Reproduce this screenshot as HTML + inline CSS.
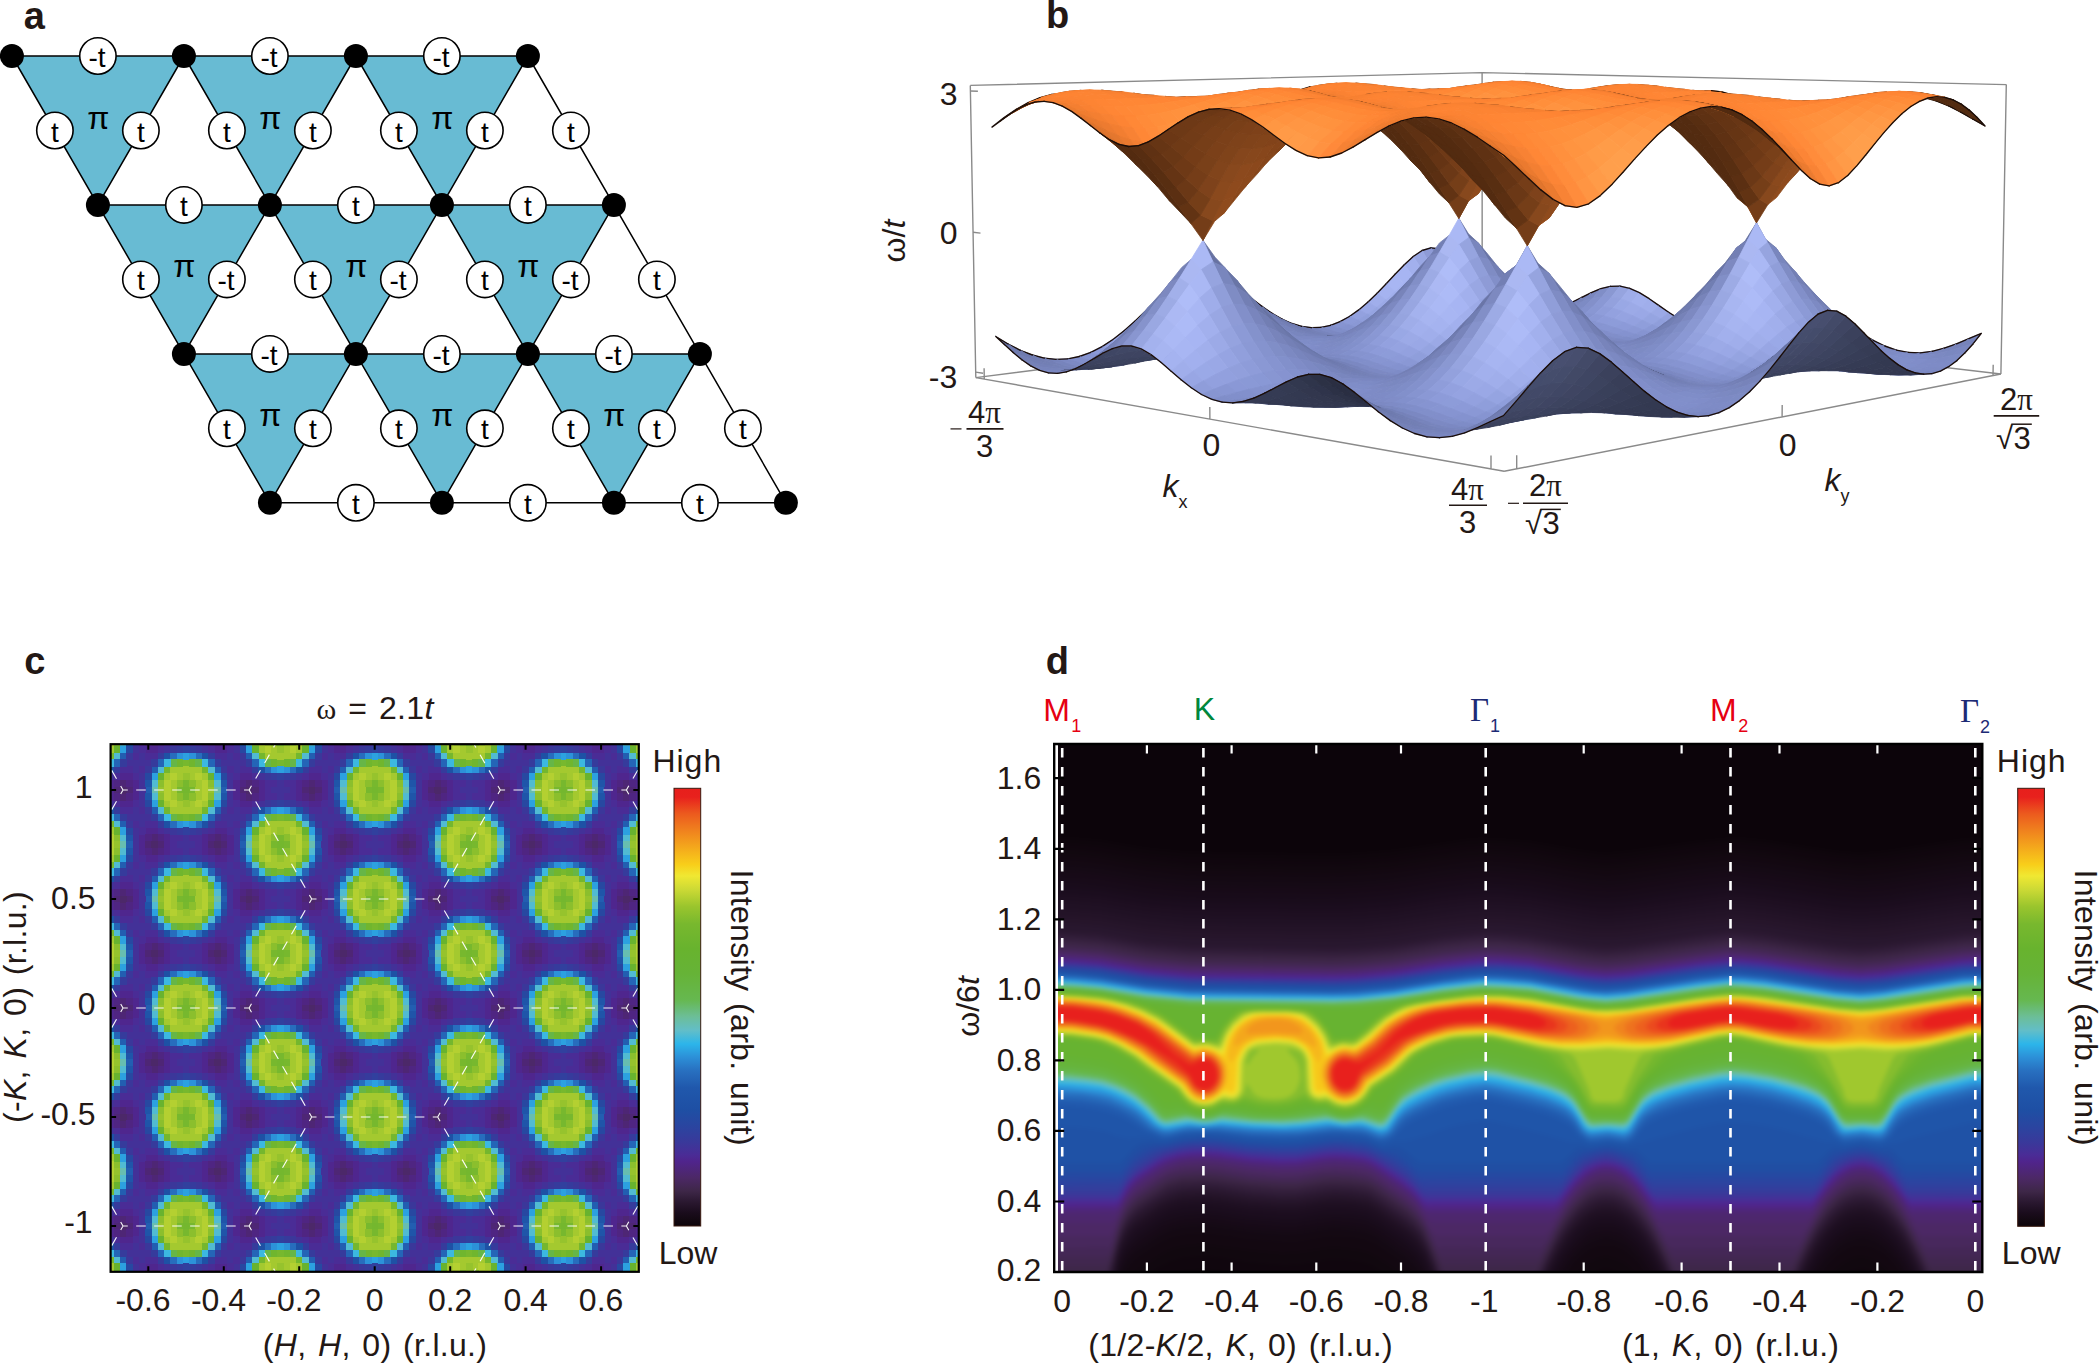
<!DOCTYPE html><html><head><meta charset="utf-8"><title>figure</title><style>html,body{margin:0;padding:0;background:#fff}svg{display:block}text{font-family:"Liberation Sans",sans-serif}</style></head><body>
<svg width="2100" height="1364" viewBox="0 0 2100 1364">
<rect width="2100" height="1364" fill="#fff"/>
<g id="pa">
<path d="M11.9,56 L183.9,56 L97.9,204.9ZM183.9,56 L355.9,56 L269.9,204.9ZM355.9,56 L527.9,56 L441.9,204.9ZM97.9,204.9 L269.9,204.9 L183.9,353.9ZM269.9,204.9 L441.9,204.9 L355.9,353.9ZM441.9,204.9 L613.9,204.9 L527.9,353.9ZM183.9,353.9 L355.9,353.9 L269.9,502.8ZM355.9,353.9 L527.9,353.9 L441.9,502.8ZM527.9,353.9 L699.9,353.9 L613.9,502.8Z" fill="#68bbd3"/>
<path d="M11.9,56 L527.9,56M97.9,204.9 L613.9,204.9M183.9,353.9 L699.9,353.9M269.9,502.8 L785.9,502.8M11.9,56 L269.9,502.8M183.9,56 L441.9,502.8M355.9,56 L613.9,502.8M527.9,56 L785.9,502.8M183.9,56 L97.9,204.9M355.9,56 L183.9,353.9M527.9,56 L269.9,502.8M613.9,204.9 L441.9,502.8M699.9,353.9 L613.9,502.8" stroke="#000" stroke-width="1.5" fill="none"/>
<circle cx="11.9" cy="56" r="12"/>
<circle cx="183.9" cy="56" r="12"/>
<circle cx="355.9" cy="56" r="12"/>
<circle cx="527.9" cy="56" r="12"/>
<circle cx="97.9" cy="204.9" r="12"/>
<circle cx="269.9" cy="204.9" r="12"/>
<circle cx="441.9" cy="204.9" r="12"/>
<circle cx="613.9" cy="204.9" r="12"/>
<circle cx="183.9" cy="353.9" r="12"/>
<circle cx="355.9" cy="353.9" r="12"/>
<circle cx="527.9" cy="353.9" r="12"/>
<circle cx="699.9" cy="353.9" r="12"/>
<circle cx="269.9" cy="502.8" r="12"/>
<circle cx="441.9" cy="502.8" r="12"/>
<circle cx="613.9" cy="502.8" r="12"/>
<circle cx="785.9" cy="502.8" r="12"/>
<g fill="#fff" stroke="#000" stroke-width="1.6">
<circle cx="97.9" cy="56" r="18.2"/>
<circle cx="269.9" cy="56" r="18.2"/>
<circle cx="441.9" cy="56" r="18.2"/>
<circle cx="183.9" cy="204.9" r="18.2"/>
<circle cx="355.9" cy="204.9" r="18.2"/>
<circle cx="527.9" cy="204.9" r="18.2"/>
<circle cx="269.9" cy="353.9" r="18.2"/>
<circle cx="441.9" cy="353.9" r="18.2"/>
<circle cx="613.9" cy="353.9" r="18.2"/>
<circle cx="355.9" cy="502.8" r="18.2"/>
<circle cx="527.9" cy="502.8" r="18.2"/>
<circle cx="699.9" cy="502.8" r="18.2"/>
<circle cx="54.9" cy="130.5" r="18.2"/>
<circle cx="226.9" cy="130.5" r="18.2"/>
<circle cx="398.9" cy="130.5" r="18.2"/>
<circle cx="570.9" cy="130.5" r="18.2"/>
<circle cx="140.9" cy="130.5" r="18.2"/>
<circle cx="312.9" cy="130.5" r="18.2"/>
<circle cx="484.9" cy="130.5" r="18.2"/>
<circle cx="140.9" cy="279.4" r="18.2"/>
<circle cx="312.9" cy="279.4" r="18.2"/>
<circle cx="484.9" cy="279.4" r="18.2"/>
<circle cx="656.9" cy="279.4" r="18.2"/>
<circle cx="226.9" cy="279.4" r="18.2"/>
<circle cx="398.9" cy="279.4" r="18.2"/>
<circle cx="570.9" cy="279.4" r="18.2"/>
<circle cx="226.9" cy="428.3" r="18.2"/>
<circle cx="398.9" cy="428.3" r="18.2"/>
<circle cx="570.9" cy="428.3" r="18.2"/>
<circle cx="742.9" cy="428.3" r="18.2"/>
<circle cx="312.9" cy="428.3" r="18.2"/>
<circle cx="484.9" cy="428.3" r="18.2"/>
<circle cx="656.9" cy="428.3" r="18.2"/>
</g>
<g font-size="28" text-anchor="middle" fill="#000">
<text x="97.1" y="67">-t</text>
<text x="269.1" y="67">-t</text>
<text x="441.1" y="67">-t</text>
<text x="183.9" y="215.9">t</text>
<text x="355.9" y="215.9">t</text>
<text x="527.9" y="215.9">t</text>
<text x="269.1" y="364.9">-t</text>
<text x="441.1" y="364.9">-t</text>
<text x="613.1" y="364.9">-t</text>
<text x="355.9" y="513.8">t</text>
<text x="527.9" y="513.8">t</text>
<text x="699.9" y="513.8">t</text>
<text x="54.9" y="141.5">t</text>
<text x="226.9" y="141.5">t</text>
<text x="398.9" y="141.5">t</text>
<text x="570.9" y="141.5">t</text>
<text x="140.9" y="141.5">t</text>
<text x="312.9" y="141.5">t</text>
<text x="484.9" y="141.5">t</text>
<text x="140.9" y="290.4">t</text>
<text x="312.9" y="290.4">t</text>
<text x="484.9" y="290.4">t</text>
<text x="656.9" y="290.4">t</text>
<text x="226.1" y="290.4">-t</text>
<text x="398.1" y="290.4">-t</text>
<text x="570.1" y="290.4">-t</text>
<text x="226.9" y="439.3">t</text>
<text x="398.9" y="439.3">t</text>
<text x="570.9" y="439.3">t</text>
<text x="742.9" y="439.3">t</text>
<text x="312.9" y="439.3">t</text>
<text x="484.9" y="439.3">t</text>
<text x="656.9" y="439.3">t</text>
</g>
<g font-family="'Liberation Serif',serif" font-size="32" text-anchor="middle" fill="#000">
<text x="98.4" y="128.5">π</text>
<text x="270.4" y="128.5">π</text>
<text x="442.4" y="128.5">π</text>
<text x="184.4" y="277.4">π</text>
<text x="356.4" y="277.4">π</text>
<text x="528.4" y="277.4">π</text>
<text x="270.4" y="426.4">π</text>
<text x="442.4" y="426.4">π</text>
<text x="614.4" y="426.4">π</text>
</g>
</g>
<g id="pb">
<path d="M975.8,377.6L1482.2,313.3M2000.9,374L1482.2,313.3M1482.1,72.6L1482.2,313.3M970.3,85.4L1482.1,72.6M1482.1,72.6L2006.3,84.6M970.3,85.4L975.8,377.6M2006.3,84.6L2000.9,374" stroke="#8a8a8a" stroke-width="1.4" fill="none"/>
<g fill="currentColor" stroke="currentColor" stroke-width="0.8" stroke-linejoin="round">
<path color="#828fc9" d="M1430.8,247.7l8.9,15.7 8.8,0.3-8.9-15.1z"/>
<path d="M1430.9,247.8L1439.6,248.8" stroke="#1a0d08" stroke-width="1.35" fill="none" stroke-linecap="round"/>
<path color="#8e9bd6" d="M1421.9,250.4l9,15.2 8.9-2.3-8.9-15.7z"/>
<path d="M1422.1,250.5L1430.9,247.8" stroke="#1a0d08" stroke-width="1.35" fill="none" stroke-linecap="round"/>
<path color="#99a7e3" d="M1413.1,256.4l8.9,13.7 9-4.6-8.9-15.2z"/>
<path d="M1413.2,256.5L1422.1,250.5" stroke="#1a0d08" stroke-width="1.35" fill="none" stroke-linecap="round"/>
<path color="#a2b0ed" d="M1404.1,264.6l8.9,11.9 9.1-6.5-8.9-13.7z"/>
<path d="M1404.3,264.7L1413.2,256.5" stroke="#1a0d08" stroke-width="1.35" fill="none" stroke-linecap="round"/>
<path color="#a7b5f3" d="M1395.1,274l9,10 9.1-7.6-8.9-11.9z"/>
<path d="M1395.3,274L1404.3,264.7" stroke="#1a0d08" stroke-width="1.35" fill="none" stroke-linecap="round"/>
<path color="#a8b6f3" d="M1386.1,283.8l8.9,8.3 9.2-8.2-8.9-10z"/>
<path d="M1386.2,283.8L1395.3,274" stroke="#1a0d08" stroke-width="1.35" fill="none" stroke-linecap="round"/>
<path color="#a5b3f0" d="M1377,293.3l8.9,6.8 9.3-8.2-9-8.3z"/>
<path d="M1377.1,293.2L1386.2,283.8" stroke="#1a0d08" stroke-width="1.35" fill="none" stroke-linecap="round"/>
<path color="#a0aeeb" d="M1367.8,302.1l8.9,5.6 9.4-7.8-9-6.8z"/>
<path d="M1368,302.1L1377.1,293.2" stroke="#1a0d08" stroke-width="1.35" fill="none" stroke-linecap="round"/>
<path color="#9aa8e6" d="M1358.6,309.9l8.9,4.7 9.4-7-8.9-5.7z"/>
<path d="M1358.7,309.9L1368,302.1" stroke="#1a0d08" stroke-width="1.35" fill="none" stroke-linecap="round"/>
<path color="#93a1df" d="M1349.3,316.5l8.9,4 9.4-6.1-8.9-4.7z"/>
<path d="M1349.4,316.5L1358.7,309.9" stroke="#1a0d08" stroke-width="1.35" fill="none" stroke-linecap="round"/>
<path color="#8c9ad8" d="M1339.9,321.7l8.9,3.4 9.5-4.8-8.9-4z"/>
<path d="M1340,321.7L1349.4,316.5" stroke="#1a0d08" stroke-width="1.35" fill="none" stroke-linecap="round"/>
<path color="#8694d1" d="M1330.4,325.3l8.9,3.2 9.6-3.5-8.9-3.5z"/>
<path d="M1330.6,325.3L1340,321.7" stroke="#1a0d08" stroke-width="1.35" fill="none" stroke-linecap="round"/>
<path color="#818eca" d="M1320.9,327.3l8.8,3.1 9.7-2-8.8-3.2z"/>
<path d="M1321,327.4L1330.6,325.3" stroke="#1a0d08" stroke-width="1.35" fill="none" stroke-linecap="round"/>
<path color="#7c89c3" d="M1311.2,327.7l8.9,3.2 9.8-0.6-8.8-3.1z"/>
<path d="M1311.4,327.7L1321,327.4" stroke="#1a0d08" stroke-width="1.35" fill="none" stroke-linecap="round"/>
<path color="#7683bb" d="M1301.5,326.4l8.9,3.5 9.9,0.9-8.8-3.2z"/>
<path d="M1301.7,326.4L1311.4,327.7" stroke="#1a0d08" stroke-width="1.35" fill="none" stroke-linecap="round"/>
<path color="#717db3" d="M1291.7,323.4l8.8,4.1 10.1,2.3-8.8-3.5z"/>
<path d="M1291.9,323.5L1301.7,326.4" stroke="#1a0d08" stroke-width="1.35" fill="none" stroke-linecap="round"/>
<path color="#6e7aae" d="M1281.8,319l8.8,4.9 10.1,3.6-8.7-4z"/>
<path d="M1282,319.1L1291.9,323.5" stroke="#1a0d08" stroke-width="1.35" fill="none" stroke-linecap="round"/>
<path color="#6c77aa" d="M1271.9,313.2l8.7,5.9 10.3,4.8-8.8-4.8z"/>
<path d="M1272,313.3L1282,319.1" stroke="#1a0d08" stroke-width="1.35" fill="none" stroke-linecap="round"/>
<path color="#6a76a8" d="M1261.8,306.2l8.8,7.3 10.3,5.6-8.8-5.8z"/>
<path d="M1261.9,306.3L1272,313.3" stroke="#1a0d08" stroke-width="1.35" fill="none" stroke-linecap="round"/>
<path color="#6a76a7" d="M1251.6,298.5l8.8,8.8 10.4,6.2-8.7-7.2z"/>
<path d="M1251.7,298.6L1261.9,306.3M1135.4,320.7L1146.3,310.2" stroke="#1a0d08" stroke-width="1.35" fill="none" stroke-linecap="round"/>
<path color="#a0aeeb" d="M1124.2,330.5l8.9,6.3 11.2-8.6-8.9-7.7z"/>
<path d="M1124.4,330.5L1135.4,320.7" stroke="#1a0d08" stroke-width="1.35" fill="none" stroke-linecap="round"/>
<path color="#9aa8e6" d="M1113.1,339.2l8.9,5.3 11.2-7.9-8.8-6.3z"/>
<path d="M1113.3,339.2L1124.4,330.5" stroke="#1a0d08" stroke-width="1.35" fill="none" stroke-linecap="round"/>
<path color="#93a1df" d="M1101.9,346.6l8.8,4.4 11.4-6.7-8.8-5.3z"/>
<path d="M1102.1,346.6L1113.3,339.2" stroke="#1a0d08" stroke-width="1.35" fill="none" stroke-linecap="round"/>
<path color="#8c9ad8" d="M1090.6,352.4l8.8,3.9 11.5-5.4-8.8-4.5z"/>
<path d="M1090.8,352.4L1102.1,346.6" stroke="#1a0d08" stroke-width="1.35" fill="none" stroke-linecap="round"/>
<path color="#8694d1" d="M1079.2,356.5l8.7,3.6 11.7-4-8.8-3.9z"/>
<path d="M1079.4,356.5L1090.8,352.4" stroke="#1a0d08" stroke-width="1.35" fill="none" stroke-linecap="round"/>
<path color="#818eca" d="M1067.7,358.9l8.7,3.5 11.7-2.4-8.7-3.6z"/>
<path d="M1067.8,358.9L1079.4,356.5" stroke="#1a0d08" stroke-width="1.35" fill="none" stroke-linecap="round"/>
<path color="#7c89c3" d="M1056,359.4l8.7,3.6 11.9-0.8-8.7-3.4z"/>
<path d="M1056.1,359.4L1067.8,358.9" stroke="#1a0d08" stroke-width="1.35" fill="none" stroke-linecap="round"/>
<path color="#7683bb" d="M1044.2,358.1l8.6,4 12.1,0.8-8.6-3.6z"/>
<path d="M1044.3,358.1L1056.1,359.4" stroke="#1a0d08" stroke-width="1.35" fill="none" stroke-linecap="round"/>
<path color="#717db3" d="M1032.3,355l8.6,4.6 12.2,2.4-8.6-3.9z"/>
<path d="M1032.4,355L1044.3,358.1" stroke="#1a0d08" stroke-width="1.35" fill="none" stroke-linecap="round"/>
<path color="#6e7aae" d="M1020.2,350.2l8.6,5.5 12.4,3.9-8.7-4.6z"/>
<path d="M1020.3,350.3L1032.4,355" stroke="#1a0d08" stroke-width="1.35" fill="none" stroke-linecap="round"/>
<path color="#6c77aa" d="M1008,344l8.6,6.6 12.5,5.1-8.6-5.4z"/>
<path d="M1008.1,344L1020.3,350.3" stroke="#1a0d08" stroke-width="1.35" fill="none" stroke-linecap="round"/>
<path color="#6a76a8" d="M995.7,336.4l8.6,8.1 12.6,6.1-8.6-6.5z"/>
<path d="M995.8,336.5L1004.4,344.5M995.8,336.5L1008.1,344" stroke="#1a0d08" stroke-width="1.35" fill="none" stroke-linecap="round"/>
<path color="#a1afec" d="M1403.9,283.9l9,10 9.1-6.1-8.9-11.6z"/>
<path color="#a2b0ee" d="M1394.9,291.9l8.9,8.4 9.2-6.6-8.9-10z"/>
<path color="#a0aeeb" d="M1385.8,300l8.9,6.9 9.3-6.7-9-8.4z"/>
<path color="#9ba9e6" d="M1376.6,307.6l8.9,5.6 9.4-6.5-9-6.9z"/>
<path color="#95a4e1" d="M1367.3,314.5l9,4.5 9.4-5.9-9-5.7z"/>
<path color="#8f9edb" d="M1358,320.3l9,3.8 9.4-5.2-8.9-4.6z"/>
<path color="#8a98d5" d="M1348.6,325l9,3.2 9.5-4.3-8.9-3.7z"/>
<path color="#8492cf" d="M1339.1,328.3l9,2.9 9.6-3.2-8.9-3.2z"/>
<path color="#808ec9" d="M1329.6,330.3l8.9,2.7 9.8-2-9-2.8z"/>
<path color="#7c89c3" d="M1320,330.7l8.9,2.9 9.8-0.7-8.9-2.8z"/>
<path color="#7784bc" d="M1310.3,329.8l8.9,3.2 9.9,0.5-8.9-2.9z"/>
<path color="#737fb5" d="M1300.5,327.4l8.8,3.9 10.1,1.6-8.9-3.2z"/>
<path color="#717db2" d="M1290.6,323.7l8.8,4.8 10.2,2.7-8.9-3.8z"/>
<path color="#6f7bb0" d="M1280.6,319l8.9,5.9 10.2,3.6-8.8-4.8z"/>
<path color="#6f7baf" d="M1270.6,313.3l8.8,7.4 10.3,4.2-8.8-6z"/>
<path color="#6f7bb0" d="M1260.4,307.1l8.9,9 10.3,4.5-8.8-7.3z"/>
<path color="#8492cf" d="M1087.8,360l8.8,3.2 11.7-3.6-8.8-3.6z"/>
<path color="#808ec9" d="M1076.3,362.2l8.7,3.1 11.8-2.3-8.7-3.2z"/>
<path color="#7c89c3" d="M1064.6,362.9l8.7,3.2 12-0.9-8.8-3.1z"/>
<path color="#7784bc" d="M1052.8,361.9l8.7,3.7 12.1,0.4-8.7-3.2z"/>
<path color="#737fb5" d="M1040.9,359.5l8.7,4.3 12.2,1.7-8.7-3.6z"/>
<path color="#717db2" d="M1028.8,355.6l8.7,5.3 12.3,2.9-8.6-4.3z"/>
<path color="#6f7bb0" d="M1016.6,350.5l8.7,6.6 12.5,3.8-8.7-5.3z"/>
<path color="#6f7baf" d="M1004.3,344.4l8.7,8.2 12.6,4.5-8.7-6.6z"/>
<path d="M1004.4,344.5L1013.2,352.5" stroke="#1a0d08" stroke-width="1.35" fill="none" stroke-linecap="round"/>
<path color="#7e8cc7" d="M1338.4,332.8l9,1.9 9.7-1.8-9-2z"/>
<path color="#7b88c2" d="M1328.8,333.4l8.9,2.1 9.9-0.9-9-1.9z"/>
<path color="#7885bd" d="M1319.1,332.9l8.9,2.4 9.9,0.1-8.9-2.1z"/>
<path color="#7582b8" d="M1309.3,331.1l8.9,3.2 10,0.9-8.9-2.4z"/>
<path color="#727fb4" d="M1299.4,328.4l8.9,4.1 10.1,1.7-8.9-3.1z"/>
<path color="#727eb4" d="M1289.4,324.7l9,5.4 10.1,2.3-8.8-4.1z"/>
<path color="#737fb5" d="M1279.4,320.5l9,6.7 10.2,2.8-8.9-5.3z"/>
<path color="#7480b7" d="M1269.2,315.9l9,8.3 10.3,3-8.9-6.8z"/>
<path color="#7b88c2" d="M1073.3,366l8.8,2.3 11.9-1.1-8.8-2.1z"/>
<path color="#7885bd" d="M1061.5,365.5l8.7,2.8 12.1-0.1-8.7-2.3z"/>
<path color="#7582b8" d="M1049.5,363.7l8.8,3.6 12.2,0.9-8.7-2.8z"/>
<path color="#727fb4" d="M1037.5,360.8l8.8,4.6 12.3,1.8-8.8-3.5z"/>
<path color="#727eb4" d="M1025.3,356.9l8.8,6 12.4,2.5-8.7-4.6z"/>
<path color="#737fb5" d="M1013,352.4l8.8,7.5 12.5,3-8.7-6z"/>
<path d="M1013.2,352.5L1021.9,359.8" stroke="#1a0d08" stroke-width="1.35" fill="none" stroke-linecap="round"/>
<path color="#7884bd" d="M1327.9,335.2l9,1.2 10-0.4-9-0.8z"/>
<path color="#7683ba" d="M1318.1,334.1l9,2 10,0.2-8.9-1.2z"/>
<path color="#7581b8" d="M1308.3,332.3l9,3 10.1,0.7-9-1.9z"/>
<path color="#7480b7" d="M1298.3,329.9l9,4.2 10.2,1.1-9-3z"/>
<path color="#7582b8" d="M1288.3,327l9,5.6 10.2,1.4-9-4.2z"/>
<path color="#7784bc" d="M1278.1,324l9.1,7.1 10.3,1.4-9-5.6z"/>
<path color="#7987bf" d="M1267.9,321.1l9.1,8.6 10.4,1.3-9.1-7.1z"/>
<path color="#7884bd" d="M1070.2,368.2l8.8,1.4 12.1-0.6-8.8-0.8z"/>
<path color="#7683ba" d="M1058.3,367.2l8.8,2.2 12.2,0.1-8.8-1.4z"/>
<path color="#7581b8" d="M1046.2,365.3l8.8,3.3 12.4,0.7-8.8-2.2z"/>
<path color="#7480b7" d="M1034.1,362.8l8.8,4.7 12.4,1.1-8.8-3.3z"/>
<path color="#7582b8" d="M1021.8,359.8l8.8,6.2 12.6,1.4-8.9-4.7z"/>
<path d="M1021.9,359.8L1030.7,365.9" stroke="#1a0d08" stroke-width="1.35" fill="none" stroke-linecap="round"/>
<path color="#323850" d="M1327.1,336l8.9,0.3 10.1-0.5-9,0.5z"/>
<path color="#7683ba" d="M1317.2,335.1l9,1.4 10.1-0.3-8.9-0.2z"/>
<path color="#7784bb" d="M1307.2,333.9l9.1,2.7 10.2-0.2-9-1.3z"/>
<path color="#7784bc" d="M1297.2,332.4l9.1,4.1 10.2,0-9-2.7z"/>
<path color="#7986be" d="M1287.1,330.9l9.1,5.5 10.3,0-9.1-4.1z"/>
<path color="#7c89c3" d="M1276.9,329.5l9.1,6.9 10.4-0.1-9.1-5.5z"/>
<path color="#7885bd" d="M1102.5,367.9l8.9-1.1 11.9-1.7-8.9,0.9z"/>
<path color="#353a53" d="M1090.8,369.1l8.8-1 12.1-1.3-8.9,1.1z"/>
<path color="#343952" d="M1079,369.5l8.8-0.4 12.1-1-8.8,0.9z"/>
<path color="#7682ba" d="M1067.1,369.3l8.8,0.5 12.2-0.7-8.8,0.4z"/>
<path color="#7683ba" d="M1055,368.5l8.9,1.7 12.3-0.5-8.8-0.4z"/>
<path color="#7784bb" d="M1042.9,367.3l8.8,3.1 12.5-0.3-8.9-1.6z"/>
<path color="#7784bc" d="M1030.6,365.9l8.9,4.6 12.5-0.2-8.9-3z"/>
<path d="M1030.7,365.9L1039.6,370.3" stroke="#1a0d08" stroke-width="1.35" fill="none" stroke-linecap="round"/>
<path color="#7885bd" d="M1316.2,336.5l9.1,0.9 10.2-1.5-9,0.5z"/>
<path color="#7a87c0" d="M1306.2,336.4l9.2,2.3 10.2-1.5-9.1-0.9z"/>
<path color="#7c89c3" d="M1296.1,336.2l9.2,3.8 10.3-1.5-9.2-2.3z"/>
<path color="#7d8ac4" d="M1285.9,336.2l9.2,5.1 10.4-1.5-9.2-3.7z"/>
<path color="#7885be" d="M1145.9,360.7l8.9-1.5 11.6-1.5-9,0.3z"/>
<path color="#373d56" d="M1134.5,363.1l8.9-2.5 11.7-1.5-8.9,1.6z"/>
<path color="#383e58" d="M1123,365.1l8.9-3 11.8-1.5-8.9,2.5z"/>
<path color="#383e59" d="M1111.4,366.8l8.9-3.3 11.9-1.4-9,3.1z"/>
<path color="#383e58" d="M1099.6,368.1l8.9-3.1 12-1.4-8.9,3.3z"/>
<path color="#373d57" d="M1087.8,369.1l8.9-2.5 12.1-1.5-8.9,3.1z"/>
<path color="#363c56" d="M1075.9,369.8l8.9-1.6 12.2-1.6-8.9,2.5z"/>
<path color="#353a53" d="M1063.9,370.1l8.8-0.4 12.4-1.5-8.9,1.6z"/>
<path color="#7885bd" d="M1051.7,370.3l8.9,1.1 12.4-1.7-8.8,0.4z"/>
<path color="#7a87c0" d="M1039.5,370.3l8.9,2.7 12.5-1.7-8.9-1.1z"/>
<path d="M1039.6,370.3L1048.5,372.9" stroke="#1a0d08" stroke-width="1.35" fill="none" stroke-linecap="round"/>
<path color="#7784bb" d="M1325.3,337.3l9.1-1 10.2-2.8-9.1,2.5z"/>
<path color="#7a87c1" d="M1315.3,338.5l9.2,0.5 10.2-2.9-9.2,1z"/>
<path color="#7d8bc5" d="M1305.2,339.8l9.2,1.9 10.3-2.9-9.2-0.4z"/>
<path color="#7f8dc8" d="M1295,341.1l9.2,3.2 10.4-2.8-9.2-1.8z"/>
<path color="#808ec9" d="M1284.7,342.4l9.3,4.3 10.4-2.6-9.2-3.1z"/>
<path color="#383e58" d="M1154.8,359.2l9.1-3.8 11.5-0.2-9,2.6z"/>
<path color="#39405a" d="M1143.4,360.7l9-4.8 11.7-0.4-9,3.8z"/>
<path color="#3a415c" d="M1131.9,362.2l9-5.4 11.7-0.8-9,4.8z"/>
<path color="#3b415d" d="M1120.2,363.7l9-5.7 11.9-1.2-9,5.4z"/>
<path color="#3b425d" d="M1108.5,365.2l9-5.5 12-1.6-9,5.6z"/>
<path color="#3b415d" d="M1096.7,366.7l9-4.8 12-2.1-8.9,5.4z"/>
<path color="#3a405b" d="M1084.8,368.2l8.9-3.8 12.2-2.5-8.9,4.8z"/>
<path color="#383e59" d="M1072.7,369.8l9-2.6 12.3-2.8-8.9,3.8z"/>
<path color="#363c56" d="M1060.6,371.3l8.9-1 12.5-3.1-9,2.5z"/>
<path color="#7a87c1" d="M1048.4,372.9l8.9,0.5 12.5-3.2-8.9,1z"/>
<path d="M1048.5,372.9L1057.5,373.4" stroke="#1a0d08" stroke-width="1.35" fill="none" stroke-linecap="round"/>
<path color="#7885be" d="M1324.4,338.9l9.2-1.4 10.2-4.3-9.1,2.9z"/>
<path color="#7c8ac4" d="M1314.3,341.5l9.3,0.1 10.2-4.3-9.2,1.4z"/>
<path color="#7f8dc8" d="M1304.1,344.1l9.3,1.4 10.4-4.1-9.3,0z"/>
<path color="#818fca" d="M1293.9,346.6l9.3,2.4 10.4-3.7-9.3-1.3z"/>
<path color="#3d4360" d="M1140.8,356.9l9.1-7.7 11.8-0.1-9.1,7.1z"/>
<path color="#3e4461" d="M1129.2,358.2l9-8 11.9-0.9-9.1,7.7z"/>
<path color="#3e4461" d="M1117.5,359.9l9-7.8 11.9-1.8-9,8z"/>
<path color="#3e4461" d="M1105.6,362l9.1-7.1 12-2.7-9,7.8z"/>
<path color="#3d4360" d="M1093.7,364.5l9-6.1 12.2-3.5-9,7.2z"/>
<path color="#3c425e" d="M1081.7,367.3l8.9-4.7 12.3-4.1-8.9,6z"/>
<path color="#3a405c" d="M1069.5,370.3l9-3.1 12.4-4.6-8.9,4.7z"/>
<path color="#7885be" d="M1057.3,373.4l9-1.4 12.5-4.9-9,3.1z"/>
<path d="M1057.5,373.4L1066.4,371.9" stroke="#1a0d08" stroke-width="1.35" fill="none" stroke-linecap="round"/>
<path color="#7682b9" d="M1333.6,337.4l9.3-3 10.2-5.8-9.3,4.6z"/>
<path color="#7a87c0" d="M1323.5,341.5l9.3-1.6 10.3-5.7-9.3,3z"/>
<path color="#7e8bc5" d="M1313.3,345.3l9.4-0.2 10.3-5.3-9.3,1.5z"/>
<path color="#808dc9" d="M1303,348.8l9.4,0.8 10.4-4.7-9.3,0.3z"/>
<path color="#808eca" d="M1292.7,351.8l9.4,1.6 10.5-4-9.4-0.7z"/>
<path color="#404764" d="M1138.2,350.4l9.1-10.4 11.8-0.6-9.1,10.1z"/>
<path color="#404765" d="M1126.4,352.3l9.1-10.1 12-2.1-9.1,10.4z"/>
<path color="#404765" d="M1114.6,355.1l9.1-9.4 12-3.5-9.1,10.2z"/>
<path color="#3f4664" d="M1102.7,358.6l9-8.2 12.2-4.7-9.1,9.4z"/>
<path color="#3e4562" d="M1090.7,362.7l9-6.6 12.3-5.6-9.1,8.1z"/>
<path color="#3d4360" d="M1078.5,367.2l9.1-4.9 12.3-6.2-9,6.6z"/>
<path d="M1066.4,371.9L1075.5,368.6" stroke="#1a0d08" stroke-width="1.35" fill="none" stroke-linecap="round"/>
<path color="#737fb5" d="M1342.8,334.4l9.4-4.2 10.2-7.5-9.3,5.9z"/>
<path color="#7885bd" d="M1332.7,339.9l9.4-2.8 10.3-7.2-9.4,4.3z"/>
<path color="#7c89c2" d="M1322.5,345l9.5-1.5 10.3-6.6-9.4,2.8z"/>
<path color="#7e8bc6" d="M1312.3,349.5l9.4-0.5 10.4-5.7-9.4,1.5z"/>
<path color="#7f8cc7" d="M1302,353.3l9.4,0.2 10.5-4.7-9.4,0.5z"/>
<path color="#414866" d="M1111.7,350.6l9.1-10 12.1-6.1-9.1,11.5z"/>
<path color="#404765" d="M1099.7,356.2l9.1-8.3 12.2-7.3-9.1,10z"/>
<path color="#3e4562" d="M1087.6,362.4l9-6.4 12.4-8.1-9,8.3z"/>
<path d="M1075.5,368.6L1084.6,364" stroke="#1a0d08" stroke-width="1.35" fill="none" stroke-linecap="round"/>
<path color="#7783ba" d="M1564,308.3l9.5-3.3 8.5-7.7-9.6,4.6z"/>
<path d="M1572.5,302L1581.9,297.3" stroke="#1a0d08" stroke-width="1.35" fill="none" stroke-linecap="round"/>
<path color="#727eb3" d="M1352.1,330.1l9.5-4.9 10.1-9.1-9.4,6.6z"/>
<path color="#7783ba" d="M1342,337l9.5-3.5 10.2-8.6-9.4,5z"/>
<path color="#7a88c0" d="M1331.9,343.4l9.5-2.3 10.3-7.8-9.5,3.5z"/>
<path color="#7d8ac4" d="M1321.6,348.9l9.5-1.3 10.4-6.7-9.5,2.3z"/>
<path color="#7e8bc6" d="M1311.3,353.4l9.5-0.6 10.5-5.4-9.5,1.3z"/>
<path color="#7d8ac5" d="M1300.8,356.8l9.5-0.2 10.6-4-9.4,0.6z"/>
<path color="#727eb3" d="M1084.5,364.1l9.2-5.3 12.4-10.2-9.2,7.3z"/>
<path d="M1084.6,364L1093.8,358.7" stroke="#1a0d08" stroke-width="1.35" fill="none" stroke-linecap="round"/>
<path color="#7784bb" d="M1573.3,305l9.6-3.4 8.5-9-9.6,4.6z"/>
<path d="M1581.9,297.3L1591.3,292.7" stroke="#1a0d08" stroke-width="1.35" fill="none" stroke-linecap="round"/>
<path color="#7b88c1" d="M1564.9,311.8l9.5-2.4 8.6-8-9.6,3.3z"/>
<path color="#6d79ac" d="M1371.5,316.3l9.5-6.7 10.1-11-9.5,8.6z"/>
<path color="#727fb4" d="M1361.5,325.1l9.6-5 10.1-10.7-9.6,6.6z"/>
<path color="#7784bb" d="M1351.4,333.5l9.6-3.6 10.2-10-9.6,5z"/>
<path color="#7b88c1" d="M1341.2,341l9.6-2.4 10.3-8.9-9.5,3.5z"/>
<path color="#7d8bc4" d="M1331,347.5l9.6-1.6 10.4-7.5-9.6,2.4z"/>
<path color="#7e8bc6" d="M1320.7,352.7l9.5-1 10.5-6-9.5,1.6z"/>
<path color="#7d8ac4" d="M1310.2,356.5l9.6-0.6 10.6-4.3-9.6,0.9z"/>
<path color="#6d79ac" d="M1105.8,348.8l9.3-7.2 12.3-12.3-9.2,9.4z"/>
<path color="#727fb4" d="M1093.6,358.7l9.4-5.3 12.3-12-9.2,7.2z"/>
<path d="M1093.8,358.7L1103,353.2" stroke="#1a0d08" stroke-width="1.35" fill="none" stroke-linecap="round"/>
<path color="#7a87bf" d="M1582.8,301.5l9.6-2.7 8.5-10.2-9.6,3.9z"/>
<path d="M1591.3,292.7L1600.8,288.7" stroke="#1a0d08" stroke-width="1.35" fill="none" stroke-linecap="round"/>
<path color="#7d8bc4" d="M1574.3,309.3l9.6-1.9 8.6-8.9-9.6,2.8z"/>
<path color="#7f8dc7" d="M1565.8,315.9l9.6-1.3 8.7-7.4-9.7,1.9z"/>
<path color="#6a75a7" d="M1390.9,298.9l9.6-7.6 10-13-9.6,9.9z"/>
<path color="#707cb0" d="M1381,309.6l9.6-5.7 10-12.9-9.6,7.6z"/>
<path color="#7682b8" d="M1371,320.1l9.6-4.2 10.1-12.3-9.6,5.7z"/>
<path color="#7a87bf" d="M1360.9,329.8l9.6-2.9 10.2-11.2-9.6,4.1z"/>
<path color="#7d8bc4" d="M1350.7,338.5l9.7-2 10.3-9.8-9.7,2.9z"/>
<path color="#7f8dc7" d="M1340.5,345.9l9.6-1.3 10.4-8.3-9.6,2z"/>
<path color="#7f8dc8" d="M1330.1,351.7l9.7-0.8 10.5-6.5-9.7,1.2z"/>
<path color="#7e8bc6" d="M1319.7,355.8l9.6-0.5 10.6-4.6-9.6,0.8z"/>
<path color="#7a88c1" d="M1309.2,358.1l9.6-0.4 10.7-2.6-9.6,0.5z"/>
<path color="#6a75a7" d="M1127.2,329.5l9.4-8.3 12.1-14.4-9.3,11z"/>
<path color="#707cb0" d="M1115.1,341.6l9.4-6.2 12.2-14.4-9.3,8.3z"/>
<path color="#7682b8" d="M1102.9,353.3l9.4-4.5 12.4-13.6-9.4,6.1z"/>
<path d="M1103,353.2L1112.4,348.7" stroke="#1a0d08" stroke-width="1.35" fill="none" stroke-linecap="round"/>
<path color="#808ec7" d="M1592.3,298.7l9.7-1.6 8.5-10.9-9.7,2.4z"/>
<path d="M1600.8,288.7L1610.4,286.3" stroke="#1a0d08" stroke-width="1.35" fill="none" stroke-linecap="round"/>
<path color="#8390ca" d="M1583.8,307.3l9.7-0.9 8.6-9.5-9.7,1.6z"/>
<path color="#8391cc" d="M1575.3,314.6l9.7-0.6 8.6-7.8-9.7,0.9z"/>
<path color="#6a75a7" d="M1410.3,278.5l9.7-7.3 9.9-15-9.7,10.3z"/>
<path color="#717eb2" d="M1400.4,291.2l9.7-5.2 10-15-9.7,7.3z"/>
<path color="#7884ba" d="M1390.5,303.8l9.7-3.6 10.1-14.4-9.8,5.2z"/>
<path color="#7d89c1" d="M1380.5,315.9l9.7-2.5 10.1-13.4-9.7,3.6z"/>
<path color="#808ec7" d="M1370.4,326.8l9.7-1.6 10.2-12.1-9.7,2.5z"/>
<path color="#8390ca" d="M1360.2,336.4l9.8-0.9 10.3-10.5-9.8,1.6z"/>
<path color="#8391cc" d="M1350,344.5l9.7-0.5 10.4-8.7-9.7,0.9z"/>
<path color="#8290cb" d="M1339.6,350.8l9.8-0.1 10.5-6.9-9.8,0.5z"/>
<path color="#808dc8" d="M1329.2,355.2l9.7,0.1 10.7-4.8-9.8,0.1z"/>
<path color="#7c89c3" d="M1318.7,357.6l9.7,0.2 10.7-2.7-9.7-0.1z"/>
<path color="#7683bb" d="M1308.1,358l9.6,0.1 10.9-0.5-9.6-0.1z"/>
<path color="#6a75a7" d="M1148.5,307.1l9.5-8 12-16.8-9.4,11.4z"/>
<path color="#717eb2" d="M1136.5,321.2l9.6-5.6 12.1-16.8-9.5,8z"/>
<path color="#7884ba" d="M1124.4,335.4l9.6-3.9 12.2-16.1-9.5,5.6z"/>
<path color="#7d89c1" d="M1112.3,348.8l9.5-2.6 12.3-15-9.5,3.9z"/>
<path d="M1112.4,348.7L1121.9,346" stroke="#1a0d08" stroke-width="1.35" fill="none" stroke-linecap="round"/>
<path color="#8a98d2" d="M1601.8,297.1l9.8,0.1 8.5-11.2-9.7,0.2z"/>
<path d="M1610.4,286.3L1620,286.1" stroke="#1a0d08" stroke-width="1.35" fill="none" stroke-linecap="round"/>
<path color="#8a98d4" d="M1593.4,306.3l9.7,0.4 8.6-9.7-9.8-0.2z"/>
<path color="#8997d3" d="M1584.8,313.9l9.8,0.6 8.7-8-9.8-0.4z"/>
<path color="#8694d0" d="M1576.2,319.9l9.8,0.7 8.7-6.3-9.8-0.6z"/>
<path color="#737fb4" d="M1429.7,256.4l9.8-3.9 9.8-17.2-9.8,7.6z"/>
<path color="#7d89c0" d="M1419.9,271.2l9.8-2.2 9.9-16.7-9.8,3.8z"/>
<path color="#828fc7" d="M1410,286l9.9-1.2 9.9-16.1-9.8,2.2z"/>
<path color="#8693cc" d="M1400.1,300.2l9.8-0.6 10.1-15.1-9.9,1.2z"/>
<path color="#8996d0" d="M1390.1,313.3l9.8-0.1 10.2-13.8-9.9,0.5z"/>
<path color="#8a98d2" d="M1380,325.1l9.8,0.3 10.3-12.4-9.9,0.1z"/>
<path color="#8a98d4" d="M1369.9,335.4l9.8,0.5 10.3-10.7-9.8-0.3z"/>
<path color="#8997d3" d="M1359.6,343.9l9.8,0.8 10.4-9-9.8-0.5z"/>
<path color="#8694d0" d="M1349.3,350.5l9.8,0.9 10.5-6.9-9.8-0.8z"/>
<path color="#8290cc" d="M1338.8,355.2l9.8,0.9 10.6-4.8-9.8-0.9z"/>
<path color="#7e8bc6" d="M1328.3,357.7l9.8,1 10.7-2.7-9.8-1z"/>
<path color="#7885bd" d="M1317.7,358l9.7,1 10.9-0.4-9.8-1.1z"/>
<path color="#737fb4" d="M1169.8,282.5l9.7-4.1 11.9-19.2-9.7,8.3z"/>
<path color="#7d89c0" d="M1157.9,299l9.7-2.3 12-18.6-9.7,4.2z"/>
<path color="#828fc7" d="M1146,315.6l9.7-1.2 12.1-17.9-9.7,2.3z"/>
<path color="#8693cc" d="M1133.9,331.4l9.7-0.5 12.2-16.8-9.7,1.2z"/>
<path color="#8996d0" d="M1121.7,346.1l9.7,0.1 12.3-15.5-9.6,0.5z"/>
<path d="M1121.9,346L1131.4,346" stroke="#1a0d08" stroke-width="1.35" fill="none" stroke-linecap="round"/>
<path color="#96a4df" d="M1611.5,297.1l9.8,2.1 8.5-11-9.8-2.3z"/>
<path d="M1620,286.1L1629.7,288.3" stroke="#1a0d08" stroke-width="1.35" fill="none" stroke-linecap="round"/>
<path color="#93a1dd" d="M1603,306.6l9.8,1.9 8.6-9.5-9.8-2.1z"/>
<path color="#8f9dda" d="M1594.5,314.4l9.8,1.8 8.7-7.9-9.9-1.9z"/>
<path color="#8a98d5" d="M1585.9,320.4l9.9,1.8 8.6-6.2-9.8-1.8z"/>
<path color="#8593cf" d="M1577.2,324.6l9.9,1.7 8.8-4.3-9.9-1.7z"/>
<path color="#6772a2" d="M1458.8,218.2l9.9,19.8 9.7,5-10-9.2z"/>
<path color="#abb9f5" d="M1449.1,235.5l9.9,9.4 9.8-7-10-19.7z"/>
<path color="#abb8f2" d="M1439.4,252.4l9.9,5.9 9.9-13.5-10-9.5z"/>
<path color="#a2b0ea" d="M1429.6,268.9l9.9,4.3 9.9-15.1-9.9-5.9z"/>
<path color="#9dabe5" d="M1419.7,284.7l10,3.5 9.9-15.2-9.9-4.3z"/>
<path color="#9aa8e2" d="M1409.8,299.5l9.9,3 10.1-14.5-9.9-3.5z"/>
<path color="#98a6e1" d="M1399.8,313.1l9.9,2.6 10.2-13.4-10-3z"/>
<path color="#96a4df" d="M1389.7,325.3l9.9,2.4 10.3-12.2-10-2.6z"/>
<path color="#93a1dd" d="M1379.6,335.8l9.9,2.2 10.3-10.5-9.9-2.4z"/>
<path color="#8f9dda" d="M1369.3,344.6l9.9,2.1 10.4-8.9-9.9-2.2z"/>
<path color="#8a98d5" d="M1359,351.3l9.9,2.1 10.5-6.9-9.9-2.1z"/>
<path color="#8593cf" d="M1348.5,356l9.9,2 10.6-4.8-9.9-2.1z"/>
<path color="#7f8dc8" d="M1338,358.6l9.9,2 10.7-2.7-9.9-2.1z"/>
<path color="#7986bf" d="M1327.4,358.9l9.8,2.1 10.9-0.6-9.9-2z"/>
<path color="#727fb5" d="M1316.6,357l9.8,2.1 11,1.7-9.7-1.9z"/>
<path color="#6772a2" d="M1202.9,240.2l10,22 11.9,5.4-9.8-10.4z"/>
<path color="#abb9f5" d="M1191.1,259.4l10,10.6 12-7.9-10.2-21.9z"/>
<path color="#abb8f2" d="M1179.4,278.3l9.9,6.6 12-15.1-10-10.6z"/>
<path color="#a2b0ea" d="M1167.5,296.7l9.9,4.9 12.1-16.9-10-6.6z"/>
<path color="#9dabe5" d="M1155.6,314.3l9.8,4 12.2-17-9.9-4.9z"/>
<path color="#9aa8e2" d="M1143.5,330.8l9.8,3.4 12.3-16.2-9.9-3.9z"/>
<path color="#98a6e1" d="M1131.3,346.1l9.8,3 12.4-15.1-9.9-3.4z"/>
<path d="M1131.4,346L1141.2,348.9" stroke="#1a0d08" stroke-width="1.35" fill="none" stroke-linecap="round"/>
<path color="#9fade9" d="M1621.1,299.1l10,3.8 8.5-10.3-9.9-4.5z"/>
<path d="M1629.7,288.3L1639.4,292.7" stroke="#1a0d08" stroke-width="1.35" fill="none" stroke-linecap="round"/>
<path color="#99a8e5" d="M1612.7,308.4l9.9,3.3 8.6-9-9.9-3.8z"/>
<path color="#93a1df" d="M1604.2,316.1l9.9,2.9 8.6-7.5-9.9-3.3z"/>
<path color="#8d9bd9" d="M1595.6,322.1l9.9,2.7 8.7-5.9-9.9-3z"/>
<path color="#8694d1" d="M1587,326.2l9.9,2.5 8.8-4.1-10-2.7z"/>
<path color="#6975a6" d="M1478.2,242.8l9.9,16.7 9.6,7.1-10-12.5z"/>
<path color="#7986bd" d="M1468.6,237.8l10,19.5 9.6,2.1-10-16.6z"/>
<path color="#96a4df" d="M1458.9,244.7l10,16.8 9.8-4.3-10-19.5z"/>
<path color="#aab8f4" d="M1449.1,258.2l10.1,12.6 9.9-9.4-10.1-16.8z"/>
<path color="#afbdf8" d="M1439.4,273.1l10,9.6 9.9-12.1-10-12.6z"/>
<path color="#acb9f4" d="M1429.5,288.1l10,7.5 10-13.1-10-9.6z"/>
<path color="#a8b6f1" d="M1419.6,302.4l10,6.1 10.1-13.1-10-7.5z"/>
<path color="#a4b2ee" d="M1409.6,315.6l10,5.1 10.2-12.4-10.1-6.1z"/>
<path color="#9fade9" d="M1399.5,327.6l10,4.3 10.2-11.4-10-5.1z"/>
<path color="#99a8e5" d="M1389.3,337.9l10,3.8 10.4-10-10.1-4.3z"/>
<path color="#93a1df" d="M1379.1,346.5l10,3.4 10.4-8.4-10-3.8z"/>
<path color="#8d9bd9" d="M1368.7,353.2l10,3.1 10.5-6.6-10-3.3z"/>
<path color="#8694d1" d="M1358.3,357.9l10,2.9 10.6-4.7-10-3z"/>
<path color="#808eca" d="M1347.8,360.4l10,2.9 10.7-2.6-10-3z"/>
<path color="#7a88c1" d="M1337.1,360.8l10,3 10.8-0.6-9.9-2.9z"/>
<path color="#7480b7" d="M1326.4,359l9.9,3.2 11,1.5-9.9-3z"/>
<path color="#616c9a" d="M1236.4,279.8l10,13.9 11.8,10.5-9.9-10.3z"/>
<path color="#6975a6" d="M1224.6,267.4l10.1,18.5 11.9,7.8-10-13.9z"/>
<path color="#7986bd" d="M1212.8,262l10.2,21.6 11.9,2.3-10.1-18.5z"/>
<path color="#96a4df" d="M1201,269.8l10.1,18.6 12-4.8-10.2-21.7z"/>
<path color="#aab8f4" d="M1189.2,284.7l10.1,14.1 12-10.5-10.2-18.6z"/>
<path color="#afbdf8" d="M1177.3,301.4l10,10.8 12.1-13.5-10.1-14.1z"/>
<path color="#acb9f4" d="M1165.3,318.1l10,8.5 12.2-14.6-10.1-10.7z"/>
<path color="#a8b6f1" d="M1153.2,334.1l10,6.9 12.3-14.6-10-8.4z"/>
<path color="#a4b2ee" d="M1141,349l10,5.8 12.4-13.9-10-7z"/>
<path d="M1141.2,348.9L1151,354.6" stroke="#1a0d08" stroke-width="1.35" fill="none" stroke-linecap="round"/>
<path color="#a2b0ed" d="M1630.9,302.8l10,5.1 8.5-9.2-10-6.2z"/>
<path d="M1639.4,292.7L1649.2,298.7" stroke="#1a0d08" stroke-width="1.35" fill="none" stroke-linecap="round"/>
<path color="#9caae7" d="M1622.4,311.6l10,4.3 8.6-8.2-10-5.1z"/>
<path color="#95a3e1" d="M1613.9,318.9l10,3.7 8.7-6.9-10-4.3z"/>
<path color="#8d9cd9" d="M1605.4,324.6l10,3.4 8.7-5.5-10.1-3.8z"/>
<path color="#8795d2" d="M1596.7,328.6l10.1,3.1 8.7-3.9-10-3.3z"/>
<path color="#818fca" d="M1588.1,330.7l10,3.1 8.8-2.2-10.1-3.2z"/>
<path color="#6b77a9" d="M1497.5,266.4l10.1,14.9 9.4,6.9-10-12.3z"/>
<path color="#737fb4" d="M1488,259.2l10.1,17.6 9.5,4.5-10-15z"/>
<path color="#7f8cc4" d="M1478.5,257l10,18.8 9.7,0.9-10.1-17.5z"/>
<path color="#909ed9" d="M1468.8,261.3l10.1,17.6 9.7-3.2-10-18.7z"/>
<path color="#9fadea" d="M1459,270.6l10.2,15.1 9.8-6.8-10.1-17.7z"/>
<path color="#a9b7f4" d="M1449.3,282.6l10.1,12.4 9.9-9.4-10.1-15.1z"/>
<path color="#adbbf7" d="M1439.4,295.5l10.1,10.2 10-10.8-10.1-12.5z"/>
<path color="#abb9f5" d="M1429.5,308.4l10.1,8.3 10.1-11.2-10.2-10.2z"/>
<path color="#a7b5f1" d="M1419.5,320.6l10.1,6.9 10.1-11-10.1-8.3z"/>
<path color="#a2b0ed" d="M1409.4,331.8l10.1,5.7 10.2-10.2-10.1-6.9z"/>
<path color="#9caae7" d="M1399.2,341.6l10.1,4.8 10.3-9.1-10.1-5.7z"/>
<path color="#95a3e1" d="M1388.9,349.8l10.1,4.2 10.4-7.8-10.1-4.8z"/>
<path color="#8d9cd9" d="M1378.6,356.2l10.1,3.8 10.5-6.2-10.1-4.2z"/>
<path color="#8795d2" d="M1368.2,360.7l10,3.5 10.6-4.4-10-3.8z"/>
<path color="#818fca" d="M1357.6,363.2l10.1,3.5 10.7-2.6-10.1-3.6z"/>
<path color="#7b88c2" d="M1347,363.6l10.1,3.6 10.8-0.7-10.1-3.5z"/>
<path color="#7582b9" d="M1336.3,362l10,3.9 10.9,1.2-10-3.6z"/>
<path color="#6f7baf" d="M1325.4,358.4l10,4.4 11.1,3-10-3.8z"/>
<path color="#646f9e" d="M1269.5,315.3l10,11 11.7,9.1-10-8.8z"/>
<path color="#6772a2" d="M1258,304l10.1,13.6 11.7,8.7-10-11z"/>
<path color="#6b77a9" d="M1246.4,293.5l10.1,16.6 11.7,7.5-10-13.6z"/>
<path color="#737fb4" d="M1234.7,285.7l10.1,19.5 11.8,4.9-10.1-16.7z"/>
<path color="#7f8cc4" d="M1222.9,283.4l10.2,20.8 11.9,1-10.2-19.5z"/>
<path color="#909ed9" d="M1211,288.2l10.2,19.7 12-3.7-10.2-20.9z"/>
<path color="#9fadea" d="M1199.1,298.6l10.2,16.9 12.1-7.7-10.2-19.7z"/>
<path color="#a9b7f4" d="M1187.2,312l10.2,14 12.1-10.6-10.2-16.9z"/>
<path color="#adbbf7" d="M1175.2,326.5l10.1,11.4 12.2-12.1-10.1-13.9z"/>
<path color="#abb9f5" d="M1163.1,340.9l10.1,9.4 12.3-12.6-10.2-11.4z"/>
<path color="#a7b5f1" d="M1150.8,354.6l10.1,7.8 12.4-12.3-10.1-9.3z"/>
<path d="M1151,354.6L1160.9,362.3" stroke="#1a0d08" stroke-width="1.35" fill="none" stroke-linecap="round"/>
<path color="#a0aeeb" d="M1640.7,307.8l10,5.7 8.6-7.9-10.1-7z"/>
<path d="M1649.2,298.7L1659.1,305.6" stroke="#1a0d08" stroke-width="1.35" fill="none" stroke-linecap="round"/>
<path color="#9aa8e6" d="M1632.3,315.8l10,4.8 8.6-7.2-10.1-5.8z"/>
<path color="#93a1df" d="M1623.8,322.5l10,4.1 8.6-6.2-10-4.8z"/>
<path color="#8c9ad8" d="M1615.2,327.8l10.1,3.6 8.7-5-10.1-4.1z"/>
<path color="#8694d1" d="M1606.6,331.6l10.1,3.2 8.7-3.6-10.1-3.5z"/>
<path color="#818eca" d="M1597.9,333.6l10.1,3.2 8.8-2.1-10.1-3.3z"/>
<path color="#7c89c3" d="M1589.2,334l10.1,3.3 8.8-0.6-10.1-3.2z"/>
<path color="#7985bd" d="M1498,276.5l10.1,17 9.6,2.8-10.2-15.3z"/>
<path color="#828fc9" d="M1488.4,275.5l10.1,17.7 9.7,0.2-10.1-16.9z"/>
<path color="#8e9bd6" d="M1478.7,278.7l10.2,17.1 9.7-2.7-10.1-17.6z"/>
<path color="#99a7e3" d="M1469,285.5l10.2,15.5 9.8-5.3-10.1-17.1z"/>
<path color="#a2b0ed" d="M1459.2,294.9l10.2,13.4 9.9-7.4-10.1-15.5z"/>
<path color="#a7b5f3" d="M1449.4,305.5l10.1,11.3 10-8.7-10.1-13.4z"/>
<path color="#a8b6f3" d="M1439.4,316.5l10.2,9.5 10.1-9.3-10.2-11.3z"/>
<path color="#a5b3f0" d="M1429.4,327.3l10.2,7.8 10.2-9.3-10.2-9.4z"/>
<path color="#a0aeeb" d="M1419.3,337.4l10.2,6.4 10.2-8.8-10.1-7.8z"/>
<path color="#9aa8e6" d="M1409.1,346.3l10.2,5.4 10.3-8.1-10.1-6.4z"/>
<path color="#93a1df" d="M1398.9,353.8l10.2,4.6 10.4-6.9-10.2-5.4z"/>
<path color="#8c9ad8" d="M1388.5,359.8l10.2,4 10.5-5.5-10.2-4.6z"/>
<path color="#8694d1" d="M1378.1,364.1l10.2,3.7 10.6-4.1-10.2-4z"/>
<path color="#818eca" d="M1367.6,366.5l10.1,3.6 10.7-2.5-10.1-3.7z"/>
<path color="#7c89c3" d="M1356.9,367.1l10.2,3.7 10.8-0.8-10.2-3.6z"/>
<path color="#7683bb" d="M1346.2,365.7l10.1,4.2 11,0.8-10.2-3.8z"/>
<path color="#717db3" d="M1335.4,362.6l10.1,4.8 11,2.4-10.1-4.1z"/>
<path color="#6e7aae" d="M1324.4,357.8l10.1,5.7 11.2,3.8-10-4.7z"/>
<path color="#6c77aa" d="M1313.4,351.4l10,6.9 11.3,5.1-10-5.5z"/>
<path color="#6a76a8" d="M1302.2,343.8l10.1,8.3 11.4,6.1-10.1-6.7z"/>
<path color="#6a76a7" d="M1290.9,335.2l10.1,10.1 11.5,6.8-10-8.3z"/>
<path color="#6b77a9" d="M1279.5,326.1l10.2,12.3 11.5,6.9-10.1-10.2z"/>
<path color="#6e7aad" d="M1268,317.4l10.2,14.6 11.7,6.4-10.2-12.3z"/>
<path color="#727eb3" d="M1256.4,309.9l10.3,17 11.7,5.1-10.2-14.7z"/>
<path color="#7985bd" d="M1244.7,305l10.3,18.8 11.8,3-10.2-17z"/>
<path color="#828fc9" d="M1233,304l10.2,19.7 11.9,0.1-10.2-18.9z"/>
<path color="#8e9bd6" d="M1221.1,307.6l10.3,19.1 12-3.1-10.3-19.7z"/>
<path color="#99a7e3" d="M1209.2,315.3l10.3,17.3 12-6-10.2-19z"/>
<path color="#a2b0ed" d="M1197.2,325.8l10.3,15 12.1-8.3-10.2-17.3z"/>
<path color="#a7b5f3" d="M1185.2,337.7l10.2,12.7 12.3-9.7-10.3-15z"/>
<path color="#a8b6f3" d="M1173,350.1l10.2,10.6 12.4-10.4-10.3-12.7z"/>
<path color="#a5b3f0" d="M1160.8,362.3l10.1,8.8 12.5-10.5-10.2-10.6z"/>
<path d="M1160.9,362.3L1170.9,370.9" stroke="#1a0d08" stroke-width="1.35" fill="none" stroke-linecap="round"/>
<path color="#9ba9e6" d="M1650.6,313.4l10.1,5.8 8.5-6.7-10.1-7.1z"/>
<path d="M1659.1,305.6L1669,312.5" stroke="#1a0d08" stroke-width="1.35" fill="none" stroke-linecap="round"/>
<path color="#95a4e1" d="M1642.1,320.4l10.2,4.7 8.5-6.1-10.1-5.8z"/>
<path color="#8f9edb" d="M1633.7,326.4l10.1,3.9 8.6-5.4-10.1-4.6z"/>
<path color="#8a98d5" d="M1625.1,331.2l10.2,3.3 8.6-4.4-10.1-3.8z"/>
<path color="#8492cf" d="M1616.5,334.6l10.2,2.9 8.7-3.2-10.2-3.2z"/>
<path color="#808ec9" d="M1607.8,336.6l10.2,2.8 8.8-2-10.2-2.9z"/>
<path color="#7c89c3" d="M1599.1,337.1l10.2,3 8.8-0.8-10.2-2.8z"/>
<path color="#95a3df" d="M1479.1,300.8l10.2,14.7 9.8-4.2-10.2-15.8z"/>
<path color="#9caae7" d="M1469.3,308.1l10.2,13.1 9.9-5.8-10.2-14.7z"/>
<path color="#a1afec" d="M1459.4,316.6l10.3,11.4 10-6.9-10.3-13.1z"/>
<path color="#a2b0ee" d="M1449.5,325.8l10.2,9.5 10.1-7.5-10.3-11.3z"/>
<path color="#a0aeeb" d="M1439.4,335l10.3,7.9 10.2-7.7-10.3-9.5z"/>
<path color="#9ba9e6" d="M1429.4,343.7l10.2,6.4 10.3-7.4-10.3-7.9z"/>
<path color="#95a4e1" d="M1419.2,351.5l10.2,5.3 10.4-6.8-10.3-6.5z"/>
<path color="#8f9edb" d="M1408.9,358.3l10.3,4.3 10.4-5.9-10.3-5.3z"/>
<path color="#8a98d5" d="M1398.6,363.7l10.2,3.7 10.5-4.9-10.2-4.4z"/>
<path color="#8492cf" d="M1388.1,367.6l10.3,3.3 10.6-3.7-10.3-3.7z"/>
<path color="#808ec9" d="M1377.6,369.9l10.2,3.2 10.7-2.3-10.2-3.3z"/>
<path color="#7c89c3" d="M1367,370.6l10.2,3.4 10.8-1-10.2-3.2z"/>
<path color="#7784bc" d="M1356.2,369.7l10.3,3.8 10.9,0.4-10.3-3.4z"/>
<path color="#737fb5" d="M1345.4,367.2l10.2,4.6 11,1.6-10.2-3.8z"/>
<path color="#717db2" d="M1334.5,363.3l10.2,5.6 11.1,2.8-10.2-4.5z"/>
<path color="#6f7bb0" d="M1323.4,358.1l10.2,6.9 11.3,3.8-10.2-5.6z"/>
<path color="#6f7baf" d="M1312.3,351.9l10.2,8.5 11.3,4.5-10.2-6.9z"/>
<path color="#6f7bb0" d="M1301,345.1l10.2,10.3 11.5,4.9-10.2-8.4z"/>
<path color="#717db2" d="M1289.6,338.2l10.3,12.2 11.5,4.9-10.2-10.2z"/>
<path color="#7480b6" d="M1278.1,331.8l10.3,14.3 11.6,4.3-10.2-12.3z"/>
<path color="#7884bb" d="M1266.6,326.6l10.3,16.2 11.7,3.2-10.3-14.3z"/>
<path color="#7d8ac3" d="M1254.9,323.6l10.3,17.5 11.8,1.6-10.3-16.1z"/>
<path color="#8492cc" d="M1243.1,323.4l10.4,18.1 11.9-0.5-10.4-17.5z"/>
<path color="#8c9ad6" d="M1231.3,326.4l10.3,17.7 12-2.7-10.3-18z"/>
<path color="#95a3df" d="M1219.4,332.4l10.3,16.4 12.1-4.8-10.4-17.6z"/>
<path color="#9caae7" d="M1207.4,340.6l10.3,14.7 12.2-6.6-10.4-16.4z"/>
<path color="#a1afec" d="M1195.3,350.3l10.3,12.6 12.3-7.7-10.4-14.7z"/>
<path color="#a2b0ee" d="M1183.1,360.6l10.3,10.7 12.3-8.5-10.3-12.7z"/>
<path color="#a0aeeb" d="M1170.8,370.9l10.2,8.9 12.5-8.6-10.2-10.8z"/>
<path d="M1170.9,370.9L1181.1,379.7" stroke="#1a0d08" stroke-width="1.35" fill="none" stroke-linecap="round"/>
<path color="#94a2df" d="M1660.5,319l10.2,5.2 8.5-5.3-10.2-6.5z"/>
<path d="M1669,312.5L1679.1,318.9" stroke="#1a0d08" stroke-width="1.35" fill="none" stroke-linecap="round"/>
<path color="#8f9edb" d="M1652.1,325l10.2,4 8.6-5-10.2-5.1z"/>
<path color="#8a99d6" d="M1643.6,330.1l10.3,3.1 8.5-4.4-10.2-4z"/>
<path color="#8694d1" d="M1635.1,334.3l10.2,2.5 8.7-3.7-10.3-3.1z"/>
<path color="#8290cc" d="M1626.5,337.4l10.3,2.1 8.7-2.9-10.3-2.4z"/>
<path color="#7e8cc7" d="M1617.8,339.3l10.3,1.9 8.8-1.9-10.3-2z"/>
<path color="#7b88c2" d="M1609.1,339.9l10.3,2.1 8.8-0.9-10.3-2z"/>
<path color="#7885bd" d="M1600.3,339.3l10.3,2.6 8.9,0-10.3-2.1z"/>
<path color="#8a99d6" d="M1419,362.5l10.4,3.5 10.4-4.9-10.4-4.6z"/>
<path color="#8694d1" d="M1408.7,367.2l10.3,2.9 10.5-4.2-10.3-3.6z"/>
<path color="#8290cc" d="M1398.2,370.8l10.4,2.4 10.6-3.3-10.4-2.8z"/>
<path color="#7e8cc7" d="M1387.7,373l10.3,2.3 10.7-2.3-10.3-2.4z"/>
<path color="#7b88c2" d="M1377.1,373.9l10.3,2.4 10.8-1.2-10.3-2.2z"/>
<path color="#7885bd" d="M1366.3,373.4l10.3,2.9 10.9-0.1-10.2-2.5z"/>
<path color="#7582b8" d="M1355.5,371.6l10.3,3.7 11,0.9-10.3-2.9z"/>
<path color="#727fb4" d="M1344.6,368.7l10.3,4.8 11.1,1.7-10.3-3.7z"/>
<path color="#727eb4" d="M1333.5,364.8l10.3,6.1 11.3,2.5-10.3-4.8z"/>
<path color="#737fb5" d="M1322.4,360.1l10.3,7.8 11.3,2.9-10.3-6.1z"/>
<path color="#7480b7" d="M1311.1,355.2l10.4,9.5 11.4,3.1-10.3-7.7z"/>
<path color="#7682b9" d="M1299.8,350.2l10.3,11.4 11.5,3-10.3-9.5z"/>
<path color="#7885bd" d="M1288.3,345.8l10.4,13.1 11.6,2.6-10.4-11.4z"/>
<path color="#7c89c2" d="M1276.8,342.5l10.3,14.7 11.7,1.7-10.3-13.1z"/>
<path color="#808ec7" d="M1265.1,340.9l10.4,15.7 11.8,0.5-10.4-14.6z"/>
<path color="#8593ce" d="M1253.4,341.3l10.4,16.1 11.8-0.9-10.4-15.7z"/>
<path color="#8b99d5" d="M1241.5,343.9l10.4,15.8 12-2.4-10.4-16.1z"/>
<path color="#919fdc" d="M1229.6,348.6l10.4,14.9 12.1-3.9-10.4-15.8z"/>
<path color="#96a4e2" d="M1217.6,355.1l10.4,13.5 12.1-5.2-10.4-14.9z"/>
<path color="#9aa8e6" d="M1205.4,362.8l10.4,11.7 12.3-6.1-10.4-13.4z"/>
<path color="#9aa9e7" d="M1193.2,371.1l10.4,10 12.4-6.7-10.4-11.8z"/>
<path color="#98a6e4" d="M1180.9,379.7l10.3,8.2 12.6-6.9-10.4-10z"/>
<path d="M1181.1,379.7L1191.3,387.7" stroke="#1a0d08" stroke-width="1.35" fill="none" stroke-linecap="round"/>
<path color="#7c89c3" d="M1627.9,341.1l10.4,0.6 8.7-1.7-10.4-0.8z"/>
<path color="#7987bf" d="M1619.2,341.9l10.4,0.8 8.8-1.1-10.4-0.6z"/>
<path color="#7884bd" d="M1610.4,341.7l10.5,1.3 8.8-0.4-10.5-0.8z"/>
<path color="#7683ba" d="M1601.6,340.7l10.4,2 8.9,0.2-10.5-1.2z"/>
<path color="#7987bf" d="M1387.2,376.2l10.4,1 10.8-1.4-10.3-0.8z"/>
<path color="#7884bd" d="M1376.5,376.1l10.4,1.6 10.9-0.6-10.3-1.1z"/>
<path color="#7683ba" d="M1365.7,375.2l10.4,2.3 11,0.1-10.3-1.6z"/>
<path color="#7581b8" d="M1354.8,373.3l10.3,3.5 11.2,0.6-10.4-2.3z"/>
<path color="#7480b7" d="M1343.7,370.7l10.4,4.9 11.2,1.1-10.3-3.5z"/>
<path color="#7582b8" d="M1332.6,367.7l10.4,6.5 11.3,1.3-10.4-4.9z"/>
<path color="#7784bc" d="M1321.4,364.5l10.4,8.1 11.4,1.5-10.4-6.5z"/>
<path color="#7987bf" d="M1310,361.4l10.5,9.8 11.4,1.3-10.4-8.1z"/>
<path color="#7c89c3" d="M1298.6,358.7l10.4,11.5 11.6,0.9-10.4-9.8z"/>
<path color="#7f8cc7" d="M1287,356.9l10.5,12.8 11.7,0.4-10.5-11.4z"/>
<path color="#8290cb" d="M1275.4,356.3l10.5,13.7 11.7-0.4-10.4-12.7z"/>
<path color="#8694d0" d="M1263.6,357.2l10.5,13.9 11.9-1.2-10.5-13.6z"/>
<path color="#8a98d4" d="M1251.8,359.5l10.5,13.8 12-2.2-10.5-14z"/>
<path color="#8e9cd9" d="M1239.9,363.3l10.4,13 12.1-3.1-10.5-13.8z"/>
<path color="#919fdc" d="M1227.8,368.4l10.5,11.7 12.2-3.9-10.5-13z"/>
<path color="#92a0de" d="M1215.7,374.4l10.4,10.2 12.3-4.6-10.4-11.7z"/>
<path color="#92a0de" d="M1203.5,380.9l10.4,8.6 12.4-5-10.4-10.3z"/>
<path color="#8f9dda" d="M1191.1,387.7l10.4,6.9 12.5-5.2-10.4-8.6z"/>
<path d="M1191.3,387.7L1201.5,394.5" stroke="#1a0d08" stroke-width="1.35" fill="none" stroke-linecap="round"/>
<path color="#7682ba" d="M1611.7,342.6l10.6,0.3 8.8-0.5-10.5,0.5z"/>
<path color="#7683ba" d="M1602.8,341.8l10.6,1.4 8.9-0.3-10.6-0.3z"/>
<path color="#7682ba" d="M1376,377.4l10.4,0.6 11-0.8-10.3,0.4z"/>
<path color="#7683ba" d="M1365,376.7l10.5,1.7 11.1-0.5-10.4-0.6z"/>
<path color="#7784bb" d="M1354,375.5l10.5,3.2 11.2-0.4-10.4-1.8z"/>
<path color="#7784bc" d="M1342.9,374l10.5,4.7 11.3-0.2-10.5-3.2z"/>
<path color="#7986be" d="M1331.7,372.4l10.5,6.4 11.4-0.2-10.5-4.7z"/>
<path color="#7c89c3" d="M1320.3,371l10.5,8 11.5-0.3-10.5-6.4z"/>
<path color="#7e8cc6" d="M1308.9,370l10.5,9.4 11.6-0.5-10.5-8z"/>
<path color="#818eca" d="M1297.4,369.5l10.5,10.5 11.7-0.7-10.5-9.4z"/>
<path color="#8391cd" d="M1285.7,369.8l10.6,11.3 11.7-1.2-10.5-10.5z"/>
<path color="#8693d0" d="M1274,370.9l10.5,11.7 11.9-1.6-10.5-11.3z"/>
<path color="#8896d2" d="M1262.1,373l10.6,11.5 12-2-10.6-11.7z"/>
<path color="#8998d5" d="M1250.2,376.1l10.5,10.8 12.1-2.5-10.5-11.4z"/>
<path color="#8a99d6" d="M1238.2,379.9l10.5,9.7 12.2-2.8-10.5-10.8z"/>
<path color="#8a98d6" d="M1226,384.4l10.5,8.3 12.3-3.2-10.5-9.7z"/>
<path color="#8896d3" d="M1213.7,389.3l10.5,6.8 12.5-3.5-10.5-8.3z"/>
<path color="#8795d1" d="M1201.4,394.4l10.4,5.1 12.6-3.6-10.5-6.7z"/>
<path d="M1201.5,394.5L1211.9,399.4" stroke="#1a0d08" stroke-width="1.35" fill="none" stroke-linecap="round"/>
<path color="#7885bd" d="M1604.1,343.2l10.6,0.9 9.1-1.5-10.7,0.5z"/>
<path color="#7885bd" d="M1364.4,378.5l10.5,1.2 11.2-1.8-10.5,0.3z"/>
<path color="#7a87c0" d="M1353.3,378.6l10.5,2.8 11.3-1.8-10.5-1.2z"/>
<path color="#7c89c3" d="M1342,378.7l10.6,4.3 11.4-1.8-10.6-2.7z"/>
<path color="#7d8ac4" d="M1330.7,378.8l10.6,5.9 11.5-1.8-10.6-4.4z"/>
<path color="#8592cf" d="M1272.6,384.3l10.6,9 12-1.8-10.6-9.2z"/>
<path color="#8593cf" d="M1260.6,386.7l10.6,8.4 12.1-1.9-10.6-9z"/>
<path color="#8492ce" d="M1248.5,389.4l10.6,7.5 12.3-1.9-10.6-8.4z"/>
<path color="#8290cc" d="M1236.4,392.6l10.5,6.1 12.4-1.9-10.6-7.5z"/>
<path color="#818fcb" d="M1224.1,395.9l10.5,4.6 12.5-1.9-10.5-6.2z"/>
<path color="#808ec9" d="M1211.7,399.4l10.5,3 12.6-2-10.5-4.6z"/>
<path d="M1211.9,399.4L1222.3,402.2" stroke="#1a0d08" stroke-width="1.35" fill="none" stroke-linecap="round"/>
<path color="#7784bb" d="M1614.5,344l10.7-1 9-2.8-10.7,2.5z"/>
<path color="#7a87c1" d="M1605.4,345.3l10.7,0.5 9.1-2.9-10.7,1z"/>
<path color="#7784bb" d="M1374.8,379.6l10.6-0.9 11.2-3.3-10.5,2.6z"/>
<path color="#7a87c1" d="M1363.7,381.2l10.7,0.7 11.2-3.4-10.6,0.9z"/>
<path color="#7d8bc5" d="M1352.5,382.9l10.7,2.2 11.3-3.4-10.6-0.6z"/>
<path color="#7f8dc8" d="M1341.2,384.5l10.6,3.8 11.5-3.3-10.6-2.3z"/>
<path color="#808ec9" d="M1329.8,386.2l10.6,5 11.6-3.1-10.7-3.7z"/>
<path color="#7d8ac4" d="M1246.8,398.5l10.6,4 12.4-0.7-10.6-5.2z"/>
<path color="#7b89c2" d="M1234.5,400.4l10.6,2.4 12.5-0.5-10.6-3.9z"/>
<path color="#7986bf" d="M1222.1,402.2l10.5,0.8 12.7-0.3-10.5-2.4z"/>
<path d="M1222.3,402.2L1232.7,402.9" stroke="#1a0d08" stroke-width="1.35" fill="none" stroke-linecap="round"/>
<path color="#7481b7" d="M1624.9,343l10.9-3 8.9-4.1-10.8,4.4z"/>
<path color="#7885be" d="M1615.9,345.7l10.7-1.4 9.1-4.4-10.8,3z"/>
<path color="#7c8ac4" d="M1606.7,348.5l10.8,0 9.2-4.3-10.8,1.4z"/>
<path color="#7885be" d="M1374.2,381.8l10.8-1.4 11.2-5-10.6,3z"/>
<path color="#7c8ac4" d="M1363,385l10.8,0.2 11.3-5-10.7,1.4z"/>
<path color="#7f8dc8" d="M1351.7,388.1l10.8,1.7 11.4-4.7-10.7-0.3z"/>
<path color="#818fca" d="M1340.3,391.1l10.8,2.9 11.5-4.3-10.7-1.7z"/>
<path color="#7784bc" d="M1257.3,402.3l10.7,1.8 12.4,0.6-10.6-3.1z"/>
<path color="#7581b8" d="M1245,402.7l10.6,0.2 12.6,1.1-10.6-1.8z"/>
<path color="#333951" d="M1232.6,402.9l10.6-1.6 12.7,1.6-10.6-0.2z"/>
<path d="M1232.7,402.9L1243.3,401.4" stroke="#1a0d08" stroke-width="1.35" fill="none" stroke-linecap="round"/>
<path color="#717db2" d="M1635.5,340l10.9-4.6 9-5.7-10.9,6.3z"/>
<path color="#7682b9" d="M1626.4,344.3l10.9-3.1 9.1-5.9-10.9,4.6z"/>
<path color="#7a87c0" d="M1617.3,348.5l10.8-1.6 9.2-5.8-10.8,3z"/>
<path color="#7e8bc5" d="M1608.1,352.4l10.8-0.2 9.3-5.5-10.8,1.6z"/>
<path color="#7682b9" d="M1384.9,380.3l10.8-3.1 11.2-6.8-10.7,4.9z"/>
<path color="#7a87c0" d="M1373.6,385.1l10.9-1.5 11.3-6.6-10.8,3.1z"/>
<path color="#7e8bc5" d="M1362.3,389.7l10.9-0.1 11.4-6.2-10.8,1.5z"/>
<path color="#808dc9" d="M1350.9,393.9l10.9,1 11.5-5.5-10.8,0.1z"/>
<path color="#808eca" d="M1339.4,397.5l10.9,1.9 11.6-4.6-10.8-1.1z"/>
<path color="#7582b9" d="M1280.2,404.6l10.7,1.1 12.3,0.9-10.7-2z"/>
<path color="#31364d" d="M1267.9,404l10.8-0.3 12.4,2-10.7-1z"/>
<path color="#333850" d="M1255.6,402.9l10.8-1.8 12.5,2.7-10.7,0.3z"/>
<path color="#353a53" d="M1243.2,401.4l10.7-3.5 12.7,3.3-10.8,1.8z"/>
<path d="M1243.3,401.4L1253.9,398.1" stroke="#1a0d08" stroke-width="1.35" fill="none" stroke-linecap="round"/>
<path color="#6e7aad" d="M1646.1,335.4l11-6 9-7.3-11,7.8z"/>
<path color="#737fb5" d="M1637.1,341.2l10.9-4.3 9.1-7.6-11,6z"/>
<path color="#7885bd" d="M1627.9,346.8l10.9-2.8 9.2-7.3-10.9,4.3z"/>
<path color="#7c89c2" d="M1618.7,352.1l10.9-1.5 9.3-6.8-10.9,2.8z"/>
<path color="#7e8bc6" d="M1609.4,356.7l11-0.5 9.3-5.8-10.9,1.5z"/>
<path color="#737fb5" d="M1395.6,377.1l10.9-4.6 11.2-8.6-10.9,6.4z"/>
<path color="#7885bd" d="M1384.4,383.5l10.9-3 11.3-8.2-10.9,4.6z"/>
<path color="#7c89c2" d="M1373.1,389.5l10.9-1.5 11.4-7.7-10.9,3z"/>
<path color="#7e8bc6" d="M1361.6,394.8l11-0.3 11.5-6.7-10.9,1.5z"/>
<path color="#7f8cc7" d="M1350.1,399.3l11,0.5 11.6-5.5-10.9,0.3z"/>
<path color="#7582b9" d="M1302.9,406.6l10.8,0.4 12.3,0.4-10.8-1z"/>
<path color="#32374e" d="M1290.8,405.7l10.9-0.6 12.3,1.9-10.8-0.3z"/>
<path color="#333850" d="M1278.6,403.8l10.9-1.7 12.4,3.1-10.8,0.6z"/>
<path color="#343952" d="M1266.3,401.2l10.8-3.2 12.6,4.2-10.9,1.8z"/>
<path color="#353b54" d="M1253.8,398.1l10.8-5 12.7,5-10.8,3.3z"/>
<path d="M1253.9,398.1L1264.7,393.2" stroke="#1a0d08" stroke-width="1.35" fill="none" stroke-linecap="round"/>
<path color="#6c78ab" d="M1656.8,329.5l11.1-6.8 9-9.2-11.1,8.7z"/>
<path color="#727eb3" d="M1647.8,336.8l11-5 9.1-9.3-11.1,6.8z"/>
<path color="#7783ba" d="M1638.6,344l11-3.6 9.2-8.8-11,5z"/>
<path color="#7a88c0" d="M1629.4,350.5l11-2.3 9.3-8-11,3.5z"/>
<path color="#7d8ac4" d="M1620.2,356.2l11-1.4 9.3-6.8-11,2.3z"/>
<path color="#7e8bc6" d="M1610.8,360.8l11-0.6 9.5-5.6-11.1,1.4z"/>
<path color="#6c78ab" d="M1417.5,364.1l11-7.3 11.1-10.4-10.9,9.6z"/>
<path color="#727eb3" d="M1406.4,372.4l11-5.4 11.2-10.4-11,7.3z"/>
<path color="#7783ba" d="M1395.2,380.5l11-3.8 11.3-9.9-11,5.4z"/>
<path color="#7a88c0" d="M1383.9,387.9l11-2.4 11.4-9-11,3.8z"/>
<path color="#7d8ac4" d="M1372.4,394.4l11.1-1.3 11.5-7.8-11,2.4z"/>
<path color="#7e8bc6" d="M1360.9,399.7l11.1-0.5 11.6-6.3-11,1.3z"/>
<path color="#7d8ac5" d="M1349.3,403.7l11,0 11.8-4.7-11,0.5z"/>
<path color="#7784bb" d="M1325.7,407.4l10.9-0.1 12.2-1-11-0.2z"/>
<path color="#333850" d="M1313.7,407l11-0.7 12.2,0.9-10.9,0.2z"/>
<path color="#333850" d="M1301.6,405.2l11-1.5 12.3,2.7-11,0.7z"/>
<path color="#333951" d="M1289.4,402.2l11-2.6 12.4,4.3-11,1.5z"/>
<path color="#343a52" d="M1277,398.1l11-4.1 12.5,5.7-10.9,2.7z"/>
<path color="#353b54" d="M1264.5,393.2l11-5.8 12.7,6.8-11,4.1z"/>
<path d="M1264.7,393.2L1275.5,387.5" stroke="#1a0d08" stroke-width="1.35" fill="none" stroke-linecap="round"/>
<path color="#6772a2" d="M1676.7,313.7l11.2-8.8 8.9-10.8-11.2,11.1z"/>
<path color="#6d79ac" d="M1667.7,322.7l11.1-6.7 9-11.3-11.1,8.8z"/>
<path color="#727fb4" d="M1658.6,331.8l11.1-5.1 9.1-11-11.1,6.8z"/>
<path color="#7784bb" d="M1649.5,340.4l11-3.7 9.3-10.2-11.1,5z"/>
<path color="#7b88c1" d="M1640.3,348.1l11-2.5 9.3-9.1-11.1,3.6z"/>
<path color="#7d8bc4" d="M1631,354.8l11.1-1.6 9.3-7.8-11.1,2.5z"/>
<path color="#7e8bc6" d="M1621.6,360.1l11.1-1 9.5-6.1-11.1,1.6z"/>
<path color="#6d79ac" d="M1428.4,356.8l11.1-7.4 11.1-12.6-11.1,9.5z"/>
<path color="#727fb4" d="M1417.3,367l11.1-5.5 11.2-12.3-11.1,7.3z"/>
<path color="#7784bb" d="M1406,376.6l11.2-3.8 11.3-11.5-11.1,5.4z"/>
<path color="#7b88c1" d="M1394.7,385.4l11.2-2.6 11.4-10.3-11.1,3.9z"/>
<path color="#7d8bc4" d="M1383.3,393l11.2-1.6 11.5-8.8-11.1,2.6z"/>
<path color="#7e8bc6" d="M1371.8,399.1l11.1-0.9 11.7-7-11.1,1.6z"/>
<path color="#7d8ac4" d="M1360.2,403.6l11.1-0.5 11.8-5.1-11.1,0.9z"/>
<path color="#7a87c0" d="M1348.5,406.3l11-0.3 12-3.1-11.1,0.5z"/>
<path color="#7682ba" d="M1336.6,407.3l11-0.6 12.1-0.9-11,0.4z"/>
<path color="#333951" d="M1324.6,406.4l11.1-1.1 12.2,1.4-11.1,0.7z"/>
<path color="#333850" d="M1312.5,403.9l11.1-1.9 12.3,3.4-11.1,1.2z"/>
<path color="#333850" d="M1300.2,399.7l11.1-2.8 12.5,5.3-11.1,1.8z"/>
<path color="#333951" d="M1287.9,394.2l11-4.2 12.6,7-11.1,2.9z"/>
<path color="#343a52" d="M1275.4,387.5l11-5.8 12.7,8.5-11.1,4.1z"/>
<path d="M1275.5,387.5L1286.4,381.8" stroke="#1a0d08" stroke-width="1.35" fill="none" stroke-linecap="round"/>
<path color="#656f9f" d="M1696.5,294.3l11.3-10.2 8.9-12.2-11.3,13.2z"/>
<path color="#6a75a7" d="M1687.6,304.9l11.2-7.7 9-13.2-11.3,10.1z"/>
<path color="#707cb0" d="M1678.6,315.9l11.2-5.8 9-13.2-11.2,7.8z"/>
<path color="#7682b8" d="M1669.5,326.7l11.2-4.3 9.1-12.5-11.1,5.8z"/>
<path color="#7a87bf" d="M1660.4,336.7l11.1-3 9.2-11.5-11.1,4.2z"/>
<path color="#7d8bc4" d="M1651.2,345.6l11.1-2.1 9.3-10.1-11.2,3z"/>
<path color="#7f8dc7" d="M1641.9,353.1l11.1-1.3 9.4-8.5-11.2,2z"/>
<path color="#7f8dc8" d="M1632.5,359l11.2-0.7 9.5-6.7-11.2,1.3z"/>
<path color="#7e8bc6" d="M1623.1,363.3l11.2-0.5 9.5-4.7-11.2,0.7z"/>
<path color="#6a75a7" d="M1450.4,337l11.2-8.4 11-14.8-11.2,11.1z"/>
<path color="#707cb0" d="M1439.3,349.4l11.3-6.3 11.1-14.8-11.2,8.5z"/>
<path color="#7682b8" d="M1428.2,361.4l11.3-4.5 11.2-14.1-11.2,6.3z"/>
<path color="#7a87bf" d="M1417,372.7l11.3-3.2 11.3-12.8-11.2,4.5z"/>
<path color="#7d8bc4" d="M1405.7,382.8l11.3-2.1 11.4-11.4-11.2,3.2z"/>
<path color="#7f8dc7" d="M1394.3,391.3l11.3-1.3 11.5-9.5-11.2,2z"/>
<path color="#7f8dc8" d="M1382.8,398.1l11.2-0.7 11.7-7.6-11.2,1.3z"/>
<path color="#7e8bc6" d="M1371.2,403l11.2-0.3 11.8-5.5-11.2,0.7z"/>
<path color="#7a88c1" d="M1359.4,405.9l11.2-0.2 12-3.2-11.2,0.3z"/>
<path color="#7682ba" d="M1347.6,406.7l11.1-0.4 12.1-0.8-11.1,0.3z"/>
<path color="#333850" d="M1335.6,405.4l11.2-0.9 12.2,1.8-11.2,0.5z"/>
<path color="#32374f" d="M1323.5,402.2l11.2-1.5 12.3,4-11.2,0.9z"/>
<path color="#32374e" d="M1311.2,397l11.2-2.3 12.4,6.2-11.2,1.4z"/>
<path color="#32374e" d="M1298.8,390.1l11.2-3.4 12.6,8.2-11.2,2.3z"/>
<path color="#32384f" d="M1286.3,381.8l11.2-4.9 12.7,10-11.2,3.4z"/>
<path d="M1286.4,381.8L1297.5,377" stroke="#1a0d08" stroke-width="1.35" fill="none" stroke-linecap="round"/>
<path color="#636e9c" d="M1716.5,272.2l11.3-10.7 8.8-13.7-11.3,15z"/>
<path color="#6a75a7" d="M1707.6,284.2l11.2-7.5 9-15.4-11.3,10.6z"/>
<path color="#717eb2" d="M1698.6,297.2l11.2-5.3 9.1-15.4-11.3,7.4z"/>
<path color="#7884ba" d="M1689.6,310.1l11.2-3.7 9.1-14.8-11.2,5.3z"/>
<path color="#7d89c1" d="M1680.5,322.4l11.2-2.5 9.2-13.7-11.2,3.6z"/>
<path color="#808ec7" d="M1671.4,333.6l11.2-1.6 9.2-12.4-11.2,2.5z"/>
<path color="#8390ca" d="M1662.1,343.5l11.3-1 9.3-10.7-11.3,1.6z"/>
<path color="#8391cc" d="M1652.9,351.7l11.2-0.4 9.4-9-11.3,0.9z"/>
<path color="#8290cb" d="M1643.5,358.2l11.3-0.1 9.4-7-11.2,0.4z"/>
<path color="#808dc8" d="M1634.1,362.7l11.3,0.1 9.5-4.9-11.3,0.1z"/>
<path color="#7c89c3" d="M1624.7,365.2l11.3,0.2 9.5-2.7-11.3-0.2z"/>
<path color="#6a75a7" d="M1472.4,314l11.3-8.1 10.9-17.2-11.3,11.6z"/>
<path color="#717eb2" d="M1461.5,328.5l11.3-5.7 11-17.2-11.3,8.1z"/>
<path color="#7884ba" d="M1450.4,343l11.4-3.9 11.1-16.5-11.3,5.7z"/>
<path color="#7d89c1" d="M1439.3,356.8l11.4-2.6 11.2-15.4-11.3,4z"/>
<path color="#808ec7" d="M1428.1,369.5l11.4-1.7 11.3-13.8-11.3,2.6z"/>
<path color="#8390ca" d="M1416.8,380.6l11.4-0.9 11.4-12.1-11.3,1.6z"/>
<path color="#8391cc" d="M1405.4,389.9l11.4-0.3 11.5-10.1-11.3,0.9z"/>
<path color="#8290cb" d="M1393.9,397.3l11.3,0.1 11.7-8-11.3,0.3z"/>
<path color="#808dc8" d="M1382.3,402.5l11.3,0.4 11.8-5.7-11.3-0.1z"/>
<path color="#7c89c3" d="M1370.5,405.5l11.4,0.5 11.9-3.3-11.3-0.3z"/>
<path color="#7683bb" d="M1358.7,406.2l11.2,0.4 12.1-0.8-11.2-0.4z"/>
<path color="#31374e" d="M1346.7,404.7l11.3-0.2 12.2,2-11.3-0.1z"/>
<path color="#30364c" d="M1334.6,400.8l11.3-0.5 12.3,4.4-11.3,0.1z"/>
<path color="#30354b" d="M1322.3,394.8l11.3-1.1 12.4,6.8-11.3,0.5z"/>
<path color="#2f344b" d="M1309.9,386.8l11.3-1.8 12.6,8.9-11.3,1.1z"/>
<path color="#2f354b" d="M1297.3,377l11.4-2.9 12.7,11.1-11.3,1.8z"/>
<path d="M1297.5,377L1308.7,374.3" stroke="#1a0d08" stroke-width="1.35" fill="none" stroke-linecap="round"/>
<path color="#636e9d" d="M1736.4,248l11.4-7.7 8.8-17.7-11.5,18.4z"/>
<path color="#737fb4" d="M1727.6,261.6l11.3-4 8.9-17.5-11.3,7.7z"/>
<path color="#7d89c0" d="M1718.7,276.7l11.2-2.2 9-17.1-11.3,3.9z"/>
<path color="#828fc7" d="M1709.7,291.8l11.3-1.2 9-16.4-11.2,2.3z"/>
<path color="#8693cc" d="M1700.7,306.3l11.2-0.5 9.2-15.4-11.3,1.2z"/>
<path color="#8996d0" d="M1691.6,319.8l11.3-0.1 9.1-14.1-11.2,0.5z"/>
<path color="#8a98d2" d="M1682.4,331.9l11.3,0.3 9.3-12.7-11.3,0.1z"/>
<path color="#8a98d4" d="M1673.2,342.4l11.3,0.6 9.3-11-11.3-0.3z"/>
<path color="#8997d3" d="M1663.9,351.2l11.4,0.7 9.3-9.1-11.3-0.6z"/>
<path color="#8694d0" d="M1654.6,358l11.4,0.9 9.4-7.1-11.3-0.8z"/>
<path color="#8290cc" d="M1645.2,362.7l11.4,1 9.5-5-11.4-0.9z"/>
<path color="#7e8bc6" d="M1635.8,365.3l11.4,1.1 9.5-2.8-11.4-1.1z"/>
<path color="#7885bd" d="M1626.2,365.7l11.5,1 9.5-0.5-11.4-1z"/>
<path color="#636e9d" d="M1505.2,273.8l11.4-8.5 10.8-19.7-11.5,20.3z"/>
<path color="#737fb4" d="M1494.4,288.9l11.5-4.2 10.8-19.6-11.4,8.4z"/>
<path color="#7d89c0" d="M1483.6,305.8l11.4-2.3 11-19.1-11.5,4.3z"/>
<path color="#828fc7" d="M1472.7,322.8l11.4-1.2 11-18.3-11.4,2.3z"/>
<path color="#8693cc" d="M1461.6,339l11.5-0.4 11.1-17.3-11.4,1.2z"/>
<path color="#8996d0" d="M1450.5,354.1l11.5,0.1 11.2-15.9-11.4,0.5z"/>
<path color="#8a98d2" d="M1439.3,367.7l11.5,0.5 11.3-14.2-11.4-0.1z"/>
<path color="#8a98d4" d="M1428,379.6l11.5,0.8 11.4-12.4-11.4-0.5z"/>
<path color="#8997d3" d="M1416.6,389.5l11.5,1.1 11.5-10.4-11.4-0.8z"/>
<path color="#8694d0" d="M1405.1,397.3l11.4,1.2 11.7-8.1-11.4-1.1z"/>
<path color="#8290cc" d="M1393.5,402.7l11.4,1.4 11.8-5.8-11.4-1.2z"/>
<path color="#7e8bc6" d="M1381.7,405.8l11.5,1.4 11.9-3.3-11.5-1.3z"/>
<path color="#7885bd" d="M1369.9,406.5l11.4,1.3 12-0.7-11.4-1.4z"/>
<path color="#30354b" d="M1357.9,404.6l11.3,1.1 12.3,2-11.4-1.1z"/>
<path color="#2e3349" d="M1345.7,400.4l11.5,0.9 12.3,4.6-11.4-1.1z"/>
<path color="#2d3247" d="M1333.5,393.8l11.4,0.8 12.4,6.9-11.4-0.9z"/>
<path color="#2c3146" d="M1321.1,385.1l11.4,0.4 12.6,9.3-11.5-0.8z"/>
<path color="#2c3145" d="M1308.5,374.2l11.5,0 12.7,11.5-11.5-0.4z"/>
<path d="M1308.7,374.3L1320,374.4" stroke="#1a0d08" stroke-width="1.35" fill="none" stroke-linecap="round"/>
<path color="#6772a2" d="M1756.4,222.6l11.1,20.2 8.6,5.1-11.4-9.5z"/>
<path color="#abb9f5" d="M1747.5,240.2l11.3,9.7 8.8-7.2-11.1-20.1z"/>
<path color="#abb8f2" d="M1738.7,257.5l11.3,6.1 9-13.9-11.3-9.7z"/>
<path color="#a2b0ea" d="M1729.8,274.4l11.3,4.4 9-15.4-11.3-6.1z"/>
<path color="#9dabe5" d="M1720.8,290.6l11.4,3.5 9-15.5-11.3-4.4z"/>
<path color="#9aa8e2" d="M1711.8,305.7l11.3,3.1 9.2-14.9-11.4-3.6z"/>
<path color="#98a6e1" d="M1702.7,319.7l11.4,2.6 9.2-13.8-11.4-3z"/>
<path color="#96a4df" d="M1693.6,332.1l11.3,2.5 9.3-12.5-11.4-2.7z"/>
<path color="#93a1dd" d="M1684.4,342.9l11.4,2.3 9.3-10.9-11.4-2.4z"/>
<path color="#8f9dda" d="M1675.1,351.8l11.4,2.2 9.4-9-11.4-2.3z"/>
<path color="#8a98d5" d="M1665.8,358.8l11.4,2.1 9.4-7.1-11.4-2.1z"/>
<path color="#8593cf" d="M1656.4,363.6l11.4,2.1 9.5-5-11.4-2.1z"/>
<path color="#7f8dc8" d="M1646.9,366.2l11.5,2.1 9.6-2.8-11.5-2z"/>
<path color="#7986bf" d="M1637.4,366.6l11.5,2.1 9.6-0.5-11.5-2.1z"/>
<path color="#6772a2" d="M1527.2,245.6l11.5,22.5 10.6,5.5-11.6-10.6z"/>
<path color="#abb9f5" d="M1516.5,265.2l11.5,10.9 10.8-8.1-11.5-22.4z"/>
<path color="#abb8f2" d="M1505.7,284.6l11.6,6.8 10.9-15.5-11.6-10.9z"/>
<path color="#a2b0ea" d="M1494.9,303.4l11.5,5.1 11-17.3-11.6-6.8z"/>
<path color="#9dabe5" d="M1484,321.5l11.5,4.1 11.1-17.3-11.6-5.1z"/>
<path color="#9aa8e2" d="M1473,338.5l11.5,3.5 11.1-16.6-11.5-4.1z"/>
<path color="#98a6e1" d="M1461.8,354.1l11.6,3.2 11.2-15.5-11.5-3.5z"/>
<path color="#96a4df" d="M1450.6,368.1l11.6,2.9 11.3-14-11.5-3.1z"/>
<path color="#93a1dd" d="M1439.3,380.3l11.6,2.7 11.4-12.2-11.5-2.9z"/>
<path color="#8f9dda" d="M1427.9,390.5l11.6,2.5 11.5-10.2-11.5-2.7z"/>
<path color="#8a98d5" d="M1416.4,398.4l11.6,2.5 11.6-8-11.5-2.6z"/>
<path color="#8593cf" d="M1404.8,403.9l11.5,2.5 11.8-5.7-11.5-2.5z"/>
<path color="#7f8dc8" d="M1393,407.1l11.6,2.5 11.9-3.3-11.6-2.5z"/>
<path color="#7986bf" d="M1381.2,407.7l11.5,2.6 12-0.9-11.5-2.5z"/>
<path color="#727fb5" d="M1369.2,405.8l11.4,2.6 12.3,1.7-11.5-2.5z"/>
<path color="#2c3146" d="M1357.1,401.4l11.5,2.5 12.3,4.5-11.5-2.4z"/>
<path color="#2b2f44" d="M1344.8,394.6l11.5,2.7 12.5,6.8-11.6-2.5z"/>
<path color="#2a2e42" d="M1332.4,385.6l11.5,2.9 12.6,9-11.5-2.7z"/>
<path color="#2a2e42" d="M1319.8,374.3l11.6,3.3 12.7,11.1-11.6-2.9z"/>
<path d="M1320,374.4L1331.4,377.7" stroke="#1a0d08" stroke-width="1.35" fill="none" stroke-linecap="round"/>
<path color="#6975a6" d="M1775.9,247.7l11.2,17 8.4,7.3-11.3-12.8z"/>
<path color="#7986bd" d="M1767.4,242.6l11.2,19.9 8.6,2.2-11.3-17z"/>
<path color="#96a4df" d="M1758.7,249.7l11.2,17.1 8.8-4.4-11.2-19.9z"/>
<path color="#aab8f4" d="M1749.8,263.4l11.4,12.9 8.9-9.6-11.3-17.1z"/>
<path color="#afbdf8" d="M1741,278.7l11.3,9.9 9-12.4-11.3-12.9z"/>
<path color="#acb9f4" d="M1732,294l11.4,7.8 9.1-13.4-11.4-9.8z"/>
<path color="#a8b6f1" d="M1723,308.7l11.4,6.2 9.1-13.3-11.4-7.8z"/>
<path color="#a4b2ee" d="M1713.9,322.2l11.5,5.2 9.1-12.7-11.4-6.2z"/>
<path color="#9fade9" d="M1704.8,334.5l11.4,4.4 9.3-11.7-11.5-5.2z"/>
<path color="#99a8e5" d="M1695.6,345.1l11.5,3.8 9.3-10.2-11.5-4.4z"/>
<path color="#93a1df" d="M1686.3,353.9l11.5,3.4 9.4-8.6-11.5-3.8z"/>
<path color="#8d9bd9" d="M1677,360.8l11.5,3.1 9.5-6.7-11.5-3.5z"/>
<path color="#8694d1" d="M1667.7,365.6l11.5,3 9.5-4.8-11.6-3.2z"/>
<path color="#808eca" d="M1658.2,368.2l11.6,3 9.5-2.8-11.5-3z"/>
<path color="#7a88c1" d="M1648.7,368.6l11.6,3.1 9.6-0.6-11.6-3z"/>
<path color="#7480b7" d="M1639.1,366.8l11.7,3.2 9.6,1.6-11.7-3.1z"/>
<path color="#6975a6" d="M1549.1,273.4l11.6,19 10.4,7.9-11.6-14.3z"/>
<path color="#7986bd" d="M1538.6,267.8l11.5,22.2 10.7,2.4-11.6-19z"/>
<path color="#96a4df" d="M1527.9,275.9l11.6,19.1 10.8-5-11.6-22.2z"/>
<path color="#aab8f4" d="M1517.1,291.2l11.7,14.5 10.9-10.8-11.7-19.1z"/>
<path color="#afbdf8" d="M1506.3,308.4l11.7,11 10.9-13.9-11.6-14.4z"/>
<path color="#acb9f4" d="M1495.4,325.5l11.6,8.7 11.1-15-11.7-11z"/>
<path color="#a8b6f1" d="M1484.4,341.9l11.6,7.1 11.2-15-11.7-8.7z"/>
<path color="#a4b2ee" d="M1473.2,357.2l11.7,5.9 11.3-14.3-11.7-7.1z"/>
<path color="#9fade9" d="M1462,370.9l11.7,5.1 11.3-13.1-11.6-5.9z"/>
<path color="#99a8e5" d="M1450.7,382.9l11.7,4.5 11.4-11.6-11.6-5.1z"/>
<path color="#93a1df" d="M1439.3,392.9l11.7,4 11.5-9.7-11.6-4.5z"/>
<path color="#8d9bd9" d="M1427.8,400.8l11.7,3.7 11.6-7.8-11.6-4z"/>
<path color="#8694d1" d="M1416.2,406.3l11.7,3.5 11.7-5.5-11.6-3.7z"/>
<path color="#808eca" d="M1404.4,409.4l11.7,3.5 11.9-3.2-11.7-3.6z"/>
<path color="#7a88c1" d="M1392.6,410.1l11.6,3.6 12.1-0.9-11.7-3.5z"/>
<path color="#7480b7" d="M1380.6,408.3l11.6,3.8 12.2,1.5-11.6-3.6z"/>
<path color="#6d79ac" d="M1368.5,404l11.5,4.1 12.4,3.9-11.5-3.6z"/>
<path color="#2a2e42" d="M1356.2,397.4l11.6,4.5 12.5,6.3-11.6-4z"/>
<path color="#2a2e42" d="M1343.8,388.6l11.7,5.2 12.5,8.3-11.6-4.5z"/>
<path color="#2a2e42" d="M1331.3,377.6l11.6,6.2 12.7,10.2-11.6-5.2z"/>
<path d="M1331.4,377.7L1343,384" stroke="#1a0d08" stroke-width="1.35" fill="none" stroke-linecap="round"/>
<path color="#6b77a9" d="M1795.3,271.7l11.4,15.3 8.3,7-11.4-12.5z"/>
<path color="#737fb4" d="M1787,264.5l11.3,17.9 8.4,4.6-11.3-15.3z"/>
<path color="#7f8cc4" d="M1778.5,262.2l11.3,19.2 8.5,1-11.3-18z"/>
<path color="#909ed9" d="M1769.8,266.6l11.3,18.1 8.8-3.3-11.3-19.2z"/>
<path color="#9fadea" d="M1761,276.1l11.4,15.5 8.9-7-11.4-18.1z"/>
<path color="#a9b7f4" d="M1752.2,288.4l11.4,12.8 9-9.7-11.4-15.5z"/>
<path color="#adbbf7" d="M1743.2,301.6l11.5,10.4 9-11-11.4-12.7z"/>
<path color="#abb9f5" d="M1734.3,314.8l11.4,8.5 9.1-11.4-11.4-10.4z"/>
<path color="#a7b5f1" d="M1725.2,327.3l11.5,7.1 9.2-11.2-11.5-8.6z"/>
<path color="#a2b0ed" d="M1716.1,338.8l11.5,5.8 9.2-10.4-11.5-7.1z"/>
<path color="#9caae7" d="M1706.9,348.8l11.6,5 9.2-9.3-11.5-5.9z"/>
<path color="#95a3e1" d="M1697.7,357.2l11.5,4.4 9.4-8-11.6-5z"/>
<path color="#8d9cd9" d="M1688.4,363.8l11.6,3.9 9.4-6.3-11.6-4.4z"/>
<path color="#8795d2" d="M1679,368.4l11.6,3.7 9.5-4.6-11.6-3.9z"/>
<path color="#818fca" d="M1669.6,371l11.6,3.6 9.5-2.6-11.6-3.7z"/>
<path color="#7b88c2" d="M1660.1,371.5l11.6,3.7 9.6-0.7-11.6-3.6z"/>
<path color="#7582b9" d="M1650.5,369.9l11.7,4 9.6,1.2-11.7-3.7z"/>
<path color="#6772a2" d="M1581.2,310.8l11.7,14 10.3,8.9-11.8-11.3z"/>
<path color="#6b77a9" d="M1571,300.1l11.6,17 10.4,7.6-11.7-13.9z"/>
<path color="#737fb4" d="M1560.6,292.1l11.6,20 10.5,5-11.7-17.1z"/>
<path color="#7f8cc4" d="M1550,289.8l11.7,21.4 10.6,0.9-11.7-20z"/>
<path color="#909ed9" d="M1539.4,294.8l11.7,20.1 10.7-3.8-11.7-21.4z"/>
<path color="#9fadea" d="M1528.6,305.5l11.8,17.3 10.8-8-11.7-20.1z"/>
<path color="#a9b7f4" d="M1517.8,319.2l11.8,14.3 10.9-10.8-11.7-17.3z"/>
<path color="#adbbf7" d="M1506.9,334.1l11.7,11.7 11.1-12.4-11.8-14.3z"/>
<path color="#abb9f5" d="M1495.9,348.9l11.7,9.6 11.2-12.9-11.8-11.7z"/>
<path color="#a7b5f1" d="M1484.8,363l11.7,8 11.3-12.7-11.8-9.6z"/>
<path color="#a2b0ed" d="M1473.6,375.9l11.7,6.7 11.4-11.8-11.8-8z"/>
<path color="#9caae7" d="M1462.3,387.2l11.7,5.8 11.5-10.6-11.8-6.7z"/>
<path color="#95a3e1" d="M1450.8,396.8l11.8,5 11.6-9-11.8-5.7z"/>
<path color="#8d9cd9" d="M1439.3,404.3l11.8,4.5 11.7-7.2-11.8-5z"/>
<path color="#8795d2" d="M1427.7,409.7l11.8,4.2 11.8-5.2-11.8-4.5z"/>
<path color="#818fca" d="M1416,412.8l11.7,4.2 11.9-3.2-11.7-4.3z"/>
<path color="#7b88c2" d="M1404.1,413.5l11.8,4.4 12-1.1-11.8-4.2z"/>
<path color="#7582b9" d="M1392.1,412l11.8,4.7 12.1,1.1-11.7-4.4z"/>
<path color="#6f7baf" d="M1380,408.1l11.7,5.2 12.3,3.3-11.7-4.7z"/>
<path d="M1343,384L1354.6,392.4" stroke="#1a0d08" stroke-width="1.35" fill="none" stroke-linecap="round"/>
<path color="#6e7aad" d="M1814.8,293.8l11.4,13.4 8.2,6-11.4-11.2z"/>
<path color="#727eb3" d="M1806.5,286.8l11.4,15.6 8.3,4.8-11.4-13.4z"/>
<path color="#7985bd" d="M1798.1,282.2l11.4,17.3 8.4,2.8-11.3-15.6z"/>
<path color="#828fc9" d="M1789.6,281.2l11.4,18 8.6,0.2-11.4-17.3z"/>
<path color="#8e9bd6" d="M1781,284.4l11.4,17.5 8.7-2.7-11.4-18.1z"/>
<path color="#99a7e3" d="M1772.3,291.4l11.4,15.9 8.8-5.5-11.4-17.4z"/>
<path color="#a2b0ed" d="M1763.4,301l11.6,13.7 8.9-7.5-11.5-15.9z"/>
<path color="#a7b5f3" d="M1754.5,311.9l11.6,11.6 9-8.9-11.5-13.7z"/>
<path color="#a8b6f3" d="M1745.6,323.2l11.6,9.6 9-9.5-11.5-11.6z"/>
<path color="#a5b3f0" d="M1736.5,334.2l11.7,8 9.1-9.5-11.6-9.7z"/>
<path color="#a0aeeb" d="M1727.5,344.5l11.6,6.6 9.2-9-11.6-8z"/>
<path color="#9aa8e6" d="M1718.3,353.7l11.6,5.5 9.3-8.2-11.6-6.7z"/>
<path color="#93a1df" d="M1709.1,361.4l11.6,4.7 9.4-7.1-11.7-5.5z"/>
<path color="#8c9ad8" d="M1699.8,367.6l11.7,4.1 9.4-5.7-11.7-4.7z"/>
<path color="#8694d1" d="M1690.4,371.9l11.8,3.8 9.4-4.2-11.7-4.1z"/>
<path color="#818eca" d="M1681,374.5l11.8,3.7 9.5-2.6-11.8-3.8z"/>
<path color="#7c89c3" d="M1671.5,375.1l11.8,3.8 9.6-0.8-11.8-3.8z"/>
<path color="#7683bb" d="M1662,373.8l11.8,4.2 9.6,0.8-11.8-3.8z"/>
<path color="#717db3" d="M1652.3,370.6l11.9,4.9 9.6,2.4-11.8-4.2z"/>
<path color="#2a2e42" d="M1642.6,365.7l11.9,5.8 9.7,4-11.9-4.9z"/>
<path color="#6a76a7" d="M1613,342.7l11.8,10.4 10,6.9-11.8-8.5z"/>
<path color="#6b77a9" d="M1602.9,333.5l11.8,12.6 10.1,7-11.8-10.4z"/>
<path color="#6e7aad" d="M1592.8,324.5l11.7,15 10.3,6.5-11.8-12.6z"/>
<path color="#727eb3" d="M1582.5,316.9l11.7,17.4 10.4,5.2-11.8-15z"/>
<path color="#7985bd" d="M1572.1,311.9l11.7,19.3 10.5,3-11.7-17.4z"/>
<path color="#828fc9" d="M1561.6,310.9l11.8,20.2 10.5,0.1-11.7-19.4z"/>
<path color="#8e9bd6" d="M1551,314.7l11.8,19.5 10.7-3.2-11.8-20.1z"/>
<path color="#99a7e3" d="M1540.2,322.6l11.9,17.7 10.8-6.2-11.8-19.5z"/>
<path color="#a2b0ed" d="M1529.4,333.4l11.8,15.3 11-8.5-11.8-17.7z"/>
<path color="#a7b5f3" d="M1518.5,345.6l11.8,13.1 11.1-10.1-11.9-15.4z"/>
<path color="#a8b6f3" d="M1507.5,358.4l11.8,10.9 11.2-10.8-11.9-13z"/>
<path color="#a5b3f0" d="M1496.4,370.8l11.8,9.1 11.3-10.8-11.9-10.9z"/>
<path color="#a0aeeb" d="M1485.2,382.5l11.8,7.5 11.4-10.3-11.9-9z"/>
<path color="#9aa8e6" d="M1473.9,392.8l11.9,6.4 11.4-9.4-11.9-7.5z"/>
<path color="#93a1df" d="M1462.5,401.7l11.8,5.4 11.6-8.1-11.9-6.3z"/>
<path color="#8c9ad8" d="M1451,408.7l11.8,4.8 11.7-6.6-11.9-5.4z"/>
<path color="#8694d1" d="M1439.3,413.8l11.9,4.4 11.8-4.9-11.9-4.8z"/>
<path color="#818eca" d="M1427.6,416.8l11.9,4.3 11.9-3-11.9-4.5z"/>
<path color="#7c89c3" d="M1415.7,417.7l11.9,4.5 12-1.2-11.9-4.3z"/>
<path color="#7683bb" d="M1403.8,416.5l11.8,4.9 12.2,0.7-11.9-4.5z"/>
<path color="#717db3" d="M1391.6,413.2l11.9,5.6 12.3,2.5-11.9-4.9z"/>
<path color="#6e7aae" d="M1379.4,407.9l11.9,6.7 12.4,4.2-11.8-5.7z"/>
<path color="#6c77aa" d="M1367,400.9l11.9,8 12.5,5.6-11.7-6.6z"/>
<path color="#6a76a8" d="M1354.5,392.3l11.9,9.8 12.7,6.8-11.8-8z"/>
<path d="M1354.6,392.4L1366.4,402" stroke="#1a0d08" stroke-width="1.35" fill="none" stroke-linecap="round"/>
<path color="#7480b6" d="M1826,307l11.5,13.1 8.3,4.1-11.6-11.2z"/>
<path color="#7884bb" d="M1817.7,302.1l11.5,14.9 8.4,3.1-11.5-13.2z"/>
<path color="#7d8ac3" d="M1809.4,299.2l11.4,16.1 8.5,1.6-11.5-14.8z"/>
<path color="#8492cc" d="M1800.9,299l11.5,16.6 8.5-0.3-11.5-16.1z"/>
<path color="#8c9ad6" d="M1792.3,301.7l11.5,16.2 8.7-2.4-11.5-16.6z"/>
<path color="#95a3df" d="M1783.6,307l11.5,15.1 8.8-4.3-11.5-16.2z"/>
<path color="#9caae7" d="M1774.8,314.5l11.6,13.4 8.9-5.9-11.6-15z"/>
<path color="#a1afec" d="M1765.9,323.3l11.7,11.6 8.9-7.1-11.6-13.4z"/>
<path color="#a2b0ee" d="M1757,332.7l11.7,9.7 9-7.7-11.6-11.5z"/>
<path color="#a0aeeb" d="M1748,342.1l11.7,8.1 9.1-7.9-11.7-9.8z"/>
<path color="#9ba9e6" d="M1738.9,351l11.7,6.6 9.2-7.6-11.7-8.1z"/>
<path color="#95a4e1" d="M1729.8,359.1l11.7,5.4 9.3-7-11.8-6.7z"/>
<path color="#8f9edb" d="M1720.6,366l11.7,4.5 9.3-6.2-11.7-5.4z"/>
<path color="#8a98d5" d="M1711.3,371.6l11.8,3.8 9.4-5.1-11.8-4.5z"/>
<path color="#8492cf" d="M1702,375.6l11.8,3.4 9.4-3.8-11.8-3.8z"/>
<path color="#808ec9" d="M1692.6,378l11.8,3.3 9.5-2.4-11.8-3.4z"/>
<path color="#7c89c3" d="M1683.1,378.8l11.9,3.4 9.5-1-11.9-3.3z"/>
<path color="#7784bc" d="M1673.5,377.9l11.9,3.9 9.6,0.3-11.9-3.4z"/>
<path color="#737fb5" d="M1663.9,375.4l11.9,4.6 9.7,1.7-11.9-3.9z"/>
<path color="#717db2" d="M1654.2,371.4l11.9,5.7 9.8,2.8-12-4.6z"/>
<path color="#6f7bb0" d="M1644.4,366.1l11.9,7 9.9,3.9-12-5.6z"/>
<path color="#6f7baf" d="M1634.6,359.8l11.9,8.7 9.9,4.6-12-7z"/>
<path color="#6f7bb0" d="M1624.6,352.9l11.9,10.5 10,5-11.9-8.6z"/>
<path color="#717db2" d="M1614.5,345.8l11.9,12.6 10.1,5-11.8-10.6z"/>
<path color="#7480b6" d="M1604.4,339.3l11.8,14.6 10.3,4.4-11.9-12.5z"/>
<path color="#7884bb" d="M1594.1,334l11.9,16.6 10.3,3.3-11.8-14.7z"/>
<path color="#7d8ac3" d="M1583.7,331l11.9,17.9 10.4,1.7-11.8-16.6z"/>
<path color="#8492cc" d="M1573.2,330.9l11.9,18.5 10.6-0.5-11.9-18z"/>
<path color="#8c9ad6" d="M1562.6,334l11.9,18.1 10.7-2.8-11.9-18.5z"/>
<path color="#95a3df" d="M1551.9,340.1l11.9,16.9 10.8-5-11.9-18.1z"/>
<path color="#9caae7" d="M1541.1,348.5l11.9,15.1 11-6.7-12-16.9z"/>
<path color="#a1afec" d="M1530.2,358.5l11.9,13 11.1-8-12-15.1z"/>
<path color="#a2b0ee" d="M1519.2,369.1l12,11 11.1-8.7-12-13z"/>
<path color="#a0aeeb" d="M1508.1,379.7l12,9.2 11.2-8.9-12-11z"/>
<path color="#9ba9e6" d="M1496.9,389.9l12,7.5 11.3-8.7-12-9.1z"/>
<path color="#95a4e1" d="M1485.6,399l12,6.2 11.4-8-12-7.5z"/>
<path color="#8f9edb" d="M1474.2,406.9l12,5.2 11.5-7-12-6.2z"/>
<path color="#8a98d5" d="M1462.7,413.4l12,4.4 11.6-5.8-12-5.2z"/>
<path color="#8492cf" d="M1451.1,418.1l12,4 11.7-4.5-12-4.4z"/>
<path color="#808ec9" d="M1439.3,421l12,3.9 11.9-3-12-4z"/>
<path color="#7c89c3" d="M1427.5,422l12,4.1 12-1.4-12-3.9z"/>
<path color="#7784bc" d="M1415.5,421.2l12,4.6 12.1,0.2-12-4.1z"/>
<path color="#737fb5" d="M1403.4,418.7l12,5.4 12.2,1.6-11.9-4.6z"/>
<path color="#717db2" d="M1391.2,414.4l11.9,6.6 12.4,3-11.9-5.4z"/>
<path color="#6f7bb0" d="M1378.8,408.7l12,8.1 12.5,4.1-12-6.6z"/>
<path color="#6f7baf" d="M1366.3,401.9l12,9.9 12.6,4.9-11.9-8z"/>
<path d="M1366.4,402L1378.3,411.7M1861.8,333.5L1873.2,340.4" stroke="#1a0d08" stroke-width="1.35" fill="none" stroke-linecap="round"/>
<path color="#8593ce" d="M1812.2,315.3l11.6,14.8 8.6-0.7-11.6-14.4z"/>
<path color="#8b99d5" d="M1803.6,317.6l11.7,14.6 8.6-2.1-11.6-14.8z"/>
<path color="#919fdc" d="M1795,321.9l11.6,13.6 8.8-3.4-11.7-14.5z"/>
<path color="#96a4e2" d="M1786.2,327.7l11.7,12.3 8.8-4.6-11.6-13.6z"/>
<path color="#9aa8e6" d="M1777.4,334.7l11.7,10.7 8.9-5.5-11.7-12.3z"/>
<path color="#9aa9e7" d="M1768.5,342.3l11.8,9 8.9-6-11.7-10.7z"/>
<path color="#98a6e4" d="M1759.5,350l11.8,7.4 9.1-6.2-11.8-9.1z"/>
<path color="#94a2df" d="M1750.5,357.5l11.8,5.9 9.1-6.1-11.8-7.4z"/>
<path color="#8f9edb" d="M1741.3,364.3l11.9,4.7 9.2-5.7-11.8-6z"/>
<path color="#8a99d6" d="M1732.2,370.3l11.8,3.7 9.3-5.1-11.8-4.7z"/>
<path color="#8694d1" d="M1722.9,375.2l11.9,2.9 9.4-4.3-11.9-3.6z"/>
<path color="#8290cc" d="M1713.6,378.9l11.9,2.4 9.4-3.3-11.9-2.9z"/>
<path color="#7e8cc7" d="M1704.2,381.2l12,2.3 9.4-2.3-11.9-2.5z"/>
<path color="#7b88c2" d="M1694.7,382.1l12,2.5 9.5-1.2-11.9-2.3z"/>
<path color="#7885bd" d="M1685.2,381.6l12,3 9.6-0.1-12-2.5z"/>
<path color="#7582b8" d="M1675.6,379.9l12,3.8 9.7,0.8-12.1-2.9z"/>
<path color="#727fb4" d="M1665.9,376.9l12,4.9 9.7,1.8-12-3.8z"/>
<path color="#727eb4" d="M1656.1,372.9l12,6.4 9.9,2.5-12.1-4.9z"/>
<path color="#737fb5" d="M1646.2,368.3l12,7.9 10,3-12-6.3z"/>
<path color="#7480b7" d="M1636.3,363.2l12,9.8 10,3.2-12-8z"/>
<path color="#7682b9" d="M1626.2,358.2l12,11.6 10.1,3.1-11.9-9.8z"/>
<path color="#7885bd" d="M1616.1,353.7l11.9,13.5 10.3,2.6-12-11.7z"/>
<path color="#7c89c2" d="M1605.8,350.4l12,15 10.3,1.7-11.9-13.5z"/>
<path color="#808ec7" d="M1595.4,348.7l12,16.1 10.5,0.5-12-15z"/>
<path color="#8593ce" d="M1585,349.1l11.9,16.6 10.6-0.9-11.9-16.2z"/>
<path color="#9aa9e7" d="M1531,379.9l12.1,10.3 11.1-6.9-12.1-12.1z"/>
<path color="#98a6e4" d="M1519.9,388.7l12.1,8.5 11.2-7.1-12.1-10.3z"/>
<path color="#94a2df" d="M1508.7,397.3l12.1,6.8 11.3-7.1-12-8.4z"/>
<path color="#8f9edb" d="M1497.4,405.1l12.1,5.4 11.4-6.6-12-6.8z"/>
<path color="#8a99d6" d="M1486,412l12.1,4.2 11.6-5.9-12.1-5.4z"/>
<path color="#8694d1" d="M1474.5,417.6l12.1,3.5 11.7-5-12.1-4.3z"/>
<path color="#8290cc" d="M1462.9,421.9l12.1,3 11.8-4-12.1-3.4z"/>
<path color="#7e8cc7" d="M1451.2,424.7l12.1,2.8 11.9-2.8-12.2-2.9z"/>
<path color="#7b88c2" d="M1439.3,426l12.1,3 12-1.6-12.1-2.8z"/>
<path color="#7885bd" d="M1427.3,425.7l12.2,3.6 12.1-0.4-12.1-3.1z"/>
<path color="#7582b8" d="M1415.2,423.9l12.2,4.5 12.2,0.7-12.1-3.6z"/>
<path color="#727fb4" d="M1403,420.8l12.1,5.8 12.4,1.7-12.1-4.5z"/>
<path color="#727eb4" d="M1390.7,416.6l12.1,7.3 12.5,2.6-12.1-5.8z"/>
<path color="#737fb5" d="M1378.2,411.6l12.1,9.1 12.6,3.1-12.1-7.3z"/>
<path d="M1378.3,411.7L1390.3,420.6" stroke="#1a0d08" stroke-width="1.35" fill="none" stroke-linecap="round"/>
<path color="#7784bc" d="M1865.1,337.2l11.7,7.4 8.1,1.5-11.8-5.8z"/>
<path d="M1873.2,340.4L1884.8,346" stroke="#1a0d08" stroke-width="1.35" fill="none" stroke-linecap="round"/>
<path color="#7987bf" d="M1856.9,334.2l11.8,9 8.2,1.4-11.8-7.5z"/>
<path color="#8f9dda" d="M1771.1,357.3l11.9,6.2 9.1-4.7-11.9-7.8z"/>
<path color="#8c9ad8" d="M1762.1,363.3l12,4.7 9.1-4.7-12-6.2z"/>
<path color="#8997d4" d="M1753,368.9l12,3.4 9.2-4.4-12-4.8z"/>
<path color="#8593d0" d="M1743.9,373.9l12,2.3 9.2-4.1-12-3.4z"/>
<path color="#818fcb" d="M1734.6,378l12.1,1.5 9.3-3.5-12.1-2.3z"/>
<path color="#7e8cc7" d="M1725.3,381.2l12.1,1.1 9.3-2.9-12-1.5z"/>
<path color="#7c89c3" d="M1715.9,383.4l12.1,0.9 9.5-2.2-12.1-1z"/>
<path color="#7987bf" d="M1706.5,384.5l12.1,1 9.5-1.4-12.1-0.8z"/>
<path color="#7884bd" d="M1697,384.5l12.1,1.6 9.6-0.7-12.2-1z"/>
<path color="#7683ba" d="M1687.4,383.5l12.1,2.5 9.6,0-12.1-1.5z"/>
<path color="#7581b8" d="M1677.7,381.7l12.1,3.6 9.7,0.6-12.1-2.4z"/>
<path color="#7480b7" d="M1667.9,379.1l12.1,5 9.8,1.1-12.1-3.6z"/>
<path color="#7582b8" d="M1658,376l12.1,6.7 10,1.3-12.2-5z"/>
<path color="#7784bc" d="M1648.1,372.8l12.1,8.3 10,1.5-12.1-6.7z"/>
<path color="#7987bf" d="M1638,369.6l12.1,10.1 10.1,1.4-12-8.4z"/>
<path color="#7c89c3" d="M1627.9,367l12,11.7 10.3,1-12.1-10.2z"/>
<path color="#7f8cc7" d="M1617.6,365.2l12.1,13 10.3,0.4-12-11.7z"/>
<path color="#8290cb" d="M1607.3,364.6l12,14 10.5-0.4-12.1-13.1z"/>
<path color="#7e8cc7" d="M1474.9,424.8l12.2,1.3 11.7-3.4-12.2-1.9z"/>
<path color="#7c89c3" d="M1463.1,427.4l12.3,1.2 11.8-2.6-12.2-1.4z"/>
<path color="#7987bf" d="M1451.3,428.8l12.2,1.5 12-1.8-12.2-1.3z"/>
<path color="#7884bd" d="M1439.3,429.1l12.2,2 12.1-1-12.2-1.4z"/>
<path color="#7683ba" d="M1427.2,428.2l12.2,3 12.3-0.2-12.2-2z"/>
<path color="#7581b8" d="M1415,426.4l12.2,4.2 12.4,0.5-12.2-3z"/>
<path color="#7480b7" d="M1402.6,423.7l12.3,5.9 12.5,0.9-12.2-4.2z"/>
<path color="#7582b8" d="M1390.2,420.5l12.2,7.7 12.6,1.3-12.2-5.9z"/>
<path d="M1390.3,420.6L1402.4,428" stroke="#1a0d08" stroke-width="1.35" fill="none" stroke-linecap="round"/>
<path color="#7986be" d="M1876.6,344.5l11.8,5.7 8.2,0-11.9-4.3z"/>
<path d="M1884.8,346L1896.4,350.1" stroke="#1a0d08" stroke-width="1.35" fill="none" stroke-linecap="round"/>
<path color="#7c89c3" d="M1868.5,343l11.8,7.3 8.2-0.2-11.9-5.7z"/>
<path color="#7682ba" d="M1699.2,385.9l12.3,0.5 9.6-0.8-12.3,0.4z"/>
<path color="#7683ba" d="M1689.6,385.1l12.2,1.8 9.7-0.5-12.3-0.6z"/>
<path color="#7784bb" d="M1679.8,384l12.2,3.2 9.9-0.3-12.3-1.8z"/>
<path color="#7784bc" d="M1669.9,382.5l12.2,4.9 10-0.3-12.3-3.2z"/>
<path color="#7986be" d="M1660,380.9l12.2,6.6 10-0.2-12.2-4.9z"/>
<path color="#7c89c3" d="M1649.9,379.5l12.2,8.2 10.2-0.3-12.2-6.5z"/>
<path color="#7e8cc6" d="M1639.8,378.5l12.2,9.7 10.2-0.6-12.2-8.2z"/>
<path color="#818eca" d="M1629.5,378l12.2,10.9 10.4-0.8-12.2-9.7z"/>
<path color="#7682ba" d="M1451.4,431l12.4-0.1 12-1.6-12.4,0.7z"/>
<path color="#7682ba" d="M1439.3,431l12.3,1 12.3-1.2-12.4,0z"/>
<path color="#7683ba" d="M1427.1,430.5l12.3,2.3 12.4-0.9-12.4-1z"/>
<path color="#7784bb" d="M1414.7,429.4l12.4,3.9 12.5-0.7-12.4-2.3z"/>
<path color="#7784bc" d="M1402.3,428l12.3,5.7 12.6-0.5-12.3-3.9z"/>
<path d="M1402.4,428L1414.6,433.5" stroke="#1a0d08" stroke-width="1.35" fill="none" stroke-linecap="round"/>
<path color="#7c89c3" d="M1888.2,350.1l12,3.9 8.1-1.5-12-2.4z"/>
<path d="M1896.4,350.1L1908.2,352.4" stroke="#1a0d08" stroke-width="1.35" fill="none" stroke-linecap="round"/>
<path color="#7d8ac4" d="M1880.1,350.1l12,5.3 8.2-1.5-12-3.9z"/>
<path color="#7f8cc7" d="M1871.9,350.3l12,6.6 8.2-1.6-11.9-5.3z"/>
<path color="#383e58" d="M1749.1,381.3l12.4-3.2 9.3-1.6-12.4,2.6z"/>
<path color="#7682ba" d="M1701.6,386.9l12.4-0.3 9.7-1.8-12.5,1.6z"/>
<path color="#7885bd" d="M1691.8,387.1l12.4,1.2 9.8-1.8-12.4,0.3z"/>
<path color="#7a87c0" d="M1681.9,387.2l12.4,2.9 9.9-1.9-12.4-1.2z"/>
<path color="#7c89c3" d="M1672,387.3l12.3,4.5 10.1-1.8-12.4-2.9z"/>
<path color="#7d8ac4" d="M1661.9,387.6l12.4,6 10.1-1.9-12.3-4.5z"/>
<path color="#7f8cc7" d="M1651.8,388l12.3,7.4 10.3-1.9-12.4-6.1z"/>
<path color="#818fca" d="M1641.6,388.7l12.3,8.5 10.3-1.9-12.3-7.4z"/>
<path color="#8391cc" d="M1631.2,389.8l12.3,9.2 10.5-1.9-12.3-8.5z"/>
<path color="#7682ba" d="M1510.7,422.5l12.6-2.6 11.5-2-12.6,1.5z"/>
<path color="#383e58" d="M1499.1,425.2l12.5-3.3 11.7-2-12.6,2.6z"/>
<path color="#383e59" d="M1487.4,427.5l12.5-3.6 11.8-1.9-12.5,3.3z"/>
<path color="#383e58" d="M1475.5,429.4l12.5-3.4 12-2-12.5,3.6z"/>
<path color="#373d57" d="M1463.6,430.8l12.5-2.7 12-2-12.5,3.4z"/>
<path color="#7682ba" d="M1439.3,432.6l12.5,0 12.3-2.3-12.6,1.6z"/>
<path color="#7885bd" d="M1426.9,433.1l12.5,1.7 12.5-2.3-12.5,0z"/>
<path color="#7a87c0" d="M1414.5,433.5l12.4,3.5 12.7-2.4-12.5-1.6z"/>
<path d="M1414.6,433.5L1427,436.8" stroke="#1a0d08" stroke-width="1.35" fill="none" stroke-linecap="round"/>
<path color="#7d8bc5" d="M1900,353.9l12.1,1.9 8.1-3-12.2-0.4z"/>
<path d="M1908.2,352.4L1920.1,352.8" stroke="#1a0d08" stroke-width="1.35" fill="none" stroke-linecap="round"/>
<path color="#7f8dc8" d="M1891.8,355.3l12.1,3.3 8.2-2.9-12.1-2z"/>
<path color="#808ec9" d="M1883.6,356.7l12.1,4.5 8.3-2.7-12.1-3.3z"/>
<path color="#818eca" d="M1875.4,358.1l12.1,5.4 8.3-2.4-12.1-4.5z"/>
<path color="#7783bb" d="M1797.7,371.8l12.4-1.1 8.9,0-12.3-0.5z"/>
<path color="#363b55" d="M1788.7,373.4l12.4-2.6 9-0.1-12.4,1.1z"/>
<path color="#383e58" d="M1779.6,375l12.5-3.9 9.1-0.3-12.5,2.6z"/>
<path color="#39405a" d="M1770.5,376.6l12.4-4.9 9.2-0.5-12.4,3.9z"/>
<path color="#3a415c" d="M1761.2,378.2l12.5-5.5 9.2-0.9-12.4,4.9z"/>
<path color="#3b415d" d="M1751.9,379.9l12.4-5.8 9.4-1.4-12.4,5.6z"/>
<path color="#7784bb" d="M1703.9,388.3l12.5-1 9.8-3.3-12.5,2.5z"/>
<path color="#7a87c1" d="M1694.1,390l12.4,0.7 10-3.5-12.6,0.9z"/>
<path color="#7d8bc5" d="M1684.1,391.7l12.5,2.3 10-3.5-12.5-0.7z"/>
<path color="#7f8dc8" d="M1674.1,393.5l12.4,3.8 10.2-3.4-12.5-2.3z"/>
<path color="#808ec9" d="M1663.9,395.2l12.5,5.2 10.2-3.2-12.4-3.9z"/>
<path color="#818eca" d="M1653.7,397l12.4,6.2 10.4-3-12.5-5.1z"/>
<path color="#818ec9" d="M1643.4,398.8l12.4,6.8 10.5-2.6-12.5-6.1z"/>
<path color="#7783bb" d="M1557.1,414l12.7-1 11.1-0.3-12.6-0.8z"/>
<path color="#363b55" d="M1545.8,416l12.7-2.8 11.3-0.2-12.7,0.9z"/>
<path color="#383e58" d="M1534.5,418l12.6-4.2 11.4-0.5-12.6,2.8z"/>
<path color="#39405a" d="M1523,420l12.6-5.3 11.6-0.8-12.6,4.2z"/>
<path color="#3a415c" d="M1511.4,422l12.6-6 11.7-1.2-12.6,5.3z"/>
<path color="#3b415d" d="M1499.7,424.1l12.6-6.3 11.8-1.7-12.6,6z"/>
<path color="#3b425d" d="M1487.8,426.2l12.6-6.1 12-2.2-12.6,6.3z"/>
<path color="#3b415d" d="M1475.9,428.3l12.6-5.4 12-2.7-12.5,6.1z"/>
<path color="#3a405b" d="M1463.8,430.4l12.6-4.3 12.2-3.1-12.6,5.4z"/>
<path color="#7784bb" d="M1439.3,434.7l12.6-0.8 12.4-4.1-12.6,2.5z"/>
<path color="#7a87c1" d="M1426.8,436.8l12.6,1.1 12.6-4.2-12.6,0.8z"/>
<path d="M1427,436.8L1439.4,437.7" stroke="#1a0d08" stroke-width="1.35" fill="none" stroke-linecap="round"/>
<path color="#7c8ac4" d="M1911.8,355.7l12.3,0.1 8.1-4.5-12.3,1.5z"/>
<path d="M1920.1,352.8L1932.1,351.3" stroke="#1a0d08" stroke-width="1.35" fill="none" stroke-linecap="round"/>
<path color="#7f8dc8" d="M1903.7,358.5l12.3,1.4 8.1-4.3-12.2,0z"/>
<path color="#818fca" d="M1895.5,361.1l12.2,2.5 8.3-3.9-12.2-1.4z"/>
<path color="#818fcb" d="M1887.3,363.4l12.2,3.4 8.3-3.3-12.2-2.6z"/>
<path color="#7784bc" d="M1836.3,370.4l12.4,1.5 8.7,0.7-12.4-2.6z"/>
<path color="#7581b8" d="M1827.5,370.6l12.5,0.1 8.7,1.2-12.4-1.5z"/>
<path color="#333951" d="M1818.7,370.7l12.5-1.6 8.8,1.6-12.4,0z"/>
<path color="#353b54" d="M1809.8,370.8l12.5-3.2 8.9,1.6-12.4,1.6z"/>
<path color="#383e58" d="M1800.9,370.9l12.5-4.8 9,1.6-12.5,3.1z"/>
<path color="#3a405b" d="M1791.8,371.2l12.5-6.1 9.1,1.1-12.5,4.8z"/>
<path color="#3b425e" d="M1782.7,371.9l12.5-7.3 9.2,0.6-12.5,6.1z"/>
<path color="#3d4360" d="M1773.4,372.8l12.6-8 9.3-0.2-12.6,7.3z"/>
<path color="#3e4461" d="M1764.1,374.3l12.6-8.4 9.4-1-12.6,8z"/>
<path color="#3e4461" d="M1754.7,376.1l12.6-8.1 9.5-2-12.6,8.3z"/>
<path color="#7481b7" d="M1716.2,387.3l12.6-3.2 9.8-4.9-12.7,4.8z"/>
<path color="#7885be" d="M1706.3,390.6l12.6-1.4 9.9-5.2-12.6,3.2z"/>
<path color="#7c8ac4" d="M1696.4,393.9l12.6,0.3 10-5.2-12.6,1.4z"/>
<path color="#7f8dc8" d="M1686.3,397.2l12.6,1.7 10.1-4.9-12.6-0.2z"/>
<path color="#818fca" d="M1676.2,400.2l12.6,3 10.2-4.4-12.6-1.8z"/>
<path color="#818fcb" d="M1666,403l12.5,4 10.4-3.9-12.6-3z"/>
<path color="#818eca" d="M1655.6,405.5l12.6,4.5 10.5-3.2-12.6-3.9z"/>
<path color="#7784bc" d="M1602.6,412.1l12.7,1.8 10.9,0.6-12.7-3.2z"/>
<path color="#7581b8" d="M1591.7,412.5l12.8,0.2 10.9,1.1-12.8-1.8z"/>
<path color="#333951" d="M1580.6,412.8l12.8-1.6 11.1,1.5-12.8-0.2z"/>
<path color="#353b54" d="M1569.5,413l12.7-3.4 11.2,1.7-12.7,1.6z"/>
<path color="#383e58" d="M1558.3,413.4l12.7-5.1 11.3,1.5-12.7,3.3z"/>
<path color="#3a405b" d="M1546.9,414l12.7-6.7 11.5,1.1-12.7,5.1z"/>
<path color="#3b425e" d="M1535.4,414.9l12.7-8 11.6,0.5-12.7,6.7z"/>
<path color="#3d4360" d="M1523.8,416.2l12.7-8.7 11.7-0.5-12.7,8z"/>
<path color="#3e4461" d="M1512.1,418l12.7-9.1 11.8-1.4-12.7,8.8z"/>
<path color="#3e4461" d="M1500.3,420.3l12.7-8.8 11.9-2.5-12.7,9.1z"/>
<path color="#3e4461" d="M1488.3,423.1l12.7-8.1 12.1-3.4-12.7,8.8z"/>
<path color="#3d4360" d="M1476.2,426.3l12.8-6.8 12.1-4.4-12.7,8.1z"/>
<path color="#7481b7" d="M1451.7,433.8l12.7-3.2 12.5-5.9-12.8,5.3z"/>
<path color="#7885be" d="M1439.2,437.8l12.8-1.3 12.6-6.1-12.8,3.2z"/>
<path d="M1439.4,437.7L1452,436.3" stroke="#1a0d08" stroke-width="1.35" fill="none" stroke-linecap="round"/>
<path color="#7a87c0" d="M1923.9,355.7l12.3-1.6 8.1-5.9-12.4,3.1z"/>
<path d="M1932.1,351.3L1944.2,348.2" stroke="#1a0d08" stroke-width="1.35" fill="none" stroke-linecap="round"/>
<path color="#7e8bc5" d="M1915.7,359.8l12.4-0.3 8.2-5.5-12.4,1.6z"/>
<path color="#808dc9" d="M1907.5,363.5l12.4,0.8 8.2-4.9-12.3,0.3z"/>
<path color="#808eca" d="M1899.3,366.7l12.3,1.6 8.3-4.1-12.3-0.8z"/>
<path color="#808dc9" d="M1890.9,369.2l12.4,2.2 8.4-3.2-12.4-1.6z"/>
<path color="#7582b9" d="M1857.1,372.6l12.5,0.8 8.5,1-12.5-1.7z"/>
<path color="#31364d" d="M1848.4,371.9l12.6-0.4 8.6,1.9-12.5-0.8z"/>
<path color="#333850" d="M1839.7,370.7l12.6-1.8 8.7,2.7-12.6,0.3z"/>
<path color="#353a53" d="M1830.9,369.2l12.6-3.3 8.8,3.1-12.5,1.8z"/>
<path color="#373d57" d="M1822.1,367.7l12.6-5.1 8.9,3.4-12.6,3.3z"/>
<path color="#393f5a" d="M1813.1,366.3l12.6-6.8 9,3.3-12.5,5z"/>
<path color="#3b425d" d="M1804.1,365.2l12.6-8.3 9.1,2.7-12.6,6.8z"/>
<path color="#3d4460" d="M1795,364.7l12.7-9.6 9.1,1.9-12.6,8.3z"/>
<path color="#3f4563" d="M1785.8,365l12.7-10.5 9.2,0.7-12.6,9.6z"/>
<path color="#404764" d="M1776.5,366.2l12.7-10.9 9.4-0.7-12.7,10.5z"/>
<path color="#404765" d="M1767.1,368.2l12.7-10.5 9.5-2.3-12.7,10.8z"/>
<path color="#717db2" d="M1728.6,384.1l12.7-5 9.8-6.7-12.8,6.9z"/>
<path color="#7682b9" d="M1718.7,389.1l12.7-3.2 9.9-6.9-12.8,5z"/>
<path color="#7a87c0" d="M1708.7,394.1l12.8-1.6 10-6.8-12.8,3.3z"/>
<path color="#7e8bc5" d="M1698.7,398.8l12.7-0.1 10.1-6.4-12.7,1.6z"/>
<path color="#808dc9" d="M1688.6,403.1l12.7,1.2 10.2-5.7-12.7,0.1z"/>
<path color="#808eca" d="M1678.4,406.9l12.7,2 10.3-4.8-12.7-1.1z"/>
<path color="#808dc9" d="M1668,409.9l12.8,2.6 10.4-3.8-12.8-2z"/>
<path color="#7e8bc6" d="M1657.6,412.2l12.8,2.8 10.5-2.6-12.8-2.6z"/>
<path color="#7582b9" d="M1625.9,414.4l12.8,1.2 10.7,0.8-12.8-2.1z"/>
<path color="#31364d" d="M1615.1,413.8l12.8-0.2 10.8,2-12.8-1.1z"/>
<path color="#333850" d="M1604.2,412.7l12.8-1.8 11,2.8-12.9,0.2z"/>
<path color="#353a53" d="M1593.1,411.3l12.9-3.5 11.1,3.3-12.9,1.8z"/>
<path color="#373d57" d="M1582,409.8l12.8-5.4 11.3,3.5-12.8,3.5z"/>
<path color="#393f5a" d="M1570.8,408.4l12.8-7.3 11.4,3.4-12.9,5.4z"/>
<path color="#3b425d" d="M1559.4,407.5l12.9-9.1 11.4,2.8-12.8,7.4z"/>
<path color="#3d4460" d="M1548,407.2l12.8-10.6 11.6,1.9-12.8,9.1z"/>
<path color="#3f4563" d="M1536.4,407.7l12.8-11.5 11.7,0.5-12.8,10.5z"/>
<path color="#404764" d="M1524.7,409.2l12.8-11.9 11.8-1.1-12.8,11.5z"/>
<path color="#404765" d="M1512.8,411.7l12.9-11.6 11.9-2.7-12.8,11.8z"/>
<path color="#404765" d="M1500.9,415.3l12.8-10.8 12.1-4.3-12.9,11.6z"/>
<path color="#3f4664" d="M1488.8,419.7l12.8-9.3 12.2-5.8-12.8,10.7z"/>
<path color="#717db2" d="M1464.3,430.5l12.8-5.4 12.5-7.7-12.9,7.5z"/>
<path color="#7682b9" d="M1451.8,436.4l12.9-3.4 12.5-8.1-12.8,5.4z"/>
<path d="M1452,436.3L1464.7,432.8" stroke="#1a0d08" stroke-width="1.35" fill="none" stroke-linecap="round"/>
<path color="#7885bd" d="M1936,354.1l12.5-2.9 8.1-7.5-12.5,4.5z"/>
<path d="M1944.2,348.2L1956.5,343.8" stroke="#1a0d08" stroke-width="1.35" fill="none" stroke-linecap="round"/>
<path color="#7c89c2" d="M1927.8,359.5l12.5-1.6 8.2-6.9-12.5,2.9z"/>
<path color="#7e8bc6" d="M1919.6,364.3l12.5-0.5 8.3-6-12.5,1.5z"/>
<path color="#7f8cc7" d="M1911.4,368.3l12.5,0.2 8.3-4.9-12.5,0.5z"/>
<path color="#7e8cc6" d="M1903.1,371.3l12.5,0.8 8.3-3.7-12.5-0.3z"/>
<path color="#7c89c3" d="M1894.7,373.4l12.6,0.9 8.3-2.3-12.5-0.8z"/>
<path color="#7582b9" d="M1877.8,374.4l12.6,0.2 8.5,0.5-12.6-0.7z"/>
<path color="#32374e" d="M1869.3,373.4l12.6-0.6 8.5,1.8-12.6-0.2z"/>
<path color="#333850" d="M1860.7,371.6l12.6-1.8 8.6,3.1-12.6,0.6z"/>
<path color="#343952" d="M1852,369l12.7-3.1 8.7,4.1-12.7,1.7z"/>
<path color="#353b54" d="M1843.3,366l12.6-4.7 8.8,4.7-12.6,3.2z"/>
<path color="#373d57" d="M1834.5,362.8l12.7-6.5 8.8,5.1-12.6,4.7z"/>
<path color="#3a405b" d="M1825.5,359.7l12.8-8.4 9,5.1-12.7,6.5z"/>
<path color="#3c435f" d="M1816.6,357.1l12.7-10.2 9.1,4.5-12.8,8.4z"/>
<path color="#3f4562" d="M1807.5,355.3l12.8-11.7 9.1,3.4-12.7,10.2z"/>
<path color="#404765" d="M1798.3,354.8l12.8-12.8 9.3,1.7-12.8,11.7z"/>
<path color="#424967" d="M1789,355.6l12.8-13.2 9.4-0.4-12.8,12.8z"/>
<path color="#424968" d="M1779.6,357.9l12.9-12.9 9.4-2.6-12.8,13.2z"/>
<path color="#424967" d="M1770.1,361.7l12.9-12 9.5-4.7-12.8,12.9z"/>
<path color="#404765" d="M1750.9,372.6l12.9-8.6 9.6-7.7-12.8,10.4z"/>
<path color="#6e7aad" d="M1741.1,379.1l12.9-6.6 9.8-8.5-13,8.6z"/>
<path color="#737fb5" d="M1731.2,385.8l12.9-4.7 9.9-8.7-12.9,6.6z"/>
<path color="#7885bd" d="M1721.3,392.5l12.8-3 10-8.5-12.9,4.7z"/>
<path color="#7c89c2" d="M1711.2,398.6l12.8-1.5 10.2-7.8-12.9,3z"/>
<path color="#7e8bc6" d="M1701.1,404.2l12.8-0.4 10.2-6.9-12.8,1.6z"/>
<path color="#7f8cc7" d="M1690.9,408.8l12.8,0.5 10.3-5.7-12.8,0.4z"/>
<path color="#7e8cc6" d="M1680.6,412.4l12.8,1.1 10.4-4.3-12.9-0.6z"/>
<path color="#7c89c3" d="M1670.2,414.9l12.9,1.3 10.4-2.9-12.9-1z"/>
<path color="#7582b9" d="M1649.1,416.4l13,0.5 10.6,0.3-13-1z"/>
<path color="#32374e" d="M1638.4,415.5l13-0.5 10.7,1.9-13-0.4z"/>
<path color="#333850" d="M1627.7,413.7l12.9-1.7 10.8,3.2-12.9,0.5z"/>
<path color="#343952" d="M1616.8,411.1l12.9-3.3 11,4.3-12.9,1.7z"/>
<path color="#353b54" d="M1605.8,407.9l12.9-5.1 11.1,5.1-12.9,3.3z"/>
<path color="#373d57" d="M1594.7,404.5l12.9-7 11.2,5.5-12.9,5.1z"/>
<path color="#3a405b" d="M1583.4,401.3l13-9.2 11.3,5.5-12.9,7.1z"/>
<path color="#3c435f" d="M1572.1,398.6l13-11.2 11.4,4.9-12.9,9.1z"/>
<path color="#3f4562" d="M1560.6,396.8l13-12.9 11.6,3.6-13,11.2z"/>
<path color="#404765" d="M1549.1,396.4l12.9-14.1 11.7,1.7-12.9,12.9z"/>
<path color="#424967" d="M1537.4,397.5l12.9-14.6 11.9-0.5-13,14.1z"/>
<path color="#424968" d="M1525.5,400.3l13-14.2 12-3.1-13,14.6z"/>
<path color="#424967" d="M1513.6,404.8l13-13.2 12-5.5-13,14.3z"/>
<path color="#414866" d="M1501.5,410.6l13-11.5 12.2-7.4-13,13.1z"/>
<path color="#6e7aad" d="M1477,425.1l13-7.1 12.4-9.9-13.1,9.5z"/>
<path color="#737fb5" d="M1464.5,432.9l13-5 12.6-10.1-13,7.1z"/>
<path d="M1464.7,432.8L1477.5,427.7" stroke="#1a0d08" stroke-width="1.35" fill="none" stroke-linecap="round"/>
<path color="#7783ba" d="M1948.2,351.2l12.6-3.6 8.2-9-12.7,5.1z"/>
<path d="M1956.5,343.8L1968.8,338.6" stroke="#1a0d08" stroke-width="1.35" fill="none" stroke-linecap="round"/>
<path color="#7a88c0" d="M1940.1,357.9l12.6-2.4 8.2-8.1-12.6,3.6z"/>
<path color="#7d8ac4" d="M1931.9,363.7l12.6-1.3 8.2-7-12.6,2.3z"/>
<path color="#7e8bc6" d="M1923.6,368.5l12.6-0.6 8.3-5.7-12.6,1.4z"/>
<path color="#7d8ac5" d="M1915.3,372l12.7-0.2 8.3-4.1-12.6,0.6z"/>
<path color="#7a88c1" d="M1907,374.2l12.7,0 8.3-2.5-12.6,0.2z"/>
<path color="#7784bb" d="M1898.6,375.1l12.7-0.2 8.4-0.8-12.7,0.1z"/>
<path color="#333850" d="M1890.1,374.6l12.8-0.7 8.4,1-12.7,0.2z"/>
<path color="#333850" d="M1881.6,372.9l12.8-1.5 8.5,2.6-12.7,0.7z"/>
<path color="#333951" d="M1873.1,369.9l12.7-2.5 8.6,4.1-12.7,1.5z"/>
<path color="#343a52" d="M1864.4,366l12.8-3.8 8.7,5.3-12.7,2.6z"/>
<path color="#353b54" d="M1855.7,361.4l12.8-5.5 8.8,6.4-12.8,3.9z"/>
<path color="#373d57" d="M1847,356.4l12.8-7.3 8.8,7-12.8,5.5z"/>
<path color="#39405a" d="M1838.1,351.5l12.8-9.4 9,7.1-12.8,7.4z"/>
<path color="#3c435e" d="M1829.1,347.1l12.9-11.5 9.1,6.6-12.9,9.4z"/>
<path color="#3f4663" d="M1820.1,343.8l12.9-13.4 9.1,5.3-12.9,11.5z"/>
<path color="#424966" d="M1810.9,342.2l13-14.8 9.2,3.1-12.9,13.4z"/>
<path color="#444c6b" d="M1801.7,342.6l12.9-15.4 9.4,0.2-13,14.9z"/>
<path color="#454d6c" d="M1792.3,345.2l13-14.9 9.4-3-13,15.4z"/>
<path color="#444c6c" d="M1782.8,350l13-13.7 9.5-6-12.9,15z"/>
<path color="#6772a2" d="M1763.5,364.2l13.1-9.7 9.6-9.9-13,11.9z"/>
<path color="#6c78ab" d="M1753.7,372.6l13-7.5 9.8-10.7-13,9.7z"/>
<path color="#727eb3" d="M1743.8,381.1l13-5.5 9.9-10.7-13,7.5z"/>
<path color="#7783ba" d="M1733.9,389.4l12.9-3.8 10.1-10.2-13,5.5z"/>
<path color="#7a88c0" d="M1723.8,397l13-2.4 10.1-9.2-13,3.8z"/>
<path color="#7d8ac4" d="M1713.7,403.7l13-1.3 10.2-8-13,2.4z"/>
<path color="#7e8bc6" d="M1703.5,409.2l13-0.5 10.3-6.5-13,1.3z"/>
<path color="#7d8ac5" d="M1693.2,413.4l13,0 10.4-4.8-13,0.4z"/>
<path color="#7a88c1" d="M1682.8,416l13.1,0.2 10.4-3-13,0z"/>
<path color="#333850" d="M1661.8,416.9l13.1-0.6 10.6,0.9-13.1,0.1z"/>
<path color="#333850" d="M1651.1,415.1l13.1-1.5 10.7,2.8-13,0.6z"/>
<path color="#333951" d="M1640.4,412.1l13-2.7 10.9,4.4-13.1,1.5z"/>
<path color="#343a52" d="M1629.5,407.9l13.1-4.1 10.9,5.8-13,2.6z"/>
<path color="#353b54" d="M1618.5,403l13.1-5.9 11.1,6.9-13.1,4.1z"/>
<path color="#373d57" d="M1607.5,397.6l13-8 11.2,7.6-13,5.9z"/>
<path color="#39405a" d="M1596.2,392.3l13.1-10.3 11.4,7.7-13.1,8.1z"/>
<path color="#3c435e" d="M1584.9,387.6l13.1-12.7 11.5,7.2-13.1,10.3z"/>
<path color="#3f4663" d="M1573.5,384.1l13.1-14.8 11.6,5.7-13.1,12.7z"/>
<path color="#424966" d="M1561.9,382.5l13.1-16.4 11.7,3.3-13.1,14.8z"/>
<path color="#444c6b" d="M1550.2,383.2l13.1-17.1 11.8,0-13.1,16.5z"/>
<path color="#454d6c" d="M1538.4,386.3l13.1-16.6 11.9-3.5-13.1,17z"/>
<path color="#444c6c" d="M1526.4,391.9l13.1-15.2 12.1-6.9-13.1,16.6z"/>
<path color="#434a69" d="M1514.3,399.4l13.2-13.1 12.1-9.5-13.1,15.1z"/>
<path color="#6c78ab" d="M1489.8,417.9l13.1-8.1 12.4-12.2-13.2,10.5z"/>
<path color="#727eb3" d="M1477.4,427.8l13.1-5.9 12.5-12.3-13.1,8.1z"/>
<path d="M1477.5,427.7L1490.4,421.7" stroke="#1a0d08" stroke-width="1.35" fill="none" stroke-linecap="round"/>
<path color="#7784bb" d="M1960.6,347.5l12.7-3.7 8.1-10.4-12.7,5.1z"/>
<path d="M1968.8,338.6L1981.3,333.4M1973.2,343.7L1981.3,333.4" stroke="#1a0d08" stroke-width="1.35" fill="none" stroke-linecap="round"/>
<path color="#7b88c1" d="M1952.4,355.5l12.7-2.5 8.2-9.4-12.7,3.7z"/>
<path d="M1965,352.8L1973.2,343.7" stroke="#1a0d08" stroke-width="1.35" fill="none" stroke-linecap="round"/>
<path color="#7d8bc4" d="M1944.2,362.3l12.7-1.6 8.3-7.9-12.7,2.5z"/>
<path d="M1956.9,360.6L1965,352.8" stroke="#1a0d08" stroke-width="1.35" fill="none" stroke-linecap="round"/>
<path color="#7e8bc6" d="M1936,367.8l12.7-1 8.3-6.3-12.7,1.6z"/>
<path d="M1948.6,366.7L1956.9,360.6" stroke="#1a0d08" stroke-width="1.35" fill="none" stroke-linecap="round"/>
<path color="#7d8ac4" d="M1927.7,371.8l12.8-0.6 8.3-4.5-12.8,1z"/>
<path d="M1940.4,371.1L1948.6,366.7" stroke="#1a0d08" stroke-width="1.35" fill="none" stroke-linecap="round"/>
<path color="#7a87c0" d="M1919.4,374.1l12.8-0.4 8.3-2.7-12.8,0.7z"/>
<path d="M1932,373.6L1940.4,371.1" stroke="#1a0d08" stroke-width="1.35" fill="none" stroke-linecap="round"/>
<path color="#7682ba" d="M1911,374.9l12.8-0.7 8.4-0.6-12.8,0.5z"/>
<path d="M1923.7,374.2L1932,373.6" stroke="#1a0d08" stroke-width="1.35" fill="none" stroke-linecap="round"/>
<path color="#333951" d="M1902.6,374l12.8-1.2 8.4,1.4-12.8,0.7z"/>
<path d="M1915.3,372.9L1923.7,374.2" stroke="#1a0d08" stroke-width="1.35" fill="none" stroke-linecap="round"/>
<path color="#333850" d="M1894.1,371.5l12.8-1.8 8.5,3.2-12.8,1.2z"/>
<path d="M1906.8,369.8L1915.3,372.9" stroke="#1a0d08" stroke-width="1.35" fill="none" stroke-linecap="round"/>
<path color="#333850" d="M1885.6,367.5l12.8-2.7 8.6,5-12.8,1.8z"/>
<path d="M1898.3,364.9L1906.8,369.8" stroke="#1a0d08" stroke-width="1.35" fill="none" stroke-linecap="round"/>
<path color="#333951" d="M1877,362.3l12.8-4 8.7,6.6-12.8,2.7z"/>
<path d="M1889.8,358.4L1898.3,364.9" stroke="#1a0d08" stroke-width="1.35" fill="none" stroke-linecap="round"/>
<path color="#343a52" d="M1868.3,356.1l12.9-5.6 8.7,8-12.8,3.9z"/>
<path d="M1881.2,350.7L1889.8,358.4" stroke="#1a0d08" stroke-width="1.35" fill="none" stroke-linecap="round"/>
<path color="#363c55" d="M1859.6,349.2l12.9-7.4 8.8,8.9-12.9,5.5z"/>
<path d="M1872.5,341.9L1881.2,350.7" stroke="#1a0d08" stroke-width="1.35" fill="none" stroke-linecap="round"/>
<path color="#383e58" d="M1850.8,342.2l12.9-9.6 8.9,9.3-12.9,7.5z"/>
<path d="M1863.7,332.8L1872.5,341.9" stroke="#1a0d08" stroke-width="1.35" fill="none" stroke-linecap="round"/>
<path color="#3b415c" d="M1841.8,335.8l13.1-12.1 9,9-13,9.7z"/>
<path d="M1854.8,323.8L1863.7,332.8" stroke="#1a0d08" stroke-width="1.35" fill="none" stroke-linecap="round"/>
<path color="#3f4562" d="M1832.8,330.6l13.1-14.5 9.1,7.7-13,12.1z"/>
<path d="M1845.9,316.2L1854.8,323.8" stroke="#1a0d08" stroke-width="1.35" fill="none" stroke-linecap="round"/>
<path color="#434a68" d="M1823.7,327.6l13.1-16.5 9.2,5-13.1,14.6z"/>
<path d="M1836.8,311.2L1845.9,316.2" stroke="#1a0d08" stroke-width="1.35" fill="none" stroke-linecap="round"/>
<path color="#474e6e" d="M1814.5,327.4l13.1-17.3 9.3,1-13.1,16.5z"/>
<path d="M1827.5,310.3L1836.8,311.2" stroke="#1a0d08" stroke-width="1.35" fill="none" stroke-linecap="round"/>
<path color="#484f70" d="M1805.1,330.5l13.1-16.7 9.5-3.6-13.1,17.3z"/>
<path d="M1818.2,314L1827.5,310.3" stroke="#1a0d08" stroke-width="1.35" fill="none" stroke-linecap="round"/>
<path color="#464e6e" d="M1795.6,336.5l13.1-14.8 9.6-7.8-13.1,16.6z"/>
<path d="M1808.7,321.9L1818.2,314M1799,332.6L1808.7,321.9" stroke="#1a0d08" stroke-width="1.35" fill="none" stroke-linecap="round"/>
<path color="#6772a2" d="M1776.3,354.6l13.2-9.8 9.7-12.4-13.2,12.4z"/>
<path d="M1789.3,344.8L1799,332.6" stroke="#1a0d08" stroke-width="1.35" fill="none" stroke-linecap="round"/>
<path color="#6d79ac" d="M1766.5,365.1l13.1-7.5 9.8-12.9-13.1,9.7z"/>
<path d="M1779.5,357.5L1789.3,344.8" stroke="#1a0d08" stroke-width="1.35" fill="none" stroke-linecap="round"/>
<path color="#727fb4" d="M1756.6,375.6l13.1-5.6 9.9-12.6-13.1,7.5z"/>
<path d="M1769.6,369.9L1779.5,357.5" stroke="#1a0d08" stroke-width="1.35" fill="none" stroke-linecap="round"/>
<path color="#7784bb" d="M1746.6,385.5l13.1-3.9 10-11.8-13,5.5z"/>
<path d="M1759.7,381.4L1769.6,369.9" stroke="#1a0d08" stroke-width="1.35" fill="none" stroke-linecap="round"/>
<path color="#7b88c1" d="M1736.6,394.6l13.1-2.7 10.1-10.5-13.1,3.9z"/>
<path d="M1749.6,391.8L1759.7,381.4" stroke="#1a0d08" stroke-width="1.35" fill="none" stroke-linecap="round"/>
<path color="#7d8bc4" d="M1726.5,402.3l13-1.6 10.2-9-13,2.7z"/>
<path d="M1739.5,400.6L1749.6,391.8" stroke="#1a0d08" stroke-width="1.35" fill="none" stroke-linecap="round"/>
<path color="#7e8bc6" d="M1716.3,408.6l13.1-0.8 10.2-7.3-13.1,1.7z"/>
<path d="M1729.3,407.6L1739.5,400.6" stroke="#1a0d08" stroke-width="1.35" fill="none" stroke-linecap="round"/>
<path color="#7d8ac4" d="M1706,413.3l13.1-0.5 10.3-5.2-13.1,0.9z"/>
<path d="M1719,412.7L1729.3,407.6" stroke="#1a0d08" stroke-width="1.35" fill="none" stroke-linecap="round"/>
<path color="#7a87c0" d="M1695.6,416.1l13.2-0.3 10.4-3.1-13.2,0.4z"/>
<path d="M1708.7,415.7L1719,412.7" stroke="#1a0d08" stroke-width="1.35" fill="none" stroke-linecap="round"/>
<path color="#7682ba" d="M1685.2,417.2l13.2-0.6 10.4-0.9-13.2,0.4z"/>
<path d="M1698.2,416.6L1708.7,415.7" stroke="#1a0d08" stroke-width="1.35" fill="none" stroke-linecap="round"/>
<path color="#333951" d="M1674.6,416.3l13.2-1 10.6,1.3-13.2,0.6z"/>
<path d="M1687.7,415.4L1698.2,416.6" stroke="#1a0d08" stroke-width="1.35" fill="none" stroke-linecap="round"/>
<path color="#333850" d="M1664,413.8l13.1-1.8 10.8,3.4-13.2,1.1z"/>
<path d="M1677.1,412.1L1687.7,415.4" stroke="#1a0d08" stroke-width="1.35" fill="none" stroke-linecap="round"/>
<path color="#333850" d="M1653.2,409.6l13.2-2.9 10.8,5.4-13.1,1.8z"/>
<path d="M1666.4,406.8L1677.1,412.1" stroke="#1a0d08" stroke-width="1.35" fill="none" stroke-linecap="round"/>
<path color="#333951" d="M1642.4,403.9l13.2-4.2 10.9,7.2-13.2,2.8z"/>
<path d="M1655.5,399.8L1666.4,406.8" stroke="#1a0d08" stroke-width="1.35" fill="none" stroke-linecap="round"/>
<path color="#343a52" d="M1631.4,397.2l13.2-6 11.1,8.7-13.2,4.2z"/>
<path d="M1644.6,391.4L1655.5,399.8" stroke="#1a0d08" stroke-width="1.35" fill="none" stroke-linecap="round"/>
<path color="#363c55" d="M1620.4,389.7l13.2-8 11.2,9.7-13.2,5.9z"/>
<path d="M1633.6,381.8L1644.6,391.4" stroke="#1a0d08" stroke-width="1.35" fill="none" stroke-linecap="round"/>
<path color="#383e58" d="M1609.2,382.1l13.2-10.5 11.3,10.2-13.2,8.1z"/>
<path d="M1622.4,371.7L1633.6,381.8" stroke="#1a0d08" stroke-width="1.35" fill="none" stroke-linecap="round"/>
<path color="#3b415c" d="M1597.9,375.1l13.2-13.3 11.5,9.9-13.3,10.6z"/>
<path d="M1611.1,361.9L1622.4,371.7" stroke="#1a0d08" stroke-width="1.35" fill="none" stroke-linecap="round"/>
<path color="#3f4562" d="M1586.4,369.5l13.3-16.1 11.6,8.5-13.3,13.3z"/>
<path d="M1599.7,353.6L1611.1,361.9" stroke="#1a0d08" stroke-width="1.35" fill="none" stroke-linecap="round"/>
<path color="#434a68" d="M1574.9,366.3l13.3-18.3 11.6,5.5-13.2,16.1z"/>
<path d="M1588.1,348.2L1599.7,353.6" stroke="#1a0d08" stroke-width="1.35" fill="none" stroke-linecap="round"/>
<path color="#474e6e" d="M1563.2,366.3l13.3-19.2 11.8,1-13.3,18.3z"/>
<path d="M1576.4,347.3L1588.1,348.2" stroke="#1a0d08" stroke-width="1.35" fill="none" stroke-linecap="round"/>
<path color="#484f70" d="M1551.4,370l13.2-18.5 12-4.3-13.3,19.2z"/>
<path d="M1564.6,351.7L1576.4,347.3" stroke="#1a0d08" stroke-width="1.35" fill="none" stroke-linecap="round"/>
<path color="#464e6e" d="M1539.4,377l13.3-16.5 12-9-13.2,18.5z"/>
<path d="M1552.6,360.7L1564.6,351.7" stroke="#1a0d08" stroke-width="1.35" fill="none" stroke-linecap="round"/>
<path color="#444b6b" d="M1527.3,386.5l13.3-13.7 12.1-12.2-13.2,16.4z"/>
<path d="M1540.5,372.9L1552.6,360.7" stroke="#1a0d08" stroke-width="1.35" fill="none" stroke-linecap="round"/>
<path color="#6772a2" d="M1515.1,397.8l13.3-10.8 12.3-14.2-13.4,13.7z"/>
<path d="M1528.3,386.9L1540.5,372.9" stroke="#1a0d08" stroke-width="1.35" fill="none" stroke-linecap="round"/>
<path color="#6d79ac" d="M1502.8,409.8l13.2-8.2 12.4-14.8-13.2,10.7z"/>
<path d="M1516,401.4L1528.3,386.9" stroke="#1a0d08" stroke-width="1.35" fill="none" stroke-linecap="round"/>
<path color="#727fb4" d="M1490.3,421.8l13.3-6 12.5-14.5-13.2,8.2z"/>
<path d="M1490.4,421.7L1503.5,415.6L1516,401.4M1309.8,87L1319.5,85.9" stroke="#1a0d08" stroke-width="1.35" fill="none" stroke-linecap="round"/>
<path color="#f78031" d="M1299.9,89.9l8.8-1.9 10-2.6-8.8,1.5z"/>
<path d="M1300,89.9L1309.8,87" stroke="#1a0d08" stroke-width="1.35" fill="none" stroke-linecap="round"/>
<path color="#f88132" d="M1290.1,94.4l8.8-2.4 10.1-4.2-8.9,1.9z"/>
<path d="M1051.9,94.5L1063.7,93.2" stroke="#1a0d08" stroke-width="1.35" fill="none" stroke-linecap="round"/>
<path color="#f78031" d="M1039.9,97.7l8.6-2.1 12.2-2.9-8.6,1.8z"/>
<path d="M1040.1,97.7L1051.9,94.5" stroke="#1a0d08" stroke-width="1.35" fill="none" stroke-linecap="round"/>
<path color="#f88132" d="M1028,102.7l8.6-2.7 12.2-4.5-8.6,2.1z"/>
<path d="M1028.2,102.7L1040.1,97.7" stroke="#1a0d08" stroke-width="1.35" fill="none" stroke-linecap="round"/>
<path color="#f68032" d="M1016.1,109.4l8.5-3.6 12.3-6-8.6,2.8z"/>
<path d="M1016.2,109.4L1028.2,102.7M1004.1,117.6L1016.2,109.4M992,127.1L1000.5,120.9M992,127.1L1004.1,117.6" stroke="#1a0d08" stroke-width="1.35" fill="none" stroke-linecap="round"/>
<path color="#673514" d="M1318.4,85.4l8.9-1.4 10-0.8-8.8,1.2z"/>
<path color="#f78031" d="M1308.7,87.9l8.8-1.6 10.1-2.2-8.9,1.2z"/>
<path color="#f88132" d="M1298.8,91.9l8.9-2.3 10.1-3.4-8.9,1.6z"/>
<path color="#f68031" d="M1288.9,97.1l8.9-3.1 10.2-4.5-9,2.2z"/>
<path color="#673514" d="M1060.4,92.7l8.7-1.4 12.1-1-8.7,1.3z"/>
<path color="#f78031" d="M1048.5,95.6l8.7-1.9 12.2-2.4-8.7,1.4z"/>
<path color="#f88132" d="M1036.6,99.9l8.7-2.5 12.2-3.7-8.7,1.7z"/>
<path color="#f68031" d="M1024.6,105.8l8.6-3.5 12.3-5-8.6,2.5z"/>
<path color="#f17e30" d="M1012.5,112.9l8.6-4.8 12.4-6-8.6,3.5z"/>
<path color="#773e17" d="M1000.3,121l8.6-6.4 12.5-6.6-8.6,4.7z"/>
<path d="M1000.5,120.9L1009,114.6" stroke="#1a0d08" stroke-width="1.35" fill="none" stroke-linecap="round"/>
<path color="#f68031" d="M1327.3,84.1l8.9-0.4 10-0.8-8.9,0.2z"/>
<path color="#f98132" d="M1317.5,86.2l9-0.7 10-1.9-9,0.4z"/>
<path color="#fa8232" d="M1307.7,89.5l8.9-1.4 10.1-2.8-9,0.8z"/>
<path color="#f88132" d="M1297.8,93.9l8.9-2.4 10.2-3.6-9,1.5z"/>
<path color="#f68031" d="M1069.1,91.3l8.8-0.4 12.1-0.9-8.8,0.3z"/>
<path color="#f98132" d="M1057.2,93.7l8.8-0.9 12.2-2-8.8,0.5z"/>
<path color="#fa8232" d="M1045.3,97.4l8.7-1.7 12.3-3-8.8,0.9z"/>
<path color="#f88132" d="M1033.2,102.3l8.7-2.8 12.4-3.9-8.8,1.7z"/>
<path color="#f47f31" d="M1021.1,108.1l8.7-4.1 12.4-4.6-8.7,2.7z"/>
<path color="#753c17" d="M1008.9,114.7l8.6-5.7 12.5-5.1-8.6,4.1z"/>
<path d="M1009,114.6L1017.6,109" stroke="#1a0d08" stroke-width="1.35" fill="none" stroke-linecap="round"/>
<path color="#5e3112" d="M1355.6,83.1l9,0.8 9.9,0.7-9.1-0.3z"/>
<path color="#f57f30" d="M1345.9,82.9l9.1,1.1 9.9-0.1-9.1-0.9z"/>
<path color="#f98132" d="M1336.2,83.6l9.1,1 9.9-0.8-9-1.1z"/>
<path color="#fc8332" d="M1326.4,85.3l9.1,0.6 10-1.5-9.1-0.9z"/>
<path color="#fd8433" d="M1316.6,88l9.1-0.3 10-2-9.1-0.5z"/>
<path color="#fc8332" d="M1306.7,91.4l9-1.3 10.2-2.5-9.1,0.2z"/>
<path color="#f88131" d="M1296.7,95.4l9-2.5 10.2-2.9-9,1.2z"/>
<path color="#5e3112" d="M1101.4,90.2l8.9,0.9 12,0.8-8.9-0.4z"/>
<path color="#f57f30" d="M1089.7,90l8.9,1.1 12,0-8.9-0.9z"/>
<path color="#f98132" d="M1077.9,90.8l8.9,1.1 12.1-0.8-8.9-1.2z"/>
<path color="#fc8332" d="M1066,92.8l8.9,0.5 12.2-1.5-9-1z"/>
<path color="#fd8433" d="M1054,95.7l8.8-0.3 12.3-2.2-8.9-0.5z"/>
<path color="#fc8332" d="M1041.9,99.5l8.8-1.4 12.4-2.8-8.8,0.3z"/>
<path color="#f88131" d="M1029.8,104l8.7-2.8 12.5-3.2-8.8,1.4z"/>
<path color="#713a16" d="M1017.5,109l8.7-4.4 12.6-3.5-8.8,2.8z"/>
<path d="M1017.6,109L1026.4,104.6" stroke="#1a0d08" stroke-width="1.35" fill="none" stroke-linecap="round"/>
<path color="#5d3012" d="M1383.7,85.9l9,1.2 9.8,0.8-9.2-0.1z"/>
<path color="#f27d30" d="M1374.2,84.6l9.1,2.1 9.7,0.4-9.1-1.3z"/>
<path color="#f57f31" d="M1364.6,83.9l9.2,2.6 9.7,0.1-9.1-2.1z"/>
<path color="#f88132" d="M1355,83.8l9.1,2.8 9.9-0.2-9.2-2.6z"/>
<path color="#fb8332" d="M1345.2,84.4l9.2,2.7 9.9-0.6-9.2-2.8z"/>
<path color="#fd8433" d="M1335.4,85.7l9.2,2.2 10-1-9.2-2.6z"/>
<path color="#fe8433" d="M1325.6,87.6l9.1,1.4 10.1-1.3-9.2-2.1z"/>
<path color="#fe8433" d="M1315.6,90l9.2,0.3 10.1-1.5-9.1-1.4z"/>
<path color="#fb8232" d="M1305.6,92.8l9.1-0.9 10.3-1.7-9.2-0.3z"/>
<path color="#f68031" d="M1295.5,95.9l9.1-2.4 10.4-1.7-9.1,0.9z"/>
<path color="#5d3012" d="M1133.5,93.2l9,1.4 11.8,0.8-9-0.2z"/>
<path color="#f27d30" d="M1122,91.8l9,2.3 11.8,0.5-9-1.4z"/>
<path color="#f57f31" d="M1110.3,91.1l9.1,2.8 11.9,0.2-9.1-2.3z"/>
<path color="#f88132" d="M1098.6,91.1l9,3 12-0.2-9-2.9z"/>
<path color="#fb8332" d="M1086.8,91.8l9,2.9 12.1-0.7-9.1-3z"/>
<path color="#fd8433" d="M1074.8,93.2l9,2.4 12.2-1.1-9-2.8z"/>
<path color="#fe8433" d="M1062.8,95.3l9,1.5 12.3-1.3-9-2.4z"/>
<path color="#fe8433" d="M1050.7,98l8.9,0.4 12.5-1.7-9-1.5z"/>
<path color="#fb8232" d="M1038.5,101.2l8.9-1.1 12.5-1.8-8.9-0.4z"/>
<path color="#f68031" d="M1026.2,104.7l8.8-2.7 12.7-2-8.9,1.1z"/>
<path d="M1026.4,104.6L1035.2,102" stroke="#1a0d08" stroke-width="1.35" fill="none" stroke-linecap="round"/>
<path color="#6b3715" d="M1430,90.9l9.3-2.1 9.3-0.2-9.3,3.4z"/>
<path color="#663514" d="M1420.8,89.8l9.3-0.7 9.3-0.2-9.2,2.1z"/>
<path color="#613213" d="M1411.5,88.8l9.2,0.8 9.5-0.4-9.2,0.8z"/>
<path color="#f47f30" d="M1402.2,87.8l9.2,2.1 9.6-0.4-9.3-0.8z"/>
<path color="#f78031" d="M1392.7,87.1l9.3,3.1 9.6-0.4-9.3-2.1z"/>
<path color="#f88132" d="M1383.2,86.5l9.3,4 9.7-0.4-9.3-3.2z"/>
<path color="#fa8232" d="M1373.7,86.3l9.3,4.5 9.7-0.4-9.3-4z"/>
<path color="#fc8333" d="M1364,86.4l9.3,4.7 9.8-0.4-9.3-4.5z"/>
<path color="#fd8433" d="M1354.3,86.9l9.3,4.5 9.9-0.4-9.3-4.7z"/>
<path color="#fc8433" d="M1344.5,87.7l9.3,4.1 10-0.5-9.3-4.5z"/>
<path color="#fc8433" d="M1334.6,88.8l9.3,3.3 10.1-0.5-9.3-4z"/>
<path color="#fc8333" d="M1324.7,90.2l9.2,2.2 10.2-0.5-9.3-3.2z"/>
<path color="#fb8232" d="M1314.7,91.8l9.2,0.9 10.2-0.5-9.2-2.1z"/>
<path color="#f88131" d="M1304.6,93.5l9.1-0.6 10.4-0.4-9.2-0.8z"/>
<path color="#6b3715" d="M1187.8,98.7l9.1-2.3 11.3-0.2-9.1,3.6z"/>
<path color="#663514" d="M1176.6,97.5l9.1-0.7 11.4-0.3-9.1,2.3z"/>
<path color="#613213" d="M1165.3,96.4l9.1,0.9 11.6-0.4-9.1,0.7z"/>
<path color="#f47f30" d="M1154,95.4l9.1,2.3 11.6-0.5-9.1-0.8z"/>
<path color="#f78031" d="M1142.5,94.6l9.2,3.5 11.7-0.5-9.2-2.3z"/>
<path color="#f88132" d="M1131,94l9.1,4.4 11.8-0.4-9.1-3.5z"/>
<path color="#fa8232" d="M1119.3,93.8l9.2,5 11.9-0.5-9.2-4.4z"/>
<path color="#fc8333" d="M1107.6,94l9.1,5.2 12-0.5-9.2-5z"/>
<path color="#fd8433" d="M1095.7,94.5l9.2,5 12.1-0.4-9.2-5.2z"/>
<path color="#fc8433" d="M1083.8,95.4l9.1,4.5 12.2-0.5-9.1-5z"/>
<path color="#fc8433" d="M1071.8,96.7l9.1,3.6 12.3-0.5-9.2-4.5z"/>
<path color="#fc8333" d="M1059.6,98.3l9.1,2.4 12.4-0.5-9.1-3.6z"/>
<path color="#fb8232" d="M1047.4,100.1l9,0.9 12.5-0.4-9-2.4z"/>
<path color="#f88131" d="M1035,102l9-0.7 12.7-0.4-9-0.9z"/>
<path d="M1035.2,102L1044.1,101.3" stroke="#1a0d08" stroke-width="1.35" fill="none" stroke-linecap="round"/>
<path color="#6d3815" d="M1457.3,88.4l9.4-2.6 9.1-1-9.3,3.4z"/>
<path color="#6a3715" d="M1448.3,88.7l9.3-1.6 9.2-1.2-9.3,2.6z"/>
<path color="#f47f30" d="M1439.1,88.9l9.4,0 9.3-1.7-9.4,1.6z"/>
<path color="#f98132" d="M1429.9,89.2l9.4,1.3 9.3-1.7-9.3,0z"/>
<path color="#fc8333" d="M1420.7,89.5l9.3,2.7 9.4-1.8-9.3-1.3z"/>
<path color="#fe8433" d="M1411.3,89.8l9.4,4 9.5-1.7-9.4-2.7z"/>
<path color="#ff8534" d="M1401.9,90.1l9.3,5.1 9.6-1.5-9.3-4.1z"/>
<path color="#ff8635" d="M1392.4,90.4l9.4,6 9.6-1.3-9.4-5.2z"/>
<path color="#ff8735" d="M1382.8,90.6l9.4,6.7 9.7-1-9.4-6.1z"/>
<path color="#ff8735" d="M1373.2,90.9l9.3,6.9 9.8-0.6-9.3-6.7z"/>
<path color="#ff8635" d="M1363.5,91.3l9.3,6.6 9.9-0.2-9.4-6.9z"/>
<path color="#ff8534" d="M1353.7,91.6l9.3,6.1 10,0.1-9.4-6.7z"/>
<path color="#fd8433" d="M1343.8,91.9l9.3,5.3 10.1,0.4-9.4-6.1z"/>
<path color="#fa8232" d="M1333.8,92.2l9.4,4.1 10.1,0.7-9.3-5.2z"/>
<path color="#f78031" d="M1323.8,92.5l9.3,2.8 10.2,0.9-9.3-4.1z"/>
<path color="#f57f31" d="M1313.7,92.8l9.2,1.4 10.4,1-9.3-2.8z"/>
<path color="#6d3815" d="M1218.9,95.9l9.2-2.8 11.1-1.1-9.2,3.6z"/>
<path color="#6a3715" d="M1207.9,96.2l9.1-1.6 11.3-1.4-9.2,2.7z"/>
<path color="#f47f30" d="M1196.8,96.5l9.2-0.1 11.3-1.7-9.1,1.5z"/>
<path color="#f98132" d="M1185.7,96.9l9.2,1.4 11.4-1.9-9.2,0.1z"/>
<path color="#fc8333" d="M1174.4,97.2l9.3,3 11.4-2-9.2-1.4z"/>
<path color="#fe8433" d="M1163.1,97.6l9.2,4.4 11.6-1.9-9.3-3z"/>
<path color="#ff8534" d="M1151.6,97.9l9.3,5.7 11.6-1.7-9.2-4.5z"/>
<path color="#ff8635" d="M1140.1,98.3l9.3,6.6 11.7-1.4-9.3-5.7z"/>
<path color="#ff8735" d="M1128.4,98.6l9.3,7.3 11.8-1.1-9.2-6.6z"/>
<path color="#ff8735" d="M1116.7,99l9.3,7.6 11.9-0.8-9.3-7.3z"/>
<path color="#ff8635" d="M1104.8,99.4l9.3,7.3 12-0.2-9.2-7.6z"/>
<path color="#ff8534" d="M1092.9,99.7l9.2,6.8 12.2,0.2-9.3-7.4z"/>
<path color="#fd8433" d="M1080.8,100.1l9.2,5.9 12.3,0.4-9.2-6.8z"/>
<path color="#fa8232" d="M1068.6,100.5l9.2,4.6 12.4,0.8-9.2-5.9z"/>
<path color="#f78031" d="M1056.4,100.9l9.1,3.1 12.5,1-9.1-4.6z"/>
<path color="#f57f31" d="M1044,101.3l9,1.5 12.7,1.1-9.1-3.1z"/>
<path d="M1044.1,101.3L1053.2,102.7" stroke="#1a0d08" stroke-width="1.35" fill="none" stroke-linecap="round"/>
<path color="#693715" d="M1484.5,84.1l9.4-2 9-0.5-9.5,2.2z"/>
<path color="#693615" d="M1475.5,84.9l9.5-1.6 9-1.1-9.4,2.1z"/>
<path color="#f68031" d="M1466.5,86l9.5-0.6 9.1-2-9.6,1.5z"/>
<path color="#fb8232" d="M1457.5,87.3l9.4,0.5 9.2-2.5-9.4,0.5z"/>
<path color="#ff8534" d="M1448.3,88.8l9.5,1.7 9.2-2.9-9.4-0.5z"/>
<path color="#ff8735" d="M1439.1,90.4l9.4,3.1 9.4-3.2-9.4-1.7z"/>
<path color="#ff8936" d="M1429.9,92l9.4,4.5 9.4-3.2-9.4-3.1z"/>
<path color="#ff8a37" d="M1420.5,93.6l9.4,5.9 9.5-3.1-9.4-4.5z"/>
<path color="#f98132" d="M1343.1,96.1l9.4,6.1 10.1,2-9.4-7.3z"/>
<path color="#f47f31" d="M1333,95.1l9.4,4.8 10.2,2.2-9.4-6.1z"/>
<path color="#ef7c2f" d="M1322.9,94.1l9.3,3.2 10.4,2.5-9.4-4.7z"/>
<path color="#ed7b2f" d="M1312.7,93l9.3,1.7 10.5,2.5-9.4-3.2z"/>
<path color="#693715" d="M1249.7,91.2l9.3-2.2 10.9-0.6-9.3,2.4z"/>
<path color="#693615" d="M1238.9,92l9.2-1.6 11.1-1.3-9.2,2.1z"/>
<path color="#f68031" d="M1228,93.2l9.2-0.6 11.2-2.1-9.2,1.5z"/>
<path color="#fb8232" d="M1217,94.7l9.3,0.5 11.2-2.7-9.2,0.6z"/>
<path color="#ff8534" d="M1206,96.4l9.3,1.9 11.3-3.2-9.3-0.5z"/>
<path color="#ff8735" d="M1194.8,98.2l9.4,3.4 11.3-3.5-9.3-1.9z"/>
<path color="#ff8936" d="M1183.6,100l9.3,5 11.5-3.5-9.4-3.4z"/>
<path color="#ff8a37" d="M1172.2,101.8l9.4,6.5 11.5-3.4-9.3-5z"/>
<path color="#ff8b38" d="M1160.8,103.4l9.4,7.9 11.6-3.1-9.4-6.5z"/>
<path color="#ff8c38" d="M1149.3,104.7l9.4,9 11.7-2.5-9.4-7.9z"/>
<path color="#ff8b38" d="M1137.6,105.7l9.4,9.8 11.8-1.9-9.4-9z"/>
<path color="#ff8937" d="M1125.9,106.3l9.4,10 11.9-0.9-9.4-9.7z"/>
<path color="#ff8836" d="M1114,106.5l9.4,9.8 12,0-9.4-10z"/>
<path color="#ff8635" d="M1102,106.3l9.4,9.2 12.2,0.8-9.4-9.8z"/>
<path color="#fc8433" d="M1090,105.8l9.3,8.1 12.3,1.5-9.4-9.1z"/>
<path color="#f98132" d="M1077.8,104.9l9.2,6.8 12.5,2.1-9.3-8.1z"/>
<path color="#f47f31" d="M1065.4,103.9l9.3,5.1 12.6,2.6-9.3-6.8z"/>
<path color="#ef7c2f" d="M1053,102.7l9.2,3.5 12.7,2.8-9.2-5.2z"/>
<path d="M1053.2,102.7L1062.3,106.2" stroke="#1a0d08" stroke-width="1.35" fill="none" stroke-linecap="round"/>
<path color="#f57f31" d="M1493.7,82.3l9.6-0.3 8.9-0.8-9.6,0.4z"/>
<path color="#fa8232" d="M1484.8,83.5l9.5,0.3 9-1.9-9.5,0.2z"/>
<path color="#ff8533" d="M1475.8,85.3l9.5,1 9.1-2.7-9.5-0.3z"/>
<path color="#ff8835" d="M1466.7,87.6l9.5,2 9.2-3.5-9.5-1z"/>
<path color="#ff8a37" d="M1457.6,90.3l9.5,3.3 9.3-4.1-9.5-2z"/>
<path color="#ff8d39" d="M1448.4,93.3l9.5,4.6 9.3-4.5-9.5-3.2z"/>
<path color="#ff8f3b" d="M1439.1,96.4l9.5,6.1 9.4-4.7-9.5-4.6z"/>
<path color="#f57f31" d="M1258.9,89.1l9.3-0.2 11-0.9-9.3,0.4z"/>
<path color="#fa8232" d="M1248.1,90.5l9.4,0.3 11-2-9.3,0.2z"/>
<path color="#ff8533" d="M1237.2,92.5l9.4,1.1 11.1-2.9-9.4-0.3z"/>
<path color="#ff8835" d="M1226.3,95.1l9.4,2.2 11.1-3.8-9.4-1.1z"/>
<path color="#ff8a37" d="M1215.2,98.1l9.5,3.6 11.2-4.5-9.4-2.2z"/>
<path color="#ff8d39" d="M1204.1,101.4l9.4,5.1 11.3-5-9.4-3.5z"/>
<path color="#ff8f3b" d="M1192.8,104.8l9.5,6.8 11.4-5.2-9.5-5.1z"/>
<path color="#ff913d" d="M1181.5,108.1l9.5,8.5 11.5-5.1-9.5-6.8z"/>
<path color="#ff913d" d="M1170.1,111.1l9.5,10 11.6-4.7-9.5-8.4z"/>
<path color="#ff903c" d="M1158.5,113.5l9.5,11.3 11.7-3.8-9.5-10z"/>
<path color="#ff8e3b" d="M1146.9,115.2l9.5,12.1 11.8-2.6-9.5-11.3z"/>
<path color="#ff8b39" d="M1135.2,116.1l9.5,12.5 11.9-1.3-9.5-12.1z"/>
<path color="#ff8836" d="M1123.3,116.1l9.5,12.2 12,0.2-9.5-12.4z"/>
<path color="#fd8434" d="M1111.3,115.3l9.5,11.4 12.1,1.6-9.4-12.2z"/>
<path color="#f88233" d="M1099.2,113.7l9.4,10.2 12.3,2.8-9.4-11.5z"/>
<path color="#f47f31" d="M1087,111.5l9.4,8.7 12.4,3.7-9.4-10.3z"/>
<path color="#f07d30" d="M1074.6,108.9l9.4,7.1 12.6,4.2-9.4-8.8z"/>
<path color="#ec7b2f" d="M1062.2,106.1l9.3,5.4 12.7,4.4-9.3-7.1z"/>
<path d="M1062.3,106.2L1071.6,111.4" stroke="#1a0d08" stroke-width="1.35" fill="none" stroke-linecap="round"/>
<path color="#5b2f12" d="M1520.7,81.4l9.6,0.9 8.8,1.6-9.7-1.3z"/>
<path color="#f47f30" d="M1511.9,81.2l9.6,0.9 8.9,0.3-9.7-1.1z"/>
<path color="#fa8232" d="M1503,82l9.6,1.1 9-1.1-9.6-0.9z"/>
<path color="#ff8533" d="M1494.1,83.6l9.6,1.5 9-2.2-9.5-1.1z"/>
<path color="#ff8836" d="M1485.1,86.2l9.6,2.2 9.1-3.4-9.6-1.5z"/>
<path color="#ff8c38" d="M1476.1,89.5l9.5,3.2 9.2-4.5-9.5-2.2z"/>
<path color="#ff8f3b" d="M1466.9,93.4l9.6,4.4 9.3-5.3-9.6-3.2z"/>
<path color="#ff923e" d="M1457.7,97.8l9.6,5.8 9.3-6-9.5-4.3z"/>
<path color="#572d11" d="M1300.1,89.4l9.5,1.4 10.7,3-9.4-2.2z"/>
<path color="#ee7b2f" d="M1289.6,88.2l9.4,1 10.8,1.7-9.4-1.5z"/>
<path color="#f47f30" d="M1278.9,88l9.5,1 10.9,0.3-9.4-1.2z"/>
<path color="#fa8232" d="M1268.2,88.8l9.5,1.2 10.9-1.1-9.4-1z"/>
<path color="#ff8533" d="M1257.4,90.7l9.5,1.7 11-2.5-9.5-1.2z"/>
<path color="#ff8836" d="M1246.5,93.5l9.6,2.5 11-3.8-9.5-1.7z"/>
<path color="#ff8c38" d="M1235.6,97.2l9.5,3.5 11.2-4.9-9.6-2.4z"/>
<path color="#ff8f3b" d="M1224.5,101.6l9.6,4.8 11.2-5.8-9.5-3.6z"/>
<path color="#ff923e" d="M1213.4,106.4l9.6,6.4 11.3-6.5-9.6-4.9z"/>
<path color="#ff9541" d="M1202.2,111.4l9.6,8.2 11.3-6.9-9.5-6.4z"/>
<path color="#ff9642" d="M1179.5,120.9l9.5,11.7 11.6-6.3-9.6-10z"/>
<path color="#ff9440" d="M1167.9,124.6l9.6,13.2 11.7-5.3-9.6-11.7z"/>
<path color="#ff903d" d="M1156.3,127.1l9.6,14.3 11.8-3.7-9.6-13.2z"/>
<path color="#ff8b3a" d="M1144.6,128.3l9.6,14.8 11.9-1.7-9.6-14.4z"/>
<path color="#ff8736" d="M1132.7,128.1l9.6,14.5 12,0.4-9.6-14.7z"/>
<path color="#f88234" d="M1120.7,126.5l9.5,13.5 12.2,2.5-9.6-14.5z"/>
<path color="#f27e31" d="M1108.6,123.7l9.5,12.1 12.3,4.2-9.5-13.6z"/>
<path color="#ed7b30" d="M1096.3,120l9.5,10.4 12.5,5.4-9.6-12.2z"/>
<path color="#e9792e" d="M1083.9,115.8l9.5,8.6 12.6,6-9.5-10.4z"/>
<path color="#e6772d" d="M1071.5,111.3l9.3,6.8 12.8,6.2-9.4-8.6z"/>
<path d="M1071.6,111.4L1080.9,118.1" stroke="#1a0d08" stroke-width="1.35" fill="none" stroke-linecap="round"/>
<path color="#542b10" d="M1538.8,83.9l9.7,2.1 8.6,3.4-9.7-2.8z"/>
<path color="#ed7b2f" d="M1530.1,82.4l9.7,1.8 8.7,1.9-9.7-2.3z"/>
<path color="#f57f31" d="M1521.3,82l9.6,1.8 8.9,0.4-9.7-2z"/>
<path color="#fc8333" d="M1512.4,82.9l9.7,2 8.9-1.2-9.6-1.8z"/>
<path color="#ff8735" d="M1503.5,85l9.6,2.3 9.1-2.6-9.7-1.9z"/>
<path color="#ff8b38" d="M1494.5,88.2l9.6,3 9.2-4-9.7-2.4z"/>
<path color="#ff8f3b" d="M1485.5,92.5l9.6,3.9 9.2-5.3-9.7-3z"/>
<path color="#ff9340" d="M1476.3,97.7l9.6,5 9.3-6.4-9.6-3.9z"/>
<path color="#ff9743" d="M1467.1,103.4l9.7,6.6 9.3-7.4-9.6-5.1z"/>
<path color="#542b10" d="M1309.6,90.9l9.5,2.3 10.7,3.7-9.5-3.1z"/>
<path color="#ed7b2f" d="M1299,89.2l9.5,2.1 10.8,2-9.5-2.4z"/>
<path color="#f57f31" d="M1288.3,88.9l9.6,2 10.9,0.4-9.6-2.2z"/>
<path color="#fc8333" d="M1277.6,89.9l9.6,2.1 10.9-1.2-9.5-2z"/>
<path color="#ff8735" d="M1266.8,92.2l9.6,2.6 11-2.9-9.6-2.1z"/>
<path color="#ff8b38" d="M1256,95.8l9.6,3.3 11-4.4-9.6-2.6z"/>
<path color="#ff8f3b" d="M1245,100.6l9.6,4.3 11.1-5.9-9.6-3.3z"/>
<path color="#ff9340" d="M1234,106.3l9.6,5.6 11.2-7.2-9.6-4.3z"/>
<path color="#ff9743" d="M1222.8,112.7l9.7,7.2 11.2-8.2-9.6-5.6z"/>
<path color="#fc8536" d="M1142.2,142.3l9.7,16.5 12,0.8-9.7-16.8z"/>
<path color="#f37f32" d="M1130.2,139.8l9.6,15.2 12.2,3.7-9.7-16.4z"/>
<path color="#eb7a2f" d="M1118,135.6l9.6,13.4 12.4,6-9.7-15.3z"/>
<path color="#e4772e" d="M1105.7,130.2l9.6,11.5 12.5,7.3-9.6-13.5z"/>
<path color="#e0742c" d="M1093.3,124.2l9.5,9.4 12.7,8-9.6-11.4z"/>
<path color="#dd732c" d="M1080.8,118l9.4,7.5 12.9,8.1-9.5-9.4z"/>
<path d="M1080.9,118.1L1090.4,125.5" stroke="#1a0d08" stroke-width="1.35" fill="none" stroke-linecap="round"/>
<path color="#eb7a2e" d="M1539.5,84.1l9.8,2.2 8.7,2.3-9.8-2.6z"/>
<path color="#f57f31" d="M1530.7,83.7l9.8,2.2 8.8,0.4-9.7-2.3z"/>
<path color="#fd8433" d="M1521.9,84.7l9.7,2.3 8.9-1.2-9.7-2.2z"/>
<path color="#ff8936" d="M1513,87.2l9.7,2.7 9-3-9.7-2.3z"/>
<path color="#ff8d39" d="M1504,91.1l9.7,3.2 9.1-4.6-9.7-2.7z"/>
<path color="#ff923e" d="M1494.9,96.3l9.7,4.1 9.2-6.2-9.7-3.3z"/>
<path color="#ff9643" d="M1485.8,102.6l9.7,5.2 9.2-7.6-9.6-4.1z"/>
<path color="#522b10" d="M1319,93.3l9.7,2.7 10.7,4.3-9.6-3.4z"/>
<path color="#eb7a2e" d="M1308.5,91.2l9.5,2.5 10.9,2.4-9.6-2.9z"/>
<path color="#f57f31" d="M1297.8,90.7l9.7,2.5 10.8,0.5-9.6-2.6z"/>
<path color="#fd8433" d="M1287.1,91.9l9.7,2.6 10.9-1.4-9.7-2.5z"/>
<path color="#ff8936" d="M1276.3,94.7l9.7,2.9 11-3.3-9.7-2.5z"/>
<path color="#ff8d39" d="M1265.4,99l9.7,3.6 11.1-5.1-9.7-3z"/>
<path color="#ff923e" d="M1254.5,104.8l9.7,4.5 11.1-6.9-9.7-3.6z"/>
<path color="#ff9643" d="M1243.5,111.8l9.7,5.7 11.1-8.4-9.6-4.5z"/>
<path color="#da712b" d="M1115.3,141.4l9.5,11.7 12.6,9.7-9.7-14z"/>
<path color="#d56e2a" d="M1102.8,133.4l9.5,9.5 12.8,10.2-9.6-11.6z"/>
<path color="#d36d2a" d="M1090.3,125.4l9.5,7.6 12.8,10-9.5-9.5z"/>
<path d="M1090.4,125.5L1099.9,133" stroke="#1a0d08" stroke-width="1.35" fill="none" stroke-linecap="round"/>
<path color="#562c11" d="M1549,86.3l9.9,2 8.7,2.6-9.9-2.3z"/>
<path color="#f47f30" d="M1540.2,85.7l9.9,2.2 8.8,0.5-9.8-2.2z"/>
<path color="#fe8433" d="M1531.4,86.9l9.8,2.2 8.9-1.4-9.7-2.1z"/>
<path color="#ff8936" d="M1522.5,89.7l9.7,2.5 9.1-3.2-9.8-2.3z"/>
<path color="#ff8e3a" d="M1513.5,94.2l9.8,3 9.1-5.1-9.8-2.5z"/>
<path color="#ff933f" d="M1504.4,100.2l9.8,3.7 9.2-6.9-9.8-3z"/>
<path color="#522b10" d="M1380.2,130.1l9.8,7.4 10.2,11.3-9.7-9.3z"/>
<path color="#522b10" d="M1370.1,121.2l9.7,5.8 10.3,10.7-9.7-7.4z"/>
<path color="#e9792e" d="M1318,93.6l9.7,2.3 10.8,2.8-9.6-2.6z"/>
<path color="#f47f30" d="M1307.4,93l9.7,2.4 10.9,0.6-9.7-2.5z"/>
<path color="#fe8433" d="M1296.7,94.3l9.7,2.5 10.9-1.5-9.7-2.4z"/>
<path color="#ff8936" d="M1285.9,97.5l9.7,2.8 11-3.6-9.7-2.5z"/>
<path color="#ff8e3a" d="M1275,102.5l9.8,3.3 11-5.7-9.8-2.8z"/>
<path color="#ff933f" d="M1264.1,109.2l9.7,4 11.1-7.6-9.7-3.3z"/>
<path color="#522b10" d="M1099.8,132.9l9.6,6.6 12.8,11.8-9.6-8.3z"/>
<path d="M1099.9,133L1109.5,139.7" stroke="#1a0d08" stroke-width="1.35" fill="none" stroke-linecap="round"/>
<path color="#572d11" d="M1558.6,88.4l9.9,1.4 8.7,2.8-9.9-1.6z"/>
<path color="#f37e30" d="M1549.8,87.7l9.9,1.6 8.9,0.7-10-1.7z"/>
<path color="#fd8433" d="M1541,89l9.8,1.7 9-1.5-9.9-1.6z"/>
<path color="#ff8936" d="M1532.1,92.1l9.8,1.9 9.1-3.5-9.9-1.7z"/>
<path color="#ff8d3a" d="M1523.1,97.1l9.8,2.2 9.1-5.5-9.8-1.9z"/>
<path color="#522b10" d="M1409.9,159.7l9.8,9 10,13.5-9.7-12.3z"/>
<path color="#522b10" d="M1399.9,148.6l9.9,6.9 10,13.5-9.8-9z"/>
<path color="#522b10" d="M1389.9,137.5l9.8,5.3 10.2,12.9-9.8-6.8z"/>
<path color="#522b10" d="M1379.7,127.1l9.8,4.2 10.3,11.8-9.8-5.3z"/>
<path color="#532b10" d="M1369.5,117.7l9.8,3.3 10.4,10.5-9.8-4.2z"/>
<path color="#572d11" d="M1327.7,95.9l9.8,1.7 10.8,3-9.8-1.8z"/>
<path color="#f37e30" d="M1317,95.3l9.8,1.8 10.9,0.6-9.8-1.8z"/>
<path color="#fd8433" d="M1306.3,96.7l9.8,1.9 10.9-1.6-9.8-1.9z"/>
<path color="#ff8936" d="M1295.5,100.1l9.8,2.1 11-3.8-9.8-1.9z"/>
<path color="#ff8d3a" d="M1284.6,105.6l9.9,2.5 11-6-9.8-2.1z"/>
<path color="#522b10" d="M1134.5,163.3l9.7,7.7 12.6,14.8-9.7-10z"/>
<path color="#522b10" d="M1122,151.1l9.7,6 12.7,14.1-9.7-7.6z"/>
<path color="#522b10" d="M1109.4,139.6l9.7,4.7 12.8,13-9.7-6z"/>
<path d="M1109.5,139.7L1119.1,144.4" stroke="#1a0d08" stroke-width="1.35" fill="none" stroke-linecap="round"/>
<path color="#5e3012" d="M1559.5,89.2l10,0.8 8.8,0.7-10-0.8z"/>
<path color="#fb8332" d="M1550.7,90.5l9.9,0.9 8.9-1.4-9.9-0.9z"/>
<path color="#ff8735" d="M1541.7,93.9l10,0.9 9-3.5-9.9-0.9z"/>
<path color="#522b10" d="M1429.5,182l9.9,5.5 9.8,15.5-9.8-9.1z"/>
<path color="#532b10" d="M1419.6,168.7l9.9,3.9 10,15.1-9.9-5.5z"/>
<path color="#532b10" d="M1409.6,155.5l9.9,2.9 10.1,14.4-9.9-3.8z"/>
<path color="#532b10" d="M1399.6,142.9l9.9,2.2 10.1,13.5-9.8-2.8z"/>
<path color="#532b10" d="M1389.4,131.3l9.9,1.8 10.3,12.3-9.9-2.3z"/>
<path color="#532b10" d="M1379.2,121.1l9.9,1.4 10.4,10.8-9.9-1.7z"/>
<path color="#f17d30" d="M1326.7,97l9.8,0.8 11,0.8-9.8-0.9z"/>
<path color="#fb8332" d="M1316,98.4l9.9,1 10.9-1.6-9.8-1z"/>
<path color="#ff8735" d="M1305.2,102.1l9.9,1.1 11-3.9-9.9-1z"/>
<path color="#522b10" d="M1168.8,200.2l9.9,6.1 12.3,17.2-9.8-10.3z"/>
<path color="#532b10" d="M1156.6,185.6l9.8,4.3 12.4,16.7-9.8-6.2z"/>
<path color="#532b10" d="M1144.2,171l9.8,3.3 12.5,15.9-9.8-4.3z"/>
<path color="#532b10" d="M1131.6,157.1l9.8,2.5 12.7,14.9-9.8-3.2z"/>
<path color="#532b10" d="M1119,144.3l9.8,2 12.8,13.6-9.8-2.6z"/>
<path d="M1119.1,144.4L1128.8,146.5" stroke="#1a0d08" stroke-width="1.35" fill="none" stroke-linecap="round"/>
<path color="#f88131" d="M1560.4,91.3l10-0.1 8.9-1.4-10,0.1z"/>
<path color="#89471b" d="M1458.8,218.5l9.8-18.3 9.7-6.7-9.9,7.7z"/>
<path color="#743d18" d="M1449,202.9l10-7.9 9.8,5.3-10,18.2z"/>
<path color="#623313" d="M1439.2,187.5l10-4.3 9.9,12-10,7.9z"/>
<path color="#5b2f12" d="M1429.4,172.6l9.9-2.7 10,13.5-9.9,4.4z"/>
<path color="#582e11" d="M1419.4,158.4l10-1.8 10.1,13.5-10,2.8z"/>
<path color="#572d11" d="M1409.4,145.2l9.9-1.3 10.2,12.9-10,1.9z"/>
<path color="#572d11" d="M1399.2,133.2l10-1 10.3,11.9-10,1.3z"/>
<path color="#572d11" d="M1389,122.6l10-0.7 10.3,10.5-10,1z"/>
<path color="#f88131" d="M1325.8,99.3l9.9-0.1 11-1.6-9.9,0.1z"/>
<path color="#89471b" d="M1202.9,240.5l9.6-20.1 11.8-7.5-9.7,8.4z"/>
<path color="#743d18" d="M1190.7,223.3l9.8-8.6 12.1,5.8-9.6,20z"/>
<path color="#623313" d="M1178.6,206.4l9.8-4.7 12.3,13.1-9.8,8.7z"/>
<path color="#5b2f12" d="M1166.3,190l9.8-2.9 12.4,14.9-9.8,4.6z"/>
<path color="#582e11" d="M1153.9,174.3l9.8-2 12.6,15-9.9,2.9z"/>
<path color="#572d11" d="M1141.3,159.7l9.9-1.4 12.7,14.3-9.9,1.9z"/>
<path color="#572d11" d="M1128.7,146.4l9.8-1 12.8,13.1-9.8,1.4z"/>
<path d="M1128.8,146.5L1138.6,145.6" stroke="#1a0d08" stroke-width="1.35" fill="none" stroke-linecap="round"/>
<path color="#f57f31" d="M1570.2,91.1l10.2-1 8.8-1.3-10.2,1z"/>
<path color="#88471b" d="M1478.1,193.8l10-15.2 9.6-8.8-10.1,10.8z"/>
<path color="#8f4b1d" d="M1468.5,200.5l10-18 9.7-3.9-10,15.2z"/>
<path color="#87481d" d="M1458.8,195.2l10-15.2 9.8,2.6-10,17.9z"/>
<path color="#753e18" d="M1449,183.4l10.1-11.1 9.9,7.8-10,15.2z"/>
<path color="#6b3816" d="M1439.2,170l10-8 10,10.5-10,11z"/>
<path color="#653414" d="M1429.2,156.7l10.1-6 10.1,11.5-10.1,8z"/>
<path color="#613213" d="M1419.2,144l10-4.5 10.2,11.4-10,6z"/>
<path color="#5f3113" d="M1409,132.3l10.1-3.5 10.3,10.9-10.1,4.5z"/>
<path color="#5e3113" d="M1398.8,122l10.1-2.7 10.3,9.7-10,3.5z"/>
<path color="#5e3113" d="M1388.5,113.2l10.1-2.1 10.4,8.4-10,2.7z"/>
<path color="#f57f31" d="M1335.7,99.1l9.9-1 11-1.5-9.9,1z"/>
<path color="#fb8332" d="M1324.9,102.9l10-1.2 11-3.7-10,1z"/>
<path color="#88471b" d="M1224.1,213.1l9.8-16.6 11.7-9.9-9.7,11.9z"/>
<path color="#8f4b1d" d="M1212.4,220.7l9.7-19.8 11.9-4.4-9.8,16.7z"/>
<path color="#87481d" d="M1200.4,214.9l9.8-16.8 12.1,2.8-9.8,19.8z"/>
<path color="#753e18" d="M1188.3,201.9l9.8-12.2 12.3,8.5-9.8,16.8z"/>
<path color="#6b3816" d="M1176,187.2l9.9-8.8 12.4,11.5-9.9,12.1z"/>
<path color="#653414" d="M1163.6,172.4l9.9-6.5 12.5,12.6-9.9,8.9z"/>
<path color="#613213" d="M1151.1,158.4l9.9-4.9 12.6,12.6-9.9,6.5z"/>
<path color="#5f3113" d="M1138.4,145.5l9.9-3.7 12.8,11.9-9.9,4.9z"/>
<path d="M1138.6,145.6L1148.3,141.9" stroke="#1a0d08" stroke-width="1.35" fill="none" stroke-linecap="round"/>
<path color="#f88131" d="M1571.2,93.3l10.2-1.8 8.9-3-10.2,1.5z"/>
<path color="#8a491d" d="M1468.7,180.2l10.1-16.2 9.8,1.5-10.1,17.3z"/>
<path color="#7e421b" d="M1458.9,172.5l10.2-13.6 9.9,5.2-10.2,16.2z"/>
<path color="#753d18" d="M1449.1,162.2l10.1-11 10,7.8-10.1,13.6z"/>
<path color="#6e3916" d="M1439.1,150.9l10.2-8.7 10.1,9.2-10.2,10.9z"/>
<path color="#693715" d="M1429.1,139.6l10.1-6.8 10.2,9.6-10.1,8.6z"/>
<path color="#663514" d="M1419,129l10.1-5.3 10.3,9.3-10.2,6.8z"/>
<path color="#f88131" d="M1334.8,101.6l10.1-1.9 11-3.4-10.1,1.6z"/>
<path color="#85451a" d="M1245.4,186.8l9.9-14.8 11.7-9.6-9.9,11.7z"/>
<path color="#8c491c" d="M1233.8,196.7l9.9-17.7 11.8-7-9.9,14.8z"/>
<path color="#8e4a1d" d="M1222.1,201.1l9.8-19 11.9-3.1-9.9,17.7z"/>
<path color="#8a491d" d="M1210.1,198.3l9.9-17.8 12.1,1.6-9.9,19.1z"/>
<path color="#7e421b" d="M1198,189.9l9.9-15 12.2,5.7-9.9,17.8z"/>
<path color="#753d18" d="M1185.7,178.5l10-12 12.4,8.5-10,15z"/>
<path color="#6e3916" d="M1173.3,166l10-9.4 12.5,10-9.9,12.1z"/>
<path color="#693715" d="M1160.8,153.6l10-7.4 12.7,10.5-10,9.5z"/>
<path color="#663514" d="M1148.2,141.9l10-5.8 12.8,10.3-10,7.4z"/>
<path d="M1148.3,141.9L1158.2,136.2" stroke="#1a0d08" stroke-width="1.35" fill="none" stroke-linecap="round"/>
<path color="#693615" d="M1590.1,88.6l10.3-1.8 8.8-1-10.3,1.6z"/>
<path color="#f78031" d="M1581.2,91.5l10.3-2 8.9-2.7-10.3,1.6z"/>
<path color="#f88132" d="M1572.2,96.1l10.3-2.5 9-4.2-10.3,1.9z"/>
<path color="#f78031" d="M1344.8,99.6l10.1-2.1 11.1-3-10.2,1.7z"/>
<path color="#f88132" d="M1333.9,104.7l10.2-2.7 11.1-4.7-10.2,2.1z"/>
<path color="#7d4119" d="M1278.2,151.7l9.9-10.4 11.7-9.1-10.1,8.1z"/>
<path color="#814319" d="M1266.8,162.6l10-12.8 11.6-8.6-10,10.4z"/>
<path color="#86461b" d="M1255.3,172.2l10-15.2 11.7-7.2-10.1,12.8z"/>
<path color="#8b481c" d="M1243.6,179.3l10-17.1 11.8-5.1-10,15.2z"/>
<path color="#8c491d" d="M1231.8,182.3l10-17.9 11.9-2.2-10,17.1z"/>
<path color="#88481d" d="M1219.9,180.7l10-17.2 12,1-9.9,17.9z"/>
<path color="#81441b" d="M1207.8,175.1l10-15.4 12.2,3.9-10,17.2z"/>
<path color="#794019" d="M1195.5,166.7l10.1-13.2 12.3,6.3-10,15.4z"/>
<path color="#743c17" d="M1183.2,156.7l10-10.8 12.5,7.8-10,13.1z"/>
<path color="#6f3a16" d="M1170.7,146.3l10-8.6 12.7,8.4-10.1,10.8z"/>
<path color="#6b3715" d="M1158,136.2l10.1-6.8 12.8,8.4-10.1,8.7z"/>
<path d="M1158.2,136.2L1168.1,129.5" stroke="#1a0d08" stroke-width="1.35" fill="none" stroke-linecap="round"/>
<path color="#673514" d="M1600.1,86.9l10.4-1.4 8.8-0.9-10.4,1.2z"/>
<path color="#f78031" d="M1591.2,89.4l10.4-1.6 8.9-2.3-10.4,1.2z"/>
<path color="#f88132" d="M1582.3,93.5l10.3-2.3 9-3.5-10.3,1.6z"/>
<path color="#673514" d="M1365.7,94.5l10.2-1.5 11-1-10.2,1.4z"/>
<path color="#f78031" d="M1354.9,97.4l10.2-1.8 11.1-2.5-10.3,1.3z"/>
<path color="#f88132" d="M1344,101.9l10.2-2.5 11.2-3.9-10.3,1.7z"/>
<path color="#f68031" d="M1333,107.9l10.2-3.5 11.2-5.2-10.2,2.5z"/>
<path color="#804319" d="M1276.7,150l10.2-12.5 11.6-6.5-10.1,10.5z"/>
<path color="#84441a" d="M1265.2,157.3l10.1-14.4 11.7-5.4-10.1,12.5z"/>
<path color="#87461b" d="M1253.5,162.4l10.1-15.7 11.8-3.7-10.1,14.3z"/>
<path color="#87471c" d="M1241.7,164.7l10.1-16.3 12-1.7-10.2,15.8z"/>
<path color="#85461c" d="M1229.8,163.8l10-15.9 12.1,0.6-10.1,16.2z"/>
<path color="#7f431a" d="M1217.7,159.9l10.1-14.6 12.2,2.7-10.1,15.8z"/>
<path color="#7b4019" d="M1205.4,153.7l10.2-12.8 12.3,4.5-10.1,14.6z"/>
<path color="#763e18" d="M1193.1,146.1l10.1-10.8 12.5,5.7-10.1,12.8z"/>
<path color="#713b17" d="M1180.6,137.8l10.1-8.7 12.7,6.4-10.2,10.7z"/>
<path color="#6d3916" d="M1168,129.5l10.1-6.9 12.8,6.6-10.1,8.8z"/>
<path d="M1168.1,129.5L1178.2,122.8" stroke="#1a0d08" stroke-width="1.35" fill="none" stroke-linecap="round"/>
<path color="#f68031" d="M1610.2,85.5l10.5-0.4 8.8-0.8-10.5,0.3z"/>
<path color="#f98132" d="M1601.3,87.7l10.5-0.8 8.9-1.9-10.4,0.4z"/>
<path color="#fa8232" d="M1592.4,91.1l10.4-1.5 9-2.8-10.4,0.8z"/>
<path color="#f88132" d="M1583.4,95.6l10.4-2.5 9.1-3.7-10.4,1.5z"/>
<path color="#f68031" d="M1375.9,93.1l10.3-0.4 11-1-10.3,0.2z"/>
<path color="#f98132" d="M1365.1,95.5l10.3-0.8 11.1-2.1-10.4,0.3z"/>
<path color="#fa8232" d="M1354.2,99.3l10.3-1.6 11.1-3.2-10.3,0.9z"/>
<path color="#f88132" d="M1343.2,104.3l10.3-2.7 11.2-4.1-10.4,1.6z"/>
<path color="#81431a" d="M1275.2,143.1l10.3-12.8 11.7-3.9-10.3,11.4z"/>
<path color="#82431a" d="M1263.5,146.9l10.2-13.9 11.9-2.7-10.2,12.9z"/>
<path color="#82441a" d="M1251.7,148.7l10.2-14.4 12-1.2-10.2,13.9z"/>
<path color="#80431a" d="M1239.7,148.1l10.3-14 12.1,0.3-10.3,14.3z"/>
<path color="#7e421a" d="M1227.6,145.5l10.3-13.1 12.2,1.8-10.2,14z"/>
<path color="#7b4019" d="M1215.4,141.1l10.3-11.6 12.3,3-10.2,13.1z"/>
<path color="#773e18" d="M1203.1,135.5l10.2-9.8 12.5,3.9-10.2,11.6z"/>
<path color="#723b17" d="M1190.6,129.2l10.3-8 12.6,4.6-10.3,9.8z"/>
<path color="#6e3916" d="M1178,122.8l10.3-6.2 12.7,4.8-10.2,8z"/>
<path d="M1178.2,122.8L1188.3,116.7" stroke="#1a0d08" stroke-width="1.35" fill="none" stroke-linecap="round"/>
<path color="#5e3112" d="M1637.9,84.5l10.6,0.8 8.6,0.8-10.5-0.4z"/>
<path color="#f57f30" d="M1629.2,84.3l10.5,1.1 8.8-0.1-10.6-0.9z"/>
<path color="#f98132" d="M1620.4,85.1l10.5,0.9 8.8-0.7-10.5-1.1z"/>
<path color="#fc8332" d="M1611.5,86.8l10.5,0.5 9-1.4-10.5-1z"/>
<path color="#fd8433" d="M1602.6,89.5l10.5-0.3 9-2-10.5-0.5z"/>
<path color="#fc8332" d="M1593.6,93l10.5-1.3 9.1-2.6-10.5,0.2z"/>
<path color="#5e3112" d="M1407.6,91.9l10.3,0.9 10.9,0.8-10.5-0.3z"/>
<path color="#f57f30" d="M1396.9,91.7l10.5,1.3 10.8-0.1-10.4-1.1z"/>
<path color="#f98132" d="M1386.2,92.6l10.5,1.1 10.9-0.9-10.5-1.2z"/>
<path color="#fc8332" d="M1375.3,94.6l10.5,0.6 11-1.6-10.5-1.1z"/>
<path color="#fd8433" d="M1364.4,97.6l10.5-0.3 11.1-2.3-10.5-0.6z"/>
<path color="#fc8332" d="M1353.4,101.5l10.5-1.4 11.2-2.9-10.5,0.2z"/>
<path color="#f88131" d="M1342.3,106.1l10.4-2.8 11.4-3.4-10.5,1.4z"/>
<path color="#7f4219" d="M1261.8,134.5l10.3-12.1 12-0.9-10.3,11.8z"/>
<path color="#7e4119" d="M1249.8,134.3l10.4-11.9 12.1,0.1-10.4,12.1z"/>
<path color="#7c4019" d="M1237.7,132.6l10.4-11 12.2,0.9-10.3,11.9z"/>
<path color="#793f18" d="M1225.5,129.7l10.4-9.8 12.3,1.7-10.3,11.1z"/>
<path color="#753d17" d="M1213.2,125.8l10.3-8.2 12.5,2.4-10.3,9.8z"/>
<path color="#713b16" d="M1200.7,121.4l10.4-6.6 12.6,2.9-10.3,8.3z"/>
<path color="#6d3916" d="M1188.1,116.7l10.4-4.8 12.8,3.1-10.4,6.5z"/>
<path d="M1188.3,116.7L1198.5,112.1" stroke="#1a0d08" stroke-width="1.35" fill="none" stroke-linecap="round"/>
<path color="#5d3012" d="M1665.4,87.3l10.6,1.3 8.5,0.8-10.6-0.2z"/>
<path color="#f27d30" d="M1656.8,86l10.6,2.1 8.6,0.5-10.6-1.3z"/>
<path color="#f57f31" d="M1648.2,85.3l10.5,2.7 8.7,0.1-10.6-2.2z"/>
<path color="#f88132" d="M1639.5,85.3l10.5,2.8 8.8-0.2-10.6-2.7z"/>
<path color="#fb8332" d="M1630.7,85.9l10.5,2.7 8.9-0.6-10.6-2.9z"/>
<path color="#fd8433" d="M1621.8,87.2l10.6,2.2 8.9-1-10.5-2.6z"/>
<path color="#fe8433" d="M1612.9,89.1l10.5,1.4 9-1.2-10.5-2.2z"/>
<path color="#fe8433" d="M1603.9,91.6l10.6,0.3 9-1.5-10.5-1.4z"/>
<path color="#fb8232" d="M1594.8,94.5l10.6-1 9.1-1.7-10.6-0.3z"/>
<path color="#5d3012" d="M1439,95l10.7,1.4 10.4,0.8-10.6-0.1z"/>
<path color="#f27d30" d="M1428.5,93.6l10.6,2.4 10.6,0.4-10.6-1.5z"/>
<path color="#f57f31" d="M1417.9,92.8l10.6,3 10.7,0.1-10.6-2.4z"/>
<path color="#f88132" d="M1407.3,92.8l10.6,3.2 10.8-0.3-10.6-3z"/>
<path color="#fb8332" d="M1396.5,93.6l10.6,2.9 10.9-0.7-10.6-3.1z"/>
<path color="#fd8433" d="M1385.7,95l10.6,2.5 11-1.1-10.6-3z"/>
<path color="#fe8433" d="M1374.8,97.2l10.6,1.6 11.1-1.5-10.6-2.4z"/>
<path color="#fe8433" d="M1363.8,100l10.5,0.4 11.2-1.8-10.5-1.6z"/>
<path color="#fb8232" d="M1352.7,103.2l10.5-1 11.3-2-10.5-0.4z"/>
<path color="#f68031" d="M1341.4,106.8l10.5-2.7 11.5-2.1-10.5,1.1z"/>
<path color="#783e18" d="M1248,121.8l10.4-8.9 12.3,0.3-10.5,9.5z"/>
<path color="#763d17" d="M1235.8,120.1l10.4-7.8 12.4,0.7-10.5,8.8z"/>
<path color="#733c17" d="M1223.4,117.7l10.5-6.3 12.5,1-10.5,7.8z"/>
<path color="#6f3916" d="M1211,115l10.4-4.7 12.7,1.3-10.5,6.2z"/>
<path color="#6a3715" d="M1198.4,112.1l10.4-3 12.8,1.4-10.4,4.6z"/>
<path d="M1198.5,112.1L1208.9,109.3" stroke="#1a0d08" stroke-width="1.35" fill="none" stroke-linecap="round"/>
<path color="#613213" d="M1692.6,90.3l10.7,0.8 8.3-0.4-10.6,0.7z"/>
<path d="M1701.1,91.4L1711.5,90.7" stroke="#1a0d08" stroke-width="1.35" fill="none" stroke-linecap="round"/>
<path color="#f47f30" d="M1684.2,89.3l10.6,2.1 8.5-0.3-10.7-0.8z"/>
<path color="#f78031" d="M1675.7,88.6l10.6,3.2 8.5-0.4-10.6-2.1z"/>
<path color="#f88132" d="M1667.1,88l10.6,4.1 8.6-0.4-10.6-3.3z"/>
<path color="#fa8232" d="M1658.5,87.8l10.6,4.6 8.7-0.4-10.6-4.1z"/>
<path color="#fc8333" d="M1649.8,87.9l10.6,4.8 8.8-0.4-10.6-4.6z"/>
<path color="#fd8433" d="M1641,88.4l10.6,4.7 8.9-0.5-10.6-4.8z"/>
<path color="#fc8433" d="M1632.1,89.2l10.7,4.2 8.9-0.5-10.6-4.6z"/>
<path color="#fc8433" d="M1623.2,90.4l10.6,3.3 9-0.4-10.6-4.2z"/>
<path color="#fc8333" d="M1614.2,91.8l10.7,2.2 9-0.4-10.6-3.3z"/>
<path color="#fb8232" d="M1605.2,93.4l10.6,0.9 9.2-0.4-10.7-2.2z"/>
<path color="#663514" d="M1480.2,99.4l10.8-0.8 10.2-0.2-10.7,2.3z"/>
<path color="#613213" d="M1470.1,98.2l10.7,1 10.3-0.5-10.8,0.8z"/>
<path color="#f47f30" d="M1459.8,97.2l10.7,2.4 10.4-0.5-10.8-1z"/>
<path color="#f78031" d="M1449.4,96.4l10.7,3.6 10.5-0.5-10.7-2.4z"/>
<path color="#f88132" d="M1438.9,95.8l10.7,4.6 10.6-0.5-10.7-3.6z"/>
<path color="#fa8232" d="M1428.4,95.6l10.7,5.2 10.7-0.5-10.7-4.6z"/>
<path color="#fc8333" d="M1417.7,95.8l10.7,5.3 10.8-0.5-10.7-5.1z"/>
<path color="#fd8433" d="M1407,96.4l10.7,5.1 10.9-0.5-10.7-5.3z"/>
<path color="#fc8433" d="M1396.2,97.3l10.7,4.6 11-0.5-10.7-5.2z"/>
<path color="#fc8433" d="M1385.2,98.6l10.7,3.7 11.1-0.5-10.7-4.6z"/>
<path color="#fc8333" d="M1374.2,100.2l10.7,2.5 11.2-0.5-10.7-3.7z"/>
<path color="#fb8232" d="M1363.1,102.1l10.7,1 11.3-0.5-10.7-2.5z"/>
<path color="#f88131" d="M1351.9,104.1l10.5-0.6 11.5-0.5-10.6-1.1z"/>
<path color="#6b3715" d="M1221.3,110.5l10.6-2.5 12.6-0.4-10.5,4.1z"/>
<path color="#663514" d="M1208.7,109.3l10.5-0.8 12.9-0.4-10.5,2.5z"/>
<path d="M1208.9,109.3L1219.4,108.6" stroke="#1a0d08" stroke-width="1.35" fill="none" stroke-linecap="round"/>
<path color="#fc8333" d="M1703,91l10.6,2.8 8.4-1.9-10.6-1.3z"/>
<path d="M1711.5,90.7L1721.9,91.9" stroke="#1a0d08" stroke-width="1.35" fill="none" stroke-linecap="round"/>
<path color="#fe8433" d="M1694.5,91.3l10.7,4.1 8.5-1.7-10.7-2.8z"/>
<path color="#ff8534" d="M1686,91.6l10.7,5.3 8.6-1.6-10.7-4.1z"/>
<path color="#ff8635" d="M1677.5,91.9l10.6,6.2 8.7-1.3-10.7-5.3z"/>
<path color="#ff8735" d="M1668.9,92.2l10.6,6.8 8.7-1-10.6-6.2z"/>
<path color="#ff8735" d="M1660.2,92.5l10.6,7 8.8-0.6-10.6-6.8z"/>
<path color="#ff8635" d="M1651.4,92.9l10.6,6.8 8.9-0.3-10.6-7z"/>
<path color="#ff8534" d="M1642.6,93.2l10.6,6.3 8.9,0.1-10.6-6.8z"/>
<path color="#fd8433" d="M1633.6,93.5l10.7,5.4 9,0.5-10.6-6.3z"/>
<path color="#fa8232" d="M1624.7,93.8l10.7,4.3 9,0.7-10.7-5.4z"/>
<path color="#f78031" d="M1615.6,94.2l10.8,2.8 9.1,1-10.7-4.3z"/>
<path color="#6d3815" d="M1520.8,97.7l10.8-2.9 9.9-1.1-10.7,3.7z"/>
<path color="#6a3715" d="M1510.9,98l10.8-1.6 10-1.5-10.8,2.9z"/>
<path color="#f47f30" d="M1500.9,98.4l10.8-0.1 10.1-1.8-10.9,1.6z"/>
<path color="#f98132" d="M1490.8,98.7l10.8,1.5 10.2-2-10.9,0z"/>
<path color="#fc8333" d="M1480.6,99.1l10.8,3 10.3-2-10.8-1.5z"/>
<path color="#fe8433" d="M1470.3,99.4l10.8,4.6 10.4-2-10.8-3.1z"/>
<path color="#ff8534" d="M1459.9,99.8l10.8,5.8 10.5-1.7-10.8-4.6z"/>
<path color="#ff8635" d="M1449.5,100.2l10.8,6.8 10.6-1.5-10.8-5.8z"/>
<path color="#ff8735" d="M1438.9,100.6l10.8,7.5 10.7-1.2-10.8-6.8z"/>
<path color="#ff8735" d="M1428.3,100.9l10.8,7.8 10.8-0.7-10.8-7.5z"/>
<path color="#ff8635" d="M1417.6,101.3l10.8,7.6 10.8-0.3-10.8-7.8z"/>
<path color="#ff8534" d="M1406.7,101.7l10.8,7 11,0.1-10.8-7.6z"/>
<path color="#fd8433" d="M1395.8,102.1l10.8,6 11.1,0.5-10.8-7z"/>
<path color="#fa8232" d="M1384.8,102.5l10.8,4.7 11.1,0.8-10.7-6z"/>
<path color="#f78031" d="M1373.6,102.9l10.8,3.3 11.3,0.9-10.8-4.7z"/>
<path color="#f57f31" d="M1362.4,103.4l10.7,1.6 11.5,1-10.8-3.2z"/>
<path color="#6d3815" d="M1256.6,107.2l10.6-3 12.4-1.4-10.6,4.1z"/>
<path color="#6a3715" d="M1244.2,107.7l10.6-1.7 12.6-1.8-10.6,3.1z"/>
<path color="#f47f30" d="M1231.8,108.1l10.6,0 12.7-2.1-10.6,1.7z"/>
<path color="#f98132" d="M1219.2,108.6l10.7,1.7 12.8-2.3-10.6,0z"/>
<path d="M1219.4,108.6L1230,110.1" stroke="#1a0d08" stroke-width="1.35" fill="none" stroke-linecap="round"/>
<path color="#ff8936" d="M1713.4,93.6l10.7,4.6 8.4-3.3-10.7-3.1z"/>
<path d="M1721.9,91.9L1732.4,94.9" stroke="#1a0d08" stroke-width="1.35" fill="none" stroke-linecap="round"/>
<path color="#ff8a37" d="M1705,95.2l10.6,6 8.6-3.1-10.7-4.6z"/>
<path color="#ff8635" d="M1653,99.3l10.7,8.4 9,0.7-10.7-9z"/>
<path color="#fc8433" d="M1644.1,98.7l10.8,7.5 8.9,1.4-10.7-8.4z"/>
<path color="#f98132" d="M1635.2,97.9l10.7,6.2 9.1,2-10.8-7.5z"/>
<path color="#693715" d="M1551,92.9l10.9-2.2 9.7-0.6-10.9,2.4z"/>
<path color="#693615" d="M1541.2,93.8l11-1.7 9.8-1.3-11,2.1z"/>
<path color="#f68031" d="M1531.4,95l10.9-0.6 9.9-2.2-11,1.5z"/>
<path color="#fb8232" d="M1521.5,96.5l10.9,0.6 10-2.9-10.9,0.6z"/>
<path color="#ff8534" d="M1511.5,98.2l10.8,2 10.2-3.3-10.9-0.6z"/>
<path color="#ff8735" d="M1501.4,100.1l10.8,3.5 10.3-3.6-10.9-1.9z"/>
<path color="#ff8936" d="M1491.2,102l10.9,5.1 10.3-3.7-10.9-3.5z"/>
<path color="#ff8a37" d="M1480.9,103.8l10.9,6.7 10.4-3.6-10.9-5.1z"/>
<path color="#ff8b38" d="M1470.6,105.4l10.8,8.1 10.5-3.2-10.8-6.6z"/>
<path color="#fc8433" d="M1406.5,107.9l10.8,8.3 11.1,1.6-10.9-9.4z"/>
<path color="#f98132" d="M1395.4,107l10.9,7 11.2,2.1-10.9-8.3z"/>
<path color="#f47f31" d="M1384.3,106l10.9,5.3 11.2,2.6-10.8-7z"/>
<path color="#ef7c2f" d="M1373.1,104.8l10.8,3.7 11.4,2.7-10.8-5.3z"/>
<path color="#ed7b2f" d="M1361.7,103.6l10.7,2 11.7,2.8-10.8-3.7z"/>
<path color="#693715" d="M1291.4,101.8l10.8-2.3 12.2-0.8-10.7,2.6z"/>
<path color="#693615" d="M1279.3,102.9l10.7-1.8 12.4-1.6-10.7,2.4z"/>
<path color="#f68031" d="M1267.1,104.3l10.8-0.7 12.4-2.4-10.7,1.6z"/>
<path color="#fb8232" d="M1254.8,106l10.8,0.7 12.5-3.2-10.7,0.7z"/>
<path color="#ff8534" d="M1242.4,108l10.8,2.2 12.6-3.7-10.8-0.6z"/>
<path color="#ff8735" d="M1229.8,110.1l10.9,3.9 12.7-4-10.8-2.1z"/>
<path d="M1230,110.1L1240.7,113.9" stroke="#1a0d08" stroke-width="1.35" fill="none" stroke-linecap="round"/>
<path color="#f57f31" d="M1561.7,90.8l11-0.3 9.7-0.9-11,0.4z"/>
<path color="#fa8232" d="M1551.9,92.2l11,0.3 9.8-2-11,0.2z"/>
<path color="#ff8533" d="M1542.1,94.3l10.9,1.1 10-3-11-0.4z"/>
<path color="#ff8835" d="M1532.2,96.9l10.9,2.3 10.1-3.9-11-1.2z"/>
<path color="#ff8a37" d="M1522.2,100l10.9,3.7 10.1-4.7-10.9-2.2z"/>
<path color="#ff8d39" d="M1512.1,103.4l10.9,5.2 10.2-5.1-10.9-3.6z"/>
<path color="#ff8f3b" d="M1501.9,106.9l10.9,6.9 10.3-5.3-10.9-5.2z"/>
<path color="#f57f31" d="M1302.1,99.6l10.9-0.3 12.2-1-10.8,0.4z"/>
<path color="#fa8232" d="M1290,101.2l10.9,0.4 12.3-2.3-10.8,0.2z"/>
<path color="#ff8533" d="M1277.8,103.5l10.9,1.4 12.4-3.5-10.9-0.4z"/>
<path color="#ff8835" d="M1265.5,106.5l10.9,2.6 12.5-4.4-10.9-1.3z"/>
<path color="#ff8a37" d="M1253.1,110l10.9,4.2 12.6-5.3-10.9-2.5z"/>
<path color="#ff8d39" d="M1240.5,113.9l11,5.9 12.7-5.8-10.9-4.1z"/>
<path d="M1240.7,113.9L1251.5,119.6" stroke="#1a0d08" stroke-width="1.35" fill="none" stroke-linecap="round"/>
<path color="#5b2f12" d="M1591.7,89.8l11.1,1.1 9.5,1.7-11.1-1.6z"/>
<path color="#f47f30" d="M1582.1,89.6l11.1,1 9.6,0.3-11.1-1.2z"/>
<path color="#fa8232" d="M1572.4,90.5l11.1,1.2 9.7-1.1-11-1.1z"/>
<path color="#ff8533" d="M1562.7,92.4l11,1.7 9.9-2.5-11.1-1.3z"/>
<path color="#ff8836" d="M1552.9,95.3l11,2.5 9.9-3.8-11-1.8z"/>
<path color="#ff8c38" d="M1542.9,99.1l11.1,3.6 10-5.1-11-2.5z"/>
<path color="#ff8f3b" d="M1532.9,103.5l11.1,5 10.1-6-11-3.6z"/>
<path color="#ff923e" d="M1522.8,108.5l11.1,6.6 10.2-6.7-11-5z"/>
<path color="#572d11" d="M1348.6,99.8l11,1.6 11.9,3.4-10.9-2.6z"/>
<path color="#ee7b2f" d="M1336.8,98.4l10.9,1.3 12.1,1.9-10.9-1.8z"/>
<path color="#f47f30" d="M1324.9,98.3l11,1.2 12.1,0.2-10.9-1.3z"/>
<path color="#fa8232" d="M1312.9,99.3l11,1.4 12.2-1.3-11-1.3z"/>
<path color="#ff8533" d="M1300.8,101.4l11.1,2 12.3-2.9-11.1-1.4z"/>
<path color="#ff8836" d="M1288.6,104.7l11.1,2.9 12.4-4.4-11.1-1.9z"/>
<path color="#ff8c38" d="M1276.3,109l11.1,4 12.5-5.6-11.1-2.8z"/>
<path color="#ff8f3b" d="M1263.9,114l11.1,5.6 12.6-6.7-11.1-4.1z"/>
<path color="#ff923e" d="M1251.4,119.6l11.1,7.4 12.6-7.6-11-5.5z"/>
<path d="M1251.5,119.6L1262.5,126.8" stroke="#1a0d08" stroke-width="1.35" fill="none" stroke-linecap="round"/>
<path color="#542b10" d="M1612,92.6l11.2,2.4 9.4,3.7-11.2-3.2z"/>
<path color="#ed7b2f" d="M1602.5,90.9l11.2,2.1 9.5,2.1-11.2-2.5z"/>
<path color="#f57f31" d="M1592.9,90.6l11.2,2 9.6,0.4-11.1-2.2z"/>
<path color="#fc8333" d="M1583.3,91.6l11.1,2.2 9.8-1.3-11.2-2.1z"/>
<path color="#ff8735" d="M1573.5,94l11.2,2.6 9.8-3-11.1-2.2z"/>
<path color="#ff8b38" d="M1563.7,97.7l11.1,3.4 10-4.6-11.1-2.7z"/>
<path color="#ff8f3b" d="M1553.8,102.5l11.1,4.5 10.1-6.1-11.2-3.4z"/>
<path color="#ff9340" d="M1543.8,108.4l11.1,5.7 10.1-7.3-11.1-4.4z"/>
<path color="#ff9743" d="M1533.7,114.9l11.1,7.4 10.2-8.3-11.1-5.8z"/>
<path color="#522b10" d="M1382.8,109.1l11.1,4.6 11.6,6.9-11-6.1z"/>
<path color="#542b10" d="M1359.5,101.5l11.1,2.7 11.9,4.2-11-3.6z"/>
<path color="#ed7b2f" d="M1347.7,99.7l11.1,2.4 12,2.3-11-2.9z"/>
<path color="#f57f31" d="M1335.8,99.4l11.2,2.3 12.1,0.4-11.2-2.5z"/>
<path color="#fc8333" d="M1323.9,100.5l11.1,2.5 12.2-1.5-11.2-2.3z"/>
<path color="#ff8735" d="M1311.8,103.3l11.1,2.9 12.3-3.3-11.2-2.5z"/>
<path color="#ff8b38" d="M1299.6,107.4l11.1,3.8 12.4-5.1-11.2-3z"/>
<path color="#ff8f3b" d="M1287.3,112.9l11.1,5 12.5-6.8-11.2-3.8z"/>
<path color="#ff9340" d="M1274.8,119.5l11.2,6.4 12.6-8.2-11.2-5z"/>
<path color="#ff9743" d="M1262.3,126.9l11.2,8.2 12.7-9.3-11.2-6.5z"/>
<path d="M1262.5,126.8L1273.5,135" stroke="#1a0d08" stroke-width="1.35" fill="none" stroke-linecap="round"/>
<path color="#522b10" d="M1669,124l11.1,8.7 8.9,9.5-11.1-10.8z"/>
<path color="#522b10" d="M1659.9,116.6l11.2,6.9 9,9.3-11.2-8.7z"/>
<path color="#522b10" d="M1622.9,95l11.3,2.8 9.3,4.4-11.2-3.5z"/>
<path color="#552c11" d="M1613.4,92.9l11.3,2.5 9.5,2.5-11.3-2.9z"/>
<path color="#f57f31" d="M1603.9,92.5l11.2,2.4 9.6,0.6-11.2-2.7z"/>
<path color="#fd8433" d="M1594.2,93.6l11.2,2.7 9.8-1.5-11.2-2.5z"/>
<path color="#ff8936" d="M1584.5,96.5l11.2,3 9.8-3.4-11.2-2.6z"/>
<path color="#ff8d39" d="M1574.7,100.9l11.2,3.7 9.9-5.2-11.2-3.1z"/>
<path color="#ff923e" d="M1564.7,106.8l11.2,4.6 10.1-7-11.2-3.6z"/>
<path color="#ff9643" d="M1554.7,114l11.2,5.9 10.2-8.6-11.2-4.6z"/>
<path color="#522b10" d="M1416.6,128.1l11.2,7.7 11.4,10.3-11.2-9.8z"/>
<path color="#522b10" d="M1405.3,120.5l11.2,6 11.5,9.5-11.2-7.6z"/>
<path color="#522b10" d="M1393.8,113.7l11.2,4.8 11.6,8.2-11.2-6z"/>
<path color="#522b10" d="M1370.5,104.3l11.2,3.1 11.9,4.9-11.1-3.9z"/>
<path color="#eb7a2e" d="M1358.8,102l11.1,2.9 12.1,2.7-11.2-3.4z"/>
<path color="#f57f31" d="M1346.9,101.5l11.2,2.8 12.1,0.5-11.2-2.9z"/>
<path color="#fd8433" d="M1334.9,102.9l11.2,3 12.2-1.7-11.2-2.8z"/>
<path color="#ff8936" d="M1322.8,106.1l11.2,3.4 12.3-3.8-11.2-3z"/>
<path color="#ff8d39" d="M1310.6,111.1l11.2,4.1 12.4-5.9-11.2-3.4z"/>
<path color="#ff923e" d="M1298.3,117.7l11.2,5.2 12.5-7.8-11.2-4.2z"/>
<path color="#ff9643" d="M1285.9,125.8l11.2,6.6 12.6-9.6-11.3-5.2z"/>
<path color="#ff9a47" d="M1273.4,135l11.2,8.3 12.7-11.1-11.3-6.6z"/>
<path d="M1273.5,135L1284.7,143.2" stroke="#1a0d08" stroke-width="1.35" fill="none" stroke-linecap="round"/>
<path color="#522b10" d="M1688.8,142l11.2,9.6 8.7,11.5-11.1-12.1z"/>
<path color="#522b10" d="M1679.8,132.6l11.2,7.6 8.9,11.5-11.2-9.6z"/>
<path color="#522b10" d="M1670.8,123.5l11.2,6 9,10.9-11.1-7.6z"/>
<path color="#522b10" d="M1661.7,115.1l11.2,4.8 9.2,9.8-11.2-6z"/>
<path color="#562c11" d="M1624.4,95.4l11.4,2.4 9.5,2.8-11.4-2.7z"/>
<path color="#f47f30" d="M1614.9,94.8l11.3,2.4 9.6,0.6-11.3-2.5z"/>
<path color="#fe8433" d="M1605.2,96.1l11.4,2.6 9.7-1.6-11.3-2.4z"/>
<path color="#ff8936" d="M1595.5,99.4l11.3,2.8 9.8-3.7-11.2-2.5z"/>
<path color="#ff8e3a" d="M1585.7,104.5l11.3,3.3 9.9-5.7-11.3-2.9z"/>
<path color="#ff933f" d="M1575.8,111.3l11.3,4.2 10-7.8-11.3-3.4z"/>
<path color="#522b10" d="M1439,145.9l11.3,8.5 11.2,12.7-11.3-10.6z"/>
<path color="#522b10" d="M1427.7,135.8l11.4,6.8 11.3,12-11.3-8.5z"/>
<path color="#522b10" d="M1416.4,126.6l11.3,5.3 11.5,10.9-11.3-6.7z"/>
<path color="#522b10" d="M1404.9,118.6l11.4,4.3 11.5,9.3-11.3-5.4z"/>
<path color="#522b10" d="M1393.3,112.1l11.4,3.5 11.7,7.5-11.3-4.3z"/>
<path color="#532b10" d="M1381.7,107.5l11.3,2.9 11.8,5.4-11.3-3.5z"/>
<path color="#e9792e" d="M1369.9,104.8l11.2,2.7 12.1,3.1-11.2-3.1z"/>
<path color="#f47f30" d="M1358,104.2l11.3,2.7 12.1,0.6-11.3-2.8z"/>
<path color="#fe8433" d="M1346,105.7l11.4,2.9 12.1-1.8-11.3-2.7z"/>
<path color="#ff8936" d="M1333.9,109.4l11.4,3.2 12.2-4.2-11.3-2.8z"/>
<path color="#ff8e3a" d="M1321.7,115.1l11.4,3.8 12.3-6.5-11.3-3.2z"/>
<path color="#ff933f" d="M1309.4,122.8l11.4,4.7 12.4-8.8-11.3-3.8z"/>
<path color="#ff9744" d="M1297,132.3l11.4,5.8 12.5-10.8-11.3-4.7z"/>
<path color="#ff9b48" d="M1284.5,143.2l11.4,7.4 12.6-12.7-11.3-5.8z"/>
<path d="M1284.7,143.2L1295.9,150.4" stroke="#1a0d08" stroke-width="1.35" fill="none" stroke-linecap="round"/>
<path color="#522b10" d="M1708.5,162.9l11.2,9.2 8.7,13.7-11.2-12.5z"/>
<path color="#522b10" d="M1699.7,151.5l11.2,7 8.8,13.8-11.2-9.2z"/>
<path color="#522b10" d="M1690.8,140.2l11.3,5.5 8.9,13.1-11.2-7z"/>
<path color="#522b10" d="M1681.8,129.6l11.3,4.2 9,12.1-11.2-5.4z"/>
<path color="#532b10" d="M1672.8,120l11.3,3.4 9.1,10.7-11.3-4.3z"/>
<path color="#532b10" d="M1663.6,111.8l11.3,2.7 9.2,9.1-11.3-3.4z"/>
<path color="#572d11" d="M1635.5,97.8l11.5,1.7 9.4,3.1-11.4-2z"/>
<path color="#f37e30" d="M1626,97.1l11.5,1.8 9.5,0.7-11.5-1.9z"/>
<path color="#fd8433" d="M1616.3,98.5l11.5,2 9.7-1.7-11.4-1.8z"/>
<path color="#ff8936" d="M1606.6,102.1l11.4,2.1 9.8-3.9-11.3-1.9z"/>
<path color="#ff8d3a" d="M1596.8,107.7l11.4,2.5 9.9-6.1-11.4-2.2z"/>
<path color="#ff923e" d="M1586.9,115.3l11.4,3.1 10-8.4-11.4-2.4z"/>
<path color="#522b10" d="M1472.3,179.4l11.4,10.3 10.9,15.1-11.4-14z"/>
<path color="#522b10" d="M1461.3,166.9l11.4,7.8 11.1,15.2-11.4-10.2z"/>
<path color="#522b10" d="M1450.2,154.4l11.4,6.1 11.2,14.5-11.4-7.8z"/>
<path color="#522b10" d="M1438.9,142.6l11.5,4.8 11.3,13.4-11.4-6.1z"/>
<path color="#532b10" d="M1427.6,132l11.4,3.8 11.5,11.9-11.4-4.8z"/>
<path color="#532b10" d="M1416.1,122.9l11.5,3.1 11.6,10.1-11.5-3.9z"/>
<path color="#532b10" d="M1404.6,115.7l11.4,2.5 11.7,8.1-11.4-3.1z"/>
<path color="#542c11" d="M1392.9,110.5l11.4,2.1 11.9,5.8-11.5-2.5z"/>
<path color="#572d11" d="M1381.1,107.5l11.4,1.9 12,3.4-11.4-2.1z"/>
<path color="#f37e30" d="M1369.2,106.8l11.4,2.1 12.1,0.7-11.4-2.2z"/>
<path color="#fd8433" d="M1357.2,108.4l11.5,2.2 12.1-1.8-11.4-2.2z"/>
<path color="#ff8936" d="M1345.1,112.4l11.5,2.5 12.3-4.4-11.5-2.2z"/>
<path color="#ff8d3a" d="M1332.9,118.8l11.5,2.8 12.4-6.9-11.5-2.4z"/>
<path color="#ff923e" d="M1320.6,127.4l11.5,3.4 12.5-9.4-11.5-2.8z"/>
<path color="#ff9643" d="M1308.2,138l11.5,4.2 12.6-11.6-11.5-3.4z"/>
<path color="#ff9947" d="M1295.7,150.5l11.5,5.3 12.7-13.8-11.5-4.2z"/>
<path d="M1295.9,150.4L1307.2,155.6" stroke="#1a0d08" stroke-width="1.35" fill="none" stroke-linecap="round"/>
<path color="#cc6a28" d="M1736.8,197.4l11.3,9.5 8.5,15.9-11.1-20.1z"/>
<path color="#522b10" d="M1728.2,185.6l11.3,5.6 8.6,15.9-11.2-9.4z"/>
<path color="#532b10" d="M1719.5,172.1l11.3,3.9 8.7,15.4-11.2-5.6z"/>
<path color="#532b10" d="M1710.8,158.6l11.3,2.9 8.8,14.7-11.3-3.9z"/>
<path color="#532b10" d="M1701.9,145.7l11.3,2.3 8.9,13.7-11.3-2.9z"/>
<path color="#532b10" d="M1692.9,133.9l11.4,1.8 9,12.5-11.3-2.3z"/>
<path color="#532b10" d="M1683.9,123.4l11.4,1.5 9.1,11-11.4-1.8z"/>
<path color="#532b10" d="M1674.7,114.6l11.4,1.2 9.3,9.3-11.4-1.4z"/>
<path color="#552c11" d="M1665.5,107.5l11.4,1 9.3,7.5-11.4-1.2z"/>
<path color="#5b2f12" d="M1646.7,99.6l11.5,0.7 9.5,3.2-11.5-0.9z"/>
<path color="#5e3012" d="M1637.2,98.8l11.6,0.9 9.5,0.8-11.6-0.9z"/>
<path color="#fb8332" d="M1627.6,100.3l11.5,1 9.7-1.6-11.6-1z"/>
<path color="#ff8735" d="M1617.8,104.1l11.5,1.1 9.8-4-11.4-1z"/>
<path color="#ff8b38" d="M1608,110.1l11.5,1.3 9.9-6.4-11.4-1.1z"/>
<path color="#522b10" d="M1494.4,204.6l11.5,6.3 10.8,17.5-11.4-10.4z"/>
<path color="#532b10" d="M1483.6,189.7l11.4,4.5 11,17-11.5-6.3z"/>
<path color="#532b10" d="M1472.6,174.8l11.5,3.3 11,16.3-11.4-4.4z"/>
<path color="#532b10" d="M1461.5,160.6l11.5,2.6 11.2,15.2-11.5-3.4z"/>
<path color="#532b10" d="M1450.2,147.5l11.6,2.1 11.3,13.8-11.5-2.6z"/>
<path color="#532b10" d="M1438.9,135.9l11.5,1.7 11.5,12.2-11.5-2.1z"/>
<path color="#532b10" d="M1427.4,126.1l11.6,1.4 11.6,10.3-11.6-1.7z"/>
<path color="#552c11" d="M1415.9,118.3l11.5,1.2 11.7,8.2-11.5-1.4z"/>
<path color="#582e11" d="M1404.2,112.8l11.6,1 11.8,5.9-11.6-1.2z"/>
<path color="#5b2f12" d="M1392.4,109.5l11.6,0.9 11.9,3.5-11.5-1z"/>
<path color="#f17d30" d="M1380.5,108.7l11.5,1.1 12.2,0.8-11.5-1.1z"/>
<path color="#fb8332" d="M1368.6,110.5l11.5,1.2 12.2-1.9-11.6-1.2z"/>
<path color="#ff8735" d="M1356.5,114.8l11.5,1.2 12.3-4.5-11.6-1.2z"/>
<path color="#ff8b38" d="M1344.3,121.5l11.5,1.4 12.4-7.1-11.6-1.2z"/>
<path color="#ff8e3c" d="M1332,130.7l11.5,1.6 12.5-9.6-11.6-1.4z"/>
<path color="#ff913f" d="M1319.6,142.1l11.5,2 12.6-12-11.6-1.6z"/>
<path color="#ff9241" d="M1307.1,155.7l11.5,2.4 12.7-14.2-11.6-2z"/>
<path d="M1307.2,155.6L1318.6,157.9" stroke="#1a0d08" stroke-width="1.35" fill="none" stroke-linecap="round"/>
<path color="#743d18" d="M1747.9,206.9l11.4-8 8.7,5.4-11.5,18.6z"/>
<path color="#623313" d="M1739.3,191.3l11.4-4.4 8.7,12.2-11.4,8z"/>
<path color="#5b2f12" d="M1730.6,176.1l11.5-2.8 8.7,13.8-11.4,4.4z"/>
<path color="#582e11" d="M1721.9,161.6l11.5-1.9 8.8,13.8-11.4,2.8z"/>
<path color="#572d11" d="M1713.1,148.1l11.4-1.4 9,13.2-11.5,1.9z"/>
<path color="#572d11" d="M1704.1,135.8l11.5-1 9,12.1-11.4,1.4z"/>
<path color="#572d11" d="M1695.1,125l11.5-0.7 9.1,10.7-11.5,1z"/>
<path color="#582e11" d="M1686,115.9l11.5-0.6 9.2,9.2-11.5,0.7z"/>
<path color="#5a2f12" d="M1676.7,108.6l11.6-0.4 9.3,7.3-11.5,0.6z"/>
<path color="#f88131" d="M1638.9,101.2l11.6,0 9.7-1.7-11.7,0.1z"/>
<path color="#ff8534" d="M1629.1,105.1l11.7-0.1 9.7-4-11.6,0.1z"/>
<path color="#c56627" d="M1527.2,245.8l11.6-20.5 10.6-7.7-11.6,8.6z"/>
<path color="#743d18" d="M1516.5,228.3l11.6-8.8 10.8,5.9-11.6,20.5z"/>
<path color="#623313" d="M1505.8,211l11.6-4.7 10.8,13.4-11.6,8.8z"/>
<path color="#5b2f12" d="M1494.9,194.2l11.6-2.9 11,15.2-11.6,4.7z"/>
<path color="#582e11" d="M1483.9,178.2l11.6-2 11.1,15.3-11.6,3z"/>
<path color="#572d11" d="M1472.8,163.3l11.7-1.5 11.2,14.6-11.6,2z"/>
<path color="#572d11" d="M1461.6,149.7l11.7-1.1 11.3,13.5-11.6,1.4z"/>
<path color="#572d11" d="M1450.3,137.7l11.6-0.7 11.5,11.9-11.6,1z"/>
<path color="#582e11" d="M1438.9,127.6l11.6-0.5 11.6,10.1-11.7,0.7z"/>
<path color="#5a2f12" d="M1427.3,119.6l11.7-0.4 11.7,8.1-11.7,0.5z"/>
<path color="#5c3012" d="M1415.6,113.9l11.7-0.3 11.8,5.8-11.7,0.4z"/>
<path color="#f88131" d="M1380,111.5l11.6,0 12.2-1.9-11.6,0z"/>
<path color="#ff8534" d="M1367.9,115.9l11.6-0.1 12.3-4.4-11.6,0z"/>
<path color="#ff8836" d="M1355.7,122.8l11.6-0.1 12.4-7.1-11.7,0.1z"/>
<path color="#ff8a38" d="M1343.4,132.2l11.6-0.3 12.5-9.5-11.7,0.2z"/>
<path color="#ff8a39" d="M1331,144l11.6-0.5 12.6-11.8-11.7,0.3z"/>
<path color="#ff893a" d="M1318.5,158l11.6-0.9 12.7-13.9-11.7,0.6z"/>
<path d="M1318.6,157.9L1330.1,157" stroke="#1a0d08" stroke-width="1.35" fill="none" stroke-linecap="round"/>
<path color="#8f4b1d" d="M1767.8,204.5l11.6-18.4 8.7-3.9-11.6,15.4z"/>
<path color="#87481d" d="M1759.2,199.1l11.6-15.5 8.7,2.6-11.6,18.3z"/>
<path color="#753e18" d="M1750.6,187.1l11.6-11.3 8.7,7.9-11.6,15.5z"/>
<path color="#6b3816" d="M1741.9,173.4l11.6-8.2 8.8,10.7-11.6,11.3z"/>
<path color="#653414" d="M1733.2,159.8l11.6-6.1 8.8,11.7-11.6,8.2z"/>
<path color="#613213" d="M1724.4,146.8l11.6-4.6 8.9,11.7-11.6,6.1z"/>
<path color="#5f3113" d="M1715.4,134.9l11.6-3.5 9.1,11-11.6,4.6z"/>
<path color="#5e3113" d="M1706.4,124.4l11.6-2.7 9.2,9.9-11.6,3.5z"/>
<path color="#5e3113" d="M1697.3,115.4l11.6-2.1 9.3,8.5-11.7,2.8z"/>
<path color="#5f3113" d="M1688.1,108.3l11.6-1.6 9.3,6.8-11.6,2.1z"/>
<path color="#f57f31" d="M1650.3,101.1l11.8-1.1 9.6-1.5-11.8,1z"/>
<path color="#fb8332" d="M1640.6,104.9l11.7-1.2 9.8-3.8-11.8,1z"/>
<path color="#88471b" d="M1549.2,217.8l11.7-17 10.6-10.1-11.8,12.1z"/>
<path color="#8f4b1d" d="M1538.6,225.6l11.7-20.3 10.7-4.5-11.7,17.1z"/>
<path color="#87481d" d="M1528,219.7l11.7-17.2 10.7,2.9-11.7,20.2z"/>
<path color="#753e18" d="M1517.2,206.4l11.7-12.4 10.9,8.7-11.7,17.1z"/>
<path color="#6b3816" d="M1506.4,191.4l11.7-9 11,11.7-11.8,12.5z"/>
<path color="#653414" d="M1495.4,176.3l11.7-6.7 11.1,12.9-11.7,9.1z"/>
<path color="#613213" d="M1484.3,161.9l11.8-5 11.2,12.9-11.8,6.7z"/>
<path color="#5f3113" d="M1473.1,148.7l11.8-3.8 11.3,12.2-11.7,5z"/>
<path color="#5e3113" d="M1461.8,137.1l11.8-3 11.4,11-11.7,3.8z"/>
<path color="#5e3113" d="M1450.4,127.2l11.7-2.3 11.6,9.4-11.8,3z"/>
<path color="#5f3113" d="M1438.8,119.3l11.8-1.8 11.7,7.6-11.8,2.3z"/>
<path color="#603213" d="M1427.2,113.7l11.7-1.5 11.8,5.5-11.7,1.8z"/>
<path color="#f57f31" d="M1391.5,111.4l11.7-1.1 12.2-1.8-11.7,1z"/>
<path color="#fb8332" d="M1379.4,115.7l11.8-1.3 12.2-4.2-11.7,1z"/>
<path color="#fe8534" d="M1367.2,122.6l11.8-1.7 12.3-6.6-11.7,1.2z"/>
<path color="#fe8535" d="M1354.9,131.8l11.7-2.1 12.5-9-11.7,1.7z"/>
<path color="#fb8435" d="M1342.5,143.4l11.7-2.9 12.6-11.1-11.7,2.2z"/>
<path color="#f68234" d="M1330,157.1l11.7-3.9 12.7-12.9-11.8,2.9z"/>
<path d="M1330.1,157L1341.7,153" stroke="#1a0d08" stroke-width="1.35" fill="none" stroke-linecap="round"/>
<path color="#8c491c" d="M1787.9,182.4l11.7-16.4 8.6-6.4-11.7,13.8z"/>
<path color="#8e4a1d" d="M1779.3,186.4l11.7-17.6 8.6-2.8-11.7,16.4z"/>
<path color="#8a491d" d="M1770.7,183.8l11.7-16.5 8.7,1.5-11.8,17.6z"/>
<path color="#7e421b" d="M1762,176l11.8-14 8.7,5.4-11.7,16.4z"/>
<path color="#753d18" d="M1753.3,165.4l11.8-11.2 8.8,8-11.8,13.9z"/>
<path color="#6e3916" d="M1744.6,153.9l11.7-8.8 8.9,9.3-11.7,11.1z"/>
<path color="#693715" d="M1735.8,142.4l11.7-6.9 8.9,9.7-11.7,8.8z"/>
<path color="#663514" d="M1726.9,131.5l11.7-5.3 9,9.5-11.7,6.8z"/>
<path color="#643414" d="M1717.9,121.8l11.7-4.2 9.1,8.7-11.7,5.4z"/>
<path color="#633313" d="M1708.8,113.4l11.7-3.2 9.2,7.6-11.7,4.1z"/>
<path color="#633313" d="M1699.6,106.8l11.7-2.6 9.3,6.1-11.7,3.3z"/>
<path color="#f37e30" d="M1661.8,100l11.9-1.8 9.5-1.3-11.8,1.6z"/>
<path color="#f88131" d="M1652.1,103.6l11.8-2 9.8-3.4-11.9,1.7z"/>
<path color="#8e4a1d" d="M1550.2,205.6l11.8-19.5 10.7-3.1-11.8,18.1z"/>
<path color="#8a491d" d="M1539.5,202.8l11.9-18.3 10.7,1.7-11.8,19.4z"/>
<path color="#7e421b" d="M1528.8,194.2l11.8-15.4 10.9,5.8-11.8,18.2z"/>
<path color="#753d18" d="M1517.9,182.5l11.9-12.3 11,8.7-11.9,15.4z"/>
<path color="#6e3916" d="M1507,169.8l11.8-9.7 11.1,10.2-11.8,12.4z"/>
<path color="#693715" d="M1495.9,157l11.9-7.5 11.2,10.7-11.9,9.7z"/>
<path color="#663514" d="M1484.7,145l11.9-5.9 11.3,10.5-11.9,7.6z"/>
<path color="#643414" d="M1473.4,134.2l11.9-4.6 11.4,9.7-11.8,5.9z"/>
<path color="#f88131" d="M1391,114.3l11.9-2.1 12.3-3.9-11.9,1.8z"/>
<path color="#fa8232" d="M1378.8,120.8l11.9-2.6 12.4-6.2-11.9,2.2z"/>
<path color="#f98233" d="M1366.5,129.6l11.9-3.5 12.5-8.2-11.9,2.7z"/>
<path color="#f58032" d="M1354.1,140.4l11.8-4.6 12.6-9.9-11.8,3.5z"/>
<path color="#ee7d31" d="M1341.6,153.1l11.8-6 12.7-11.5-11.8,4.6z"/>
<path d="M1341.7,153L1353.4,146.9" stroke="#1a0d08" stroke-width="1.35" fill="none" stroke-linecap="round"/>
<path color="#8c491d" d="M1790.8,169l11.9-16.5 8.6-2-11.8,15.8z"/>
<path color="#88481d" d="M1782.2,167.5l11.9-15.9 8.7,0.9-11.9,16.6z"/>
<path color="#81441b" d="M1773.6,162.3l11.8-14.3 8.8,3.7-11.9,15.9z"/>
<path color="#794019" d="M1764.9,154.4l11.8-12.1 8.9,5.8-11.9,14.2z"/>
<path color="#743c17" d="M1756.2,145.2l11.8-9.9 8.9,7.1-11.9,12.1z"/>
<path color="#6f3a16" d="M1747.3,135.6l11.9-8 8.9,7.8-11.8,10z"/>
<path color="#6b3715" d="M1738.4,126.3l11.8-6.3 9.1,7.8-11.9,8z"/>
<path color="#683615" d="M1729.4,117.7l11.8-4.9 9.2,7.3-11.9,6.3z"/>
<path color="#663514" d="M1720.3,110.3l11.9-3.8 9.2,6.5-11.9,4.9z"/>
<path color="#693615" d="M1673.4,98.3l12-2 9.5-1.2-11.9,1.8z"/>
<path color="#f78031" d="M1663.7,101.6l12-2.2 9.7-3.1-12,1.9z"/>
<path color="#f88132" d="M1653.9,106.8l12-2.8 9.8-4.7-12,2.1z"/>
<path color="#f78031" d="M1402.8,112.1l12-2.3 12.2-3.5-11.9,1.9z"/>
<path color="#f88132" d="M1390.6,118.1l11.9-3.1 12.4-5.4-12,2.3z"/>
<path color="#f68032" d="M1378.3,126l11.9-4.1 12.5-7.1-12,3.1z"/>
<path color="#f17e31" d="M1365.8,135.8l12-5.5 12.6-8.6-12,4.1z"/>
<path color="#eb7a2f" d="M1353.3,147l11.9-7.1 12.7-9.8-11.9,5.4z"/>
<path d="M1353.4,146.9L1365.2,139.7" stroke="#1a0d08" stroke-width="1.35" fill="none" stroke-linecap="round"/>
<path color="#f37e30" d="M1685.1,96.4l12.1-1.5 9.5-1.1-12.1,1.4z"/>
<path color="#f78031" d="M1675.4,99.3l12.1-1.8 9.7-2.6-12.1,1.4z"/>
<path color="#f88132" d="M1665.6,103.9l12.1-2.5 9.8-4-12.1,1.8z"/>
<path color="#673514" d="M1426.7,106.3l12.2-1.7 12.1-1.2-12.1,1.6z"/>
<path color="#f78031" d="M1414.6,109.7l12.1-2 12.3-3-12.1,1.4z"/>
<path color="#f88132" d="M1402.4,114.9l12.1-2.8 12.4-4.6-12.1,2z"/>
<path color="#f68031" d="M1390.1,121.8l12.1-4 12.5-5.9-12.1,2.8z"/>
<path color="#f17e30" d="M1377.7,130.2l12-5.4 12.6-7.2-12,4z"/>
<path color="#ea7a2f" d="M1365.1,139.8l12-7.3 12.8-8-12.1,5.5z"/>
<path d="M1365.2,139.7L1377.2,132.4" stroke="#1a0d08" stroke-width="1.35" fill="none" stroke-linecap="round"/>
<path color="#f68031" d="M1696.9,94.9l12.2-0.4 9.5-1-12.2,0.3z"/>
<path color="#f98132" d="M1687.2,97.4l12.2-0.9 9.7-2.1-12.2,0.4z"/>
<path color="#fa8232" d="M1677.5,101.3l12.2-1.7 9.7-3.2-12.1,0.9z"/>
<path color="#f88132" d="M1667.6,106.4l12.2-2.8 9.9-4.1-12.2,1.7z"/>
<path color="#f68031" d="M1438.7,104.7l12.3-0.3 12.1-1.3-12.3,0.2z"/>
<path color="#f98132" d="M1426.6,107.6l12.2-0.9 12.3-2.5-12.2,0.4z"/>
<path color="#fa8232" d="M1414.4,112l12.2-1.8 12.4-3.7-12.2,0.9z"/>
<path color="#f88132" d="M1402.1,117.7l12.2-3 12.5-4.7-12.3,1.8z"/>
<path color="#f47f31" d="M1389.6,124.7l12.2-4.6 12.6-5.6-12.2,3z"/>
<path color="#ed7b2f" d="M1377,132.5l12.1-6.5 12.8-6.1-12.1,4.6z"/>
<path d="M1377.2,132.4L1389.2,125.9" stroke="#1a0d08" stroke-width="1.35" fill="none" stroke-linecap="round"/>
<path color="#5e3112" d="M1727.8,93.7l12.2,1 9.4,0.8-12.3-0.5z"/>
<path color="#f57f30" d="M1718.3,93.5l12.3,1.2 9.4,0-12.2-1z"/>
<path color="#f98132" d="M1708.8,94.4l12.2,1.1 9.6-0.8-12.2-1.3z"/>
<path color="#fc8332" d="M1699.1,96.5l12.3,0.5 9.7-1.6-12.3-1.1z"/>
<path color="#fd8433" d="M1689.4,99.5l12.3-0.2 9.7-2.4-12.2-0.6z"/>
<path color="#fc8332" d="M1679.6,103.5l12.3-1.4 9.8-3-12.2,0.3z"/>
<path color="#5e3112" d="M1474.7,103.3l12.5,1.2 11.7,0.8-12.4-0.5z"/>
<path color="#f57f30" d="M1462.8,103.1l12.4,1.5 12-0.1-12.4-1.3z"/>
<path color="#f98132" d="M1450.8,104.2l12.4,1.3 12.1-1-12.4-1.5z"/>
<path color="#fc8332" d="M1438.7,106.5l12.4,0.8 12.2-1.9-12.3-1.3z"/>
<path color="#fd8433" d="M1426.5,110l12.3-0.2 12.4-2.7-12.4-0.7z"/>
<path color="#fc8332" d="M1414.1,114.6l12.4-1.5 12.5-3.5-12.4,0.3z"/>
<path color="#f88131" d="M1401.7,120l12.3-3.2 12.6-3.9-12.3,1.5z"/>
<path color="#f27d30" d="M1389.1,125.9l12.2-5 12.9-4.2-12.4,3.1z"/>
<path d="M1389.2,125.9L1401.4,120.8" stroke="#1a0d08" stroke-width="1.35" fill="none" stroke-linecap="round"/>
<path color="#5d3012" d="M1758.4,96.9l12.3,1.4 9.2,0.9-12.4-0.3z"/>
<path color="#f27d30" d="M1749.1,95.4l12.3,2.4 9.3,0.5-12.3-1.4z"/>
<path color="#f57f31" d="M1739.7,94.7l12.4,3 9.3,0.1-12.3-2.4z"/>
<path color="#f88132" d="M1730.3,94.7l12.3,3.2 9.5-0.3-12.3-3z"/>
<path color="#fb8332" d="M1720.8,95.4l12.3,3 9.6-0.6-12.3-3.2z"/>
<path color="#fd8433" d="M1711.1,96.9l12.4,2.5 9.6-1.1-12.3-3z"/>
<path color="#fe8433" d="M1701.4,99.2l12.4,1.6 9.7-1.5-12.3-2.5z"/>
<path color="#fe8433" d="M1691.6,102l12.4,0.4 9.8-1.8-12.3-1.6z"/>
<path color="#fb8232" d="M1681.7,105.3l12.4-1 9.9-2-12.3-0.4z"/>
<path color="#5d3012" d="M1510.2,106.8l12.6,1.7 11.5,0.9-12.5-0.3z"/>
<path color="#f27d30" d="M1498.6,105.2l12.5,2.8 11.7,0.5-12.5-1.8z"/>
<path color="#f57f31" d="M1486.9,104.4l12.5,3.5 11.8,0-12.5-2.8z"/>
<path color="#f88132" d="M1475,104.5l12.5,3.6 12-0.4-12.5-3.4z"/>
<path color="#fb8332" d="M1463,105.4l12.5,3.4 12.1-0.8-12.5-3.7z"/>
<path color="#fd8433" d="M1450.9,107.1l12.5,2.9 12.2-1.3-12.4-3.5z"/>
<path color="#fe8433" d="M1438.7,109.7l12.5,1.8 12.3-1.7-12.4-2.8z"/>
<path color="#fe8433" d="M1426.3,112.9l12.5,0.5 12.5-2-12.5-1.9z"/>
<path color="#fb8232" d="M1413.9,116.7l12.4-1.1 12.7-2.3-12.5-0.5z"/>
<path color="#f68031" d="M1401.3,120.9l12.3-3 12.9-2.4-12.5,1.1z"/>
<path d="M1401.4,120.8L1413.7,117.8" stroke="#1a0d08" stroke-width="1.35" fill="none" stroke-linecap="round"/>
<path color="#6b3715" d="M1806.6,102.5l12.4-2.3 8.8-0.3-12.3,3.8z"/>
<path color="#663514" d="M1797.7,101.3l12.4-0.7 8.9-0.3-12.4,2.3z"/>
<path color="#613213" d="M1788.6,100.2l12.5,0.9 9-0.4-12.4,0.7z"/>
<path color="#f47f30" d="M1779.6,99.1l12.3,2.4 9.2-0.4-12.4-0.9z"/>
<path color="#f78031" d="M1770.4,98.3l12.4,3.6 9.2-0.4-12.4-2.4z"/>
<path color="#f88132" d="M1761.1,97.7l12.4,4.7 9.3-0.5-12.4-3.7z"/>
<path color="#fa8232" d="M1751.8,97.5l12.3,5.3 9.5-0.5-12.4-4.7z"/>
<path color="#fc8333" d="M1742.4,97.7l12.3,5.5 9.5-0.5-12.3-5.3z"/>
<path color="#fd8433" d="M1732.9,98.3l12.3,5.3 9.6-0.5-12.3-5.5z"/>
<path color="#fc8433" d="M1723.2,99.3l12.4,4.7 9.7-0.5-12.4-5.3z"/>
<path color="#fc8433" d="M1713.5,100.6l12.5,3.8 9.7-0.5-12.4-4.7z"/>
<path color="#fc8333" d="M1703.7,102.3l12.5,2.5 9.8-0.5-12.4-3.8z"/>
<path color="#fb8232" d="M1693.9,104.2l12.5,1 9.9-0.5-12.5-2.5z"/>
<path color="#6b3715" d="M1567.9,112.9l12.6-2.5 11.1-0.4-12.6,4.2z"/>
<path color="#663514" d="M1556.7,111.7l12.7-0.8 11.2-0.4-12.6,2.5z"/>
<path color="#613213" d="M1545.4,110.4l12.7,1.1 11.3-0.5-12.6,0.8z"/>
<path color="#f47f30" d="M1534,109.3l12.7,2.8 11.4-0.6-12.6-1.1z"/>
<path color="#f78031" d="M1522.5,108.4l12.6,4.2 11.7-0.6-12.7-2.8z"/>
<path color="#f88132" d="M1510.9,107.9l12.6,5.2 11.8-0.6-12.6-4.2z"/>
<path color="#fa8232" d="M1499.2,107.7l12.6,5.9 11.8-0.6-12.5-5.3z"/>
<path color="#fc8333" d="M1487.3,107.9l12.6,6.2 12-0.6-12.6-5.9z"/>
<path color="#fd8433" d="M1475.4,108.6l12.6,6 12.1-0.6-12.6-6.2z"/>
<path color="#fc8433" d="M1463.2,109.8l12.7,5.3 12.2-0.6-12.6-6z"/>
<path color="#fc8433" d="M1451,111.4l12.6,4.3 12.4-0.7-12.6-5.3z"/>
<path color="#fc8333" d="M1438.7,113.3l12.6,2.9 12.5-0.7-12.6-4.3z"/>
<path color="#fb8232" d="M1426.2,115.5l12.6,1.2 12.6-0.6-12.6-3z"/>
<path color="#f88131" d="M1413.6,117.8l12.6-0.5 12.8-0.7-12.6-1.3z"/>
<path d="M1413.7,117.8L1426.2,117.1" stroke="#1a0d08" stroke-width="1.35" fill="none" stroke-linecap="round"/>
<path color="#6d3815" d="M1836.3,99.6l12.5-2.9 8.7-1.2-12.5,3.8z"/>
<path color="#6a3715" d="M1827.5,99.9l12.5-1.6 8.8-1.5-12.5,2.8z"/>
<path color="#f47f30" d="M1818.7,100.3l12.5-0.1 8.8-1.9-12.5,1.6z"/>
<path color="#f98132" d="M1809.8,100.7l12.4,1.5 9-2.1-12.5,0.1z"/>
<path color="#fc8333" d="M1800.8,101l12.4,3.1 9-2-12.4-1.5z"/>
<path color="#fe8433" d="M1791.7,101.4l12.4,4.6 9.1-2-12.4-3.1z"/>
<path color="#ff8534" d="M1782.5,101.8l12.4,6 9.3-1.9-12.4-4.6z"/>
<path color="#ff8635" d="M1773.3,102.2l12.4,7 9.3-1.6-12.4-5.9z"/>
<path color="#ff8735" d="M1763.9,102.6l12.4,7.7 9.4-1.2-12.3-7z"/>
<path color="#ff8735" d="M1754.5,103l12.4,7.9 9.5-0.7-12.4-7.7z"/>
<path color="#ff8635" d="M1745,103.4l12.4,7.7 9.6-0.3-12.4-7.9z"/>
<path color="#ff8534" d="M1735.4,103.8l12.5,7.1 9.6,0.1-12.4-7.7z"/>
<path color="#fd8433" d="M1725.7,104.2l12.5,6.2 9.8,0.4-12.5-7.1z"/>
<path color="#fa8232" d="M1716,104.7l12.5,4.8 9.8,0.8-12.5-6.2z"/>
<path color="#f78031" d="M1706.1,105.1l12.6,3.3 9.9,1-12.6-4.8z"/>
<path color="#6d3815" d="M1602.3,109.6l12.7-3.2 10.9-1.3-12.7,4.1z"/>
<path color="#6a3715" d="M1591.3,110.1l12.8-1.8 11-1.8-12.8,3.2z"/>
<path color="#f47f30" d="M1580.3,110.5l12.7,0 11.1-2.2-12.8,1.8z"/>
<path color="#f98132" d="M1569.1,111l12.7,1.7 11.3-2.3-12.8,0z"/>
<path color="#fc8333" d="M1557.8,111.5l12.7,3.5 11.4-2.4-12.7-1.8z"/>
<path color="#fe8433" d="M1546.5,111.9l12.7,5.3 11.5-2.3-12.7-3.6z"/>
<path color="#ff8534" d="M1535,112.4l12.7,6.7 11.6-2.1-12.7-5.2z"/>
<path color="#ff8635" d="M1523.4,112.9l12.7,7.9 11.7-1.8-12.7-6.7z"/>
<path color="#ff8735" d="M1511.6,113.4l12.7,8.6 11.9-1.3-12.7-7.9z"/>
<path color="#ff8735" d="M1499.8,113.9l12.7,8.9 12-0.9-12.7-8.6z"/>
<path color="#ff8635" d="M1487.8,114.4l12.7,8.8 12.1-0.5-12.7-8.9z"/>
<path color="#ff8534" d="M1475.7,114.9l12.7,8.1 12.3,0-12.8-8.7z"/>
<path color="#fd8433" d="M1463.5,115.5l12.7,6.9 12.4,0.5-12.8-8.1z"/>
<path color="#fa8232" d="M1451.1,116l12.8,5.5 12.5,0.8-12.8-6.9z"/>
<path color="#f78031" d="M1438.7,116.6l12.7,3.7 12.6,1.1-12.7-5.5z"/>
<path color="#f57f31" d="M1426.1,117.1l12.7,1.9 12.7,1.2-12.7-3.8z"/>
<path d="M1426.2,117.1L1438.8,118.9M1924.1,97.6L1936.1,100.8" stroke="#1a0d08" stroke-width="1.35" fill="none" stroke-linecap="round"/>
<path color="#693715" d="M1865.8,94.6l12.5-2.1 8.6-0.7-12.6,2.3z"/>
<path color="#693615" d="M1857.2,95.6l12.5-1.7 8.6-1.4-12.5,2.2z"/>
<path color="#f68031" d="M1848.5,96.8l12.6-0.7 8.6-2.2-12.5,1.6z"/>
<path color="#fb8232" d="M1839.7,98.4l12.6,0.5 8.8-2.8-12.6,0.6z"/>
<path color="#ff8534" d="M1830.9,100.2l12.5,1.9 8.9-3.3-12.5-0.5z"/>
<path color="#ff8735" d="M1821.9,102.1l12.5,3.5 9-3.6-12.5-2z"/>
<path color="#ff8936" d="M1812.9,104l12.5,5.2 9.1-3.7-12.5-3.6z"/>
<path color="#ff8a37" d="M1803.9,105.9l12.4,6.8 9.2-3.6-12.5-5.2z"/>
<path color="#ff8b38" d="M1794.7,107.6l12.5,8.2 9.2-3.2-12.4-6.8z"/>
<path color="#ff8c38" d="M1785.5,109l12.4,9.4 9.4-2.7-12.5-8.2z"/>
<path color="#ff8b38" d="M1776.1,110.1l12.5,10.1 9.4-1.9-12.4-9.4z"/>
<path color="#ff8937" d="M1766.7,110.7l12.5,10.5 9.5-1.1-12.5-10.1z"/>
<path color="#ff8836" d="M1757.3,110.9l12.5,10.3 9.5-0.1-12.5-10.5z"/>
<path color="#ff8635" d="M1747.7,110.7l12.5,9.6 9.6,0.8-12.4-10.3z"/>
<path color="#fc8433" d="M1738,110.2l12.6,8.5 9.7,1.6-12.5-9.6z"/>
<path color="#f98132" d="M1728.3,109.3l12.6,7.1 9.8,2.2-12.6-8.5z"/>
<path color="#5c2f12" d="M1688.4,104.8l12.8,0.4 10.1,2.7-12.8-2.1z"/>
<path color="#693715" d="M1636.3,104l12.9-2.4 10.6-0.7-12.8,2.6z"/>
<path color="#693615" d="M1625.6,105.1l12.9-1.7 10.7-1.7-12.9,2.4z"/>
<path color="#f68031" d="M1614.8,106.6l12.9-0.7 10.8-2.5-12.9,1.7z"/>
<path color="#fb8232" d="M1603.8,108.4l12.9,0.6 11-3.2-12.9,0.7z"/>
<path color="#ff8534" d="M1592.8,110.4l12.8,2.3 11.1-3.8-12.8-0.7z"/>
<path color="#ff8735" d="M1581.6,112.6l12.8,4 11.3-4.1-12.8-2.2z"/>
<path color="#ff8936" d="M1570.4,114.8l12.8,5.9 11.3-4.2-12.8-4z"/>
<path color="#ff8a37" d="M1559,117l12.8,7.6 11.5-4-12.8-5.9z"/>
<path color="#ff8b38" d="M1547.5,118.9l12.8,9.3 11.6-3.7-12.8-7.6z"/>
<path color="#ff8c38" d="M1535.9,120.6l12.8,10.6 11.7-3.1-12.8-9.3z"/>
<path color="#ff8b38" d="M1524.2,121.8l12.8,11.5 11.8-2.2-12.8-10.6z"/>
<path color="#ff8937" d="M1512.3,122.6l12.8,11.8 12-1.2-12.8-11.5z"/>
<path color="#ff8836" d="M1500.4,122.9l12.8,11.6 12.1-0.2-12.8-11.8z"/>
<path color="#ff8635" d="M1488.3,122.8l12.8,10.8 12.2,0.8-12.8-11.5z"/>
<path color="#fc8433" d="M1476.1,122.2l12.8,9.6 12.3,1.7-12.8-10.8z"/>
<path color="#f98132" d="M1463.7,121.3l12.9,8 12.4,2.4-12.8-9.6z"/>
<path color="#f47f31" d="M1451.3,120.1l12.8,6.2 12.6,2.9-12.8-8z"/>
<path color="#ef7c2f" d="M1438.6,118.8l12.9,4.4 12.8,3-12.9-6.2z"/>
<path d="M1438.8,118.9L1451.5,123" stroke="#1a0d08" stroke-width="1.35" fill="none" stroke-linecap="round"/>
<path color="#522b10" d="M1927.9,98.2l12.5,3.5 7.9,4.1-12.3-5z"/>
<path d="M1936.1,100.8L1948.2,105.7" stroke="#1a0d08" stroke-width="1.35" fill="none" stroke-linecap="round"/>
<path color="#542c11" d="M1919.8,95.9l12.5,2.1 8.1,3.7-12.5-3.5z"/>
<path color="#592e12" d="M1911.6,93.9l12.5,1 8.2,3.1-12.5-2.1z"/>
<path color="#f57f31" d="M1878,92.5l12.7-0.3 8.5-0.9-12.6,0.5z"/>
<path color="#fa8232" d="M1869.4,94l12.7,0.2 8.6-2-12.6,0.3z"/>
<path color="#ff8533" d="M1860.8,96.1l12.6,1.1 8.7-3-12.6-0.3z"/>
<path color="#ff8835" d="M1852,98.8l12.6,2.3 8.8-4-12.6-1.1z"/>
<path color="#ff8a37" d="M1843.1,102l12.6,3.7 8.9-4.7-12.5-2.3z"/>
<path color="#ff8d39" d="M1834.2,105.5l12.6,5.3 9-5.2-12.6-3.7z"/>
<path color="#ff8f3b" d="M1825.2,109.1l12.5,7 9.2-5.4-12.6-5.4z"/>
<path color="#ff913d" d="M1816.1,112.5l12.5,8.8 9.2-5.3-12.5-7.1z"/>
<path color="#ff913d" d="M1807,115.6l12.5,10.5 9.3-4.9-12.6-8.8z"/>
<path color="#ff903c" d="M1797.7,118.2l12.5,11.8 9.4-4-12.5-10.5z"/>
<path color="#ff8e3b" d="M1788.4,120l12.5,12.7 9.5-2.8-12.6-11.8z"/>
<path color="#ff8b39" d="M1779,121l12.6,13 9.4-1.4-12.5-12.7z"/>
<path color="#ff8836" d="M1769.6,121l12.5,12.8 9.6,0.1-12.6-13z"/>
<path color="#fd8434" d="M1760,120.1l12.6,12 9.6,1.6-12.5-12.8z"/>
<path color="#f88233" d="M1750.4,118.4l12.7,10.8 9.6,2.9-12.6-12.1z"/>
<path color="#f47f31" d="M1740.7,116.2l12.7,9.2 9.7,3.7-12.6-10.7z"/>
<path color="#e8782e" d="M1711,107.8l12.9,3.9 9.9,4.5-12.8-5.6z"/>
<path color="#542c11" d="M1700.9,105.2l12.9,2.4 10.1,4.1-12.9-3.9z"/>
<path color="#592e12" d="M1690.7,103.1l13,1.2 10.1,3.4-12.9-2.4z"/>
<path color="#f57f31" d="M1648.9,101.7l13-0.2 10.6-1.1-13,0.5z"/>
<path color="#fa8232" d="M1638.2,103.4l13,0.4 10.7-2.4-12.9,0.2z"/>
<path color="#ff8533" d="M1627.4,105.8l12.9,1.4 10.9-3.6-12.9-0.3z"/>
<path color="#ff8835" d="M1616.4,108.9l13,2.6 11-4.5-12.9-1.3z"/>
<path color="#ff8a37" d="M1605.4,112.5l12.9,4.2 11.2-5.3-12.9-2.6z"/>
<path color="#ff8d39" d="M1594.2,116.5l12.9,6 11.3-5.9-12.9-4.2z"/>
<path color="#ff8f3b" d="M1583,120.5l12.9,8 11.4-6.2-12.9-6z"/>
<path color="#ff913d" d="M1571.6,124.5l12.9,9.9 11.5-6-12.9-8z"/>
<path color="#ff913d" d="M1560.1,128l12.9,11.8 11.6-5.5-12.9-9.9z"/>
<path color="#ff903c" d="M1548.5,131l12.9,13.2 11.8-4.5-12.9-11.8z"/>
<path color="#ff8e3b" d="M1536.8,133.1l12.9,14.2 11.9-3.2-12.9-13.2z"/>
<path color="#ff8b39" d="M1525,134.2l12.9,14.7 12-1.7-12.9-14.2z"/>
<path color="#ff8836" d="M1513.1,134.3l12.9,14.4 12,0.1-12.9-14.7z"/>
<path color="#fd8434" d="M1501,133.4l12.9,13.5 12.2,1.7-12.9-14.4z"/>
<path color="#f88233" d="M1488.8,131.6l12.9,12.1 12.3,3.2-12.9-13.6z"/>
<path color="#f47f31" d="M1476.4,129.1l13,10.4 12.5,4.2-13-12.2z"/>
<path color="#f07d30" d="M1464,126.1l13,8.5 12.5,4.8-12.9-10.4z"/>
<path color="#ec7b2f" d="M1451.4,123l13,6.4 12.7,5.1-13-8.5z"/>
<path d="M1451.5,123L1464.4,129.3" stroke="#1a0d08" stroke-width="1.35" fill="none" stroke-linecap="round"/>
<path color="#522b10" d="M1940.1,101.6l12.5,4.8 7.9,5.6-12.4-6.3z"/>
<path d="M1948.2,105.7L1960.4,112" stroke="#1a0d08" stroke-width="1.35" fill="none" stroke-linecap="round"/>
<path color="#522b10" d="M1932,98l12.6,3.4 8,5.1-12.5-4.8z"/>
<path color="#532b10" d="M1923.9,94.9l12.6,2.4 8.1,4.2-12.6-3.5z"/>
<path color="#572d11" d="M1915.6,92.7l12.7,1.6 8.2,3.1-12.6-2.4z"/>
<path color="#5b2f12" d="M1907.3,91.5l12.7,1.1 8.3,1.8-12.7-1.6z"/>
<path color="#f47f30" d="M1898.9,91.3l12.7,1 8.4,0.4-12.7-1.2z"/>
<path color="#fa8232" d="M1890.4,92.2l12.7,1.2 8.5-1.1-12.7-1z"/>
<path color="#ff8533" d="M1881.8,94.2l12.7,1.7 8.6-2.6-12.7-1.2z"/>
<path color="#ff8836" d="M1873.1,97.1l12.7,2.6 8.7-3.9-12.6-1.7z"/>
<path color="#ff8c38" d="M1864.3,101l12.7,3.7 8.8-5.1-12.6-2.6z"/>
<path color="#ff8f3b" d="M1855.5,105.6l12.6,5.1 9-6.2-12.7-3.6z"/>
<path color="#ff923e" d="M1846.6,110.7l12.6,6.7 9-6.9-12.6-5.1z"/>
<path color="#ff9541" d="M1837.5,116l12.7,8.6 9.1-7.3-12.6-6.8z"/>
<path color="#ff9743" d="M1828.5,121.2l12.6,10.5 9.2-7.3-12.6-8.6z"/>
<path color="#ff9642" d="M1819.3,125.9l12.6,12.3 9.3-6.7-12.6-10.5z"/>
<path color="#ff9440" d="M1810.1,129.8l12.6,13.9 9.3-5.6-12.6-12.3z"/>
<path color="#ff903d" d="M1800.8,132.5l12.6,15 9.4-3.9-12.6-13.9z"/>
<path color="#ff8b3a" d="M1791.4,133.8l12.6,15.4 9.5-1.8-12.6-15z"/>
<path color="#ff8736" d="M1782,133.5l12.6,15.2 9.5,0.4-12.6-15.4z"/>
<path color="#f88234" d="M1772.5,131.9l12.6,14.2 9.6,2.5-12.6-15.1z"/>
<path color="#f27e31" d="M1762.9,129l12.7,12.7 9.6,4.3-12.6-14.2z"/>
<path color="#ed7b30" d="M1753.2,125.1l12.8,11 9.7,5.5-12.8-12.7z"/>
<path color="#522b10" d="M1723.6,111.6l13,5.4 9.9,6.2-12.9-7.1z"/>
<path color="#522b10" d="M1713.6,107.6l13,3.9 10,5.6-13-5.4z"/>
<path color="#532b10" d="M1703.4,104.3l13,2.7 10.2,4.6-13.1-3.9z"/>
<path color="#572d11" d="M1693.1,101.9l13.1,1.8 10.2,3.4-13-2.7z"/>
<path color="#5b2f12" d="M1682.7,100.6l13.1,1.3 10.4,1.9-13.1-1.9z"/>
<path color="#f47f30" d="M1672.2,100.4l13.1,1.2 10.5,0.3-13.1-1.4z"/>
<path color="#fa8232" d="M1661.6,101.4l13.1,1.5 10.6-1.4-13-1.2z"/>
<path color="#ff8533" d="M1650.9,103.7l13.1,2 10.7-3-13-1.4z"/>
<path color="#ff8836" d="M1640.1,107l13,2.9 10.9-4.4-13-2z"/>
<path color="#ff8c38" d="M1629.2,111.4l13,4.2 11-5.8-13-2.9z"/>
<path color="#ff8f3b" d="M1618.1,116.6l13,5.7 11.2-6.9-13-4.1z"/>
<path color="#ff923e" d="M1607,122.3l13,7.6 11.3-7.7-13-5.8z"/>
<path color="#ff9541" d="M1595.7,128.3l13,9.7 11.4-8.2-13-7.6z"/>
<path color="#ff9743" d="M1584.4,134.2l13,11.8 11.5-8.1-13-9.7z"/>
<path color="#ff9642" d="M1572.9,139.6l13,13.8 11.6-7.5-13-11.8z"/>
<path color="#ff9440" d="M1561.3,144l13,15.6 11.7-6.3-13-13.8z"/>
<path color="#ff903d" d="M1549.6,147.1l13,16.9 11.8-4.4-13-15.7z"/>
<path color="#ff8b3a" d="M1537.8,148.6l13,17.4 11.9-2.1-13-16.9z"/>
<path color="#ff8736" d="M1525.9,148.5l13,17.1 12,0.4-13-17.4z"/>
<path color="#f88234" d="M1513.8,146.7l13,16 12.2,2.8-13-17.1z"/>
<path color="#f27e31" d="M1501.6,143.5l13.1,14.4 12.3,4.7-13.1-16z"/>
<path color="#ed7b30" d="M1489.3,139.2l13.1,12.4 12.4,6.2-13.1-14.4z"/>
<path color="#e9792e" d="M1476.8,134.4l13.1,10.2 12.6,7-13.1-12.4z"/>
<path color="#e6772d" d="M1464.2,129.2l13.2,8.2 12.6,7.1-13.1-10.2z"/>
<path d="M1464.4,129.3L1477.3,137.2" stroke="#1a0d08" stroke-width="1.35" fill="none" stroke-linecap="round"/>
<path color="#522b10" d="M1952.3,106.3l12.6,5.6 7.9,7.2-12.6-7.1z"/>
<path d="M1960.4,112L1972.7,119" stroke="#1a0d08" stroke-width="1.35" fill="none" stroke-linecap="round"/>
<path color="#522b10" d="M1944.3,101.4l12.6,4.2 8,6.4-12.6-5.6z"/>
<path color="#522b10" d="M1936.2,97.3l12.7,3.2 8,5.2-12.6-4.3z"/>
<path color="#542b10" d="M1928,94.3l12.7,2.6 8.2,3.7-12.7-3.2z"/>
<path color="#572d11" d="M1919.7,92.6l12.7,2.2 8.3,2.1-12.7-2.5z"/>
<path color="#f57f31" d="M1911.3,92.3l12.8,2 8.3,0.5-12.7-2.2z"/>
<path color="#fc8333" d="M1902.8,93.3l12.8,2.3 8.5-1.3-12.8-2.1z"/>
<path color="#ff8735" d="M1894.2,95.8l12.8,2.7 8.6-3-12.7-2.3z"/>
<path color="#ff8b38" d="M1885.5,99.6l12.8,3.4 8.7-4.6-12.7-2.7z"/>
<path color="#ff8f3b" d="M1876.8,104.6l12.7,4.5 8.9-6.2-12.8-3.5z"/>
<path color="#ff9340" d="M1867.9,110.5l12.7,5.9 9-7.5-12.7-4.5z"/>
<path color="#ff9743" d="M1859,117.3l12.7,7.5 9.1-8.5-12.8-5.9z"/>
<path color="#ff9a47" d="M1850,124.4l12.7,9.5 9.1-9.2-12.7-7.6z"/>
<path color="#ff9c48" d="M1840.9,131.5l12.7,11.5 9.2-9.3-12.7-9.4z"/>
<path color="#ff9b47" d="M1831.7,138l12.7,13.7 9.3-8.8-12.7-11.5z"/>
<path color="#ff9744" d="M1822.5,143.5l12.6,15.6 9.4-7.5-12.7-13.7z"/>
<path color="#ff9240" d="M1813.2,147.2l12.7,17.1 9.4-5.3-12.7-15.6z"/>
<path color="#ff8c3b" d="M1803.9,149l12.6,17.6 9.5-2.4-12.7-17z"/>
<path color="#fc8536" d="M1794.5,148.5l12.6,17.2 9.5,0.9-12.6-17.7z"/>
<path color="#f37f32" d="M1785,145.8l12.7,16 9.5,3.9-12.7-17.3z"/>
<path color="#eb7a2f" d="M1775.4,141.5l12.8,14.1 9.6,6.2-12.8-16z"/>
<path color="#e4772e" d="M1765.8,135.8l12.8,12.1 9.7,7.7-12.8-14.2z"/>
<path color="#522b10" d="M1746.2,123.1l13.1,8 9.7,8.4-12.9-10z"/>
<path color="#522b10" d="M1736.3,116.9l13.1,6.2 9.8,8-13-8z"/>
<path color="#522b10" d="M1726.3,111.5l13.1,4.7 10,7.1-13.1-6.3z"/>
<path color="#522b10" d="M1716.1,107l13.2,3.6 10.1,5.8-13.1-4.9z"/>
<path color="#542b10" d="M1705.9,103.7l13.1,2.9 10.3,4.1-13.2-3.7z"/>
<path color="#572d11" d="M1695.5,101.9l13.2,2.4 10.3,2.3-13.1-2.9z"/>
<path color="#f57f31" d="M1685,101.5l13.2,2.4 10.5,0.4-13.2-2.5z"/>
<path color="#fc8333" d="M1674.4,102.7l13.2,2.6 10.7-1.5-13.2-2.4z"/>
<path color="#ff8735" d="M1663.7,105.5l13.2,3.1 10.8-3.4-13.2-2.6z"/>
<path color="#ff8b38" d="M1652.9,109.8l13.2,3.9 10.9-5.3-13.1-3z"/>
<path color="#ff8f3b" d="M1642,115.4l13.1,5.2 11.1-7-13.1-3.9z"/>
<path color="#ff9340" d="M1631,122.2l13.1,6.6 11.1-8.4-13.1-5.1z"/>
<path color="#ff9743" d="M1619.8,129.8l13.1,8.5 11.3-9.6-13.1-6.7z"/>
<path color="#ff9a47" d="M1608.6,137.8l13.1,10.7 11.4-10.4-13.1-8.5z"/>
<path color="#ff9c48" d="M1597.2,145.8l13.1,13.1 11.5-10.5-13.1-10.7z"/>
<path color="#ff9b47" d="M1585.7,153.3l13.1,15.4 11.6-10-13.1-13z"/>
<path color="#ff9744" d="M1574.2,159.4l13.1,17.7 11.7-8.5-13.1-15.4z"/>
<path color="#ff9240" d="M1562.5,163.8l13.1,19.2 11.8-6-13.1-17.7z"/>
<path color="#ff8c3b" d="M1550.7,165.8l13.1,19.9 11.9-2.8-13.1-19.2z"/>
<path color="#fc8536" d="M1538.8,165.3l13.1,19.5 12,0.9-13.1-20z"/>
<path color="#f37f32" d="M1526.7,162.5l13.2,18 12.1,4.2-13.1-19.4z"/>
<path color="#eb7a2f" d="M1514.6,157.6l13.1,16 12.3,6.9-13.2-18.1z"/>
<path color="#e4772e" d="M1502.2,151.4l13.2,13.6 12.4,8.6-13.1-16z"/>
<path color="#e0742c" d="M1489.8,144.4l13.2,11.3 12.5,9.3-13.2-13.7z"/>
<path color="#dd732c" d="M1477.2,137.2l13.3,9.1 12.6,9.3-13.2-11.3z"/>
<path d="M1477.3,137.2L1490.4,146.2" stroke="#1a0d08" stroke-width="1.35" fill="none" stroke-linecap="round"/>
<path color="#522b10" d="M1964.6,111.8l12.7,5.6 7.8,8.7-12.6-7.1z"/>
<path d="M1972.7,119L1985,126M1977.2,117.5L1985,126" stroke="#1a0d08" stroke-width="1.35" fill="none" stroke-linecap="round"/>
<path color="#522b10" d="M1956.7,105.6l12.7,4.4 7.9,7.6-12.7-5.7z"/>
<path d="M1969.2,110.1L1977.2,117.5" stroke="#1a0d08" stroke-width="1.35" fill="none" stroke-linecap="round"/>
<path color="#522b10" d="M1948.6,100.5l12.8,3.6 8,6.1-12.8-4.5z"/>
<path d="M1961.2,104.1L1969.2,110.1" stroke="#1a0d08" stroke-width="1.35" fill="none" stroke-linecap="round"/>
<path color="#522b10" d="M1940.4,96.8l12.8,3 8.2,4.4-12.8-3.6z"/>
<path d="M1953.1,99.8L1961.2,104.1" stroke="#1a0d08" stroke-width="1.35" fill="none" stroke-linecap="round"/>
<path color="#552c11" d="M1932.1,94.7l12.9,2.6 8.2,2.5-12.8-2.9z"/>
<path d="M1944.8,97.3L1953.1,99.8" stroke="#1a0d08" stroke-width="1.35" fill="none" stroke-linecap="round"/>
<path color="#f57f31" d="M1923.8,94.2l12.8,2.5 8.4,0.6-12.9-2.6z"/>
<path d="M1936.5,96.7L1944.8,97.3" stroke="#1a0d08" stroke-width="1.35" fill="none" stroke-linecap="round"/>
<path color="#fd8433" d="M1915.3,95.5l12.9,2.6 8.5-1.4-12.9-2.5z"/>
<path d="M1928.1,98L1936.5,96.7" stroke="#1a0d08" stroke-width="1.35" fill="none" stroke-linecap="round"/>
<path color="#ff8936" d="M1906.7,98.4l12.9,3.1 8.6-3.5-12.8-2.7z"/>
<path d="M1919.5,101.3L1928.1,98" stroke="#1a0d08" stroke-width="1.35" fill="none" stroke-linecap="round"/>
<path color="#ff8d39" d="M1898.1,102.9l12.8,3.8 8.7-5.4-12.8-3.1z"/>
<path d="M1910.8,106.5L1919.5,101.3" stroke="#1a0d08" stroke-width="1.35" fill="none" stroke-linecap="round"/>
<path color="#ff923e" d="M1889.3,109l12.8,4.7 8.9-7.2-12.8-3.7z"/>
<path d="M1902.1,113.6L1910.8,106.5" stroke="#1a0d08" stroke-width="1.35" fill="none" stroke-linecap="round"/>
<path color="#ff9643" d="M1880.5,116.3l12.8,6 8.9-8.8-12.8-4.7z"/>
<path d="M1893.2,122.2L1902.1,113.6" stroke="#1a0d08" stroke-width="1.35" fill="none" stroke-linecap="round"/>
<path color="#ff9a47" d="M1871.5,124.7l12.8,7.6 9.1-10.2-12.8-5.9z"/>
<path d="M1884.3,132.1L1893.2,122.2" stroke="#1a0d08" stroke-width="1.35" fill="none" stroke-linecap="round"/>
<path color="#ff9d4a" d="M1862.5,133.7l12.8,9.5 9.1-11.1-12.8-7.6z"/>
<path d="M1875.2,143.1L1884.3,132.1" stroke="#1a0d08" stroke-width="1.35" fill="none" stroke-linecap="round"/>
<path color="#ff9f4c" d="M1853.4,142.9l12.8,11.7 9.2-11.5-12.8-9.5z"/>
<path d="M1866.1,154.5L1875.2,143.1" stroke="#1a0d08" stroke-width="1.35" fill="none" stroke-linecap="round"/>
<path color="#ff9f4c" d="M1844.2,151.5l12.8,14.3 9.3-11.3-12.8-11.8z"/>
<path d="M1856.9,165.6L1866.1,154.5" stroke="#1a0d08" stroke-width="1.35" fill="none" stroke-linecap="round"/>
<path color="#ff9b48" d="M1835,158.9l12.7,16.7 9.4-9.9-12.8-14.3z"/>
<path d="M1847.7,175.5L1856.9,165.6" stroke="#1a0d08" stroke-width="1.35" fill="none" stroke-linecap="round"/>
<path color="#ff9543" d="M1825.7,164.1l12.7,18.7 9.4-7.3-12.7-16.7z"/>
<path d="M1838.4,182.7L1847.7,175.5" stroke="#1a0d08" stroke-width="1.35" fill="none" stroke-linecap="round"/>
<path color="#ff8c3c" d="M1816.4,166.4l12.7,19.6 9.4-3.2-12.7-18.8z"/>
<path d="M1829.1,185.8L1838.4,182.7" stroke="#1a0d08" stroke-width="1.35" fill="none" stroke-linecap="round"/>
<path color="#f88335" d="M1807,165.5l12.8,18.9 9.4,1.5-12.7-19.6z"/>
<path d="M1819.7,184.2L1829.1,185.8" stroke="#1a0d08" stroke-width="1.35" fill="none" stroke-linecap="round"/>
<path color="#eb7b30" d="M1797.6,161.6l12.8,17.1 9.4,5.7-12.7-19z"/>
<path d="M1810.3,178.5L1819.7,184.2" stroke="#1a0d08" stroke-width="1.35" fill="none" stroke-linecap="round"/>
<path color="#e1752d" d="M1788,155.4l12.9,14.7 9.5,8.5-12.8-17.1z"/>
<path d="M1800.9,169.9L1810.3,178.5M1791.3,159.8L1800.9,169.9" stroke="#1a0d08" stroke-width="1.35" fill="none" stroke-linecap="round"/>
<path color="#522b10" d="M1768.8,139.3l13.1,10 9.5,10.6-12.9-12.2z"/>
<path d="M1781.7,149.2L1791.3,159.8" stroke="#1a0d08" stroke-width="1.35" fill="none" stroke-linecap="round"/>
<path color="#522b10" d="M1759,130.9l13.1,8 9.7,10.4-13.1-9.9z"/>
<path d="M1772,138.9L1781.7,149.2" stroke="#1a0d08" stroke-width="1.35" fill="none" stroke-linecap="round"/>
<path color="#522b10" d="M1749.1,123.1l13.1,6.3 9.9,9.6-13.1-7.9z"/>
<path d="M1762.1,129.5L1772,138.9" stroke="#1a0d08" stroke-width="1.35" fill="none" stroke-linecap="round"/>
<path color="#522b10" d="M1739.1,116.2l13.2,5 10,8.4-13.2-6.4z"/>
<path d="M1752.2,121.3L1762.1,129.5" stroke="#1a0d08" stroke-width="1.35" fill="none" stroke-linecap="round"/>
<path color="#522b10" d="M1729,110.6l13.2,4 10.1,6.7-13.2-5z"/>
<path d="M1742.1,114.7L1752.2,121.3" stroke="#1a0d08" stroke-width="1.35" fill="none" stroke-linecap="round"/>
<path color="#522b10" d="M1718.8,106.6l13.2,3.2 10.2,4.9-13.2-4z"/>
<path d="M1731.9,109.9L1742.1,114.7" stroke="#1a0d08" stroke-width="1.35" fill="none" stroke-linecap="round"/>
<path color="#552c11" d="M1708.4,104.2l13.3,3 10.3,2.7-13.2-3.3z"/>
<path d="M1721.6,107.1L1731.9,109.9" stroke="#1a0d08" stroke-width="1.35" fill="none" stroke-linecap="round"/>
<path color="#f57f31" d="M1698,103.7l13.2,2.9 10.5,0.6-13.3-3z"/>
<path d="M1711.1,106.5L1721.6,107.1" stroke="#1a0d08" stroke-width="1.35" fill="none" stroke-linecap="round"/>
<path color="#fd8433" d="M1687.4,105.2l13.2,3 10.7-1.7-13.3-2.9z"/>
<path d="M1700.6,108.1L1711.1,106.5" stroke="#1a0d08" stroke-width="1.35" fill="none" stroke-linecap="round"/>
<path color="#ff8936" d="M1676.7,108.5l13.2,3.5 10.8-3.9-13.2-3.1z"/>
<path d="M1689.9,111.8L1700.6,108.1" stroke="#1a0d08" stroke-width="1.35" fill="none" stroke-linecap="round"/>
<path color="#ff8d39" d="M1665.9,113.6l13.2,4.3 10.9-6.1-13.2-3.5z"/>
<path d="M1679.1,117.7L1689.9,111.8" stroke="#1a0d08" stroke-width="1.35" fill="none" stroke-linecap="round"/>
<path color="#ff923e" d="M1655,120.4l13.2,5.4 11-8.1-13.2-4.3z"/>
<path d="M1668.2,125.6L1679.1,117.7" stroke="#1a0d08" stroke-width="1.35" fill="none" stroke-linecap="round"/>
<path color="#ff9643" d="M1643.9,128.7l13.3,6.8 11.1-9.9-13.2-5.3z"/>
<path d="M1657.1,135.3L1668.2,125.6" stroke="#1a0d08" stroke-width="1.35" fill="none" stroke-linecap="round"/>
<path color="#ff9a47" d="M1632.8,138.2l13.2,8.5 11.3-11.4-13.3-6.8z"/>
<path d="M1646,146.6L1657.1,135.3" stroke="#1a0d08" stroke-width="1.35" fill="none" stroke-linecap="round"/>
<path color="#ff9d4a" d="M1621.5,148.4l13.2,10.7 11.4-12.5-13.2-8.6z"/>
<path d="M1634.7,158.9L1646,146.6" stroke="#1a0d08" stroke-width="1.35" fill="none" stroke-linecap="round"/>
<path color="#ff9f4c" d="M1610.1,158.7l13.3,13.3 11.5-13.1-13.2-10.7z"/>
<path d="M1623.4,171.8L1634.7,158.9" stroke="#1a0d08" stroke-width="1.35" fill="none" stroke-linecap="round"/>
<path color="#ff9f4c" d="M1598.7,168.5l13.2,16.1 11.6-12.8-13.2-13.2z"/>
<path d="M1611.9,184.4L1623.4,171.8" stroke="#1a0d08" stroke-width="1.35" fill="none" stroke-linecap="round"/>
<path color="#ff9b48" d="M1587.1,176.9l13.2,18.8 11.7-11.3-13.2-16z"/>
<path d="M1600.3,195.6L1611.9,184.4" stroke="#1a0d08" stroke-width="1.35" fill="none" stroke-linecap="round"/>
<path color="#ff9543" d="M1575.4,182.8l13.3,21.1 11.8-8.3-13.3-18.8z"/>
<path d="M1588.7,203.8L1600.3,195.6" stroke="#1a0d08" stroke-width="1.35" fill="none" stroke-linecap="round"/>
<path color="#ff8c3c" d="M1563.7,185.5l13.2,22 11.9-3.7-13.2-21.1z"/>
<path d="M1576.9,207.4L1588.7,203.8" stroke="#1a0d08" stroke-width="1.35" fill="none" stroke-linecap="round"/>
<path color="#f88335" d="M1551.8,184.5l13.2,21.4 12,1.6-13.2-22.1z"/>
<path d="M1565,205.7L1576.9,207.4" stroke="#1a0d08" stroke-width="1.35" fill="none" stroke-linecap="round"/>
<path color="#eb7b30" d="M1539.8,180.2l13.2,19.4 12.1,6.3-13.2-21.4z"/>
<path d="M1553,199.4L1565,205.7" stroke="#1a0d08" stroke-width="1.35" fill="none" stroke-linecap="round"/>
<path color="#e1752d" d="M1527.6,173.4l13.3,16.6 12.2,9.5-13.2-19.3z"/>
<path d="M1540.9,189.9L1553,199.4" stroke="#1a0d08" stroke-width="1.35" fill="none" stroke-linecap="round"/>
<path color="#da712b" d="M1515.3,164.8l13.4,13.9 12.3,11.3-13.3-16.7z"/>
<path d="M1528.6,178.6L1540.9,189.9" stroke="#1a0d08" stroke-width="1.35" fill="none" stroke-linecap="round"/>
<path color="#d56e2a" d="M1502.9,155.5l13.4,11.3 12.4,11.9-13.3-14z"/>
<path d="M1516.2,166.7L1528.6,178.6M1490.4,146.2L1503.7,155.2L1516.2,166.7" stroke="#1a0d08" stroke-width="1.35" fill="none" stroke-linecap="round"/>
</g>
<path d="M975.8,377.6L1504.2,471.3M1504.2,471.3L2000.9,374M984.3,379.1L984.1,368.2M1209.9,419.1L1209.8,407.1M1491,469L1491,455.4M1516.7,468.8L1516.7,455.3M1782.1,416.9L1782.2,404.9M1993,375.5L1993.2,364.8M970.4,91L977.9,91.3M973.1,232.3L980.5,233.1M975.7,372.1L983.1,373.3" stroke="#8a8a8a" stroke-width="1.4" fill="none"/>
</g>
<defs><g id="ct" shape-rendering="crispEdges">
<path fill="#74b72e" d="M0,0h6.64v7.16h-6.64zM18.86,20.44h6.64v7.16h-6.64zM169.78,20.44h6.64v7.16h-6.64zM75.46,34.06h6.64v7.16h-6.64zM113.19,34.06h6.64v7.16h-6.64zM94.33,54.5h6.64v7.16h-6.64zM75.46,74.94h6.64v7.16h-6.64zM113.19,74.94h6.64v7.16h-6.64zM18.86,88.56h6.64v7.16h-6.64zM169.78,88.56h6.64v7.16h-6.64z"/>
<path fill="#77b82e" d="M6.29,0h6.64v7.16h-6.64zM182.36,0h6.64v7.16h-6.64zM0,6.81h6.64v7.16h-6.64zM0,27.25h6.64v7.16h-6.64zM94.33,27.25h6.64v7.16h-6.64zM94.33,47.69h6.64v7.16h-6.64zM88.04,54.5h6.64v7.16h-6.64zM100.61,54.5h6.64v7.16h-6.64zM94.33,61.31h6.64v7.16h-6.64zM0,81.75h6.64v7.16h-6.64zM94.33,81.75h6.64v7.16h-6.64zM0,102.19h6.64v7.16h-6.64z"/>
<path fill="#a4c92f" d="M12.58,0h6.64v7.16h-6.64zM176.07,0h6.64v7.16h-6.64zM12.58,6.81h6.64v7.16h-6.64zM176.07,6.81h6.64v7.16h-6.64zM6.29,13.62h6.64v7.16h-6.64zM18.86,13.62h6.64v7.16h-6.64zM169.78,13.62h6.64v7.16h-6.64zM182.36,13.62h6.64v7.16h-6.64zM0,20.44h6.64v7.16h-6.64zM6.29,20.44h6.64v7.16h-6.64zM12.58,20.44h6.64v7.16h-6.64zM176.07,20.44h6.64v7.16h-6.64zM182.36,20.44h6.64v7.16h-6.64zM81.75,34.06h6.64v7.16h-6.64zM88.04,34.06h6.64v7.16h-6.64zM94.33,34.06h6.64v7.16h-6.64zM100.61,34.06h6.64v7.16h-6.64zM106.9,34.06h6.64v7.16h-6.64zM75.46,40.88h6.64v7.16h-6.64zM88.04,40.88h6.64v7.16h-6.64zM100.61,40.88h6.64v7.16h-6.64zM113.19,40.88h6.64v7.16h-6.64zM81.75,47.69h6.64v7.16h-6.64zM106.9,47.69h6.64v7.16h-6.64zM81.75,54.5h6.64v7.16h-6.64zM106.9,54.5h6.64v7.16h-6.64zM81.75,61.31h6.64v7.16h-6.64zM106.9,61.31h6.64v7.16h-6.64zM75.46,68.12h6.64v7.16h-6.64zM88.04,68.12h6.64v7.16h-6.64zM100.61,68.12h6.64v7.16h-6.64zM113.19,68.12h6.64v7.16h-6.64zM81.75,74.94h6.64v7.16h-6.64zM88.04,74.94h6.64v7.16h-6.64zM94.33,74.94h6.64v7.16h-6.64zM100.61,74.94h6.64v7.16h-6.64zM106.9,74.94h6.64v7.16h-6.64zM0,88.56h6.64v7.16h-6.64zM6.29,88.56h6.64v7.16h-6.64zM12.58,88.56h6.64v7.16h-6.64zM176.07,88.56h6.64v7.16h-6.64zM182.36,88.56h6.64v7.16h-6.64zM6.29,95.38h6.64v7.16h-6.64zM18.86,95.38h6.64v7.16h-6.64zM169.78,95.38h6.64v7.16h-6.64zM182.36,95.38h6.64v7.16h-6.64zM12.58,102.19h6.64v7.16h-6.64zM176.07,102.19h6.64v7.16h-6.64z"/>
<path fill="#b4d031" d="M18.86,0h6.64v7.16h-6.64zM169.78,0h6.64v7.16h-6.64zM18.86,6.81h6.64v7.16h-6.64zM169.78,6.81h6.64v7.16h-6.64zM12.58,13.62h6.64v7.16h-6.64zM176.07,13.62h6.64v7.16h-6.64zM81.75,40.88h6.64v7.16h-6.64zM106.9,40.88h6.64v7.16h-6.64zM75.46,47.69h6.64v7.16h-6.64zM113.19,47.69h6.64v7.16h-6.64zM75.46,54.5h6.64v7.16h-6.64zM113.19,54.5h6.64v7.16h-6.64zM75.46,61.31h6.64v7.16h-6.64zM113.19,61.31h6.64v7.16h-6.64zM81.75,68.12h6.64v7.16h-6.64zM106.9,68.12h6.64v7.16h-6.64zM12.58,95.38h6.64v7.16h-6.64zM176.07,95.38h6.64v7.16h-6.64zM18.86,102.19h6.64v7.16h-6.64zM169.78,102.19h6.64v7.16h-6.64z"/>
<path fill="#96c32d" d="M25.15,0h6.64v7.16h-6.64zM163.5,0h6.64v7.16h-6.64zM0,13.62h6.64v7.16h-6.64zM94.33,40.88h6.64v7.16h-6.64zM69.17,54.5h6.64v7.16h-6.64zM119.48,54.5h6.64v7.16h-6.64zM94.33,68.12h6.64v7.16h-6.64zM0,95.38h6.64v7.16h-6.64z"/>
<path fill="#67beb0" d="M31.44,0h6.64v7.16h-6.64zM157.21,0h6.64v7.16h-6.64zM62.88,54.5h6.64v7.16h-6.64zM125.77,54.5h6.64v7.16h-6.64z"/>
<path fill="#225eb1" d="M37.73,0h6.64v7.16h-6.64zM150.92,0h6.64v7.16h-6.64zM31.44,20.44h6.64v7.16h-6.64zM157.21,20.44h6.64v7.16h-6.64zM62.88,34.06h6.64v7.16h-6.64zM125.77,34.06h6.64v7.16h-6.64zM56.59,54.5h6.64v7.16h-6.64zM132.06,54.5h6.64v7.16h-6.64zM62.88,74.94h6.64v7.16h-6.64zM125.77,74.94h6.64v7.16h-6.64zM31.44,88.56h6.64v7.16h-6.64zM157.21,88.56h6.64v7.16h-6.64z"/>
<path fill="#433198" d="M44.02,0h6.64v7.16h-6.64zM88.04,0h6.64v7.16h-6.64zM94.33,0h6.64v7.16h-6.64zM100.61,0h6.64v7.16h-6.64zM144.63,0h6.64v7.16h-6.64zM44.02,6.81h6.64v7.16h-6.64zM94.33,6.81h6.64v7.16h-6.64zM144.63,6.81h6.64v7.16h-6.64zM44.02,13.62h6.64v7.16h-6.64zM75.46,13.62h6.64v7.16h-6.64zM113.19,13.62h6.64v7.16h-6.64zM144.63,13.62h6.64v7.16h-6.64zM50.31,20.44h6.64v7.16h-6.64zM138.34,20.44h6.64v7.16h-6.64zM37.73,27.25h6.64v7.16h-6.64zM44.02,27.25h6.64v7.16h-6.64zM50.31,27.25h6.64v7.16h-6.64zM56.59,27.25h6.64v7.16h-6.64zM132.06,27.25h6.64v7.16h-6.64zM138.34,27.25h6.64v7.16h-6.64zM144.63,27.25h6.64v7.16h-6.64zM150.92,27.25h6.64v7.16h-6.64zM44.02,34.06h6.64v7.16h-6.64zM144.63,34.06h6.64v7.16h-6.64zM18.86,40.88h6.64v7.16h-6.64zM50.31,40.88h6.64v7.16h-6.64zM138.34,40.88h6.64v7.16h-6.64zM169.78,40.88h6.64v7.16h-6.64zM0,47.69h6.64v7.16h-6.64zM50.31,47.69h6.64v7.16h-6.64zM138.34,47.69h6.64v7.16h-6.64zM0,54.5h6.64v7.16h-6.64zM6.29,54.5h6.64v7.16h-6.64zM50.31,54.5h6.64v7.16h-6.64zM138.34,54.5h6.64v7.16h-6.64zM182.36,54.5h6.64v7.16h-6.64zM0,61.31h6.64v7.16h-6.64zM50.31,61.31h6.64v7.16h-6.64zM138.34,61.31h6.64v7.16h-6.64zM18.86,68.12h6.64v7.16h-6.64zM50.31,68.12h6.64v7.16h-6.64zM138.34,68.12h6.64v7.16h-6.64zM169.78,68.12h6.64v7.16h-6.64zM44.02,74.94h6.64v7.16h-6.64zM144.63,74.94h6.64v7.16h-6.64zM37.73,81.75h6.64v7.16h-6.64zM44.02,81.75h6.64v7.16h-6.64zM50.31,81.75h6.64v7.16h-6.64zM56.59,81.75h6.64v7.16h-6.64zM132.06,81.75h6.64v7.16h-6.64zM138.34,81.75h6.64v7.16h-6.64zM144.63,81.75h6.64v7.16h-6.64zM150.92,81.75h6.64v7.16h-6.64zM50.31,88.56h6.64v7.16h-6.64zM138.34,88.56h6.64v7.16h-6.64zM44.02,95.38h6.64v7.16h-6.64zM75.46,95.38h6.64v7.16h-6.64zM113.19,95.38h6.64v7.16h-6.64zM144.63,95.38h6.64v7.16h-6.64zM44.02,102.19h6.64v7.16h-6.64zM94.33,102.19h6.64v7.16h-6.64zM144.63,102.19h6.64v7.16h-6.64z"/>
<path fill="#4f268e" d="M50.31,0h6.64v7.16h-6.64zM75.46,0h6.64v7.16h-6.64zM113.19,0h6.64v7.16h-6.64zM138.34,0h6.64v7.16h-6.64zM50.31,6.81h6.64v7.16h-6.64zM75.46,6.81h6.64v7.16h-6.64zM113.19,6.81h6.64v7.16h-6.64zM138.34,6.81h6.64v7.16h-6.64zM56.59,13.62h6.64v7.16h-6.64zM62.88,13.62h6.64v7.16h-6.64zM125.77,13.62h6.64v7.16h-6.64zM132.06,13.62h6.64v7.16h-6.64zM31.44,40.88h6.64v7.16h-6.64zM37.73,40.88h6.64v7.16h-6.64zM150.92,40.88h6.64v7.16h-6.64zM157.21,40.88h6.64v7.16h-6.64zM18.86,47.69h6.64v7.16h-6.64zM44.02,47.69h6.64v7.16h-6.64zM144.63,47.69h6.64v7.16h-6.64zM169.78,47.69h6.64v7.16h-6.64zM18.86,54.5h6.64v7.16h-6.64zM44.02,54.5h6.64v7.16h-6.64zM144.63,54.5h6.64v7.16h-6.64zM169.78,54.5h6.64v7.16h-6.64zM18.86,61.31h6.64v7.16h-6.64zM44.02,61.31h6.64v7.16h-6.64zM144.63,61.31h6.64v7.16h-6.64zM169.78,61.31h6.64v7.16h-6.64zM31.44,68.12h6.64v7.16h-6.64zM37.73,68.12h6.64v7.16h-6.64zM150.92,68.12h6.64v7.16h-6.64zM157.21,68.12h6.64v7.16h-6.64zM56.59,95.38h6.64v7.16h-6.64zM62.88,95.38h6.64v7.16h-6.64zM125.77,95.38h6.64v7.16h-6.64zM132.06,95.38h6.64v7.16h-6.64zM50.31,102.19h6.64v7.16h-6.64zM75.46,102.19h6.64v7.16h-6.64zM113.19,102.19h6.64v7.16h-6.64zM138.34,102.19h6.64v7.16h-6.64z"/>
<path fill="#4e2675" d="M56.59,0h6.64v7.16h-6.64zM69.17,0h6.64v7.16h-6.64zM119.48,0h6.64v7.16h-6.64zM132.06,0h6.64v7.16h-6.64zM62.88,6.81h6.64v7.16h-6.64zM125.77,6.81h6.64v7.16h-6.64zM31.44,47.69h6.64v7.16h-6.64zM157.21,47.69h6.64v7.16h-6.64zM25.15,54.5h6.64v7.16h-6.64zM37.73,54.5h6.64v7.16h-6.64zM150.92,54.5h6.64v7.16h-6.64zM163.5,54.5h6.64v7.16h-6.64zM31.44,61.31h6.64v7.16h-6.64zM157.21,61.31h6.64v7.16h-6.64zM62.88,102.19h6.64v7.16h-6.64zM125.77,102.19h6.64v7.16h-6.64z"/>
<path fill="#4c2869" d="M62.88,0h6.64v7.16h-6.64zM125.77,0h6.64v7.16h-6.64zM31.44,54.5h6.64v7.16h-6.64zM157.21,54.5h6.64v7.16h-6.64z"/>
<path fill="#4a2c96" d="M81.75,0h6.64v7.16h-6.64zM106.9,0h6.64v7.16h-6.64zM81.75,6.81h6.64v7.16h-6.64zM88.04,6.81h6.64v7.16h-6.64zM100.61,6.81h6.64v7.16h-6.64zM106.9,6.81h6.64v7.16h-6.64zM50.31,13.62h6.64v7.16h-6.64zM69.17,13.62h6.64v7.16h-6.64zM119.48,13.62h6.64v7.16h-6.64zM138.34,13.62h6.64v7.16h-6.64zM44.02,20.44h6.64v7.16h-6.64zM56.59,20.44h6.64v7.16h-6.64zM62.88,20.44h6.64v7.16h-6.64zM125.77,20.44h6.64v7.16h-6.64zM132.06,20.44h6.64v7.16h-6.64zM144.63,20.44h6.64v7.16h-6.64zM31.44,34.06h6.64v7.16h-6.64zM37.73,34.06h6.64v7.16h-6.64zM50.31,34.06h6.64v7.16h-6.64zM138.34,34.06h6.64v7.16h-6.64zM150.92,34.06h6.64v7.16h-6.64zM157.21,34.06h6.64v7.16h-6.64zM25.15,40.88h6.64v7.16h-6.64zM44.02,40.88h6.64v7.16h-6.64zM144.63,40.88h6.64v7.16h-6.64zM163.5,40.88h6.64v7.16h-6.64zM6.29,47.69h6.64v7.16h-6.64zM12.58,47.69h6.64v7.16h-6.64zM176.07,47.69h6.64v7.16h-6.64zM182.36,47.69h6.64v7.16h-6.64zM12.58,54.5h6.64v7.16h-6.64zM176.07,54.5h6.64v7.16h-6.64zM6.29,61.31h6.64v7.16h-6.64zM12.58,61.31h6.64v7.16h-6.64zM176.07,61.31h6.64v7.16h-6.64zM182.36,61.31h6.64v7.16h-6.64zM25.15,68.12h6.64v7.16h-6.64zM44.02,68.12h6.64v7.16h-6.64zM144.63,68.12h6.64v7.16h-6.64zM163.5,68.12h6.64v7.16h-6.64zM31.44,74.94h6.64v7.16h-6.64zM37.73,74.94h6.64v7.16h-6.64zM50.31,74.94h6.64v7.16h-6.64zM138.34,74.94h6.64v7.16h-6.64zM150.92,74.94h6.64v7.16h-6.64zM157.21,74.94h6.64v7.16h-6.64zM44.02,88.56h6.64v7.16h-6.64zM56.59,88.56h6.64v7.16h-6.64zM62.88,88.56h6.64v7.16h-6.64zM125.77,88.56h6.64v7.16h-6.64zM132.06,88.56h6.64v7.16h-6.64zM144.63,88.56h6.64v7.16h-6.64zM50.31,95.38h6.64v7.16h-6.64zM69.17,95.38h6.64v7.16h-6.64zM119.48,95.38h6.64v7.16h-6.64zM138.34,95.38h6.64v7.16h-6.64zM81.75,102.19h6.64v7.16h-6.64zM88.04,102.19h6.64v7.16h-6.64zM100.61,102.19h6.64v7.16h-6.64zM106.9,102.19h6.64v7.16h-6.64z"/>
<path fill="#8bbf2d" d="M6.29,6.81h6.64v7.16h-6.64zM25.15,6.81h6.64v7.16h-6.64zM163.5,6.81h6.64v7.16h-6.64zM182.36,6.81h6.64v7.16h-6.64zM69.17,47.69h6.64v7.16h-6.64zM88.04,47.69h6.64v7.16h-6.64zM100.61,47.69h6.64v7.16h-6.64zM119.48,47.69h6.64v7.16h-6.64zM69.17,61.31h6.64v7.16h-6.64zM88.04,61.31h6.64v7.16h-6.64zM100.61,61.31h6.64v7.16h-6.64zM119.48,61.31h6.64v7.16h-6.64zM6.29,102.19h6.64v7.16h-6.64zM25.15,102.19h6.64v7.16h-6.64zM163.5,102.19h6.64v7.16h-6.64zM182.36,102.19h6.64v7.16h-6.64z"/>
<path fill="#51bbd2" d="M31.44,6.81h6.64v7.16h-6.64zM157.21,6.81h6.64v7.16h-6.64zM25.15,20.44h6.64v7.16h-6.64zM163.5,20.44h6.64v7.16h-6.64zM69.17,34.06h6.64v7.16h-6.64zM119.48,34.06h6.64v7.16h-6.64zM62.88,47.69h6.64v7.16h-6.64zM125.77,47.69h6.64v7.16h-6.64zM62.88,61.31h6.64v7.16h-6.64zM125.77,61.31h6.64v7.16h-6.64zM69.17,74.94h6.64v7.16h-6.64zM119.48,74.94h6.64v7.16h-6.64zM25.15,88.56h6.64v7.16h-6.64zM163.5,88.56h6.64v7.16h-6.64zM31.44,102.19h6.64v7.16h-6.64zM157.21,102.19h6.64v7.16h-6.64z"/>
<path fill="#1f55a9" d="M37.73,6.81h6.64v7.16h-6.64zM150.92,6.81h6.64v7.16h-6.64zM56.59,47.69h6.64v7.16h-6.64zM132.06,47.69h6.64v7.16h-6.64zM56.59,61.31h6.64v7.16h-6.64zM132.06,61.31h6.64v7.16h-6.64zM37.73,102.19h6.64v7.16h-6.64zM150.92,102.19h6.64v7.16h-6.64z"/>
<path fill="#4f2582" d="M56.59,6.81h6.64v7.16h-6.64zM69.17,6.81h6.64v7.16h-6.64zM119.48,6.81h6.64v7.16h-6.64zM132.06,6.81h6.64v7.16h-6.64zM25.15,47.69h6.64v7.16h-6.64zM37.73,47.69h6.64v7.16h-6.64zM150.92,47.69h6.64v7.16h-6.64zM163.5,47.69h6.64v7.16h-6.64zM25.15,61.31h6.64v7.16h-6.64zM37.73,61.31h6.64v7.16h-6.64zM150.92,61.31h6.64v7.16h-6.64zM163.5,61.31h6.64v7.16h-6.64zM56.59,102.19h6.64v7.16h-6.64zM69.17,102.19h6.64v7.16h-6.64zM119.48,102.19h6.64v7.16h-6.64zM132.06,102.19h6.64v7.16h-6.64z"/>
<path fill="#68b32f" d="M25.15,13.62h6.64v7.16h-6.64zM163.5,13.62h6.64v7.16h-6.64zM69.17,40.88h6.64v7.16h-6.64zM119.48,40.88h6.64v7.16h-6.64zM69.17,68.12h6.64v7.16h-6.64zM119.48,68.12h6.64v7.16h-6.64zM25.15,95.38h6.64v7.16h-6.64zM163.5,95.38h6.64v7.16h-6.64z"/>
<path fill="#2ca1e0" d="M31.44,13.62h6.64v7.16h-6.64zM157.21,13.62h6.64v7.16h-6.64zM94.33,20.44h6.64v7.16h-6.64zM0,34.06h6.64v7.16h-6.64zM62.88,40.88h6.64v7.16h-6.64zM125.77,40.88h6.64v7.16h-6.64zM62.88,68.12h6.64v7.16h-6.64zM125.77,68.12h6.64v7.16h-6.64zM0,74.94h6.64v7.16h-6.64zM94.33,88.56h6.64v7.16h-6.64zM31.44,95.38h6.64v7.16h-6.64zM157.21,95.38h6.64v7.16h-6.64z"/>
<path fill="#2748a1" d="M37.73,13.62h6.64v7.16h-6.64zM150.92,13.62h6.64v7.16h-6.64zM56.59,40.88h6.64v7.16h-6.64zM132.06,40.88h6.64v7.16h-6.64zM56.59,68.12h6.64v7.16h-6.64zM132.06,68.12h6.64v7.16h-6.64zM37.73,95.38h6.64v7.16h-6.64zM150.92,95.38h6.64v7.16h-6.64z"/>
<path fill="#3b379a" d="M81.75,13.62h6.64v7.16h-6.64zM106.9,13.62h6.64v7.16h-6.64zM37.73,20.44h6.64v7.16h-6.64zM150.92,20.44h6.64v7.16h-6.64zM56.59,34.06h6.64v7.16h-6.64zM132.06,34.06h6.64v7.16h-6.64zM12.58,40.88h6.64v7.16h-6.64zM176.07,40.88h6.64v7.16h-6.64zM12.58,68.12h6.64v7.16h-6.64zM176.07,68.12h6.64v7.16h-6.64zM56.59,74.94h6.64v7.16h-6.64zM132.06,74.94h6.64v7.16h-6.64zM37.73,88.56h6.64v7.16h-6.64zM150.92,88.56h6.64v7.16h-6.64zM81.75,95.38h6.64v7.16h-6.64zM106.9,95.38h6.64v7.16h-6.64z"/>
<path fill="#363b9c" d="M88.04,13.62h6.64v7.16h-6.64zM100.61,13.62h6.64v7.16h-6.64zM69.17,20.44h6.64v7.16h-6.64zM119.48,20.44h6.64v7.16h-6.64zM31.44,27.25h6.64v7.16h-6.64zM62.88,27.25h6.64v7.16h-6.64zM125.77,27.25h6.64v7.16h-6.64zM157.21,27.25h6.64v7.16h-6.64zM25.15,34.06h6.64v7.16h-6.64zM163.5,34.06h6.64v7.16h-6.64zM6.29,40.88h6.64v7.16h-6.64zM182.36,40.88h6.64v7.16h-6.64zM6.29,68.12h6.64v7.16h-6.64zM182.36,68.12h6.64v7.16h-6.64zM25.15,74.94h6.64v7.16h-6.64zM163.5,74.94h6.64v7.16h-6.64zM31.44,81.75h6.64v7.16h-6.64zM62.88,81.75h6.64v7.16h-6.64zM125.77,81.75h6.64v7.16h-6.64zM157.21,81.75h6.64v7.16h-6.64zM69.17,88.56h6.64v7.16h-6.64zM119.48,88.56h6.64v7.16h-6.64zM88.04,95.38h6.64v7.16h-6.64zM100.61,95.38h6.64v7.16h-6.64z"/>
<path fill="#31409e" d="M94.33,13.62h6.64v7.16h-6.64zM0,40.88h6.64v7.16h-6.64zM0,68.12h6.64v7.16h-6.64zM94.33,95.38h6.64v7.16h-6.64z"/>
<path fill="#1e51a5" d="M75.46,20.44h6.64v7.16h-6.64zM113.19,20.44h6.64v7.16h-6.64zM18.86,34.06h6.64v7.16h-6.64zM169.78,34.06h6.64v7.16h-6.64zM18.86,74.94h6.64v7.16h-6.64zM169.78,74.94h6.64v7.16h-6.64zM75.46,88.56h6.64v7.16h-6.64zM113.19,88.56h6.64v7.16h-6.64z"/>
<path fill="#276dbd" d="M81.75,20.44h6.64v7.16h-6.64zM106.9,20.44h6.64v7.16h-6.64zM12.58,34.06h6.64v7.16h-6.64zM176.07,34.06h6.64v7.16h-6.64zM12.58,74.94h6.64v7.16h-6.64zM176.07,74.94h6.64v7.16h-6.64zM81.75,88.56h6.64v7.16h-6.64zM106.9,88.56h6.64v7.16h-6.64z"/>
<path fill="#2c92d9" d="M88.04,20.44h6.64v7.16h-6.64zM100.61,20.44h6.64v7.16h-6.64zM6.29,34.06h6.64v7.16h-6.64zM182.36,34.06h6.64v7.16h-6.64zM6.29,74.94h6.64v7.16h-6.64zM182.36,74.94h6.64v7.16h-6.64zM88.04,88.56h6.64v7.16h-6.64zM100.61,88.56h6.64v7.16h-6.64z"/>
<path fill="#70b62e" d="M6.29,27.25h6.64v7.16h-6.64zM88.04,27.25h6.64v7.16h-6.64zM100.61,27.25h6.64v7.16h-6.64zM182.36,27.25h6.64v7.16h-6.64zM6.29,81.75h6.64v7.16h-6.64zM88.04,81.75h6.64v7.16h-6.64zM100.61,81.75h6.64v7.16h-6.64zM182.36,81.75h6.64v7.16h-6.64z"/>
<path fill="#66b647" d="M12.58,27.25h6.64v7.16h-6.64zM81.75,27.25h6.64v7.16h-6.64zM106.9,27.25h6.64v7.16h-6.64zM176.07,27.25h6.64v7.16h-6.64zM12.58,81.75h6.64v7.16h-6.64zM81.75,81.75h6.64v7.16h-6.64zM106.9,81.75h6.64v7.16h-6.64zM176.07,81.75h6.64v7.16h-6.64z"/>
<path fill="#3cb8e0" d="M18.86,27.25h6.64v7.16h-6.64zM75.46,27.25h6.64v7.16h-6.64zM113.19,27.25h6.64v7.16h-6.64zM169.78,27.25h6.64v7.16h-6.64zM18.86,81.75h6.64v7.16h-6.64zM75.46,81.75h6.64v7.16h-6.64zM113.19,81.75h6.64v7.16h-6.64zM169.78,81.75h6.64v7.16h-6.64z"/>
<path fill="#2465b7" d="M25.15,27.25h6.64v7.16h-6.64zM69.17,27.25h6.64v7.16h-6.64zM119.48,27.25h6.64v7.16h-6.64zM163.5,27.25h6.64v7.16h-6.64zM25.15,81.75h6.64v7.16h-6.64zM69.17,81.75h6.64v7.16h-6.64zM119.48,81.75h6.64v7.16h-6.64zM163.5,81.75h6.64v7.16h-6.64z"/>
</g><clipPath id="cclip"><rect x="110.6" y="744.2" width="528.2" height="527.6"/></clipPath></defs>
<g clip-path="url(#cclip)">
<rect x="110" y="744" width="530" height="529" fill="#4a2c90"/>
<use href="#ct" x="-100.07" y="623.09"/>
<use href="#ct" x="-100.07" y="732.09"/>
<use href="#ct" x="-100.07" y="841.09"/>
<use href="#ct" x="-100.07" y="950.09"/>
<use href="#ct" x="-100.07" y="1059.09"/>
<use href="#ct" x="-100.07" y="1168.09"/>
<use href="#ct" x="88.58" y="623.09"/>
<use href="#ct" x="88.58" y="732.09"/>
<use href="#ct" x="88.58" y="841.09"/>
<use href="#ct" x="88.58" y="950.09"/>
<use href="#ct" x="88.58" y="1059.09"/>
<use href="#ct" x="88.58" y="1168.09"/>
<use href="#ct" x="277.23" y="623.09"/>
<use href="#ct" x="277.23" y="732.09"/>
<use href="#ct" x="277.23" y="841.09"/>
<use href="#ct" x="277.23" y="950.09"/>
<use href="#ct" x="277.23" y="1059.09"/>
<use href="#ct" x="277.23" y="1168.09"/>
<use href="#ct" x="465.88" y="623.09"/>
<use href="#ct" x="465.88" y="732.09"/>
<use href="#ct" x="465.88" y="841.09"/>
<use href="#ct" x="465.88" y="950.09"/>
<use href="#ct" x="465.88" y="1059.09"/>
<use href="#ct" x="465.88" y="1168.09"/>
<path d="M60.4,1335L123,1226M60.4,1117L123,1226M60.4,1117L123,1008M60.4,899L123,1008M60.4,899L123,790M60.4,681L123,790M123,1226L249.1,1226M123,1008L249.1,1008M123,790L249.1,790M249.1,1226L311.7,1335M249.1,1226L311.7,1117M249.1,1008L311.7,1117M249.1,1008L311.7,899M249.1,790L311.7,899M249.1,790L311.7,681M311.7,1117L437.7,1117M311.7,899L437.7,899M437.7,1335L500.3,1226M437.7,1117L500.3,1226M437.7,1117L500.3,1008M437.7,899L500.3,1008M437.7,899L500.3,790M437.7,681L500.3,790M500.3,1226L626.4,1226M500.3,1008L626.4,1008M500.3,790L626.4,790M626.4,1226L689,1335M626.4,1226L689,1117M626.4,1008L689,1117M626.4,1008L689,899M626.4,790L689,899M626.4,790L689,681" stroke="#fff" stroke-width="1.15" stroke-dasharray="9.6 8.38" stroke-dashoffset="4.8" fill="none" opacity="0.95"/>
</g>
<defs><clipPath id="dclip"><rect x="1058" y="744" width="924" height="528"/></clipPath><filter id="dblur" color-interpolation-filters="sRGB" x="-2%" y="-2%" width="104%" height="104%"><feGaussianBlur stdDeviation="2"/></filter></defs>
<g clip-path="url(#dclip)"><g filter="url(#dblur)">
<rect x="1038" y="724" width="964" height="568" fill="#0c040a"/>
<path fill="#0e060c" d="M1052,837l24,1 24,2 46,8 42,4 146,2 24,-1 36,-3 48,-7 26,-4 14,-1 20,1 28,2 50,9 14,2 12,1 22,-2 70,-10 30,-3 14,0 22,2 72,11 24,2 24,-2 78,-12 12,-1 16,1 0,441-940,0 0,-443z"/>
<path fill="#10060e" d="M1052,843l24,1 24,2 46,8 44,4 144,2 24,-1 36,-3 48,-8 26,-3 14,-1 20,0 28,3 50,9 14,2 12,0 22,-1 70,-11 30,-3 14,0 22,2 72,11 24,2 24,-1 78,-13 12,0 16,0 0,436-618,0-3,-2-6,-2-13,-2-14,-1-12,1-18,3-18,2-32,-2-33,-5-19,-2-24,2-12,4-6,4-112,0 0,-437z"/>
<path fill="#11080f" d="M1052,848l24,1 24,3 46,7 44,5 144,1 24,-1 36,-3 48,-7 26,-4 14,-1 20,1 28,2 50,9 14,2 12,1 22,-2 70,-10 30,-3 14,0 22,2 72,11 24,2 24,-2 78,-12 12,-1 16,1 0,430-106,0-4,-4-6,-4-6,-2-6,-1-7,1-7,2-6,4-4,4-209,0-4,-4-7,-4-6,-2-6,-1-6,1-6,2-7,4-4,4-192,0-2,-2-7,-5-12,-8-6,-2-12,-2-12,-1-10,0-32,5-14,1-34,-3-32,-5-14,-1-20,1-14,4-10,5-16,11-2,2-92,0 0,-432z"/>
<path fill="#130811" d="M1052,854l24,1 24,2 46,8 44,4 144,2 24,-1 36,-3 48,-8 26,-3 14,-1 20,0 28,3 50,9 14,2 12,0 22,-1 70,-11 30,-3 14,0 22,2 72,11 24,2 24,-1 78,-13 12,0 16,0 0,425-94,0-2,-3-4,-4-10,-9-10,-5-8,-2-8,1-10,5-10,8-5,5-3,4-185,0-3,-4-4,-4-10,-9-10,-4-8,-2-8,2-10,4-10,9-4,4-3,4-164,0-3,-4-28,-19-8,-4-8,-2-16,-2-12,-1-34,5-16,1-32,-3-32,-4-14,-2-22,2-8,2-8,3-28,18-6,5-3,5-79,0 0,-426z"/>
<path fill="#140913" d="M1052,859l24,1 24,3 46,7 44,5 144,1 24,-1 36,-3 48,-7 26,-4 14,-1 20,1 28,2 50,9 14,2 12,1 22,-2 70,-10 30,-3 14,0 22,2 72,11 24,2 24,-2 78,-12 12,-1 16,1 0,419-86,0-2,-3-6,-9-12,-13-6,-4-6,-3-10,-2-6,0-6,2-10,6-12,12-6,8-4,6-169,0-3,-5-6,-8-6,-7-6,-5-6,-5-5,-2-5,-2-6,0-6,0-5,2-5,2-6,5-6,5-6,7-6,8-3,5-144,0-1,-2-4,-5-11,-9-29,-20-10,-4-16,-3-14,0-12,1-24,4-16,0-32,-2-34,-5-12,-1-14,0-10,2-8,2-9,4-23,15-6,5-8,10-3,8-73,0 0,-421z"/>
<path fill="#150a15" d="M1052,865l24,1 24,2 46,8 44,4 144,2 24,-1 36,-3 48,-8 26,-3 14,-1 20,0 28,3 50,9 14,2 12,0 22,-1 70,-11 30,-3 14,0 22,2 72,11 24,2 24,-1 78,-13 12,0 16,0 0,414-82,0-2,-4-8,-12-12,-13-6,-5-6,-4-6,-2-6,-1-6,1-6,2-6,3-6,4-6,6-8,9-8,12-2,4-161,0-3,-5-8,-12-6,-7-6,-6-6,-5-6,-3-6,-2-6,-1-6,1-6,2-6,3-6,5-6,6-6,7-8,12-3,5-136,0-1,-3-4,-6-6,-6-6,-5-31,-22-5,-3-6,-2-16,-2-14,-1-12,1-24,4-16,1-32,-3-34,-5-12,-1-14,1-10,1-10,3-8,4-24,16-6,5-4,6-4,6-4,11-70,0 0,-415z"/>
<path fill="#170a17" d="M1052,870l24,1 24,3 46,7 44,5 144,1 24,-1 36,-3 48,-7 26,-4 14,-1 20,1 28,2 50,9 14,2 12,1 22,-2 70,-10 30,-3 14,0 22,2 72,11 24,2 24,-2 78,-12 12,-1 16,1 0,408-80,0-2,-5-8,-13-8,-10-6,-6-6,-4-6,-4-6,-2-6,-1-6,0-8,3-6,4-6,4-6,6-8,10-8,13-2,5-157,0-1,-4-8,-12-6,-8-8,-9-6,-5-7,-4-7,-2-6,-1-6,1-7,2-7,4-6,5-8,9-6,8-8,12-1,4-132,0-1,-4-4,-7-6,-7-6,-5-32,-23-10,-4-16,-3-16,-1-10,1-26,4-18,0-30,-2-33,-5-13,-1-20,1-14,4-8,4-22,14-8,7-6,8-4,8-3,11-69,0 0,-410z"/>
<path fill="#180b19" d="M1052,876l24,1 24,2 46,8 44,4 144,2 24,-1 36,-3 48,-8 26,-3 14,-1 20,0 28,3 50,9 14,2 12,0 22,-1 70,-11 30,-3 14,0 22,2 72,11 24,2 24,-1 78,-13 12,0 16,0 0,403-77,0-3,-6-8,-13-7,-9-7,-8-6,-5-8,-5-6,-2-6,-1-6,0-6,2-8,4-6,5-6,6-8,10-8,13-5,9-151,0-4,-8-8,-12-6,-8-8,-9-8,-6-6,-4-6,-1-6,-1-6,1-6,1-8,5-6,5-7,7-7,10-8,12-4,8-126,0-3,-6-5,-9-10,-11-32,-23-6,-3-6,-3-16,-2-16,-1-10,1-26,4-18,0-30,-2-32,-5-14,-1-20,1-14,4-8,3-22,15-8,7-6,8-4,8-4,15-68,0 0,-404z"/>
<path fill="#190c1b" d="M1052,881l24,1 24,3 46,7 44,5 144,1 24,-1 36,-3 48,-7 26,-4 14,-1 20,1 28,2 50,9 14,2 12,1 22,-2 70,-10 30,-3 14,0 22,2 72,11 24,2 24,-2 78,-12 12,-1 16,1 0,397-75,0-3,-7-8,-13-8,-11-6,-7-6,-6-8,-5-8,-3-6,-1-6,0-8,3-8,5-6,5-6,6-8,11-8,13-5,10-147,0-4,-8-8,-14-6,-8-8,-9-6,-6-8,-5-8,-3-6,0-6,0-8,3-8,5-6,6-6,6-8,11-8,14-4,8-123,0-1,-4-6,-12-4,-5-6,-7-8,-7-26,-18-6,-3-6,-3-16,-2-16,-1-10,1-26,4-18,0-30,-2-32,-5-14,-1-20,1-14,4-8,3-24,16-8,8-6,9-4,10-3,14-67,0 0,-399z"/>
<path fill="#1b0d1e" d="M1052,887l24,1 24,2 46,8 43,4 145,2 24,-1 36,-3 48,-8 26,-3 14,-1 22,0 26,3 50,9 14,2 12,0 22,-1 70,-11 30,-3 14,0 22,2 72,11 24,2 24,-1 78,-13 12,0 16,0 0,392-73,0-5,-11-8,-13-8,-11-6,-7-6,-6-8,-5-8,-3-6,-1-6,0-8,3-8,5-8,7-6,7-8,11-8,13-5,11-143,0-4,-9-8,-14-8,-11-8,-9-6,-6-8,-5-8,-3-6,0-6,0-8,3-8,5-6,6-8,9-8,11-8,14-4,9-119,0-3,-8-6,-12-4,-6-6,-6-8,-7-26,-18-6,-3-6,-3-16,-3-16,0-10,0-26,5-18,0-30,-2-32,-5-14,-1-20,1-14,3-8,4-24,16-8,8-6,9-4,10-4,18-66,0 0,-393z"/>
<path fill="#1e0f21" d="M1052,894l24,1 24,2 46,8 44,4 144,2 24,-1 36,-3 48,-8 26,-3 14,-1 20,0 28,3 50,9 14,2 12,1 22,-2 70,-10 30,-4 14,1 22,2 72,11 24,2 24,-2 78,-12 12,-1 16,0 0,385-71,0-3,-8-10,-18-8,-12-6,-7-8,-8-7,-5-7,-3-8,-2-8,1-6,2-8,5-8,7-8,10-8,12-10,18-3,8-139,0-4,-10-10,-18-8,-11-6,-8-8,-7-6,-4-8,-4-8,-1-8,1-8,4-6,4-8,7-6,8-8,11-10,18-4,10-115,0-3,-9-6,-13-4,-6-6,-7-10,-9-26,-18-11,-6-17,-3-16,-1-10,1-26,4-18,0-30,-2-33,-5-13,-1-20,1-14,4-8,4-26,17-6,7-6,9-4,11-5,22-65,0 0,-386z"/>
<path fill="#201124" d="M1052,901l24,1 24,2 46,8 44,4 144,2 24,-1 36,-3 48,-8 26,-3 14,-1 20,1 28,2 50,9 14,2 12,1 22,-2 70,-10 30,-4 14,1 22,2 72,11 24,2 24,-2 78,-12 12,-1 16,1 0,377-69,0-3,-8-10,-19-8,-12-8,-11-6,-6-8,-6-8,-4-8,-1-8,1-7,2-7,5-8,7-8,10-8,12-10,18-5,12-135,0-4,-10-10,-19-8,-12-8,-10-8,-7-8,-6-6,-2-8,-1-8,1-6,2-8,6-8,7-8,10-8,12-10,19-4,10-112,0-2,-8-6,-14-4,-7-6,-9-6,-6-8,-6-26,-18-8,-4-7,-2-11,-2-16,0-10,0-28,5-16,0-28,-2-32,-5-16,-1-22,1-13,4-8,4-25,17-8,9-6,12-4,13-4,19-64,0 0,-379z"/>
<path fill="#231327" d="M1052,908l24,2 24,2 46,7 44,5 144,1 24,0 36,-4 48,-7 26,-4 14,-1 20,1 28,2 50,9 14,2 12,1 22,-2 70,-10 30,-3 14,0 22,2 72,11 24,2 24,-2 78,-12 12,-1 16,1 0,370-67,0-5,-11-8,-16-8,-13-8,-10-8,-9-8,-6-8,-4-8,-1-8,1-8,3-8,5-8,8-8,10-8,13-10,19-5,11-131,0-4,-9-10,-19-8,-13-8,-11-8,-8-8,-6-8,-3-8,-1-8,1-8,3-8,6-8,8-8,11-8,13-10,19-4,9-108,0-4,-11-6,-14-4,-7-6,-9-6,-6-7,-5-26,-18-9,-5-16,-3-18,-1-12,1-24,4-18,0-30,-2-34,-5-12,-1-20,1-6,1-8,3-8,3-26,18-8,9-6,11-4,13-5,23-63,0 0,-372z"/>
<path fill="#26152a" d="M1052,916l24,1 24,2 46,8 44,4 144,2 24,-1 36,-4 48,-7 26,-3 14,-1 20,0 28,2 50,10 14,2 12,0 22,-1 70,-11 30,-3 14,0 22,2 72,11 24,2 24,-2 78,-12 12,0 16,0 0,363-66,0-6,-14-8,-15-8,-13-8,-11-8,-8-8,-6-8,-4-8,-2-8,1-8,3-8,6-8,8-8,10-8,12-10,19-6,14-129,0-5,-12-10,-19-8,-13-8,-10-8,-8-8,-6-8,-4-8,-1-8,1-8,4-8,6-8,8-8,10-8,13-10,19-5,12-106,0-5,-14-6,-14-4,-7-6,-8-6,-6-8,-6-24,-17-10,-6-16,-3-18,-1-10,1-26,4-18,1-30,-3-34,-5-12,-1-22,2-14,4-8,4-20,14-6,4-6,7-6,11-4,13-6,26-62,0 0,-364z"/>
<path fill="#28172e" d="M1052,923l24,1 24,2 46,8 43,4 145,2 24,-1 36,-3 48,-8 26,-3 14,-1 20,0 28,3 50,9 14,2 12,0 22,-1 70,-11 30,-3 14,0 22,2 72,11 24,2 24,-1 78,-13 12,0 16,0 0,356-65,0-5,-12-10,-20-8,-13-8,-10-8,-9-8,-6-8,-4-8,-1-8,1-10,4-8,6-8,9-8,10-8,13-10,20-5,12-127,0-4,-10-10,-20-10,-16-8,-11-8,-8-8,-5-8,-4-8,-1-8,1-8,4-8,5-8,8-8,11-10,16-10,20-4,10-104,0-4,-11-8,-19-4,-8-6,-8-6,-5-8,-7-26,-18-8,-4-16,-3-18,-1-10,1-26,4-18,0-30,-2-32,-5-14,-1-22,1-14,5-8,4-20,13-6,5-6,7-6,11-4,12-7,29-61,0 0,-357z"/>
<path fill="#2c1932" d="M1052,931l46,2 51,9 45,4 140,2 22,-1 31,-3 17,-2 40,-7 38,-4 18,1 32,2 27,6 24,4 23,2 26,-2 62,-9 32,-4 16,0 22,2 70,11 26,2 10,0 16,-2 74,-12 14,-1 16,1 0,348-64,0-4,-11-10,-20-8,-14-8,-11-8,-9-8,-6-8,-5-8,-2-8,1-8,2-10,7-8,7-10,13-8,13-10,20-6,15-125,0-5,-13-10,-20-8,-13-8,-11-8,-9-10,-7-8,-4-8,-1-8,1-10,5-8,6-8,9-8,11-8,13-10,20-5,13-102,0-3,-9-8,-20-6,-11-4,-6-6,-7-8,-6-26,-18-10,-6-16,-3-18,-1-10,1-26,4-18,0-30,-2-32,-5-14,-1-22,1-14,5-8,4-20,13-6,5-6,7-6,11-4,12-8,32-60,0 0,-350z"/>
<path fill="#301d38" d="M1052,934l22,1 26,2 46,8 44,4 144,2 26,-1 36,-3 46,-8 40,-4 20,0 26,3 58,10 20,2 22,-2 72,-11 28,-3 16,1 22,2 72,11 22,2 23,-2 79,-12 12,-1 16,1 0,344-62,0-6,-14-10,-20-8,-14-8,-11-8,-9-8,-6-8,-5-8,-2-9,1-9,3-10,7-8,9-10,13-8,14-10,20-6,14-121,0-7,-16-10,-20-8,-13-8,-11-8,-9-10,-7-8,-4-8,-1-8,1-8,4-10,7-8,9-8,11-8,13-10,20-7,16-99,0-4,-12-8,-20-6,-11-4,-6-6,-6-8,-7-26,-18-10,-6-16,-3-18,-1-10,1-26,4-18,1-30,-3-32,-5-14,-1-22,2-14,4-8,4-20,13-6,5-6,7-6,11-4,12-9,35-59,0 0,-346z"/>
<path fill="#35203d" d="M1052,937l24,1 24,2 46,8 42,4 146,2 24,-1 35,-3 49,-8 26,-3 14,-1 20,1 28,2 50,9 14,2 12,1 22,-2 70,-10 30,-4 14,1 22,2 72,11 24,2 24,-2 78,-12 12,-1 16,1 0,341-61,0-6,-16-11,-21-8,-14-8,-11-8,-9-8,-7-8,-4-8,-2-8,0-10,4-9,6-9,9-8,11-10,17-11,21-6,16-119,0-6,-14-10,-21-10,-17-8,-11-8,-9-10,-8-8,-3-8,-1-8,1-8,3-10,8-8,9-8,11-10,17-10,21-6,14-97,0-2,-8-11,-27-6,-12-4,-5-6,-7-8,-6-27,-19-9,-5-16,-3-18,-1-10,1-26,4-18,0-30,-2-32,-5-14,-1-22,1-14,4-8,5-20,13-6,5-6,7-6,11-4,12-10,38-58,0 0,-343z"/>
<path fill="#3a2443" d="M1052,940l24,1 24,2 46,8 44,4 144,2 24,-1 36,-3 48,-8 26,-3 14,-1 20,0 28,3 50,9 14,2 12,1 22,-2 70,-10 30,-4 14,1 22,2 72,11 24,2 24,-2 78,-12 12,-1 16,1 0,338-58,0-20,-40-8,-14-8,-11-8,-9-8,-7-8,-4-8,-2-10,1-8,3-8,5-10,10-8,11-8,13-22,44-113,0-21,-42-8,-14-8,-10-8,-9-9,-7-9,-4-8,-1-8,1-9,4-9,7-8,9-8,10-8,14-21,42-92,0-15,-38-6,-12-4,-5-6,-7-8,-7-28,-19-7,-4-7,-2-10,-1-18,-1-10,0-28,5-16,0-30,-3-32,-4-14,-1-22,1-14,4-8,5-20,13-6,5-6,7-6,11-16,53-56,0 0,-340z"/>
<path fill="#3e2749" d="M1052,943l24,1 24,2 46,8 42,4 146,2 22,-1 36,-3 50,-8 26,-3 14,-1 22,0 26,3 50,9 14,2 12,1 22,-2 70,-10 30,-4 14,1 22,2 72,11 24,2 24,-2 78,-12 12,-1 16,0 0,331-54,0-4,-2-6,-9-18,-34-12,-18-8,-9-8,-7-8,-4-8,-2-8,0-10,4-8,5-8,8-6,7-8,12-8,14-14,28-4,5-2,1-104,1-6,-1-2,-2-4,-6-20,-38-8,-12-6,-8-8,-8-8,-6-8,-3-8,-1-8,1-8,3-8,6-8,8-6,8-8,12-20,38-4,6-2,2-4,1-82,0-2,-1-2,-1-2,-3-16,-35-4,-8-6,-8-6,-6-8,-6-25,-17-9,-5-16,-3-18,-1-10,1-26,4-18,0-30,-2-34,-5-12,-1-22,1-14,4-8,5-20,13-6,5-6,7-6,11-4,12-8,28-4,9-2,1-54,1 0,-332z"/>
<path fill="#41274f" d="M1052,946l22,1 26,2 46,8 44,4 144,2 23,-1 35,-3 52,-8 38,-4 22,0 26,2 52,10 24,2 20,-1 72,-11 30,-3 14,0 22,2 72,11 24,2 24,-1 78,-13 12,0 16,0 0,319-56,0-4,-1-2,-2-4,-6-18,-33-12,-17-6,-7-8,-6-8,-5-8,-2-8,1-8,2-8,5-8,7-8,10-8,12-20,36-4,5-2,1-114,-1-2,-1-4,-6-18,-33-6,-9-8,-10-8,-8-8,-6-8,-4-8,-1-8,1-8,4-8,6-8,8-8,10-6,9-18,33-4,6-2,1-90,1-4,-2-2,-2-16,-34-8,-11-6,-6-8,-6-26,-19-8,-4-16,-3-18,-1-10,1-26,4-18,0-30,-2-34,-5-12,-1-22,2-14,4-8,4-20,13-6,5-6,7-6,11-4,13-6,20-4,9-2,2-4,1-52,0 0,-320z"/>
<path fill="#442756" d="M1052,948l20,1 28,2 48,8 42,4 144,2 27,-1 29,-3 56,-8 26,-3 12,-1 20,1 26,2 52,9 24,3 23,-2 71,-11 28,-3 14,1 22,2 74,11 22,2 23,-2 79,-12 12,-1 16,1 0,307-58,0-4,0-2,-2-4,-6-18,-31-12,-16-6,-6-8,-6-8,-4-6,-1-8,0-8,3-8,5-8,7-6,7-8,11-20,35-2,2-4,2-118,0-2,-1-4,-5-18,-32-8,-11-6,-7-8,-8-8,-5-6,-2-8,-1-6,0-8,3-8,5-8,8-6,7-8,11-18,32-4,5-2,1-94,0-4,-1-2,-2-14,-29-4,-6-6,-7-12,-10-26,-18-8,-4-16,-3-18,-1-10,0-26,5-18,0-30,-2-32,-5-14,-1-20,1-14,3-8,4-26,18-8,9-5,8-4,10-7,23-2,5-2,2-4,1-54,0 0,-309z"/>
<path fill="#48285d" d="M1052,950l22,1 26,2 46,8 44,4 144,2 24,-1 34,-3 52,-8 24,-3 16,-1 20,1 26,2 52,10 24,2 24,-2 70,-10 28,-4 14,1 22,2 73,11 23,2 24,-2 78,-12 12,-1 16,1 0,295-62,1-4,-2-4,-4-18,-30-12,-15-6,-6-8,-5-6,-3-8,-1-8,1-6,2-8,5-6,5-7,7-7,10-18,30-4,4-2,1-122,1-4,-1-2,-2-4,-5-18,-30-12,-14-8,-7-6,-4-6,-2-8,-1-6,0-8,3-8,5-6,6-12,14-18,30-4,5-2,2-4,1-98,-1-2,0-2,-2-13,-25-9,-11-12,-10-26,-18-8,-4-16,-3-18,-1-10,0-26,5-18,0-30,-2-32,-5-14,-1-20,1-14,3-8,4-26,18-6,6-6,9-5,11-7,21-2,3-2,1-58,1 0,-298z"/>
<path fill="#4c2865" d="M1052,952l24,1 24,2 46,8 44,4 144,2 24,-1 36,-3 48,-8 40,-4 20,1 28,2 52,10 24,2 24,-2 68,-10 30,-4 14,1 22,2 73,11 23,2 24,-2 78,-12 12,-1 16,1 0,282-68,0-2,-1-4,-5-16,-24-12,-15-8,-6-6,-4-6,-2-6,-1-6,1-6,1-8,5-6,4-10,11-20,30-4,5-2,1-132,0-2,-1-4,-4-18,-27-12,-14-6,-5-8,-4-6,-2-6,-1-6,1-6,2-8,4-6,5-10,11-20,30-4,4-4,1-104,0-4,-2-2,-2-12,-19-10,-11-32,-23-6,-4-6,-2-16,-3-16,-1-10,1-26,4-18,1-30,-3-32,-5-14,-1-20,1-14,4-8,4-24,16-6,5-6,8-5,10-7,17-2,3-2,2-60,0 0,-284z"/>
<path fill="#4d276d" d="M1052,954l24,1 24,2 46,8 44,4 144,2 24,-1 36,-3 48,-8 40,-4 20,0 28,3 50,9 14,2 12,1 22,-2 72,-11 28,-3 14,1 22,2 74,11 22,2 23,-2 79,-12 12,-1 16,0 0,268-70,0-4,0-8,-9-14,-20-10,-10-6,-4-6,-3-6,-2-6,0-6,1-6,2-6,3-6,5-10,11-16,22-4,4-2,0-140,0-4,-1-2,-2-18,-24-10,-11-6,-4-6,-4-6,-2-6,0-6,0-6,2-6,4-6,4-10,11-18,24-4,3-116,0-4,-1-14,-18-10,-9-30,-21-10,-5-16,-2-16,-1-10,1-26,4-18,0-30,-2-32,-5-14,-1-14,1-10,1-12,4-8,4-20,13-8,7-6,8-10,18-2,3-2,1-62,0 0,-269z"/>
<path fill="#4e2674" d="M1052,955l24,2 24,2 44,7 44,5 22,0 124,2 22,-1 40,-4 46,-7 40,-5 20,1 28,2 46,9 16,2 14,1 20,-1 72,-11 30,-3 16,0 22,2 72,11 22,2 22,-1 80,-13 12,-1 16,1 0,257-72,0-6,0-4,-3-14,-19-10,-11-6,-4-6,-3-10,-2-6,0-6,2-10,6-12,12-14,19-2,2-4,1-150,0-2,-1-4,-3-12,-17-6,-7-6,-5-6,-5-5,-2-5,-2-6,0-6,0-5,2-5,2-6,5-6,5-6,7-12,17-4,3-2,1-124,0-4,-1-2,-2-10,-12-11,-9-29,-20-10,-4-16,-2-14,-1-12,1-24,4-16,0-30,-2-34,-5-14,-1-14,1-10,1-12,4-8,4-20,13-6,5-6,7-8,14-4,5-4,0-62,0 0,-259z"/>
<path fill="#4e267c" d="M1052,957l26,1 24,2 43,8 41,4 22,1 126,1 22,-1 36,-3 50,-8 28,-3 12,-1 22,0 26,3 49,9 15,2 12,1 20,-2 72,-10 30,-4 14,1 22,2 67,10 17,2 12,1 22,-2 80,-12 12,-1 16,0 0,253-78,0-4,-3-14,-19-11,-11-9,-6-6,-2-6,-1-6,1-6,1-5,3-6,4-11,11-14,19-4,3-152,0-4,-2-2,-2-14,-19-10,-10-10,-6-6,-2-6,-1-6,1-6,2-10,6-10,10-14,19-2,2-4,2-124,0-4,-1-2,-1-12,-14-11,-9-26,-18-5,-3-6,-2-16,-2-14,-1-10,1-26,4-18,1-32,-3-32,-4-12,-1-12,0-12,2-14,4-6,3-20,13-6,5-6,8-8,14-2,2-2,1-66,1 0,-254z"/>
<path fill="#4f2583" d="M1052,958l22,1 26,2 46,8 44,4 144,2 24,-1 36,-3 50,-8 38,-4 20,1 26,2 57,10 21,2 24,-2 70,-10 28,-4 14,1 22,2 73,11 23,2 24,-2 78,-12 12,-1 16,1 0,249-78,-1-4,-2-14,-19-11,-11-10,-6-7,-2-4,-1-6,1-6,2-10,5-6,6-6,6-14,19-4,2-152,1-4,-2-2,-2-14,-19-10,-10-10,-6-6,-2-6,-1-6,1-6,2-10,6-10,10-14,19-4,3-6,1-120,0-4,-1-2,-1-12,-14-11,-9-27,-18-10,-4-14,-2-16,-1-12,1-24,4-18,0-32,-2-24,-4-20,-2-24,2-13,4-7,3-19,13-7,5-6,8-8,13-2,3-2,1-66,1 0,-251z"/>
<path fill="#50248b" d="M1052,959l26,2 24,2 41,7 43,4 24,1 124,1 22,0 38,-4 48,-7 28,-4 12,-1 20,1 28,2 47,9 15,2 14,1 20,-1 72,-11 30,-3 18,0 20,2 72,11 22,2 22,-2 80,-12 12,-1 16,1 0,246-78,-1-4,-2-14,-18-12,-12-10,-6-10,-2-6,1-5,1-5,2-6,4-12,12-14,18-2,2-4,1-146,0-6,-1-4,-3-16,-21-8,-7-6,-4-6,-3-10,-2-10,2-6,3-6,4-8,7-16,21-4,3-6,1-122,-1-4,-1-11,-13-10,-8-27,-18-7,-4-5,-2-15,-2-15,-1-10,1-26,4-16,1-30,-2-32,-5-16,-1-14,0-10,2-11,3-9,4-20,13-6,5-6,7-8,14-4,3-66,1 0,-248z"/>
<path fill="#4d2891" d="M1052,960l22,1 26,3 50,8 42,4 142,1 22,0 30,-3 17,-2 41,-7 38,-4 20,1 28,2 53,10 23,2 24,-2 72,-11 26,-2 14,0 22,2 71,11 25,2 26,-2 74,-12 14,-1 16,1 0,242-74,0-6,0-4,-4-14,-18-8,-8-10,-6-6,-2-6,-1-10,1-6,3-6,3-6,5-6,7-14,18-4,2-154,0-4,-3-14,-18-10,-10-10,-6-6,-2-6,0-6,0-6,2-6,3-4,3-10,10-14,18-4,3-128,0-4,-1-12,-13-10,-8-26,-18-6,-3-6,-2-16,-2-14,-1-10,1-26,4-18,0-30,-2-34,-5-12,-1-14,1-10,1-10,3-10,4-20,13-6,5-6,7-8,14-4,3-66,0 0,-244z"/>
<path fill="#492d96" d="M1052,962l24,1 24,2 42,7 46,5 26,1 120,1 22,-1 41,-4 45,-7 40,-4 20,0 28,2 46,9 14,2 16,1 19,-1 75,-11 28,-3 16,0 22,2 74,12 20,1 20,-1 82,-13 12,-1 16,1 0,239-76,0-4,-1-4,-3-14,-18-8,-8-10,-6-6,-2-6,-1-10,1-6,3-6,3-6,5-6,7-12,16-2,2-4,2-154,0-4,-3-14,-18-10,-10-6,-4-6,-2-10,-2-6,1-6,2-10,5-10,10-14,18-4,3-128,0-4,-1-12,-13-10,-8-26,-18-6,-3-6,-2-16,-2-14,-1-10,1-26,4-18,1-30,-3-34,-5-12,0-12,0-12,2-14,4-8,4-18,12-6,4-6,7-8,14-2,2-2,1-66,0 0,-240z"/>
<path fill="#413398" d="M1052,963l46,3 50,8 44,4 142,2 24,-1 30,-3 16,-2 40,-6 38,-4 22,0 26,2 52,10 24,2 22,-1 68,-11 32,-3 14,0 22,2 70,11 26,2 10,0 16,-2 74,-11 14,-1 16,0 0,235-80,0-4,-3-12,-16-10,-10-6,-4-6,-3-10,-2-10,2-6,2-6,4-10,9-14,18-4,3-156,0-4,-2-14,-18-10,-10-6,-3-6,-3-10,-2-10,2-7,3-5,3-10,10-14,18-4,2-128,0-4,-1-2,-1-10,-11-12,-10-26,-16-10,-4-16,-3-14,0-10,0-26,5-18,0-30,-2-32,-5-14,-1-14,1-10,1-13,4-9,4-18,12-6,5-6,6-8,13-2,2-2,1-66,0 0,-236z"/>
<path fill="#39399a" d="M1052,964l24,1 24,2 46,8 44,4 144,2 24,-1 36,-3 48,-8 40,-4 20,0 28,3 24,5 30,5 22,2 22,-2 72,-11 28,-3 16,1 22,2 72,11 22,2 23,-2 79,-12 12,-1 16,0 0,231-80,-1-4,-2-12,-16-10,-10-12,-6-10,-2-6,0-6,2-8,4-4,2-10,10-12,16-4,2-156,1-4,-2-14,-18-10,-9-12,-6-10,-2-10,2-12,5-10,10-14,18-4,2-128,0-4,-1-2,-2-14,-14-18,-12-18,-11-8,-3-16,-2-14,-1-10,1-26,4-18,0-30,-2-32,-4-14,-1-12,0-12,2-14,4-9,4-17,11-6,5-6,6-8,13-2,2-2,1-66,0 0,-232z"/>
<path fill="#323f9d" d="M1052,965l24,1 24,2 46,8 42,4 146,2 24,-1 36,-3 48,-7 26,-4 14,-1 20,1 28,2 50,9 14,2 12,1 22,-2 70,-10 30,-3 14,0 22,2 72,11 24,2 24,-2 78,-12 12,-1 16,1 0,224-80,0-4,-2-14,-17-8,-8-12,-6-10,-2-6,1-5,1-13,6-8,8-14,17-4,2-156,0-4,-1-2,-2-12,-15-8,-8-12,-6-6,-2-6,-1-10,2-13,6-9,9-12,15-4,3-132,0-4,-1-14,-14-16,-11-19,-11-9,-3-16,-2-14,-1-10,1-26,4-18,0-30,-2-32,-4-14,-1-12,0-12,2-16,4-8,4-20,13-6,6-10,14-2,1-2,1-66,0 0,-226z"/>
<path fill="#2b44a0" d="M1052,967l22,1 26,2 46,8 44,4 144,2 24,-1 34,-3 52,-8 38,-4 22,0 26,2 51,10 25,2 22,-1 70,-11 30,-3 14,0 22,2 72,11 24,2 24,-1 78,-13 12,0 16,0 0,217-82,0-4,-3-12,-15-6,-5-12,-6-6,-2-6,0-10,1-14,5-8,7-12,15-4,3-160,0-4,-2-14,-17-6,-5-12,-5-6,-2-6,-1-10,2-14,6-8,8-12,14-4,2-132,0-4,-1-2,-1-14,-13-14,-9-22,-11-8,-2-16,-2-12,-1-36,5-18,0-30,-1-32,-5-14,0-12,0-12,2-20,5-8,3-16,10-6,6-8,11-4,3-68,1 0,-218z"/>
<path fill="#2549a2" d="M1052,968l24,1 24,2 46,8 44,4 144,2 24,-1 36,-3 48,-8 40,-4 20,0 28,3 50,9 14,2 12,1 22,-2 70,-10 30,-4 14,1 22,2 72,11 24,2 24,-2 78,-12 12,-1 16,1 0,208-80,1-4,-1-4,-3-12,-14-4,-3-14,-5-10,-2-10,1-10,3-6,3-6,5-10,12-2,2-4,1-160,1-4,-1-2,-2-10,-12-6,-5-14,-6-6,-2-6,0-10,1-14,5-6,5-12,14-4,2-136,1-4,-1-2,-2-12,-10-12,-8-26,-11-6,-2-16,-2-12,0-36,5-18,0-30,-2-32,-4-14,-1-22,2-16,4-8,1-8,3-8,5-6,4-6,6-8,10-4,2-68,1 0,-211z"/>
<path fill="#204ea3" d="M1052,969l24,2 24,2 46,7 42,5 146,1 24,0 36,-4 48,-7 26,-4 14,-1 20,1 28,2 50,9 14,2 12,1 22,-2 70,-10 30,-3 14,0 22,2 72,11 24,2 24,-2 78,-12 12,-1 16,1 0,201-84,0-4,-3-10,-11-4,-3-18,-5-8,-2-8,1-16,4-4,1-4,3-10,12-4,3-164,0-4,-2-10,-11-4,-4-18,-5-10,-2-8,1-14,3-4,2-5,4-11,12-4,2-138,0-4,-1-12,-10-10,-7-14,-3-14,-7-8,-1-16,-2-12,0-34,4-18,1-30,-2-33,-4-13,-1-22,2-16,4-12,1-10,3-6,4-4,3-4,4-6,8-4,4-70,0 0,-203z"/>
<path fill="#1f52a6" d="M1052,971l24,1 24,2 46,8 44,4 144,2 24,-1 34,-3 50,-8 26,-3 14,-1 22,0 26,2 50,10 14,2 12,0 22,-1 70,-11 30,-3 14,0 22,2 72,11 24,2 24,-1 78,-13 12,0 16,0 0,191-84,0-4,-2-8,-9-2,-2-4,-1-8,0-12,-2-6,-1-6,0-12,3-8,-1-4,1-4,3-10,10-4,1-160,0-4,0-2,-2-8,-8-4,-3-4,0-8,-1-10,-2-8,-1-16,3-8,-1-4,0-4,3-10,10-4,2-136,0-6,-1-12,-10-6,-4-6,-1-8,1-4,0-16,-7-10,-1-14,-2-10,0-34,5-18,0-30,-1-32,-4-14,-1-20,2-18,4-16,-1-10,2-6,4-12,14-4,1-68,0 0,-192z"/>
<path fill="#1f55a9" d="M1052,972l24,1 24,3 46,7 44,5 144,1 24,-1 36,-3 48,-7 26,-4 14,-1 20,1 28,2 50,9 14,2 12,1 22,-2 70,-10 30,-3 14,0 22,2 72,11 24,2 24,-2 78,-12 12,-1 16,1 0,148-16,0-66,17-12,4-8,1-8,2-18,-3-18,3-10,-4-9,0-42,-12-17,-4-12,-2-22,-2-6,0-12,2-19,4-43,12-10,3-8,1-8,2-18,-3-6,1-10,1-4,0-8,-3-10,0-50,-14-26,-6-8,-1-12,1-11,2-16,4-19,7-17,5-5,1-10,0-12,4-4,0-16,-7-26,-2-10,0-28,4-14,1-36,-2-44,-4-22,1-20,4-4,0-14,-3-18,2-12,-3-10,-4-9,-2-14,-2-33,-2 0,-154z"/>
<path fill="#215aae" d="M1052,974l24,1 24,2 46,8 42,4 146,2 24,-1 36,-3 48,-8 26,-3 14,-1 20,0 28,3 50,9 14,2 12,0 22,-1 70,-11 30,-3 14,0 22,2 72,12 24,1 24,-1 78,-13 12,0 16,0 0,126-14,0-6,1-32,8-19,6-10,4-6,4-7,6-6,8-6,4-4,1-18,-2-18,2-4,-2-8,-5-6,-8-5,-4-6,-4-10,-4-19,-6-15,-4-26,-4-13,-1-12,1-21,4-16,4-19,6-9,4-7,4-6,5-6,9-8,5-4,0-16,-2-16,2-4,-1-10,-6-6,-8-5,-4-11,-6-11,-4-21,-6-28,-6-10,-2-12,1-15,3-15,4-11,4-14,6-11,6-6,5-7,7-7,5-4,1-6,-1-10,-4-6,-1-24,-2-10,0-30,4-18,0-30,-1-34,-4-16,0-16,1-16,4-6,0-18,-7-17,-11-8,-4-11,-4-8,-2-18,-3-32,-2 0,-131z"/>
<path fill="#2567b8" d="M1052,975l24,1 24,3 46,7 42,4 146,2 24,-1 36,-3 48,-7 26,-4 14,-1 20,1 28,2 50,9 14,2 12,1 22,-2 70,-10 30,-3 14,0 22,2 72,11 24,2 24,-2 78,-12 12,-1 16,1 0,118-14,0-6,1-39,10-17,6-8,4-6,4-4,4-8,12-6,4-4,0-16,-2-18,2-4,-2-5,-4-7,-10-4,-4-6,-4-10,-5-15,-5-22,-6-25,-4-14,-1-12,1-24,5-20,5-17,6-7,3-6,4-6,7-7,10-5,4-4,1-16,-3-16,2-4,-1-7,-5-7,-10-4,-4-6,-4-8,-4-11,-4-19,-5-30,-7-10,-2-12,1-15,3-17,4-14,6-13,6-9,5-6,6-8,10-6,3-4,1-4,0-10,-4-6,-2-26,-2-8,1-30,3-18,1-30,-1-34,-4-20,0-12,1-16,4-4,0-4,-1-12,-6-16,-12-13,-7-10,-4-9,-2-18,-3-32,-2 0,-124z"/>
<path fill="#2974c3" d="M1052,977l26,1 24,2 44,8 43,4 145,2 24,-1 36,-3 48,-8 26,-3 14,-1 22,0 26,3 50,9 14,2 12,0 22,-1 70,-11 30,-3 14,0 22,2 72,12 24,1 24,-1 78,-13 12,0 16,0 0,113-14,-1-6,1-34,9-22,7-8,4-6,4-6,7-8,12-4,3-4,1-16,-2-18,1-4,-2-4,-3-6,-10-6,-7-6,-4-8,-4-15,-5-23,-6-22,-4-18,-2-12,1-23,5-23,6-16,6-8,4-6,4-4,5-8,13-4,3-4,1-16,-2-16,1-4,0-6,-5-8,-12-4,-4-6,-5-7,-3-11,-4-20,-6-30,-7-10,-1-12,1-17,3-15,4-15,6-13,6-10,6-4,4-10,13-4,3-4,1-4,-1-10,-4-6,-1-30,-2-32,4-18,0-32,-1-32,-3-26,0-10,1-14,3-4,0-6,-2-8,-4-12,-11-6,-4-12,-6-10,-4-10,-3-18,-3-32,-1 0,-118z"/>
<path fill="#2b86d1" d="M1052,978l24,1 24,2 46,8 44,4 144,2 24,-1 36,-3 48,-8 40,-4 20,1 28,2 50,9 14,2 12,1 22,-2 70,-10 30,-4 14,1 22,2 72,11 24,2 24,-2 78,-12 12,-1 16,1 0,107-14,0-6,1-36,9-20,7-10,5-6,4-4,5-9,14-3,3-4,1-16,-3-18,2-4,-2-2,-2-8,-13-4,-4-6,-5-10,-5-17,-6-21,-6-24,-4-16,-1-12,1-26,5-22,6-14,5-8,5-6,4-4,4-9,15-3,2-4,2-16,-3-16,2-4,-1-5,-4-7,-11-4,-5-6,-5-8,-4-12,-5-16,-4-34,-8-10,-2-16,2-22,5-10,3-16,7-10,5-8,5-6,6-8,12-4,2-4,2-4,-1-10,-4-6,-2-6,0-12,0-14,-1-24,3-20,1-32,-1-36,-3-14,1-14,-1-8,1-12,3-6,0-4,-1-7,-4-15,-13-6,-4-12,-6-10,-5-10,-2-16,-3-34,-2 0,-113z"/>
<path fill="#2c98dc" d="M1052,979l26,2 24,2 42,7 44,4 22,1 124,1 22,0 39,-4 47,-7 40,-5 20,1 28,2 48,9 14,2 14,1 20,-1 72,-11 30,-3 16,0 22,2 70,11 24,2 22,-2 80,-12 12,-1 16,1 0,103-14,0-6,1-38,10-20,7-8,4-6,4-4,5-9,15-3,2-4,1-16,-2-18,2-4,-2-2,-3-8,-13-4,-4-6,-5-10,-5-16,-6-22,-6-24,-4-16,-1-12,1-26,5-24,7-14,5-6,3-6,5-4,4-10,16-2,2-4,2-16,-3-16,2-4,-1-5,-4-7,-12-4,-5-6,-5-6,-3-12,-5-18,-6-34,-7-10,-2-16,2-22,5-12,4-16,7-8,4-8,5-6,6-10,14-2,1-4,1-4,0-10,-4-6,-2-6,0-12,1-14,-2-28,3-16,1-32,-1-34,-3-16,2-16,-1-18,3-6,0-4,-1-6,-4-14,-13-6,-4-12,-7-10,-4-10,-3-16,-2-16,-2-20,-1 0,-109z"/>
<path fill="#2cabe5" d="M1052,980l22,1 26,3 46,7 44,5 144,1 24,0 36,-4 50,-8 38,-4 20,1 28,2 52,10 24,2 22,-2 72,-10 28,-3 14,0 22,2 71,11 25,2 12,0 13,-2 75,-12 14,-1 16,1 0,100-14,-1-6,1-38,10-20,7-8,4-6,5-4,5-10,16-2,2-4,1-16,-2-14,1-4,0-4,-3-10,-15-4,-5-8,-6-8,-4-18,-6-22,-6-24,-4-14,-1-12,1-28,6-21,6-15,6-8,4-4,3-4,5-10,16-2,2-4,2-16,-2-16,1-4,-1-4,-3-8,-13-4,-5-6,-5-6,-4-10,-4-19,-6-34,-8-11,-1-16,1-22,5-10,3-18,8-11,6-7,5-4,5-10,14-2,2-4,1-4,-1-11,-4-5,-1-4,0-14,1-16,-2-26,3-22,1-30,-1-29,-3-17,2-14,-2-24,4-4,-1-6,-3-14,-13-8,-7-11,-6-11,-5-10,-3-14,-2-18,-2-20,-1 0,-105z"/>
<path fill="#3ab7e1" d="M1052,981l24,2 24,2 44,7 44,5 22,0 124,2 22,-1 40,-4 46,-7 40,-5 20,1 28,2 47,9 15,2 14,1 20,-1 72,-11 30,-3 16,0 22,2 72,11 22,2 22,-2 80,-12 12,-1 16,1 0,96-14,0-6,1-40,10-17,6-8,4-7,5-4,5-10,17-2,2-4,1-16,-1-14,1-4,0-4,-4-10,-15-4,-5-7,-6-8,-4-17,-6-22,-6-25,-4-15,-1-14,1-28,6-21,6-15,6-6,4-6,5-12,19-2,2-4,2-16,-1-18,1-2,-1-3,-3-13,-20-5,-4-6,-4-9,-4-19,-6-35,-8-12,-2-16,2-20,4-13,4-18,8-11,6-6,5-4,4-10,15-3,2-3,1-4,0-10,-4-6,-1-4,-1-14,2-16,-3-26,3-22,2-30,-2-28,-2-18,2-16,-2-22,4-4,-1-4,-2-16,-16-8,-6-10,-6-14,-6-10,-3-18,-2-32,-2 0,-102z"/>
<path fill="#55bcd0" d="M1052,982l22,1 26,3 46,7 44,5 144,1 24,0 36,-4 50,-8 38,-4 20,1 28,2 53,10 23,2 22,-2 72,-10 28,-3 14,0 22,2 71,11 25,2 12,0 14,-2 74,-12 14,-1 16,1 0,93-14,0-6,1-40,10-18,7-8,4-6,4-4,5-10,17-2,2-4,2-16,-2-14,2-4,-1-4,-3-10,-16-4,-5-7,-6-8,-4-17,-6-22,-6-25,-4-15,-1-13,1-29,6-21,6-15,6-6,4-6,5-12,19-4,4-2,1-16,-2-18,1-2,-1-3,-3-13,-20-6,-5-6,-3-10,-5-18,-5-36,-9-10,-1-18,2-22,5-9,3-18,8-11,6-6,5-4,4-10,15-2,2-4,2-4,0-10,-4-6,-2-4,0-14,2-16,-3-26,3-18,1-32,-1-30,-3-18,3-16,-2-22,3-4,-1-4,-2-14,-14-10,-8-11,-6-9,-4-12,-4-11,-2-19,-2-22,-1 0,-99z"/>
<path fill="#65bebc" d="M1052,983l26,2 24,2 42,7 44,4 22,1 124,1 24,-1 36,-3 48,-7 28,-4 12,-1 20,1 28,2 48,9 14,2 14,1 20,-1 72,-11 30,-3 14,0 22,2 72,11 24,2 24,-2 78,-12 12,-1 16,1 0,91-14,-1-6,1-38,10-13,4-9,4-6,3-6,5-4,5-10,16-3,3-3,1-16,-1-14,1-4,0-4,-4-10,-16-4,-5-6,-5-8,-4-14,-5-26,-7-24,-4-16,-2-12,1-28,6-21,6-16,6-7,4-6,5-12,19-3,4-3,1-16,-1-14,1-4,0-4,-3-10,-16-4,-6-6,-5-6,-3-12,-5-18,-5-34,-8-10,-1-16,1-24,5-13,5-17,8-8,4-6,5-4,4-10,15-4,4-2,1-4,-1-10,-3-6,-2-18,2-6,-1-10,-2-26,3-18,1-32,-1-30,-3-12,3-6,0-16,-2-22,3-4,-1-4,-2-8,-9-14,-12-10,-6-12,-6-12,-4-14,-2-18,-2-20,-1 0,-96z"/>
<path fill="#6abea2" d="M1052,984l22,1 26,2 46,8 44,4 144,2 24,-1 36,-3 50,-8 38,-4 20,1 28,2 52,10 24,2 22,-2 72,-11 28,-3 14,1 22,2 73,11 23,2 24,-2 78,-12 12,-1 16,1 0,88-14,0-6,0-38,10-20,7-8,4-6,5-4,5-8,13-4,6-2,1-4,1-12,-1-16,1-4,-1-4,-4-10,-16-4,-5-8,-6-14,-6-20,-6-14,-4-24,-3-14,-1-12,1-26,5-24,7-14,5-6,3-6,5-4,4-12,19-2,2-4,1-14,-1-14,1-4,0-4,-4-10,-16-4,-5-6,-5-6,-4-12,-4-18,-6-34,-8-10,-1-16,1-24,6-12,4-18,8-8,5-6,4-4,5-10,14-4,4-2,1-4,0-10,-4-6,-1-18,2-6,-1-10,-2-28,3-16,1-30,-1-32,-3-12,3-6,0-6,-1-8,-2-4,0-20,4-4,-1-3,-2-9,-10-14,-12-10,-6-12,-6-10,-3-16,-3-18,-1-20,-1 0,-94z"/>
<path fill="#6abc82" d="M1052,985l26,1 24,3 44,7 42,4 146,2 24,-1 34,-3 50,-8 26,-3 14,-1 22,1 26,2 49,9 15,2 12,1 22,-2 70,-10 30,-4 14,1 22,2 72,11 24,2 24,-2 78,-12 12,-1 16,1 0,85-14,0-6,1-38,10-20,7-8,4-6,4-4,5-8,13-4,6-2,2-4,1-14,-1-14,1-4,-1-4,-4-10,-16-4,-5-8,-6-12,-6-20,-6-16,-4-24,-4-14,-1-12,1-28,6-22,6-14,5-6,3-6,5-4,5-12,19-2,1-4,2-14,-1-14,1-4,-1-4,-4-10,-16-4,-5-6,-5-6,-3-12,-5-16,-5-36,-9-10,-1-16,2-24,5-12,4-16,7-10,6-6,4-4,5-12,17-2,2-4,1-18,-5-18,2-6,-1-8,-2-4,-1-26,4-18,1-28,-1-32,-3-12,2-6,1-18,-3-20,4-4,-2-2,-1-10,-11-14,-12-10,-6-12,-5-12,-4-14,-2-18,-2-20,-1 0,-91z"/>
<path fill="#67b95c" d="M1052,986l22,1 26,2 46,8 44,4 144,2 24,-1 34,-3 52,-8 38,-4 20,1 28,2 52,10 24,2 23,-2 69,-10 30,-4 14,1 22,2 72,11 24,2 23,-2 79,-12 12,-1 16,1 0,82-14,0-6,1-38,9-20,7-8,5-6,4-4,5-8,14-4,5-2,2-4,1-14,-1-14,1-4,-1-4,-4-10,-16-4,-5-8,-6-12,-6-18,-6-18,-4-24,-4-14,-1-12,1-28,5-22,7-14,5-8,5-6,5-14,22-2,2-4,1-16,-1-12,1-4,-1-4,-4-10,-16-4,-5-6,-5-6,-3-12,-5-16,-5-36,-9-10,-1-16,2-22,5-12,3-18,8-10,6-6,4-4,5-12,17-4,3-2,0-4,-1-12,-4-4,0-10,2-6,1-6,-1-12,-3-28,3-16,1-26,0-32,-4-4,0-8,3-6,1-6,-1-14,-3-20,4-4,-1-2,-2-10,-11-14,-12-12,-7-10,-4-12,-4-14,-2-18,-2-20,-1 0,-88z"/>
<path fill="#66b74a" d="M1052,987l26,1 24,3 44,7 44,4 144,2 24,-1 32,-3 52,-8 26,-3 14,-1 22,1 26,2 49,9 15,2 12,1 22,-2 68,-10 32,-4 14,1 22,2 70,11 26,2 12,-1 12,-1 76,-12 14,-1 16,1 0,79-14,-1-6,1-40,11-18,6-8,5-6,4-4,5-8,14-4,5-2,2-4,1-14,0-14,0-4,-1-4,-4-10,-16-4,-5-8,-7-12,-5-18,-6-18,-5-22,-3-16,-2-12,1-26,6-24,6-14,6-8,5-6,5-14,22-2,2-4,1-16,0-12,0-4,-1-4,-4-10,-16-4,-5-6,-5-6,-4-12,-5-16,-4-34,-9-12,-1-16,1-22,5-12,4-18,8-10,5-6,5-4,4-12,17-4,3-2,1-4,-1-12,-4-4,0-10,3-6,0-6,0-12,-4-31,4-15,1-25,-1-31,-4-4,1-8,3-6,0-8,0-12,-3-20,3-4,-1-2,-2-10,-11-14,-12-12,-7-10,-5-10,-3-14,-2-18,-2-22,-1 0,-85z"/>
<path fill="#66b542" d="M1052,988l22,1 26,2 46,8 44,5 144,1 24,-1 32,-3 54,-8 38,-4 22,1 26,2 52,9 24,3 23,-2 69,-10 30,-4 14,1 22,2 72,11 24,2 23,-2 79,-12 12,-1 16,1 0,75-14,0-6,1-38,9-20,8-10,6-6,5-14,22-4,3-4,1-26,0-4,-2-4,-4-10,-16-4,-5-10,-8-12,-6-20,-6-14,-3-24,-4-14,-1-12,1-28,5-24,7-12,6-8,4-6,6-14,22-2,2-4,2-30,-1-2,0-4,-4-10,-17-4,-5-6,-5-8,-5-10,-4-18,-6-34,-8-10,-1-16,2-24,5-12,4-18,8-8,5-6,4-5,6-11,16-3,2-3,1-4,0-8,-3-4,-1-14,4-8,0-6,-1-8,-3-4,-1-30,4-16,1-24,-1-28,-3-4,0-10,3-6,1-8,-1-12,-3-20,3-4,-2-12,-13-14,-12-10,-6-12,-5-10,-4-16,-2-18,-2-20,-1 0,-81z"/>
<path fill="#66b43a" d="M1052,989l28,1 22,2 46,9 42,4 38,0 66,0 40,1 24,0 28,-3 54,-9 28,-3 16,-1 22,1 24,2 50,9 15,2 11,1 22,-2 68,-10 32,-4 14,1 22,2 68,10 16,2 12,1 12,-1 14,-2 74,-11 14,-1 16,0 0,72-14,0-6,1-38,9-18,7-8,4-8,7-4,5-8,14-4,5-4,3-4,1-24,0-4,-1-2,-1-4,-4-10,-17-4,-5-10,-7-12,-6-16,-6-18,-4-24,-4-14,-1-12,1-28,5-22,7-12,5-8,5-6,4-4,5-12,20-4,3-4,1-28,0-2,-1-4,-4-10,-17-4,-5-6,-5-8,-5-12,-6-14,-4-34,-8-12,-2-16,1-22,5-12,4-18,8-10,6-6,4-5,5-11,16-4,4-2,0-4,0-10,-3-14,4-10,1-6,-1-12,-5-12,1-22,4-12,1-20,-1-20,-3-12,-1-4,0-10,4-6,1-8,-1-14,-4-16,2-4,-1-2,-1-12,-13-14,-12-12,-7-10,-4-10,-4-14,-2-18,-2-22,-1 0,-77z"/>
<path fill="#66b335" d="M1052,990l24,1 26,2 50,10 36,3 42,1 16,-1 48,0 40,2 24,-1 24,-2 58,-10 28,-3 14,-1 22,0 26,3 50,9 14,2 12,0 21,-1 71,-11 30,-3 14,0 22,2 72,11 24,2 22,-1 80,-13 12,0 16,0 0,67-14,0-6,0-34,9-10,4-10,4-10,6-8,6-4,5-8,15-4,5-4,3-4,1-24,0-4,0-2,-1-6,-8-8,-14-6,-7-12,-8-14,-7-12,-5-16,-4-24,-3-14,-1-12,0-22,5-16,4-12,4-16,8-10,8-5,7-9,15-4,5-2,1-6,1-24,0-4,-1-4,-4-10,-17-4,-5-6,-6-10,-6-12,-6-12,-4-34,-9-12,-1-18,2-20,4-12,4-18,8-10,5-6,5-5,5-11,16-2,2-4,2-12,-3-14,6-10,2-8,-2-10,-4-2,0-14,0-18,4-16,1-18,-1-20,-3-14,-1-12,5-10,1-8,-2-12,-5-14,1-4,-1-4,-3-10,-11-12,-11-14,-8-14,-6-8,-2-14,-3-18,-2-20,0 0,-72z"/>
<path fill="#67b331" d="M1052,991l32,1 22,3 16,2 32,8 22,2 24,2 26,0 20,-2 50,0 12,1 10,1 16,1 24,-1 22,-2 20,-4 36,-6 30,-4 16,-1 24,0 26,3 24,5 26,4 24,2 10,0 16,-2 62,-9 34,-4 14,0 22,2 70,11 26,2 12,0 15,-2 73,-12 14,0 16,0 0,59-14,0-6,1-32,9-16,7-12,7-10,8-6,7-8,14-4,6-4,3-4,1-24,0-4,0-2,-1-5,-7-9,-15-6,-7-14,-11-18,-10-12,-4-12,-3-22,-4-14,-1-12,1-22,4-12,4-12,5-16,9-8,5-6,6-6,7-9,16-3,4-2,1-6,1-24,0-4,-1-4,-4-10,-18-6,-7-8,-7-12,-7-12,-7-12,-4-30,-7-10,-2-14,2-24,5-12,4-14,6-12,6-8,6-5,5-9,13-4,5-4,2-8,-2-2,1-10,6-8,4-10,0-8,-2-8,-4-8,1-10,-1-16,4-16,1-18,-1-16,-3-10,0-8,0-12,4-10,1-10,-2-14,-9-10,1-4,-1-4,-4-10,-10-12,-11-12,-7-14,-7-10,-3-16,-2-16,-2-20,-1 0,-64z"/>
<path fill="#6bb42e" d="M1052,992l28,1 24,2 14,3 18,4 14,5 12,6 10,6 22,17 4,1 8,0 8,1 2,-1 6,-11 6,-8 8,-7 6,-2 8,-1 38,0 20,1 6,3 7,6 8,10 5,9 2,1 8,-1 8,0 2,-1 8,-6 14,-13 6,-5 6,-3 8,-4 10,-2 32,-6 40,-4 22,0 30,2 50,10 14,2 12,0 20,-1 72,-11 30,-3 14,0 22,2 72,11 24,2 22,-1 80,-13 12,0 16,0 0,48-14,0-8,1-32,10-9,4-27,23-8,10-10,18-4,3-4,2-24,0-4,-1-2,-1-4,-5-8,-15-6,-8-10,-9-21,-17-12,-4-41,-10-12,-1-12,1-23,6-13,4-9,4-21,17-8,8-6,8-10,18-4,3-4,2-24,0-6,-2-4,-4-9,-16-7,-10-10,-9-19,-15-4,-2-11,-4-23,-6-9,-2-10,-1-28,2-14,3-16,6-10,6-12,12-10,9-18,11-7,10-5,4-6,4-6,3-6,1-6,-1-6,-2-8,-4-10,1-10,-3-16,5-14,1-16,-1-16,-4-12,2-8,0-12,5-8,1-8,-2-8,-4-5,-4-9,-10-28,-19-16,-13-18,-10-15,-6-11,-2-16,-2-20,-1 0,-47z"/>
<path fill="#74b72e" d="M1052,993l30,1 22,2 14,3 14,3 14,5 16,8 32,24 4,0 8,0 8,1 2,0 2,-2 5,-10 7,-9 8,-7 6,-2 10,-1 32,0 20,1 6,3 8,7 6,8 6,10 2,2 2,0 8,-1 8,0 4,-1 7,-6 19,-17 10,-6 7,-3 11,-3 26,-4 42,-5 24,0 28,3 51,9 15,2 12,0 24,-2 86,-12 18,-1 28,2 70,11 26,2 12,0 14,-2 72,-11 12,-1 12,0 8,0 0,45-14,0-6,0-50,15-3,2-9,10-13,14-15,26-4,2-4,1-22,0-4,-1-2,-1-2,-3-9,-16-5,-7-16,-17-6,-7-4,-3-59,-14-13,-2-12,2-24,6-28,8-3,2-7,8-16,18-14,24-2,1-4,2-24,0-4,-1-2,-1-4,-5-7,-14-5,-7-16,-17-6,-7-4,-3-44,-12-10,-2-10,-1-24,1-8,1-17,5-13,6-9,6-11,11-6,5-22,15-6,9-6,6-4,2-6,3-6,1-6,-1-6,-1-8,-4-10,0-10,-4-2,-1-14,5-14,2-16,-1-16,-4-10,3-12,0-10,5-8,1-8,-1-6,-3-7,-6-7,-9-28,-19-17,-14-18,-10-15,-6-11,-2-17,-2-20,-1 0,-44z"/>
<path fill="#85bd2e" d="M1052,994l26,1 24,2 14,3 14,3 16,6 16,8 32,24 2,0 10,0 10,2 2,-1 7,-14 7,-8 8,-7 6,-2 10,-1 34,0 10,1 6,1 6,3 7,7 6,8 7,12 2,0 8,-1 10,0 3,-1 11,-8 12,-12 6,-4 10,-6 8,-4 10,-2 26,-4 38,-5 22,0 32,3 50,9 16,2 12,0 20,-1 88,-13 20,-1 34,3 70,11 20,1 24,-1 76,-12 12,-1 10,0 8,0 0,42-14,0-6,1-32,9-28,7-3,2-1,2-13,20-6,10-7,14-4,3-4,1-20,0-4,-1-3,-1-3,-4-11,-20-8,-12-8,-12-3,-2-7,-2-37,-8-27,-6-11,-1-14,2-60,15-3,2-1,2-15,22-10,20-3,4-4,1-4,1-22,-1-3,-1-2,-2-12,-22-9,-12-6,-10-4,-4-56,-14-10,-2-8,-1-22,1-10,1-16,5-14,6-10,6-11,12-7,6-22,14-6,10-4,4-4,3-6,2-4,1-6,0-6,-1-10,-5-10,0-5,-2-7,-6-2,1-4,3-6,2-8,2-8,1-16,-1-6,-2-8,-3-2,0-6,4-4,2-12,-1-10,5-8,1-8,-1-6,-3-6,-6-6,-8-30,-21-14,-11-17,-10-14,-6-9,-2-24,-4-20,0 0,-42z"/>
<path fill="#a0c82e" d="M1052,995l24,1 24,2 13,2 15,4 16,6 16,8 34,25 2,0 10,-1 12,3 2,-2 6,-13 6,-8 10,-8 6,-2 12,-1 28,0 10,1 6,1 6,3 8,7 7,9 5,11 2,2 2,0 8,-3 10,1 4,-1 10,-8 18,-16 10,-6 10,-5 12,-3 24,-4 30,-4 14,0 20,0 28,3 48,9 14,2 12,0 22,-1 70,-11 30,-3 14,0 22,2 72,11 24,2 24,-2 78,-12 12,0 16,0 0,40-14,0-6,0-36,10-30,6-7,2-2,2-2,2-14,32-2,8-3,3-4,1-18,0-5,-2-2,-2-2,-8-14,-32-2,-2-2,-2-7,-2-42,-7-34,-8-12,-2-12,2-42,10-26,5-7,2-2,2-2,2-14,32-2,8-2,2-5,2-18,0-4,-1-3,-3-2,-8-14,-32-2,-2-2,-2-7,-2-24,-4-42,-11-8,-1-8,0-22,1-8,1-20,6-12,5-8,5-18,18-22,14-7,10-5,5-4,3-6,2-6,1-4,-1-6,-2-6,-4-2,0-6,1-4,-1-6,-3-3,-5-1,-4-1,-12 0,-14-1,-4-2,-4-2,-2-4,-2-6,-1-3,1 9,10 3,6 1,8 0,6-2,6-3,6-5,4-5,2-7,1-8,0-8,-1-5,-2-3,-2-6,-9-2,-1-1,6-2,4-3,4-3,2-5,1-10,-1-10,5-8,2-8,-2-6,-3-4,-4-8,-10-30,-21-14,-11-16,-9-14,-6-10,-3-22,-3-22,-1 0,-39zM1253,1050l-3,2-2,4-2,6 2,3 4,-7 7,-8-3,-1z"/>
<path fill="#c1d533" d="M1052,996l24,1 22,2 12,2 14,3 17,6 16,8 9,6 28,21 12,-1 12,3 2,0 1,-1 5,-12 7,-10 9,-8 4,-2 4,-1 10,-1 26,0 10,1 7,1 7,5 8,7 6,9 5,11 1,1 2,0 10,-3 10,1 4,-1 10,-8 13,-12 7,-6 10,-6 9,-4 11,-3 24,-4 28,-3 16,-1 20,0 28,3 48,9 14,2 12,0 22,-1 70,-11 30,-3 12,0 20,2 76,11 24,2 12,0 14,-2 76,-12 12,0 16,0 0,37-18,0-46,12-20,3-20,2-26,-2-26,2-20,-2-26,-4-46,-10-10,-1-14,1-50,12-16,2-18,2-26,-2-26,2-16,-1-24,-4-50,-11-12,0-22,1-10,1-16,5-10,5-8,4-4,3-17,16-23,16-5,8-5,5-6,4-8,2-8,-1-12,-6-6,1-4,-1-4,-2-2,-2-2,-6-1,-28-3,-7-4,-4-6,-3-4,-1-14,-1-14,1-6,1-5,2-3,2-3,6-2,6-1,28-2,4-1,2-3,2-4,1-8,-1-2,0-10,6-8,1-6,-1-6,-3-6,-5-6,-8-31,-22-13,-10-18,-11-14,-6-10,-2-22,-3-22,-1 0,-37z"/>
<path fill="#d6dd34" d="M1052,996l26,2 22,2 13,2 13,4 17,6 15,8 36,26 10,-1 4,0 12,4 2,-2 5,-13 6,-8 9,-8 6,-3 4,-2 10,0 26,0 10,1 4,1 8,5 8,8 6,9 4,10 2,2 12,-4 10,1 4,-1 12,-9 18,-16 12,-8 10,-4 8,-2 22,-4 32,-4 12,-1 20,1 28,3 48,8 16,2 12,1 20,-1 71,-11 31,-3 26,1 86,13 20,1 22,-2 80,-12 12,-1 16,1 0,35-18,1-46,11-18,3-18,1-26,-2-32,2-20,-2-25,-3-45,-10-10,-1-14,1-50,12-16,2-14,1-30,-2-28,2-16,-1-22,-3-50,-11-14,0-22,1-10,2-14,4-10,4-8,5-6,4-16,16-22,14-6,10-4,4-6,4-8,2-8,-1-12,-7-8,2-4,-2-2,-2-2,-6-2,-28-3,-8-4,-4-5,-3-6,-2-14,-1-12,1-6,1-6,2-4,2-4,6-3,8-1,28-2,5-2,2-4,1-8,-2-2,1-10,6-8,1-6,-1-6,-3-5,-4-7,-9-30,-22-14,-11-16,-9-14,-6-10,-3-24,-3-22,-1 0,-36z"/>
<path fill="#e7e433" d="M1052,997l26,1 20,2 12,2 15,4 16,6 16,8 9,6 26,20 4,1 6,-1 6,0 12,5 2,-1 5,-14 7,-10 10,-8 4,-2 5,-2 11,-1 24,0 8,1 6,2 8,6 8,8 5,8 5,12 2,1 8,-4 4,-1 10,1 4,-1 12,-9 19,-17 11,-7 12,-5 8,-2 24,-4 26,-3 14,-1 18,0 32,3 52,10 22,2 22,-2 73,-11 25,-3 16,1 23,2 73,11 22,2 22,-2 82,-13 12,0 14,0 0,35-18,0-44,11-18,2-18,1-30,-1-30,1-20,-1-28,-3-42,-9-10,-2-14,2-50,11-16,2-14,0-30,-1-28,1-18,0-22,-3-48,-11-14,0-22,1-10,2-14,4-10,5-8,4-6,4-16,16-23,15-5,8-5,6-7,4-6,1-8,-1-12,-7-8,1-2,0-3,-2-1,-2-1,-4-2,-28-3,-8-4,-4-6,-4-6,-2-14,-1-12,1-8,1-6,3-4,3-3,5-3,8-1,26 0,4-2,2-2,2-3,1-8,-2-2,1-10,6-8,1-6,-1-6,-3-4,-3-5,-8-3,-3-30,-21-13,-10-17,-10-14,-6-10,-2-24,-4-22,-1 0,-34z"/>
<path fill="#f2e32d" d="M1052,997l22,1 19,2 14,2 15,4 17,6 17,9 8,5 28,21 4,1 6,-1 6,0 4,1 8,4 2,0 2,-2 4,-13 6,-9 4,-4 6,-5 6,-3 4,-1 8,-1 24,0 8,1 6,1 8,5 8,8 6,9 4,12 2,2 2,0 8,-4 4,-1 4,0 6,1 4,-1 12,-9 13,-12 7,-6 11,-6 11,-5 11,-3 19,-3 26,-3 16,-2 18,1 31,3 51,9 24,2 22,-1 63,-10 35,-4 14,0 20,2 76,11 24,2 24,-2 78,-12 12,-1 16,1 0,33-18,0-30,8-16,3-16,2-16,1-32,-2-30,2-20,-1-26,-3-44,-9-10,-1-14,1-50,11-14,2-14,0-32,-2-28,2-18,0-20,-3-50,-10-14,-1-22,1-10,2-16,5-10,5-8,4-4,3-17,16-23,16-5,8-5,6-6,3-6,1-4,0-6,-2-10,-6-8,1-4,-2-2,-5-1,-28-4,-8-5,-6-6,-3-6,-2-12,-1-12,1-8,0-6,2-6,5-3,4-2,4-2,6-1,26-2,5-4,3-2,0-6,-2-2,0-10,7-8,1-6,-1-6,-3-4,-4-6,-8-2,-2-29,-20-13,-10-18,-10-14,-6-10,-3-24,-4-22,-1 0,-33z"/>
<path fill="#f5d622" d="M1052,998l24,1 22,2 15,3 14,4 15,6 15,8 35,26 4,1 6,-2 6,1 4,1 10,5 2,-2 4,-14 6,-9 5,-5 5,-4 6,-3 4,-2 10,-1 22,0 10,2 6,2 8,6 8,9 4,7 4,12 2,2 12,-6 6,-1 8,1 2,0 13,-10 13,-12 6,-5 12,-7 10,-5 10,-2 14,-3 31,-4 15,-1 20,0 30,3 50,9 16,2 10,1 18,-1 69,-11 35,-4 12,0 16,2 80,12 24,2 12,-1 16,-2 74,-12 12,0 16,0 0,32-18,1-44,10-18,3-16,0-32,-1-30,1-22,0-26,-4-42,-9-10,-1-14,1-50,11-14,2-14,0-32,-1-28,1-18,0-22,-3-48,-10-14,0-22,1-10,2-14,4-10,4-10,5-5,4-17,16-22,15-5,9-5,5-6,3-6,2-6,-1-4,-1-10,-7-2,-1-4,2-2,0-3,-2-2,-4-2,-28-3,-8-5,-6-7,-4-6,-1-12,-2-12,1-10,1-6,3-4,3-4,5-3,6-1,4-1,26-1,4-2,2-2,0-2,0-6,-2-12,8-4,1-4,1-6,-1-5,-3-5,-4-6,-9-30,-21-14,-11-18,-10-14,-6-10,-3-24,-3-22,-1 0,-32z"/>
<path fill="#f7c81a" d="M1052,998l24,1 20,2 14,3 14,4 16,6 16,8 8,6 28,21 2,1 8,-2 6,1 6,2 8,5 2,1 1,-3 3,-12 2,-5 4,-6 4,-5 6,-5 6,-3 6,-2 12,-1 20,0 8,2 6,2 9,7 7,9 4,7 3,12 1,2 2,0 8,-6 4,-1 4,-1 8,1 4,0 14,-10 18,-17 10,-6 13,-6 9,-3 18,-3 28,-4 14,-1 21,1 29,3 46,8 16,2 14,2 20,-2 72,-11 28,-3 10,0 15,1 31,4 58,9 20,2 20,-2 82,-13 12,-1 16,1 0,31-18,0-44,10-16,2-18,1-32,-2-30,2-24,-1-26,-3-40,-9-10,-1-14,2-48,10-16,2-14,0-32,-2-28,2-18,0-20,-2-50,-11-14,0-22,1-12,3-14,4-10,4-8,4-6,5-16,15-22,15-6,10-4,4-6,3-6,2-6,-1-4,-1-12,-9-4,0-3,0-1,-2-3,-28-3,-8-6,-7-8,-4-6,-2-12,-1-12,1-8,1-6,1-6,4-5,5-4,10-3,28-1,2-1,1-2,0-4,-2-12,9-4,2-6,1-6,-1-4,-2-4,-4-8,-10-30,-21-14,-11-16,-9-16,-7-10,-3-24,-3-22,-1 0,-31z"/>
<path fill="#f6b81b" d="M1052,999l25,1 19,2 12,2 14,4 18,7 16,8 36,27 4,1 6,-2 4,0 4,1 4,2 6,4 7,8 1,10-1,6-2,6-7,8-6,4-6,2-8,-1-4,-2-3,-3-7,-9-2,-2-30,-21-12,-10-16,-9-16,-7-12,-3-24,-4-22,-1 0,-29zM1720,1000l14,-1 14,1 32,4 58,9 22,3 8,-1 16,-2 80,-13 10,0 16,0 0,30-18,0-44,10-16,2-18,1-32,-2-30,2-24,-1-26,-3-40,-8-10,-1-14,1-48,10-14,2-14,0-34,-2-28,2-20,0-20,-3-48,-9-12,-1-20,1-12,2-16,4-12,5-10,5-4,3-16,16-22,15-2,2-4,7-3,4-5,4-4,1-4,1-6,-1-4,-1-4,-3-5,-5-3,-4-1,-4-2,-6 0,-8 2,-6 11,-9 4,-2 4,-2 4,0 8,1 2,0 14,-10 14,-14 10,-7 18,-9 17,-4 39,-5 14,-1 12,0 38,4 52,9 14,2 10,1 22,-3 58,-9zM1264,1016l16,0 10,1 8,2 8,5 8,8 6,10 2,10-1,6-1,4-2,0-9,-14-4,-4-5,-3-8,-3-18,-1-16,1-10,4-3,2-4,4-9,14-2,0-2,-6 1,-10 3,-8 3,-6 5,-6 9,-6 5,-2z"/>
<path fill="#f4a71c" d="M1052,1000l20,0 18,2 18,3 14,4 18,7 15,8 7,5 30,23 4,0 8,-2 4,1 4,1 4,2 4,4 3,4 2,4 1,10-1,6-2,4-5,7-6,4-6,2-4,0-4,-1-6,-4-3,-4-4,-6-3,-2-30,-22-12,-9-16,-9-16,-7-12,-3-24,-4-22,-1 0,-28zM1464,1002l22,-1 19,1 29,4 64,11 10,0 100,-15 16,-2 12,0 49,6 75,11 8,0 94,-16 12,0 16,0 0,28-18,0-26,7-18,3-16,2-16,1-10,0-24,-3-30,3-24,-1-26,-3-40,-8-10,-1-14,1-48,10-14,1-14,1-10,0-24,-3-28,3-20,0-20,-3-48,-9-14,-1-22,2-12,2-14,4-10,4-10,5-5,4-17,16-21,14-2,2-4,8-5,5-6,3-6,1-6,-2-6,-4-5,-5-3,-8-1,-6 2,-8 3,-6 6,-6 4,-2 4,-2 4,0 8,2 4,-2 14,-10 12,-12 6,-5 10,-6 11,-5 9,-3 13,-3zM1260,1018l10,-1 10,0 10,1 6,2 7,4 8,8 4,8 1,6-2,1-10,-6-10,-4-20,-2-20,2-10,4-8,5-2,0 0,-4 2,-6 5,-8 8,-6 4,-2z"/>
<path fill="#f2961d" d="M1052,1000l22,1 16,2 18,3 14,4 16,6 16,9 8,5 30,23 2,1 10,-3 4,1 4,1 6,5 3,4 2,4 1,6 0,4-1,6-1,4-5,6-5,4-6,2-4,-1-4,-1-6,-4-8,-10-31,-22-13,-10-16,-9-16,-7-12,-3-24,-4-22,0 0,-27zM1476,1002l20,0 34,4 56,10 20,5 8,-2 14,-3 58,-10 32,-4 18,-1 14,1 55,8 35,6 20,5 44,-9 58,-10 12,-1 16,1 0,26-20,0-22,6-18,4-16,2-16,0-12,0-26,-5-26,5-12,0-14,0-26,-3-40,-8-10,-1-14,1-48,10-24,1-14,0-26,-5-24,5-22,0-20,-2-48,-9-14,-1-22,2-10,1-16,5-10,4-10,5-6,4-16,16-22,15-6,10-4,4-6,3-6,1-6,-2-6,-4-4,-6-2,-6-1,-8 1,-6 3,-6 5,-5 4,-2 4,-1 4,-1 8,2 4,-2 14,-10 12,-12 6,-5 10,-6 13,-6 11,-3 14,-3 24,-3zM1264,1020l14,-1 8,1 6,2 7,4 3,4 1,2-1,1-2,1-24,-1-28,1-2,-2 1,-2 3,-4 6,-4z"/>
<path fill="#f0841e" d="M1052,1001l22,1 17,2 17,3 14,4 18,7 14,8 38,28 2,1 10,-3 4,1 4,1 4,3 3,3 4,8 0,4 0,6-2,8-5,6-4,3-6,1-6,0-4,-2-4,-3-6,-9-2,-2-30,-21-12,-9-18,-10-16,-7-12,-3-24,-4-22,0 0,-25zM1728,1002l22,1 35,5 37,6 18,4 6,2 5,4 3,4-3,4-7,4-8,2-8,1-16,0-20,-2-24,-4-26,-5-12,-1-12,1-38,8-14,2-20,1-16,-1-6,-2-5,-2-4,-4-1,-2 1,-2 2,-2 6,-4 14,-4 42,-8 33,-5zM1460,1004l24,-1 18,1 32,4 43,8 14,4 4,2 4,4 1,2-1,2-5,4-4,2-8,2-22,1-20,-2-38,-8-12,-1-22,0-18,2-24,6-10,5-8,4-4,3-17,16-21,14-2,2-6,10-6,5-6,2-6,-1-6,-4-4,-4-3,-8-1,-4 0,-6 3,-8 4,-4 3,-3 4,-2 4,-1 10,2 4,-1 14,-10 18,-17 10,-7 12,-5 10,-4 9,-2zM1958,1004l14,-2 18,1 0,24-20,0-38,9-12,2-16,1-16,-1-10,-2-7,-4-2,-2-1,-2 0,-2 5,-4 9,-4 29,-6z"/>
<path fill="#ee721e" d="M1052,1002l28,2 24,3 17,5 20,8 17,10 34,26 2,0 8,-2 4,0 4,1 4,2 5,5 3,8 0,8-2,7-4,5-4,3-6,2-6,0-4,-2-3,-3-8,-10-9,-6-34,-26-16,-8-16,-7-12,-4-26,-4-22,0 0,-23zM1472,1004l23,0 34,4 31,6 16,4 6,2 3,2 4,4 0,2-1,2-4,4-10,3-16,0-18,-1-38,-8-12,-1-26,0-16,2-22,6-10,4-10,6-18,17-24,16-6,11-6,5-6,1-6,0-6,-4-4,-5-3,-8 1,-8 3,-8 3,-4 3,-2 3,-2 4,0 10,1 4,-1 16,-12 18,-16 9,-6 13,-6 10,-3 12,-3zM1716,1004l14,-1 16,1 44,6 24,4 22,6 4,2 1,2 2,4-3,4-2,2-6,2-12,1-14,0-16,-1-23,-4-25,-5-12,-1-12,1-34,7-16,2-18,1-14,-1-6,-2-2,-1-3,-3 0,-2 1,-4 6,-4 14,-4 28,-6zM1964,1004l10,-1 16,0 0,23-20,0-36,9-12,2-14,0-12,0-8,-2-7,-3-2,-4 0,-2 3,-4 4,-2 6,-2 36,-8z"/>
<path fill="#ed601e" d="M1052,1003l22,1 28,4 16,4 21,8 17,10 36,27 2,1 8,-3 4,0 4,1 4,2 4,5 3,7 0,8-2,6-3,5-4,3-6,2-6,-1-6,-3-8,-11-32,-23-10,-8-16,-9-18,-7-10,-3-24,-4-26,-2 0,-20zM1460,1006l20,-1 16,0 34,4 13,3 23,6 9,4 3,4 1,2-1,2-3,2-5,2-4,1-14,0-14,-1-36,-7-12,-2-24,1-18,2-24,7-10,4-8,4-21,19-21,14-2,3-5,9-5,4-6,2-6,-1-5,-3-3,-4-3,-8 0,-8 1,-4 2,-4 2,-2 4,-3 6,-2 4,0 6,2 4,-1 16,-12 12,-12 8,-6 18,-10 11,-4 8,-2zM1708,1006l18,-2 12,0 56,8 20,4 12,4 5,4 2,2 0,2-2,2-2,2-5,2-8,1-12,0-16,-1-14,-2-34,-7-12,0-10,1-44,8-16,1-12,-1-7,-2-3,-2-1,-2 0,-2 2,-2 6,-4 11,-4 17,-4zM1960,1006l12,-2 18,0 0,21-20,0-30,7-10,2-14,1-10,0-8,-1-5,-2-3,-2-1,-2 0,-2 4,-4 9,-4 23,-6z"/>
<path fill="#eb4a1e" d="M1052,1004l22,1 22,3 18,4 22,8 11,6 9,6 34,26 4,1 8,-3 4,0 4,1 4,3 4,6 2,6 0,6-2,5-3,5-5,4-4,1-6,-1-6,-4-5,-8-3,-3-42,-31-18,-9-14,-6-14,-4-26,-4-22,-1 0,-18zM1478,1006l14,0 19,2 19,3 15,3 13,4 7,4 3,4-1,2-2,2-4,2-5,1-14,0-20,-3-24,-5-10,-1-28,1-14,2-26,8-10,4-6,4-19,17-23,16-6,11-6,5-4,1-6,-1-4,-3-4,-5-2,-6 0,-8 2,-5 4,-5 4,-3 4,-1 4,1 6,1 4,-1 16,-10 20,-19 13,-8 14,-6 16,-4 25,-3zM1718,1006l12,-1 14,1 42,6 26,6 7,4 3,4 0,2-2,2-4,2-10,1-23,-1-14,-2-25,-5-14,-2-14,2-24,5-16,2-12,1-10,-1-5,-2-3,-2 0,-2 3,-4 7,-4 21,-6zM1968,1006l22,0 0,18-20,0-30,7-18,2-15,-1-4,-2-2,-2-1,-2 1,-2 5,-4 4,-2 22,-6z"/>
<path fill="#e9341d" d="M1052,1005l20,1 28,4 16,4 21,8 17,10 20,17 16,12 4,0 6,-3 4,0 4,0 4,2 4,5 2,5 0,8-2,6-3,4-5,3-4,0-5,-1-5,-4-6,-10-18,-13-22,-16-14,-8-24,-10-12,-3-16,-3-16,-2-16,0 0,-16zM1462,1008l32,-1 36,5 14,4 9,4 4,4 0,2-1,2-6,2-12,1-8,-1-34,-6-10,-1-30,1-16,3-24,8-14,7-18,16-22,16-2,2-4,9-2,3-3,2-5,1-4,0-4,-2-4,-4-2,-5-1,-8 1,-4 2,-4 4,-4 6,-2 4,0 6,2 2,0 4,-1 16,-11 18,-18 9,-6 11,-6 11,-4 8,-2zM1712,1008l14,-1 10,0 42,5 10,2 14,4 8,4 2,2 0,2-2,2-5,2-15,1-22,-3-28,-5-12,-1-10,1-34,7-12,1-8,-1-6,-2-2,-2 1,-2 1,-2 7,-4 11,-4 8,-2zM1962,1008l12,-1 16,0 0,15-20,1-22,5-18,3-13,-1-5,-2-2,-2 1,-2 1,-2 3,-2 9,-4 14,-4z"/>
<path fill="#e8201d" d="M1052,1007l23,1 27,4 15,4 16,6 11,6 8,6 22,21 12,8 4,2 2,0 8,-4 4,-1 4,0 3,2 3,3 2,5 1,6-1,5-2,3-4,4-6,1-4,-1-4,-2-1,-2-5,-9-14,-14-30,-18-26,-12-18,-6-24,-4-28,-2 0,-12zM1458,1010l18,-1 16,0 11,1 27,4 7,2 7,4 2,2 0,2-1,2-7,2-7,0-29,-5-16,-2-30,1-16,3-30,10-6,2-6,3-36,29-3,5-4,10-5,4-4,1-6,-1-3,-2-3,-4-1,-6 0,-6 3,-6 4,-3 2,-1 4,0 10,3 4,0 12,-6 6,-4 4,-4 13,-15 10,-8 10,-6 10,-4 7,-2 10,-2zM1710,1010l16,-2 10,0 42,6 14,4 6,4 1,2-2,2-5,2-12,0-15,-2-25,-5-12,0-10,1-34,6-10,0-5,-2-1,-2 0,-2 5,-4 11,-4zM1960,1010l14,-2 16,0 0,13-20,0-21,5-13,2-8,0-5,-2-1,-2 0,-2 2,-2 7,-4 7,-2z"/>
</g></g>
<path d="M148.3,744.2 v5.5M148.3,1271.8 v-5.5M223.8,744.2 v5.5M223.8,1271.8 v-5.5M299.2,744.2 v5.5M299.2,1271.8 v-5.5M374.7,744.2 v5.5M374.7,1271.8 v-5.5M450.2,744.2 v5.5M450.2,1271.8 v-5.5M525.6,744.2 v5.5M525.6,1271.8 v-5.5M601.1,744.2 v5.5M601.1,1271.8 v-5.5M110.6,1226 h5.5M638.8,1226 h-5.5M110.6,1117 h5.5M638.8,1117 h-5.5M110.6,1008 h5.5M638.8,1008 h-5.5M110.6,899 h5.5M638.8,899 h-5.5M110.6,790 h5.5M638.8,790 h-5.5" stroke="#000" stroke-width="2" fill="none"/>
<rect x="110.6" y="744.2" width="528.2" height="527.6" fill="none" stroke="#000" stroke-width="2.2"/>
<linearGradient id="cbc" x1="0" y1="1" x2="0" y2="0">
<stop offset="0" stop-color="#0c040a"/>
<stop offset="0.012" stop-color="#120810"/>
<stop offset="0.03" stop-color="#1A0C1C"/>
<stop offset="0.055" stop-color="#2A1830"/>
<stop offset="0.08" stop-color="#3E2748"/>
<stop offset="0.11" stop-color="#4C2866"/>
<stop offset="0.147" stop-color="#50248C"/>
<stop offset="0.1625" stop-color="#4A2C96"/>
<stop offset="0.19" stop-color="#3A389A"/>
<stop offset="0.228" stop-color="#2A45A0"/>
<stop offset="0.266" stop-color="#1E4FA4"/>
<stop offset="0.316" stop-color="#2058AC"/>
<stop offset="0.355" stop-color="#2870C0"/>
<stop offset="0.386" stop-color="#2C90D8"/>
<stop offset="0.416" stop-color="#2CB5EA"/>
<stop offset="0.447" stop-color="#62BEC8"/>
<stop offset="0.478" stop-color="#6CBE98"/>
<stop offset="0.5165" stop-color="#66B850"/>
<stop offset="0.576" stop-color="#66B337"/>
<stop offset="0.634" stop-color="#68B32E"/>
<stop offset="0.69" stop-color="#78B82E"/>
<stop offset="0.73" stop-color="#9AC52D"/>
<stop offset="0.768" stop-color="#CBD935"/>
<stop offset="0.8" stop-color="#F0E832"/>
<stop offset="0.826" stop-color="#F8CE1A"/>
<stop offset="0.865" stop-color="#F4A81C"/>
<stop offset="0.903" stop-color="#F0821E"/>
<stop offset="0.942" stop-color="#EC5A1E"/>
<stop offset="0.98" stop-color="#E8211D"/>
<stop offset="1" stop-color="#E71F1C"/>
</linearGradient>
<rect x="674" y="788.3" width="26.7" height="437.7" fill="url(#cbc)" stroke="#3a1a10" stroke-width="1"/>
<path d="M1062.2,745 V1271M1203.4,745 V1271M1485.7,745 V1271M1730.5,745 V1271M1975.3,745 V1271" stroke="#fff" stroke-width="2.6" stroke-dasharray="9.5 9.5" stroke-dashoffset="-3" fill="none"/>
<path d="M1146.9,744 v9.5M1146.9,1272 v-9.5M1231.6,744 v9.5M1231.6,1272 v-9.5M1316.3,744 v9.5M1316.3,1272 v-9.5M1401,744 v9.5M1401,1272 v-9.5M1583.7,744 v9.5M1583.7,1272 v-9.5M1681.6,744 v9.5M1681.6,1272 v-9.5M1779.5,744 v9.5M1779.5,1272 v-9.5M1877.4,744 v9.5M1877.4,1272 v-9.5" stroke="#fff" stroke-width="2.2" fill="none"/>
<path d="M1054.2,1201.5 h10M1982.3,1201.5 h-10M1054.2,1130.9 h10M1982.3,1130.9 h-10M1054.2,1060.4 h10M1982.3,1060.4 h-10M1054.2,989.8 h10M1982.3,989.8 h-10M1054.2,919.3 h10M1982.3,919.3 h-10M1054.2,848.8 h10M1982.3,848.8 h-10M1054.2,778.2 h10M1982.3,778.2 h-10" stroke="#000" stroke-width="2.2" fill="none"/>
<path d="M1054.2,744 V1272 H1982.3 V744 Z" fill="none" stroke="#000" stroke-width="2.4"/>
<linearGradient id="cbd" x1="0" y1="1" x2="0" y2="0">
<stop offset="0" stop-color="#0c040a"/>
<stop offset="0.012" stop-color="#120810"/>
<stop offset="0.03" stop-color="#1A0C1C"/>
<stop offset="0.055" stop-color="#2A1830"/>
<stop offset="0.08" stop-color="#3E2748"/>
<stop offset="0.11" stop-color="#4C2866"/>
<stop offset="0.147" stop-color="#50248C"/>
<stop offset="0.1625" stop-color="#4A2C96"/>
<stop offset="0.19" stop-color="#3A389A"/>
<stop offset="0.228" stop-color="#2A45A0"/>
<stop offset="0.266" stop-color="#1E4FA4"/>
<stop offset="0.316" stop-color="#2058AC"/>
<stop offset="0.355" stop-color="#2870C0"/>
<stop offset="0.386" stop-color="#2C90D8"/>
<stop offset="0.416" stop-color="#2CB5EA"/>
<stop offset="0.447" stop-color="#62BEC8"/>
<stop offset="0.478" stop-color="#6CBE98"/>
<stop offset="0.5165" stop-color="#66B850"/>
<stop offset="0.576" stop-color="#66B337"/>
<stop offset="0.634" stop-color="#68B32E"/>
<stop offset="0.69" stop-color="#78B82E"/>
<stop offset="0.73" stop-color="#9AC52D"/>
<stop offset="0.768" stop-color="#CBD935"/>
<stop offset="0.8" stop-color="#F0E832"/>
<stop offset="0.826" stop-color="#F8CE1A"/>
<stop offset="0.865" stop-color="#F4A81C"/>
<stop offset="0.903" stop-color="#F0821E"/>
<stop offset="0.942" stop-color="#EC5A1E"/>
<stop offset="0.98" stop-color="#E8211D"/>
<stop offset="1" stop-color="#E71F1C"/>
</linearGradient>
<rect x="2017.7" y="788.3" width="26.7" height="438" fill="url(#cbd)" stroke="#3a1a10" stroke-width="1"/>
<g id="txt" fill="#231815" font-size="32">
<g font-weight="bold" font-size="38">
<text x="23.8" y="28.8">a</text>
<text x="1046" y="27.7">b</text>
<text x="24.3" y="674.2">c</text>
<text x="1045.8" y="674">d</text>
</g>
<text x="957.6" y="105.2" text-anchor="end">3</text>
<text x="957.6" y="244.3" text-anchor="end">0</text>
<text x="957.2" y="387.9" text-anchor="end">-3</text>
<text transform="translate(905,241) rotate(-90)" text-anchor="middle">ω/<tspan font-style="italic">t</tspan></text>
<text x="984.5" y="422.5" text-anchor="middle" font-size="31">4<tspan font-family="'Liberation Serif',serif">π</tspan></text>
<path d="M966.5,428.9 H1003.5" stroke="#231815" stroke-width="1.6"/>
<text x="984.5" y="456.8" text-anchor="middle" font-size="31">3</text>
<path d="M950.5,428.9 H961.5" stroke="#231815" stroke-width="1.2"/>
<text x="1211.3" y="456" text-anchor="middle">0</text>
<text x="1162.5" y="496.8"><tspan font-style="italic">k</tspan><tspan font-size="18" dy="11">x</tspan></text>
<text x="1467.5" y="499.6" text-anchor="middle" font-size="31">4<tspan font-family="'Liberation Serif',serif">π</tspan></text>
<path d="M1449,505.2 H1487" stroke="#231815" stroke-width="1.6"/>
<text x="1467.5" y="533" text-anchor="middle" font-size="31">3</text>
<text x="1545.5" y="496" text-anchor="middle" font-size="31">2<tspan font-family="'Liberation Serif',serif">π</tspan></text>
<path d="M1523,503.3 H1568" stroke="#231815" stroke-width="1.6"/>
<text x="1525" y="534" font-size="31"><tspan font-size="31">√</tspan><tspan dx="0.5">3</tspan></text>
<path d="M1540.3,509.4 h20.5" stroke="#231815" stroke-width="1.5"/>
<path d="M1508,503.3 H1519" stroke="#231815" stroke-width="1.2"/>
<text x="1787.6" y="456" text-anchor="middle">0</text>
<text x="1824.4" y="491.2"><tspan font-style="italic">k</tspan><tspan font-size="18" dy="11">y</tspan></text>
<text x="2016.5" y="410" text-anchor="middle" font-size="31">2<tspan font-family="'Liberation Serif',serif">π</tspan></text>
<path d="M1993.7,415.9 H2039.2" stroke="#231815" stroke-width="1.6"/>
<text x="1996" y="448.8" font-size="31"><tspan font-size="31">√</tspan><tspan dx="0.5">3</tspan></text>
<path d="M2011.3,424.2 h20.5" stroke="#231815" stroke-width="1.5"/>
<text x="316.6" y="719.4" letter-spacing="0.3" word-spacing="2.5"><tspan font-family="'Liberation Serif',serif" font-size="30">ω</tspan> = 2.1<tspan font-style="italic">t</tspan></text>
<text x="92.6" y="797.7" text-anchor="end">1</text>
<text x="95.6" y="909.2" text-anchor="end">0.5</text>
<text x="95.6" y="1015" text-anchor="end">0</text>
<text x="95.6" y="1124.5" text-anchor="end">-0.5</text>
<text x="92.6" y="1232.6" text-anchor="end">-1</text>
<text x="170.57" y="1311" text-anchor="end">-0.6</text>
<text x="246.03" y="1311" text-anchor="end">-0.4</text>
<text x="321.49" y="1311" text-anchor="end">-0.2</text>
<text x="374.7" y="1311" text-anchor="middle">0</text>
<text x="472.41" y="1311" text-anchor="end">0.2</text>
<text x="547.87" y="1311" text-anchor="end">0.4</text>
<text x="623.33" y="1311" text-anchor="end">0.6</text>
<text x="375" y="1356" text-anchor="middle" letter-spacing="0.3" word-spacing="2.5">(<tspan font-style="italic">H</tspan>, <tspan font-style="italic">H</tspan>, 0) (r.l.u.)</text>
<text transform="translate(26.4,1007) rotate(-90)" text-anchor="middle" letter-spacing="0.3" word-spacing="2.5">(-<tspan font-style="italic">K</tspan>, <tspan font-style="italic">K</tspan>, 0) (r.l.u.)</text>
<text x="687.3" y="771.6" text-anchor="middle" letter-spacing="1">High</text>
<text x="688" y="1264.3" text-anchor="middle">Low</text>
<text transform="translate(731,1007.7) rotate(90)" text-anchor="middle" letter-spacing="0.3" word-spacing="2.5">Intensity (arb. unit)</text>
<text x="1043.2" y="720.6" fill="#e60012">M<tspan font-size="18" dy="11.5" dx="1.5">1</tspan></text>
<text x="1204.5" y="719.6" text-anchor="middle" fill="#00873c">K</text>
<text x="1470" y="721.4" fill="#1d2a75"><tspan font-family="'Liberation Serif',serif" font-size="33">Γ</tspan><tspan font-size="18" dy="11" dx="1">1</tspan></text>
<text x="1710" y="720.6" fill="#e60012">M<tspan font-size="18" dy="11.5" dx="1.5">2</tspan></text>
<text x="1960" y="721.5" fill="#1d2a75"><tspan font-family="'Liberation Serif',serif" font-size="33">Γ</tspan><tspan font-size="18" dy="11" dx="1">2</tspan></text>
<text x="1041.2" y="1280.8" text-anchor="end">0.2</text>
<text x="1041.2" y="1211.76" text-anchor="end">0.4</text>
<text x="1041.2" y="1141.22" text-anchor="end">0.6</text>
<text x="1041.2" y="1070.68" text-anchor="end">0.8</text>
<text x="1041.2" y="1000.14" text-anchor="end">1.0</text>
<text x="1041.2" y="929.6" text-anchor="end">1.2</text>
<text x="1041.2" y="859.06" text-anchor="end">1.4</text>
<text x="1041.2" y="788.52" text-anchor="end">1.6</text>
<text x="1062.2" y="1312" text-anchor="middle">0</text>
<text x="1146.9" y="1312" text-anchor="middle">-0.2</text>
<text x="1231.6" y="1312" text-anchor="middle">-0.4</text>
<text x="1316.3" y="1312" text-anchor="middle">-0.6</text>
<text x="1401" y="1312" text-anchor="middle">-0.8</text>
<text x="1484.2" y="1312" text-anchor="middle">-1</text>
<text x="1583.7" y="1312" text-anchor="middle">-0.8</text>
<text x="1681.6" y="1312" text-anchor="middle">-0.6</text>
<text x="1779.5" y="1312" text-anchor="middle">-0.4</text>
<text x="1877.4" y="1312" text-anchor="middle">-0.2</text>
<text x="1975.3" y="1312" text-anchor="middle">0</text>
<text x="1088.3" y="1356.1" letter-spacing="0.3" word-spacing="2.5">(1/2-<tspan font-style="italic">K</tspan>/2, <tspan font-style="italic">K</tspan>, 0) (r.l.u.)</text>
<text x="1730.6" y="1356.1" text-anchor="middle" letter-spacing="0.3" word-spacing="2.5">(1, <tspan font-style="italic">K</tspan>, 0) (r.l.u.)</text>
<text transform="translate(978.5,1006.5) rotate(-90)" text-anchor="middle">ω/6<tspan font-style="italic">t</tspan></text>
<text x="2031.7" y="771.5" text-anchor="middle" letter-spacing="1">High</text>
<text x="2031.2" y="1264.2" text-anchor="middle">Low</text>
<text transform="translate(2075,1007.7) rotate(90)" text-anchor="middle" letter-spacing="0.3" word-spacing="2.5">Intensity (arb. unit)</text>
</g>
</svg></body></html>
